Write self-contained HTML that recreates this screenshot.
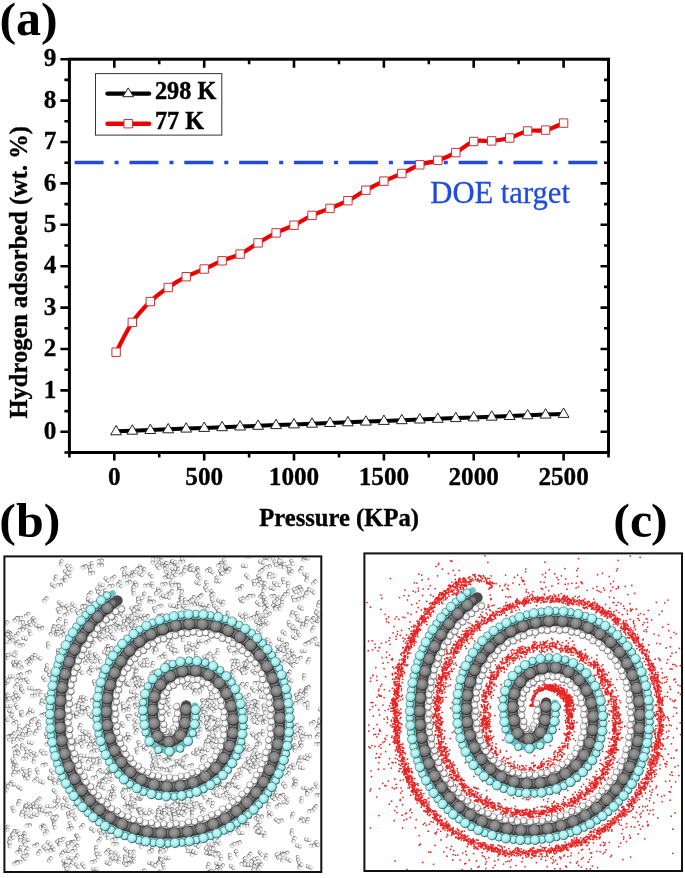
<!DOCTYPE html>
<html><head><meta charset="utf-8"><style>
html,body{margin:0;padding:0;background:#fff;width:685px;height:878px;overflow:hidden;}
svg{display:block;font-family:"Liberation Serif",serif;will-change:transform;filter:blur(0.4px);}
</style></head><body><svg width="685" height="878" viewBox="0 0 685 878"><line x1="74.6" y1="162.5" x2="607" y2="162.5" stroke="#1f4be0" stroke-width="3.7" stroke-dasharray="29 11 4 10.86"/>
<rect x="69.4" y="59.2" width="539.1" height="393.3" fill="none" stroke="#000" stroke-width="3"/>
<path d="M69.4,452.5V457.5M69.4,59.2V64.2M114.3,452.5V460.5M114.3,59.2V67.7M159.2,452.5V457.5M159.2,59.2V64.2M204.2,452.5V460.5M204.2,59.2V67.7M249.1,452.5V457.5M249.1,59.2V64.2M294,452.5V460.5M294,59.2V67.7M339,452.5V457.5M339,59.2V64.2M383.9,452.5V460.5M383.9,59.2V67.7M428.8,452.5V457.5M428.8,59.2V64.2M473.7,452.5V460.5M473.7,59.2V67.7M518.6,452.5V457.5M518.6,59.2V64.2M563.6,452.5V460.5M563.6,59.2V67.7M608.5,452.5V457.5M608.5,59.2V64.2M69.4,452.5H64.4M608.5,452.5H604M69.4,431.8H60.4M608.5,431.8H600.5M69.4,411.1H64.4M608.5,411.1H604M69.4,390.4H60.4M608.5,390.4H600.5M69.4,369.7H64.4M608.5,369.7H604M69.4,349H60.4M608.5,349H600.5M69.4,328.3H64.4M608.5,328.3H604M69.4,307.6H60.4M608.5,307.6H600.5M69.4,286.9H64.4M608.5,286.9H604M69.4,266.2H60.4M608.5,266.2H600.5M69.4,245.5H64.4M608.5,245.5H604M69.4,224.8H60.4M608.5,224.8H600.5M69.4,204.1H64.4M608.5,204.1H604M69.4,183.4H60.4M608.5,183.4H600.5M69.4,162.7H64.4M608.5,162.7H604M69.4,142H60.4M608.5,142H600.5M69.4,121.3H64.4M608.5,121.3H604M69.4,100.6H60.4M608.5,100.6H600.5M69.4,79.9H64.4M608.5,79.9H604M69.4,59.2H60.4M608.5,59.2H600.5" stroke="#000" stroke-width="2.6" fill="none"/>
<g font-family="Liberation Serif" font-weight="bold" font-size="24" fill="#000" stroke="#000" stroke-width="0.3"><text transform="translate(114.3,484.8) scale(1.05,1.04)" font-size="24" text-anchor="middle">0</text><text transform="translate(204.2,484.8) scale(1.05,1.04)" font-size="24" text-anchor="middle">500</text><text transform="translate(294,484.8) scale(1.05,1.04)" font-size="24" text-anchor="middle">1000</text><text transform="translate(383.9,484.8) scale(1.05,1.04)" font-size="24" text-anchor="middle">1500</text><text transform="translate(473.7,484.8) scale(1.05,1.04)" font-size="24" text-anchor="middle">2000</text><text transform="translate(563.6,484.8) scale(1.05,1.04)" font-size="24" text-anchor="middle">2500</text><text transform="translate(56.3,438.9) scale(1.05,1.05)" font-size="24" text-anchor="end">0</text><text transform="translate(56.3,397.5) scale(1.05,1.05)" font-size="24" text-anchor="end">1</text><text transform="translate(56.3,356.1) scale(1.05,1.05)" font-size="24" text-anchor="end">2</text><text transform="translate(56.3,314.7) scale(1.05,1.05)" font-size="24" text-anchor="end">3</text><text transform="translate(56.3,273.3) scale(1.05,1.05)" font-size="24" text-anchor="end">4</text><text transform="translate(56.3,231.9) scale(1.05,1.05)" font-size="24" text-anchor="end">5</text><text transform="translate(56.3,190.5) scale(1.05,1.05)" font-size="24" text-anchor="end">6</text><text transform="translate(56.3,149.1) scale(1.05,1.05)" font-size="24" text-anchor="end">7</text><text transform="translate(56.3,107.7) scale(1.05,1.05)" font-size="24" text-anchor="end">8</text><text transform="translate(56.3,66.3) scale(1.05,1.05)" font-size="24" text-anchor="end">9</text></g>
<g font-family="Liberation Serif" font-weight="bold" stroke="#000" stroke-width="0.35"><text transform="translate(339.1,525.5) scale(1.026,1.07)" font-size="24" text-anchor="middle">Pressure (KPa)</text></g>
<text transform="translate(27.3,272.3) rotate(-90) scale(1.022,1.08)" text-anchor="middle" font-family="Liberation Serif" font-weight="bold" font-size="24" stroke="#000" stroke-width="0.35">Hydrogen adsorbed (wt. %)</text>
<g font-family="Liberation Serif" fill="#1f4be0" stroke="#1f4be0" stroke-width="0.3"><text transform="translate(430.3,202.5) scale(1.02,1.05)" font-size="30">DOE target</text></g>
<path d="M116.1,431.3 132.3,430.7 150.3,430 168.2,429.3 186.2,428.6 204.2,427.9 222.1,427.2 240.1,426.5 258.1,425.8 276.1,425.1 294,424.4 312,423.7 330,423 347.9,422.3 365.9,421.6 383.9,420.9 401.8,420.2 419.8,419.5 437.8,418.8 455.8,418.1 473.7,417.4 491.7,416.7 509.7,416 527.6,415.3 545.6,414.6 563.6,413.9" stroke="#000" stroke-width="4" fill="none"/>
<path d="M116.1,425.4l5.4,9.4h-10.8zM132.3,424.8l5.4,9.4h-10.8zM150.3,424.1l5.4,9.4h-10.8zM168.2,423.4l5.4,9.4h-10.8zM186.2,422.7l5.4,9.4h-10.8zM204.2,422l5.4,9.4h-10.8zM222.1,421.3l5.4,9.4h-10.8zM240.1,420.6l5.4,9.4h-10.8zM258.1,419.9l5.4,9.4h-10.8zM276.1,419.2l5.4,9.4h-10.8zM294,418.5l5.4,9.4h-10.8zM312,417.8l5.4,9.4h-10.8zM330,417.1l5.4,9.4h-10.8zM347.9,416.4l5.4,9.4h-10.8zM365.9,415.7l5.4,9.4h-10.8zM383.9,415l5.4,9.4h-10.8zM401.8,414.3l5.4,9.4h-10.8zM419.8,413.6l5.4,9.4h-10.8zM437.8,412.9l5.4,9.4h-10.8zM455.8,412.2l5.4,9.4h-10.8zM473.7,411.5l5.4,9.4h-10.8zM491.7,410.8l5.4,9.4h-10.8zM509.7,410.1l5.4,9.4h-10.8zM527.6,409.4l5.4,9.4h-10.8zM545.6,408.7l5.4,9.4h-10.8zM563.6,408l5.4,9.4h-10.8z" fill="#fff" stroke="#222" stroke-width="1"/>
<path d="M116.1,352.2C118.8,347.2 126.6,330.8 132.3,322.4C138,314 144.3,307.4 150.3,301.6C156.3,295.8 162.2,291.6 168.2,287.5C174.2,283.4 180.2,279.8 186.2,276.7C192.2,273.6 198.2,271.6 204.2,269C210.2,266.4 216.2,263.3 222.1,260.8C228.1,258.3 234.1,257.1 240.1,254.1C246.1,251.1 252.1,246.4 258.1,242.9C264.1,239.4 270.1,235.9 276.1,232.9C282,229.9 288,228.1 294,225.2C300,222.3 306,218.2 312,215.4C318,212.6 324,210.9 330,208.4C336,205.9 341.9,203.7 347.9,200.7C353.9,197.7 359.9,193.5 365.9,190.2C371.9,186.9 377.9,183.9 383.9,181.1C389.9,178.3 395.9,176.2 401.8,173.5C407.8,170.8 413.8,167 419.8,164.8C425.8,162.6 431.8,162.4 437.8,160.4C443.8,158.4 449.8,155.8 455.8,152.6C461.7,149.4 467.7,143.4 473.7,141.5C479.7,139.6 485.7,141.5 491.7,140.9C497.7,140.3 503.7,139.7 509.7,138C515.7,136.3 521.6,132.3 527.6,131C533.6,129.7 539.6,131.4 545.6,130.1C551.6,128.8 560.6,124.3 563.6,123.1" stroke="#ee0000" stroke-width="4.2" fill="none" stroke-linejoin="round"/>
<path d="M111.9,348h8.4v8.4h-8.4zM128.1,318.2h8.4v8.4h-8.4zM146.1,297.4h8.4v8.4h-8.4zM164,283.3h8.4v8.4h-8.4zM182,272.5h8.4v8.4h-8.4zM200,264.8h8.4v8.4h-8.4zM217.9,256.6h8.4v8.4h-8.4zM235.9,249.9h8.4v8.4h-8.4zM253.9,238.7h8.4v8.4h-8.4zM271.9,228.7h8.4v8.4h-8.4zM289.8,221h8.4v8.4h-8.4zM307.8,211.2h8.4v8.4h-8.4zM325.8,204.2h8.4v8.4h-8.4zM343.7,196.5h8.4v8.4h-8.4zM361.7,186h8.4v8.4h-8.4zM379.7,176.9h8.4v8.4h-8.4zM397.6,169.3h8.4v8.4h-8.4zM415.6,160.6h8.4v8.4h-8.4zM433.6,156.2h8.4v8.4h-8.4zM451.6,148.4h8.4v8.4h-8.4zM469.5,137.3h8.4v8.4h-8.4zM487.5,136.7h8.4v8.4h-8.4zM505.5,133.8h8.4v8.4h-8.4zM523.4,126.8h8.4v8.4h-8.4zM541.4,125.9h8.4v8.4h-8.4zM559.4,118.9h8.4v8.4h-8.4z" fill="#fff" stroke="#cc3333" stroke-width="1"/>
<rect x="95.5" y="73.6" width="126.3" height="61.5" fill="#fff" stroke="#333" stroke-width="1"/>
<path d="M107.5,93.6H149.1" stroke="#000" stroke-width="4.4" stroke-linecap="round"/>
<path d="M128.2,87.9l5.4,8.8h-10.8z" fill="#fff" stroke="#222" stroke-width="1"/>
<path d="M107.5,123.7H149.1" stroke="#ee0000" stroke-width="4.4" stroke-linecap="round"/>
<path d="M124,119.5h8.4v8.4h-8.4z" fill="#fff" stroke="#cc3333" stroke-width="1"/>
<g font-family="Liberation Serif" font-weight="bold" stroke="#000" stroke-width="0.4"><text transform="translate(155,99.1) scale(1.01,1.06)" font-size="24">298 K</text><text transform="translate(155,129.3) scale(1.01,1.06)" font-size="24">77 K</text></g>
<g font-family="Liberation Serif" font-weight="bold"><text transform="translate(-0.5,34.5) scale(1.0,0.94)" font-size="50">(</text><text transform="translate(16.1,34.6) scale(1.0,1.0)" font-size="50">a</text><text transform="translate(41.1,34.5) scale(1.0,0.94)" font-size="50">)</text><text transform="translate(-0.7,535.6) scale(1.0,0.94)" font-size="50">(</text><text transform="translate(15.9,537.1) scale(1.0,0.953)" font-size="50">b</text><text transform="translate(43.8,535.6) scale(1.0,0.94)" font-size="50">)</text><text transform="translate(613.3,535.8) scale(1.0,0.94)" font-size="50">(</text><text transform="translate(629.9,536.8) scale(1.0,1.0)" font-size="50">c</text><text transform="translate(651.1,535.8) scale(1.0,0.94)" font-size="50">)</text></g><defs>
<radialGradient id="gc" cx="0.42" cy="0.4" r="0.6"><stop offset="0" stop-color="#d0fbfb"/><stop offset="0.6" stop-color="#a8eeee"/><stop offset="0.85" stop-color="#80cfd0"/><stop offset="1" stop-color="#225f62"/></radialGradient>
<radialGradient id="gg" cx="0.45" cy="0.4" r="0.6"><stop offset="0" stop-color="#a0a0a0"/><stop offset="0.6" stop-color="#7e7e7e"/><stop offset="0.85" stop-color="#626262"/><stop offset="1" stop-color="#262626"/></radialGradient>
<radialGradient id="gg2" cx="0.45" cy="0.4" r="0.6"><stop offset="0" stop-color="#8a8a8a"/><stop offset="0.6" stop-color="#6c6c6c"/><stop offset="1" stop-color="#353535"/></radialGradient>
<radialGradient id="gw" cx="0.45" cy="0.4" r="0.6"><stop offset="0" stop-color="#ffffff"/><stop offset="0.65" stop-color="#f2f2f2"/><stop offset="1" stop-color="#6e6e6e"/></radialGradient>
<circle id="ac" r="4.8" fill="url(#gc)" stroke="#1d5557" stroke-width="0.7" stroke-opacity="0.7"/>
<circle id="ac2" r="3.9" fill="url(#gc)" stroke="#1d5557" stroke-width="0.7" stroke-opacity="0.7"/>
<circle id="ag" r="5.9" fill="url(#gg)" stroke="#222" stroke-width="0.7" stroke-opacity="0.7"/>
<circle id="ag2" r="4.2" fill="url(#gg2)"/>
<circle id="aw" r="3.3" fill="url(#gw)" stroke="#555" stroke-width="0.6" stroke-opacity="0.6"/>
<radialGradient id="gm" cx="0.55" cy="0.4" r="0.6"><stop offset="0" stop-color="#ffffff"/><stop offset="0.45" stop-color="#ebebeb"/><stop offset="0.75" stop-color="#a8a8a8"/><stop offset="1" stop-color="#4a4a4a"/></radialGradient>
<g id="h2" fill="url(#gm)"><circle cx="-1.5" r="2.1"/><circle cx="1.5" r="2.1"/></g>
<clipPath id="cb"><rect x="5.4" y="557.4" width="314.9" height="313.6"/></clipPath>
<clipPath id="cc"><rect x="365.4" y="554.4" width="315.6" height="315.6"/></clipPath>
</defs>
<g clip-path="url(#cb)"><use href="#h2" transform="translate(128.3,738.1) rotate(91)"/><use href="#h2" transform="translate(172.7,563.1) rotate(148)"/><use href="#h2" transform="translate(181.7,561.7) rotate(170)"/><use href="#h2" transform="translate(173.5,561.6) rotate(12)"/><use href="#h2" transform="translate(176.2,564.6) rotate(30)"/><use href="#h2" transform="translate(159.5,758.8) rotate(118)"/><use href="#h2" transform="translate(87.8,732.2) rotate(14)"/><use href="#h2" transform="translate(170.2,592.8) rotate(0)"/><use href="#h2" transform="translate(253.3,733.7) rotate(11)"/><use href="#h2" transform="translate(258.4,691.6) rotate(179)"/><use href="#h2" transform="translate(160.7,563.5) rotate(35)"/><use href="#h2" transform="translate(277.4,855.9) rotate(64)"/><use href="#h2" transform="translate(24,857.6) rotate(43)"/><use href="#h2" transform="translate(25.6,855.6) rotate(174)"/><use href="#h2" transform="translate(61.1,626.7) rotate(23)"/><use href="#h2" transform="translate(61.6,627.2) rotate(8)"/><use href="#h2" transform="translate(125.9,859) rotate(105)"/><use href="#h2" transform="translate(6,623.4) rotate(138)"/><use href="#h2" transform="translate(208.4,728.2) rotate(19)"/><use href="#h2" transform="translate(260.3,816.9) rotate(168)"/><use href="#h2" transform="translate(69.9,857.8) rotate(10)"/><use href="#h2" transform="translate(324.1,767.2) rotate(178)"/><use href="#h2" transform="translate(47.9,743.6) rotate(149)"/><use href="#h2" transform="translate(94.6,682.7) rotate(66)"/><use href="#h2" transform="translate(186.1,648.3) rotate(81)"/><use href="#h2" transform="translate(30.8,658.5) rotate(135)"/><use href="#h2" transform="translate(273.2,574.9) rotate(37)"/><use href="#h2" transform="translate(270.8,575.2) rotate(49)"/><use href="#h2" transform="translate(173.9,561.9) rotate(19)"/><use href="#h2" transform="translate(161.2,558.8) rotate(79)"/><use href="#h2" transform="translate(312.8,591.4) rotate(42)"/><use href="#h2" transform="translate(158.4,872.7) rotate(140)"/><use href="#h2" transform="translate(158.1,876) rotate(128)"/><use href="#h2" transform="translate(242.1,599.8) rotate(123)"/><use href="#h2" transform="translate(290.7,660.6) rotate(58)"/><use href="#h2" transform="translate(12.4,640.2) rotate(4)"/><use href="#h2" transform="translate(324.7,797.8) rotate(51)"/><use href="#h2" transform="translate(14.6,763) rotate(37)"/><use href="#h2" transform="translate(142.8,815) rotate(177)"/><use href="#h2" transform="translate(139.5,810.2) rotate(46)"/><use href="#h2" transform="translate(151.2,810.9) rotate(34)"/><use href="#h2" transform="translate(132.3,852.6) rotate(142)"/><use href="#h2" transform="translate(253.3,718.6) rotate(123)"/><use href="#h2" transform="translate(35.8,732.2) rotate(110)"/><use href="#h2" transform="translate(259.6,630.7) rotate(34)"/><use href="#h2" transform="translate(274.1,795.7) rotate(127)"/><use href="#h2" transform="translate(273.2,798.2) rotate(36)"/><use href="#h2" transform="translate(89.8,568.5) rotate(83)"/><use href="#h2" transform="translate(84.2,567) rotate(159)"/><use href="#h2" transform="translate(91.8,564.9) rotate(82)"/><use href="#h2" transform="translate(30.6,752.9) rotate(72)"/><use href="#h2" transform="translate(24.8,758.6) rotate(179)"/><use href="#h2" transform="translate(106.7,638) rotate(145)"/><use href="#h2" transform="translate(263.1,550) rotate(119)"/><use href="#h2" transform="translate(266.1,557.9) rotate(8)"/><use href="#h2" transform="translate(46.8,666.8) rotate(95)"/><use href="#h2" transform="translate(296,736.5) rotate(99)"/><use href="#h2" transform="translate(295.3,728.2) rotate(150)"/><use href="#h2" transform="translate(206.4,704.5) rotate(88)"/><use href="#h2" transform="translate(292.1,613.9) rotate(107)"/><use href="#h2" transform="translate(296.7,599.8) rotate(174)"/><use href="#h2" transform="translate(8.3,681.2) rotate(111)"/><use href="#h2" transform="translate(18.1,679.2) rotate(142)"/><use href="#h2" transform="translate(308.5,660.7) rotate(118)"/><use href="#h2" transform="translate(299.2,658.5) rotate(156)"/><use href="#h2" transform="translate(242.3,668.9) rotate(155)"/><use href="#h2" transform="translate(58.2,651.7) rotate(83)"/><use href="#h2" transform="translate(184.3,808) rotate(55)"/><use href="#h2" transform="translate(176.4,813.4) rotate(163)"/><use href="#h2" transform="translate(182.6,813.8) rotate(49)"/><use href="#h2" transform="translate(181.5,806.3) rotate(36)"/><use href="#h2" transform="translate(28.3,825.5) rotate(177)"/><use href="#h2" transform="translate(125.4,863.8) rotate(39)"/><use href="#h2" transform="translate(203.8,756.7) rotate(150)"/><use href="#h2" transform="translate(93.2,760.2) rotate(73)"/><use href="#h2" transform="translate(46.5,735.3) rotate(72)"/><use href="#h2" transform="translate(62.7,806.4) rotate(85)"/><use href="#h2" transform="translate(67.7,806.1) rotate(26)"/><use href="#h2" transform="translate(69.8,843.2) rotate(143)"/><use href="#h2" transform="translate(73.8,850.6) rotate(152)"/><use href="#h2" transform="translate(293,655.2) rotate(61)"/><use href="#h2" transform="translate(261.4,595.4) rotate(129)"/><use href="#h2" transform="translate(260.9,584.1) rotate(121)"/><use href="#h2" transform="translate(292.5,815.2) rotate(110)"/><use href="#h2" transform="translate(212.1,592.4) rotate(65)"/><use href="#h2" transform="translate(203,607.9) rotate(173)"/><use href="#h2" transform="translate(132.4,691.8) rotate(12)"/><use href="#h2" transform="translate(90.4,672.2) rotate(71)"/><use href="#h2" transform="translate(89.5,670.9) rotate(127)"/><use href="#h2" transform="translate(134.5,609.8) rotate(88)"/><use href="#h2" transform="translate(140.2,604.1) rotate(106)"/><use href="#h2" transform="translate(99.6,840) rotate(128)"/><use href="#h2" transform="translate(160.4,850.5) rotate(106)"/><use href="#h2" transform="translate(132.6,615.7) rotate(161)"/><use href="#h2" transform="translate(296.6,696.3) rotate(78)"/><use href="#h2" transform="translate(98.8,853.4) rotate(30)"/><use href="#h2" transform="translate(96.2,848.6) rotate(96)"/><use href="#h2" transform="translate(173.5,804.6) rotate(145)"/><use href="#h2" transform="translate(183,807.6) rotate(161)"/><use href="#h2" transform="translate(300.6,744.2) rotate(72)"/><use href="#h2" transform="translate(90.1,736.6) rotate(44)"/><use href="#h2" transform="translate(230.1,856.6) rotate(80)"/><use href="#h2" transform="translate(284.8,784.7) rotate(58)"/><use href="#h2" transform="translate(19.8,787.7) rotate(30)"/><use href="#h2" transform="translate(12.6,783.3) rotate(45)"/><use href="#h2" transform="translate(280,660) rotate(6)"/><use href="#h2" transform="translate(215.1,792.2) rotate(108)"/><use href="#h2" transform="translate(227.7,614.4) rotate(90)"/><use href="#h2" transform="translate(108.5,654.8) rotate(103)"/><use href="#h2" transform="translate(164.9,565) rotate(158)"/><use href="#h2" transform="translate(141.1,567.2) rotate(34)"/><use href="#h2" transform="translate(135.5,705.8) rotate(68)"/><use href="#h2" transform="translate(16.9,772.4) rotate(171)"/><use href="#h2" transform="translate(13.5,773.4) rotate(110)"/><use href="#h2" transform="translate(14,766) rotate(106)"/><use href="#h2" transform="translate(219.4,784.1) rotate(144)"/><use href="#h2" transform="translate(218.7,787.8) rotate(161)"/><use href="#h2" transform="translate(256.7,713.4) rotate(86)"/><use href="#h2" transform="translate(256,706.4) rotate(61)"/><use href="#h2" transform="translate(248.4,708.6) rotate(116)"/><use href="#h2" transform="translate(163.3,811.6) rotate(6)"/><use href="#h2" transform="translate(112.2,858.6) rotate(144)"/><use href="#h2" transform="translate(128.9,716.5) rotate(153)"/><use href="#h2" transform="translate(296.2,726.1) rotate(131)"/><use href="#h2" transform="translate(68.5,815.1) rotate(76)"/><use href="#h2" transform="translate(75.9,806.5) rotate(166)"/><use href="#h2" transform="translate(73.4,812.3) rotate(85)"/><use href="#h2" transform="translate(82,826.3) rotate(134)"/><use href="#h2" transform="translate(74.7,817.2) rotate(64)"/><use href="#h2" transform="translate(258.1,735.2) rotate(148)"/><use href="#h2" transform="translate(258.2,744) rotate(172)"/><use href="#h2" transform="translate(169.8,647.2) rotate(36)"/><use href="#h2" transform="translate(173,647.5) rotate(87)"/><use href="#h2" transform="translate(82.5,739.7) rotate(139)"/><use href="#h2" transform="translate(230.5,784.7) rotate(123)"/><use href="#h2" transform="translate(229.8,786.4) rotate(159)"/><use href="#h2" transform="translate(263.1,732.9) rotate(81)"/><use href="#h2" transform="translate(262.8,721.3) rotate(87)"/><use href="#h2" transform="translate(123.2,791.1) rotate(117)"/><use href="#h2" transform="translate(168.1,573) rotate(45)"/><use href="#h2" transform="translate(173.9,569) rotate(1)"/><use href="#h2" transform="translate(89.4,657.1) rotate(44)"/><use href="#h2" transform="translate(301,569.6) rotate(120)"/><use href="#h2" transform="translate(306.7,578.8) rotate(102)"/><use href="#h2" transform="translate(274.2,606.6) rotate(54)"/><use href="#h2" transform="translate(95.1,741.2) rotate(113)"/><use href="#h2" transform="translate(21.2,688.1) rotate(93)"/><use href="#h2" transform="translate(101.2,781.2) rotate(5)"/><use href="#h2" transform="translate(98.2,786.3) rotate(111)"/><use href="#h2" transform="translate(277.7,652.5) rotate(109)"/><use href="#h2" transform="translate(278.5,647.8) rotate(47)"/><use href="#h2" transform="translate(313.1,620.6) rotate(84)"/><use href="#h2" transform="translate(279.4,607.3) rotate(81)"/><use href="#h2" transform="translate(298.4,587.7) rotate(151)"/><use href="#h2" transform="translate(264.3,584.5) rotate(111)"/><use href="#h2" transform="translate(264.1,589) rotate(111)"/><use href="#h2" transform="translate(306.9,619.6) rotate(100)"/><use href="#h2" transform="translate(110.5,652.1) rotate(125)"/><use href="#h2" transform="translate(217.6,651.5) rotate(96)"/><use href="#h2" transform="translate(11.4,676.4) rotate(2)"/><use href="#h2" transform="translate(13.8,760.6) rotate(39)"/><use href="#h2" transform="translate(45.4,599.6) rotate(135)"/><use href="#h2" transform="translate(18.8,802.6) rotate(114)"/><use href="#h2" transform="translate(194.7,753.5) rotate(22)"/><use href="#h2" transform="translate(162.6,851.7) rotate(168)"/><use href="#h2" transform="translate(221.1,564.4) rotate(96)"/><use href="#h2" transform="translate(224.3,572.8) rotate(137)"/><use href="#h2" transform="translate(93.2,861.8) rotate(165)"/><use href="#h2" transform="translate(165.1,655.4) rotate(74)"/><use href="#h2" transform="translate(145.4,748.5) rotate(137)"/><use href="#h2" transform="translate(101.2,584.7) rotate(13)"/><use href="#h2" transform="translate(24.7,638.3) rotate(11)"/><use href="#h2" transform="translate(249.6,748.2) rotate(5)"/><use href="#h2" transform="translate(80.5,757.2) rotate(74)"/><use href="#h2" transform="translate(190.6,765.7) rotate(166)"/><use href="#h2" transform="translate(38.7,724.3) rotate(43)"/><use href="#h2" transform="translate(256.8,817.2) rotate(132)"/><use href="#h2" transform="translate(311.4,790.2) rotate(136)"/><use href="#h2" transform="translate(307.4,793) rotate(91)"/><use href="#h2" transform="translate(128.1,684.5) rotate(14)"/><use href="#h2" transform="translate(206,708.4) rotate(57)"/><use href="#h2" transform="translate(107.2,647.5) rotate(126)"/><use href="#h2" transform="translate(275.9,607.1) rotate(114)"/><use href="#h2" transform="translate(276.3,600.4) rotate(118)"/><use href="#h2" transform="translate(6.8,697.3) rotate(8)"/><use href="#h2" transform="translate(8.9,706.1) rotate(1)"/><use href="#h2" transform="translate(210.4,718.4) rotate(63)"/><use href="#h2" transform="translate(304.3,558.2) rotate(119)"/><use href="#h2" transform="translate(306,557.8) rotate(19)"/><use href="#h2" transform="translate(150.8,862.9) rotate(0)"/><use href="#h2" transform="translate(22.5,690.6) rotate(54)"/><use href="#h2" transform="translate(318.1,795.2) rotate(172)"/><use href="#h2" transform="translate(198.3,644.2) rotate(115)"/><use href="#h2" transform="translate(198.7,692.7) rotate(163)"/><use href="#h2" transform="translate(253.1,689.3) rotate(51)"/><use href="#h2" transform="translate(246.4,685.5) rotate(116)"/><use href="#h2" transform="translate(250.9,762.2) rotate(96)"/><use href="#h2" transform="translate(249.9,762.6) rotate(41)"/><use href="#h2" transform="translate(256.4,755.3) rotate(167)"/><use href="#h2" transform="translate(96.1,761.6) rotate(104)"/><use href="#h2" transform="translate(97.7,760) rotate(127)"/><use href="#h2" transform="translate(240.9,587.2) rotate(134)"/><use href="#h2" transform="translate(88.8,760.7) rotate(126)"/><use href="#h2" transform="translate(21.1,645.4) rotate(166)"/><use href="#h2" transform="translate(176.9,583.9) rotate(17)"/><use href="#h2" transform="translate(92.8,751.3) rotate(141)"/><use href="#h2" transform="translate(96.3,749) rotate(69)"/><use href="#h2" transform="translate(33.4,719.6) rotate(151)"/><use href="#h2" transform="translate(278.1,805.9) rotate(145)"/><use href="#h2" transform="translate(175.7,606.5) rotate(17)"/><use href="#h2" transform="translate(184.1,606.5) rotate(138)"/><use href="#h2" transform="translate(135.1,726.8) rotate(70)"/><use href="#h2" transform="translate(136.5,731.5) rotate(127)"/><use href="#h2" transform="translate(318.8,603.9) rotate(105)"/><use href="#h2" transform="translate(246.6,615.1) rotate(31)"/><use href="#h2" transform="translate(241.1,615.6) rotate(38)"/><use href="#h2" transform="translate(145.2,660.1) rotate(164)"/><use href="#h2" transform="translate(315.2,807.4) rotate(130)"/><use href="#h2" transform="translate(310.6,811) rotate(168)"/><use href="#h2" transform="translate(212.4,717.4) rotate(41)"/><use href="#h2" transform="translate(294,628) rotate(67)"/><use href="#h2" transform="translate(291.4,626.2) rotate(51)"/><use href="#h2" transform="translate(294.4,631.1) rotate(177)"/><use href="#h2" transform="translate(299,620.1) rotate(20)"/><use href="#h2" transform="translate(309.2,866.8) rotate(22)"/><use href="#h2" transform="translate(300.2,866.1) rotate(114)"/><use href="#h2" transform="translate(269.4,814.7) rotate(110)"/><use href="#h2" transform="translate(207.9,853.4) rotate(15)"/><use href="#h2" transform="translate(207.5,849.1) rotate(25)"/><use href="#h2" transform="translate(191.5,649) rotate(4)"/><use href="#h2" transform="translate(196.2,654.5) rotate(86)"/><use href="#h2" transform="translate(87.1,606.2) rotate(16)"/><use href="#h2" transform="translate(84.3,607.7) rotate(113)"/><use href="#h2" transform="translate(71.1,609.1) rotate(53)"/><use href="#h2" transform="translate(152.3,584.9) rotate(77)"/><use href="#h2" transform="translate(146.3,585.6) rotate(175)"/><use href="#h2" transform="translate(90.6,654) rotate(79)"/><use href="#h2" transform="translate(178.9,587.7) rotate(82)"/><use href="#h2" transform="translate(170.9,592.4) rotate(127)"/><use href="#h2" transform="translate(180.1,590.9) rotate(179)"/><use href="#h2" transform="translate(142,679.9) rotate(68)"/><use href="#h2" transform="translate(138.8,680.7) rotate(130)"/><use href="#h2" transform="translate(264.5,720.2) rotate(56)"/><use href="#h2" transform="translate(206,657) rotate(15)"/><use href="#h2" transform="translate(304.5,733.7) rotate(25)"/><use href="#h2" transform="translate(289.1,673) rotate(123)"/><use href="#h2" transform="translate(107.4,851.4) rotate(136)"/><use href="#h2" transform="translate(55.7,632.9) rotate(76)"/><use href="#h2" transform="translate(259,756) rotate(153)"/><use href="#h2" transform="translate(256.4,760.9) rotate(146)"/><use href="#h2" transform="translate(200.7,688.9) rotate(133)"/><use href="#h2" transform="translate(200.8,689.4) rotate(151)"/><use href="#h2" transform="translate(212.2,849) rotate(11)"/><use href="#h2" transform="translate(174.1,573.9) rotate(44)"/><use href="#h2" transform="translate(166.2,577.1) rotate(156)"/><use href="#h2" transform="translate(306.8,643.5) rotate(147)"/><use href="#h2" transform="translate(160.9,859.1) rotate(52)"/><use href="#h2" transform="translate(238.5,842.8) rotate(163)"/><use href="#h2" transform="translate(15,754.5) rotate(82)"/><use href="#h2" transform="translate(300.5,692.3) rotate(94)"/><use href="#h2" transform="translate(279.7,562.3) rotate(119)"/><use href="#h2" transform="translate(279.6,565.5) rotate(150)"/><use href="#h2" transform="translate(275.2,563.1) rotate(66)"/><use href="#h2" transform="translate(14.2,664.1) rotate(90)"/><use href="#h2" transform="translate(14.2,663.7) rotate(55)"/><use href="#h2" transform="translate(248.4,597) rotate(130)"/><use href="#h2" transform="translate(136.7,705.1) rotate(163)"/><use href="#h2" transform="translate(112.9,857.8) rotate(62)"/><use href="#h2" transform="translate(168.5,645.5) rotate(118)"/><use href="#h2" transform="translate(76.7,715.3) rotate(114)"/><use href="#h2" transform="translate(67.2,876.3) rotate(165)"/><use href="#h2" transform="translate(67.1,872.3) rotate(12)"/><use href="#h2" transform="translate(25.3,807) rotate(100)"/><use href="#h2" transform="translate(206.7,583.7) rotate(69)"/><use href="#h2" transform="translate(-2.8,727.6) rotate(137)"/><use href="#h2" transform="translate(81.5,610.4) rotate(148)"/><use href="#h2" transform="translate(249,711.8) rotate(96)"/><use href="#h2" transform="translate(6.9,784.7) rotate(6)"/><use href="#h2" transform="translate(130.9,617.8) rotate(139)"/><use href="#h2" transform="translate(84.8,732.6) rotate(45)"/><use href="#h2" transform="translate(207.5,722.7) rotate(22)"/><use href="#h2" transform="translate(207.2,724) rotate(25)"/><use href="#h2" transform="translate(53.2,848.3) rotate(55)"/><use href="#h2" transform="translate(58.2,842.9) rotate(59)"/><use href="#h2" transform="translate(255.8,754.1) rotate(33)"/><use href="#h2" transform="translate(153.9,561.6) rotate(141)"/><use href="#h2" transform="translate(154.6,558.8) rotate(177)"/><use href="#h2" transform="translate(17.9,695.7) rotate(33)"/><use href="#h2" transform="translate(167.9,596.5) rotate(37)"/><use href="#h2" transform="translate(171.8,605.6) rotate(5)"/><use href="#h2" transform="translate(133.5,621.5) rotate(146)"/><use href="#h2" transform="translate(49,843.4) rotate(34)"/><use href="#h2" transform="translate(109.2,772.8) rotate(116)"/><use href="#h2" transform="translate(152.4,767.2) rotate(72)"/><use href="#h2" transform="translate(156.1,767.7) rotate(40)"/><use href="#h2" transform="translate(237.1,786.7) rotate(21)"/><use href="#h2" transform="translate(231.2,796.8) rotate(5)"/><use href="#h2" transform="translate(227.6,792.9) rotate(45)"/><use href="#h2" transform="translate(225.6,788.2) rotate(128)"/><use href="#h2" transform="translate(229.7,797.7) rotate(70)"/><use href="#h2" transform="translate(22.4,680.3) rotate(167)"/><use href="#h2" transform="translate(19.5,675.1) rotate(160)"/><use href="#h2" transform="translate(255.5,748.6) rotate(122)"/><use href="#h2" transform="translate(253.8,756) rotate(45)"/><use href="#h2" transform="translate(102.2,634.2) rotate(164)"/><use href="#h2" transform="translate(99.6,638.2) rotate(51)"/><use href="#h2" transform="translate(138.8,568.5) rotate(161)"/><use href="#h2" transform="translate(152.8,664.4) rotate(104)"/><use href="#h2" transform="translate(152.8,672.9) rotate(146)"/><use href="#h2" transform="translate(201.3,806.6) rotate(80)"/><use href="#h2" transform="translate(191.8,810.4) rotate(91)"/><use href="#h2" transform="translate(140.7,677.6) rotate(14)"/><use href="#h2" transform="translate(138.4,685) rotate(30)"/><use href="#h2" transform="translate(77,705.1) rotate(166)"/><use href="#h2" transform="translate(79.5,708.5) rotate(137)"/><use href="#h2" transform="translate(298.7,845.9) rotate(19)"/><use href="#h2" transform="translate(291.9,832.1) rotate(97)"/><use href="#h2" transform="translate(136.6,678.5) rotate(57)"/><use href="#h2" transform="translate(43.1,714.7) rotate(157)"/><use href="#h2" transform="translate(9.6,844.6) rotate(83)"/><use href="#h2" transform="translate(307.7,706.3) rotate(76)"/><use href="#h2" transform="translate(321.5,709.4) rotate(3)"/><use href="#h2" transform="translate(103.7,780) rotate(173)"/><use href="#h2" transform="translate(233.6,660.8) rotate(174)"/><use href="#h2" transform="translate(235.4,652.8) rotate(162)"/><use href="#h2" transform="translate(249.6,855) rotate(128)"/><use href="#h2" transform="translate(245,860.1) rotate(81)"/><use href="#h2" transform="translate(58,800.9) rotate(129)"/><use href="#h2" transform="translate(317.6,735.8) rotate(124)"/><use href="#h2" transform="translate(15.5,833.4) rotate(106)"/><use href="#h2" transform="translate(9.6,840.2) rotate(95)"/><use href="#h2" transform="translate(259.3,576.9) rotate(56)"/><use href="#h2" transform="translate(261.2,571.1) rotate(143)"/><use href="#h2" transform="translate(25.4,774.9) rotate(11)"/><use href="#h2" transform="translate(26.7,777.8) rotate(160)"/><use href="#h2" transform="translate(233.6,784.7) rotate(9)"/><use href="#h2" transform="translate(283.4,852.8) rotate(9)"/><use href="#h2" transform="translate(263.2,569.4) rotate(143)"/><use href="#h2" transform="translate(13.2,809.4) rotate(69)"/><use href="#h2" transform="translate(29.7,805.1) rotate(54)"/><use href="#h2" transform="translate(218.8,841.9) rotate(62)"/><use href="#h2" transform="translate(142.6,809.9) rotate(33)"/><use href="#h2" transform="translate(139.1,811) rotate(66)"/><use href="#h2" transform="translate(199.4,724) rotate(153)"/><use href="#h2" transform="translate(105.4,628.9) rotate(142)"/><use href="#h2" transform="translate(189.2,601.7) rotate(148)"/><use href="#h2" transform="translate(181,599.8) rotate(73)"/><use href="#h2" transform="translate(110.3,791.6) rotate(175)"/><use href="#h2" transform="translate(110.9,795.6) rotate(106)"/><use href="#h2" transform="translate(7.4,633.1) rotate(129)"/><use href="#h2" transform="translate(8.9,634.1) rotate(156)"/><use href="#h2" transform="translate(71.3,813.4) rotate(82)"/><use href="#h2" transform="translate(256.4,703.1) rotate(76)"/><use href="#h2" transform="translate(247.8,696.1) rotate(136)"/><use href="#h2" transform="translate(93.3,699.6) rotate(149)"/><use href="#h2" transform="translate(51,778) rotate(14)"/><use href="#h2" transform="translate(212.7,735.8) rotate(3)"/><use href="#h2" transform="translate(212.1,736.5) rotate(168)"/><use href="#h2" transform="translate(210.9,735.5) rotate(7)"/><use href="#h2" transform="translate(233.4,670.9) rotate(139)"/><use href="#h2" transform="translate(143.9,595.2) rotate(106)"/><use href="#h2" transform="translate(5.7,684.3) rotate(120)"/><use href="#h2" transform="translate(124.2,797.1) rotate(39)"/><use href="#h2" transform="translate(201.5,748.4) rotate(3)"/><use href="#h2" transform="translate(261.5,620) rotate(8)"/><use href="#h2" transform="translate(266.7,622.4) rotate(49)"/><use href="#h2" transform="translate(257.2,614.7) rotate(103)"/><use href="#h2" transform="translate(261.8,618.9) rotate(59)"/><use href="#h2" transform="translate(268.6,614.5) rotate(144)"/><use href="#h2" transform="translate(128.3,582.5) rotate(159)"/><use href="#h2" transform="translate(135.9,583.9) rotate(52)"/><use href="#h2" transform="translate(109.5,770) rotate(34)"/><use href="#h2" transform="translate(140.2,597.9) rotate(9)"/><use href="#h2" transform="translate(138.2,600.4) rotate(81)"/><use href="#h2" transform="translate(187.4,806) rotate(23)"/><use href="#h2" transform="translate(301.6,799.8) rotate(94)"/><use href="#h2" transform="translate(265.4,606.1) rotate(137)"/><use href="#h2" transform="translate(263.9,598.2) rotate(28)"/><use href="#h2" transform="translate(266,610.5) rotate(127)"/><use href="#h2" transform="translate(156.6,864.2) rotate(147)"/><use href="#h2" transform="translate(184.6,607.2) rotate(44)"/><use href="#h2" transform="translate(211.4,853.5) rotate(28)"/><use href="#h2" transform="translate(213.6,847.1) rotate(116)"/><use href="#h2" transform="translate(216.1,854.3) rotate(98)"/><use href="#h2" transform="translate(218.1,611.6) rotate(78)"/><use href="#h2" transform="translate(219.7,601.1) rotate(30)"/><use href="#h2" transform="translate(213.2,602) rotate(67)"/><use href="#h2" transform="translate(218,609.2) rotate(62)"/><use href="#h2" transform="translate(41.8,781.8) rotate(17)"/><use href="#h2" transform="translate(308.4,736.8) rotate(176)"/><use href="#h2" transform="translate(30.3,815.9) rotate(20)"/><use href="#h2" transform="translate(25.8,815.1) rotate(87)"/><use href="#h2" transform="translate(153.5,758.4) rotate(57)"/><use href="#h2" transform="translate(27,776.9) rotate(58)"/><use href="#h2" transform="translate(184,766.9) rotate(35)"/><use href="#h2" transform="translate(180.7,761.9) rotate(51)"/><use href="#h2" transform="translate(288.2,584.6) rotate(92)"/><use href="#h2" transform="translate(208.2,569.8) rotate(142)"/><use href="#h2" transform="translate(211.4,571.5) rotate(30)"/><use href="#h2" transform="translate(110.2,650.7) rotate(12)"/><use href="#h2" transform="translate(189.3,851.3) rotate(3)"/><use href="#h2" transform="translate(199.6,843.1) rotate(107)"/><use href="#h2" transform="translate(76.1,741.9) rotate(75)"/><use href="#h2" transform="translate(151.8,849.8) rotate(96)"/><use href="#h2" transform="translate(150.5,850.9) rotate(154)"/><use href="#h2" transform="translate(209.7,706) rotate(149)"/><use href="#h2" transform="translate(213,701.7) rotate(136)"/><use href="#h2" transform="translate(206.5,700.6) rotate(152)"/><use href="#h2" transform="translate(135.4,614.9) rotate(2)"/><use href="#h2" transform="translate(302.4,625.4) rotate(110)"/><use href="#h2" transform="translate(65.1,864) rotate(118)"/><use href="#h2" transform="translate(62,853.9) rotate(124)"/><use href="#h2" transform="translate(19.4,617.9) rotate(175)"/><use href="#h2" transform="translate(23,627.4) rotate(124)"/><use href="#h2" transform="translate(25,626) rotate(43)"/><use href="#h2" transform="translate(21.4,622.2) rotate(173)"/><use href="#h2" transform="translate(298.7,732.7) rotate(153)"/><use href="#h2" transform="translate(39.6,811) rotate(85)"/><use href="#h2" transform="translate(41.3,807.2) rotate(42)"/><use href="#h2" transform="translate(43.6,810.7) rotate(16)"/><use href="#h2" transform="translate(285.3,644.5) rotate(178)"/><use href="#h2" transform="translate(281.5,648.2) rotate(97)"/><use href="#h2" transform="translate(99,771.3) rotate(135)"/><use href="#h2" transform="translate(240.5,774.4) rotate(98)"/><use href="#h2" transform="translate(249.8,770.1) rotate(59)"/><use href="#h2" transform="translate(110.6,778.5) rotate(46)"/><use href="#h2" transform="translate(251.7,596) rotate(174)"/><use href="#h2" transform="translate(164.7,849.7) rotate(161)"/><use href="#h2" transform="translate(8.2,699.2) rotate(162)"/><use href="#h2" transform="translate(33,620.9) rotate(75)"/><use href="#h2" transform="translate(70.4,824.5) rotate(65)"/><use href="#h2" transform="translate(70.1,828.7) rotate(162)"/><use href="#h2" transform="translate(89.5,745.5) rotate(119)"/><use href="#h2" transform="translate(168.9,713.1) rotate(70)"/><use href="#h2" transform="translate(227.9,569.2) rotate(11)"/><use href="#h2" transform="translate(226.7,568) rotate(8)"/><use href="#h2" transform="translate(20.3,848.9) rotate(106)"/><use href="#h2" transform="translate(195.9,807.2) rotate(134)"/><use href="#h2" transform="translate(275.6,602.8) rotate(36)"/><use href="#h2" transform="translate(123.8,568.8) rotate(155)"/><use href="#h2" transform="translate(17.2,663) rotate(51)"/><use href="#h2" transform="translate(82.2,698.3) rotate(49)"/><use href="#h2" transform="translate(12.6,784) rotate(6)"/><use href="#h2" transform="translate(245.3,750.5) rotate(123)"/><use href="#h2" transform="translate(100.3,565.3) rotate(177)"/><use href="#h2" transform="translate(62,608.2) rotate(172)"/><use href="#h2" transform="translate(60.4,603.3) rotate(34)"/><use href="#h2" transform="translate(67.3,607.3) rotate(61)"/><use href="#h2" transform="translate(207.4,728.1) rotate(66)"/><use href="#h2" transform="translate(214.1,718.7) rotate(17)"/><use href="#h2" transform="translate(218.2,723.5) rotate(109)"/><use href="#h2" transform="translate(305.9,703.5) rotate(148)"/><use href="#h2" transform="translate(297.3,702.6) rotate(158)"/><use href="#h2" transform="translate(247.1,663.3) rotate(117)"/><use href="#h2" transform="translate(121.6,614.7) rotate(45)"/><use href="#h2" transform="translate(163.7,866.3) rotate(66)"/><use href="#h2" transform="translate(136.2,613.1) rotate(131)"/><use href="#h2" transform="translate(210.4,729.5) rotate(50)"/><use href="#h2" transform="translate(214.8,728.5) rotate(79)"/><use href="#h2" transform="translate(214.8,739.7) rotate(175)"/><use href="#h2" transform="translate(37.4,771) rotate(64)"/><use href="#h2" transform="translate(123.8,622.6) rotate(84)"/><use href="#h2" transform="translate(122.8,628.3) rotate(72)"/><use href="#h2" transform="translate(127.7,624.2) rotate(136)"/><use href="#h2" transform="translate(264.3,601.2) rotate(88)"/><use href="#h2" transform="translate(258.4,603.4) rotate(39)"/><use href="#h2" transform="translate(66.9,850.7) rotate(4)"/><use href="#h2" transform="translate(42.6,827) rotate(178)"/><use href="#h2" transform="translate(70.7,568) rotate(69)"/><use href="#h2" transform="translate(69.3,574.6) rotate(67)"/><use href="#h2" transform="translate(220.8,857.5) rotate(78)"/><use href="#h2" transform="translate(218.5,866.6) rotate(153)"/><use href="#h2" transform="translate(221.8,866.3) rotate(141)"/><use href="#h2" transform="translate(181.6,596.8) rotate(90)"/><use href="#h2" transform="translate(265.2,598.3) rotate(49)"/><use href="#h2" transform="translate(167.7,806.3) rotate(49)"/><use href="#h2" transform="translate(163.3,812.8) rotate(43)"/><use href="#h2" transform="translate(165.4,810.5) rotate(127)"/><use href="#h2" transform="translate(190.7,686.9) rotate(35)"/><use href="#h2" transform="translate(206.3,749.5) rotate(23)"/><use href="#h2" transform="translate(127.4,626.9) rotate(73)"/><use href="#h2" transform="translate(16.2,694) rotate(51)"/><use href="#h2" transform="translate(6.5,700.8) rotate(145)"/><use href="#h2" transform="translate(127.2,790.1) rotate(169)"/><use href="#h2" transform="translate(27.9,660.6) rotate(144)"/><use href="#h2" transform="translate(39.1,657.6) rotate(30)"/><use href="#h2" transform="translate(30.1,662.7) rotate(119)"/><use href="#h2" transform="translate(279.6,797.3) rotate(117)"/><use href="#h2" transform="translate(66,614.5) rotate(150)"/><use href="#h2" transform="translate(177,762.8) rotate(73)"/><use href="#h2" transform="translate(87.4,768.7) rotate(8)"/><use href="#h2" transform="translate(162.7,597.1) rotate(162)"/><use href="#h2" transform="translate(197.1,602.9) rotate(57)"/><use href="#h2" transform="translate(167.1,857.8) rotate(7)"/><use href="#h2" transform="translate(160,860.5) rotate(112)"/><use href="#h2" transform="translate(162.5,861) rotate(35)"/><use href="#h2" transform="translate(282,566) rotate(162)"/><use href="#h2" transform="translate(196.9,569.6) rotate(112)"/><use href="#h2" transform="translate(198,573.9) rotate(67)"/><use href="#h2" transform="translate(196.9,571.4) rotate(143)"/><use href="#h2" transform="translate(198.8,577.2) rotate(46)"/><use href="#h2" transform="translate(132.7,800.7) rotate(154)"/><use href="#h2" transform="translate(127.2,807.2) rotate(129)"/><use href="#h2" transform="translate(130.5,809) rotate(54)"/><use href="#h2" transform="translate(35.1,753.8) rotate(28)"/><use href="#h2" transform="translate(51.7,633) rotate(129)"/><use href="#h2" transform="translate(214,731.6) rotate(169)"/><use href="#h2" transform="translate(56.2,801.3) rotate(3)"/><use href="#h2" transform="translate(126.3,849.8) rotate(45)"/><use href="#h2" transform="translate(125.1,858.1) rotate(88)"/><use href="#h2" transform="translate(137,697.2) rotate(94)"/><use href="#h2" transform="translate(280.9,598.4) rotate(33)"/><use href="#h2" transform="translate(287.9,592.8) rotate(101)"/><use href="#h2" transform="translate(78.6,742.1) rotate(15)"/><use href="#h2" transform="translate(84.5,741) rotate(5)"/><use href="#h2" transform="translate(172.6,810.8) rotate(16)"/><use href="#h2" transform="translate(167.9,812.3) rotate(36)"/><use href="#h2" transform="translate(294.1,746.8) rotate(102)"/><use href="#h2" transform="translate(294.9,748.9) rotate(96)"/><use href="#h2" transform="translate(300.5,746.9) rotate(132)"/><use href="#h2" transform="translate(247.8,746) rotate(32)"/><use href="#h2" transform="translate(210,702) rotate(146)"/><use href="#h2" transform="translate(204.7,707.2) rotate(127)"/><use href="#h2" transform="translate(22.3,738.8) rotate(125)"/><use href="#h2" transform="translate(19.6,731.1) rotate(157)"/><use href="#h2" transform="translate(82.3,704.7) rotate(123)"/><use href="#h2" transform="translate(84.6,712) rotate(109)"/><use href="#h2" transform="translate(86.4,708.9) rotate(146)"/><use href="#h2" transform="translate(134.2,805.4) rotate(117)"/><use href="#h2" transform="translate(15.6,654.1) rotate(93)"/><use href="#h2" transform="translate(183.3,761.4) rotate(98)"/><use href="#h2" transform="translate(116.2,622.1) rotate(24)"/><use href="#h2" transform="translate(49.8,859.6) rotate(124)"/><use href="#h2" transform="translate(57.6,632.6) rotate(74)"/><use href="#h2" transform="translate(58,627.5) rotate(98)"/><use href="#h2" transform="translate(15.8,862.9) rotate(142)"/><use href="#h2" transform="translate(19,862.4) rotate(158)"/><use href="#h2" transform="translate(295.5,661.4) rotate(19)"/><use href="#h2" transform="translate(37.8,625.8) rotate(16)"/><use href="#h2" transform="translate(213.4,595.5) rotate(95)"/><use href="#h2" transform="translate(211.6,597.1) rotate(80)"/><use href="#h2" transform="translate(208.1,607.3) rotate(116)"/><use href="#h2" transform="translate(215.3,607) rotate(41)"/><use href="#h2" transform="translate(301.9,737.9) rotate(65)"/><use href="#h2" transform="translate(312.4,845.6) rotate(172)"/><use href="#h2" transform="translate(317,843.6) rotate(61)"/><use href="#h2" transform="translate(240.3,769.2) rotate(156)"/><use href="#h2" transform="translate(233.7,779.1) rotate(121)"/><use href="#h2" transform="translate(203,811.1) rotate(122)"/><use href="#h2" transform="translate(242.3,669.9) rotate(171)"/><use href="#h2" transform="translate(246.3,666.7) rotate(40)"/><use href="#h2" transform="translate(300.9,759.1) rotate(79)"/><use href="#h2" transform="translate(308.7,755.4) rotate(10)"/><use href="#h2" transform="translate(278.1,584.2) rotate(31)"/><use href="#h2" transform="translate(93.1,643.9) rotate(130)"/><use href="#h2" transform="translate(113.4,797.4) rotate(136)"/><use href="#h2" transform="translate(294.1,839.7) rotate(108)"/><use href="#h2" transform="translate(238.3,589.2) rotate(164)"/><use href="#h2" transform="translate(291.8,664.4) rotate(46)"/><use href="#h2" transform="translate(44.3,678.8) rotate(44)"/><use href="#h2" transform="translate(47.7,670.1) rotate(14)"/><use href="#h2" transform="translate(81.3,736.8) rotate(179)"/><use href="#h2" transform="translate(86.4,661.7) rotate(135)"/><use href="#h2" transform="translate(166.3,760.9) rotate(166)"/><use href="#h2" transform="translate(165.4,759.6) rotate(167)"/><use href="#h2" transform="translate(62.2,840.2) rotate(127)"/><use href="#h2" transform="translate(60,841.7) rotate(88)"/><use href="#h2" transform="translate(258.8,614.2) rotate(60)"/><use href="#h2" transform="translate(8.3,635.9) rotate(43)"/><use href="#h2" transform="translate(44.2,826.5) rotate(40)"/><use href="#h2" transform="translate(200.4,595.9) rotate(137)"/><use href="#h2" transform="translate(199.1,597.2) rotate(138)"/><use href="#h2" transform="translate(215,792.9) rotate(8)"/><use href="#h2" transform="translate(185,757.1) rotate(153)"/><use href="#h2" transform="translate(165.6,564.4) rotate(115)"/><use href="#h2" transform="translate(283.4,580.6) rotate(72)"/><use href="#h2" transform="translate(304.2,676.8) rotate(96)"/><use href="#h2" transform="translate(218.3,795.6) rotate(16)"/><use href="#h2" transform="translate(226.1,796.6) rotate(142)"/><use href="#h2" transform="translate(40.6,693.3) rotate(99)"/><use href="#h2" transform="translate(33.4,695.6) rotate(171)"/><use href="#h2" transform="translate(160.4,769) rotate(166)"/><use href="#h2" transform="translate(169,769.9) rotate(15)"/><use href="#h2" transform="translate(136.9,750.7) rotate(75)"/><use href="#h2" transform="translate(258.5,755.6) rotate(12)"/><use href="#h2" transform="translate(106.8,579.5) rotate(39)"/><use href="#h2" transform="translate(166.5,570.3) rotate(115)"/><use href="#h2" transform="translate(157.8,566.7) rotate(57)"/><use href="#h2" transform="translate(258.3,832.2) rotate(23)"/><use href="#h2" transform="translate(256.8,826.6) rotate(131)"/><use href="#h2" transform="translate(50.7,675.9) rotate(35)"/><use href="#h2" transform="translate(14.8,698.7) rotate(109)"/><use href="#h2" transform="translate(27.1,753.6) rotate(138)"/><use href="#h2" transform="translate(34,760.1) rotate(100)"/><use href="#h2" transform="translate(307.3,687.8) rotate(158)"/><use href="#h2" transform="translate(301.9,699.8) rotate(140)"/><use href="#h2" transform="translate(26.3,727.6) rotate(132)"/><use href="#h2" transform="translate(135.1,667.4) rotate(5)"/><use href="#h2" transform="translate(141,664.5) rotate(41)"/><use href="#h2" transform="translate(175.8,650.2) rotate(21)"/><use href="#h2" transform="translate(174.6,651.9) rotate(98)"/><use href="#h2" transform="translate(142.1,845.5) rotate(126)"/><use href="#h2" transform="translate(94.9,868.9) rotate(2)"/><use href="#h2" transform="translate(291.3,767.8) rotate(159)"/><use href="#h2" transform="translate(295.3,780.3) rotate(58)"/><use href="#h2" transform="translate(27.2,807.2) rotate(39)"/><use href="#h2" transform="translate(29.4,809.5) rotate(173)"/><use href="#h2" transform="translate(123.4,708.2) rotate(85)"/><use href="#h2" transform="translate(34.8,656.7) rotate(91)"/><use href="#h2" transform="translate(262.7,696.9) rotate(7)"/><use href="#h2" transform="translate(257.8,704) rotate(103)"/><use href="#h2" transform="translate(48.7,806.3) rotate(1)"/><use href="#h2" transform="translate(53.7,821.5) rotate(71)"/><use href="#h2" transform="translate(247.3,576.5) rotate(48)"/><use href="#h2" transform="translate(239.1,666.2) rotate(76)"/><use href="#h2" transform="translate(232.1,673.3) rotate(119)"/><use href="#h2" transform="translate(233.2,665.8) rotate(105)"/><use href="#h2" transform="translate(237.6,662.9) rotate(92)"/><use href="#h2" transform="translate(302.5,819.8) rotate(50)"/><use href="#h2" transform="translate(83.3,865.2) rotate(51)"/><use href="#h2" transform="translate(180.5,803.6) rotate(75)"/><use href="#h2" transform="translate(260.8,688.3) rotate(39)"/><use href="#h2" transform="translate(269.5,645.2) rotate(125)"/><use href="#h2" transform="translate(267.6,640.6) rotate(1)"/><use href="#h2" transform="translate(108.8,798.3) rotate(23)"/><use href="#h2" transform="translate(34.3,619.3) rotate(57)"/><use href="#h2" transform="translate(12.6,836.1) rotate(68)"/><use href="#h2" transform="translate(13.9,832.4) rotate(123)"/><use href="#h2" transform="translate(300.8,608) rotate(32)"/><use href="#h2" transform="translate(290.6,650.3) rotate(14)"/><use href="#h2" transform="translate(261.6,562.2) rotate(22)"/><use href="#h2" transform="translate(264.9,717.3) rotate(60)"/><use href="#h2" transform="translate(79.7,713.2) rotate(96)"/><use href="#h2" transform="translate(200.3,730.9) rotate(98)"/><use href="#h2" transform="translate(198,735.4) rotate(80)"/><use href="#h2" transform="translate(294.9,782.5) rotate(109)"/><use href="#h2" transform="translate(99.1,668.7) rotate(18)"/><use href="#h2" transform="translate(113.4,638.1) rotate(16)"/><use href="#h2" transform="translate(210.8,739.8) rotate(25)"/><use href="#h2" transform="translate(214.1,657.4) rotate(70)"/><use href="#h2" transform="translate(251.7,761.7) rotate(26)"/><use href="#h2" transform="translate(247.6,763.3) rotate(174)"/><use href="#h2" transform="translate(300.9,729.7) rotate(109)"/><use href="#h2" transform="translate(201.4,604.2) rotate(16)"/><use href="#h2" transform="translate(58.6,610.6) rotate(60)"/><use href="#h2" transform="translate(200,640.9) rotate(4)"/><use href="#h2" transform="translate(105.3,591.8) rotate(87)"/><use href="#h2" transform="translate(134.1,586.5) rotate(124)"/><use href="#h2" transform="translate(133.5,591.9) rotate(83)"/><use href="#h2" transform="translate(135,585.7) rotate(140)"/><use href="#h2" transform="translate(141.9,617.5) rotate(41)"/><use href="#h2" transform="translate(139.4,608.5) rotate(30)"/><use href="#h2" transform="translate(35.8,845.4) rotate(156)"/><use href="#h2" transform="translate(39,852.5) rotate(128)"/><use href="#h2" transform="translate(9.4,785) rotate(141)"/><use href="#h2" transform="translate(5.8,790.9) rotate(124)"/><use href="#h2" transform="translate(3,791.6) rotate(128)"/><use href="#h2" transform="translate(35.4,814.5) rotate(17)"/><use href="#h2" transform="translate(21.9,813.3) rotate(107)"/><use href="#h2" transform="translate(298.7,633.7) rotate(61)"/><use href="#h2" transform="translate(30.1,632.4) rotate(74)"/><use href="#h2" transform="translate(191.8,801) rotate(96)"/><use href="#h2" transform="translate(195.1,803.7) rotate(165)"/><use href="#h2" transform="translate(185.5,800.6) rotate(80)"/><use href="#h2" transform="translate(283.1,648.9) rotate(163)"/><use href="#h2" transform="translate(248.3,556.6) rotate(175)"/><use href="#h2" transform="translate(177.8,813.9) rotate(43)"/><use href="#h2" transform="translate(99.9,660) rotate(72)"/><use href="#h2" transform="translate(80.1,726.6) rotate(110)"/><use href="#h2" transform="translate(159.9,606.2) rotate(165)"/><use href="#h2" transform="translate(206,588.7) rotate(65)"/><use href="#h2" transform="translate(3.6,682.8) rotate(9)"/><use href="#h2" transform="translate(5,680) rotate(93)"/><use href="#h2" transform="translate(160.8,657.1) rotate(160)"/><use href="#h2" transform="translate(166.6,662.7) rotate(138)"/><use href="#h2" transform="translate(205.7,710.3) rotate(147)"/><use href="#h2" transform="translate(208.3,702) rotate(134)"/><use href="#h2" transform="translate(127.7,735.5) rotate(91)"/><use href="#h2" transform="translate(182.1,574) rotate(149)"/><use href="#h2" transform="translate(90.6,714.2) rotate(1)"/><use href="#h2" transform="translate(92.6,717) rotate(17)"/><use href="#h2" transform="translate(89.7,593.8) rotate(134)"/><use href="#h2" transform="translate(247.1,726.6) rotate(23)"/><use href="#h2" transform="translate(185.3,810.1) rotate(49)"/><use href="#h2" transform="translate(170.6,642.5) rotate(116)"/><use href="#h2" transform="translate(133.6,859.9) rotate(74)"/><use href="#h2" transform="translate(51.5,778.7) rotate(25)"/><use href="#h2" transform="translate(54.5,781.8) rotate(90)"/><use href="#h2" transform="translate(26.8,839.6) rotate(13)"/><use href="#h2" transform="translate(23.8,834.9) rotate(115)"/><use href="#h2" transform="translate(94.2,777.5) rotate(170)"/><use href="#h2" transform="translate(105.7,652.6) rotate(21)"/><use href="#h2" transform="translate(305,691.4) rotate(115)"/><use href="#h2" transform="translate(306,692.9) rotate(98)"/><use href="#h2" transform="translate(205.9,714.5) rotate(81)"/><use href="#h2" transform="translate(213.8,709.5) rotate(82)"/><use href="#h2" transform="translate(208.9,719.4) rotate(3)"/><use href="#h2" transform="translate(80.9,671.8) rotate(39)"/><use href="#h2" transform="translate(71.5,864) rotate(119)"/><use href="#h2" transform="translate(64.9,861.3) rotate(15)"/><use href="#h2" transform="translate(130.9,854.6) rotate(112)"/><use href="#h2" transform="translate(132.4,855.9) rotate(11)"/><use href="#h2" transform="translate(103.4,830.6) rotate(43)"/><use href="#h2" transform="translate(129.8,624) rotate(139)"/><use href="#h2" transform="translate(308.5,590.8) rotate(110)"/><use href="#h2" transform="translate(300.4,598.4) rotate(162)"/><use href="#h2" transform="translate(129.2,804.1) rotate(40)"/><use href="#h2" transform="translate(128.6,803.1) rotate(14)"/><use href="#h2" transform="translate(126.2,806.8) rotate(176)"/><use href="#h2" transform="translate(264.5,834.7) rotate(90)"/><use href="#h2" transform="translate(266.5,603.8) rotate(49)"/><use href="#h2" transform="translate(245.8,662.1) rotate(145)"/><use href="#h2" transform="translate(244.2,672.3) rotate(5)"/><use href="#h2" transform="translate(220.9,572.4) rotate(88)"/><use href="#h2" transform="translate(157.5,755.7) rotate(81)"/><use href="#h2" transform="translate(182.2,556.8) rotate(98)"/><use href="#h2" transform="translate(191.8,554.4) rotate(35)"/><use href="#h2" transform="translate(189.6,568.2) rotate(96)"/><use href="#h2" transform="translate(266.7,555.2) rotate(95)"/><use href="#h2" transform="translate(203,701.6) rotate(65)"/><use href="#h2" transform="translate(43.7,701.2) rotate(30)"/><use href="#h2" transform="translate(139.1,705.4) rotate(13)"/><use href="#h2" transform="translate(77.5,611.8) rotate(61)"/><use href="#h2" transform="translate(73.6,604.9) rotate(40)"/><use href="#h2" transform="translate(316.1,620.5) rotate(19)"/><use href="#h2" transform="translate(81,759.7) rotate(38)"/><use href="#h2" transform="translate(185.1,800.3) rotate(23)"/><use href="#h2" transform="translate(185.4,802.3) rotate(16)"/><use href="#h2" transform="translate(118.6,627.7) rotate(125)"/><use href="#h2" transform="translate(236.5,852.9) rotate(66)"/><use href="#h2" transform="translate(248.1,705.6) rotate(82)"/><use href="#h2" transform="translate(253,701.7) rotate(153)"/><use href="#h2" transform="translate(38.6,799.7) rotate(138)"/><use href="#h2" transform="translate(286.8,675.6) rotate(134)"/><use href="#h2" transform="translate(290.3,679.9) rotate(28)"/><use href="#h2" transform="translate(224.7,561.3) rotate(59)"/><use href="#h2" transform="translate(219.9,565.1) rotate(167)"/><use href="#h2" transform="translate(245.3,766.7) rotate(28)"/><use href="#h2" transform="translate(125.7,573.1) rotate(23)"/><use href="#h2" transform="translate(130.9,576.5) rotate(145)"/><use href="#h2" transform="translate(247.9,748.5) rotate(47)"/><use href="#h2" transform="translate(320.7,720.9) rotate(60)"/><use href="#h2" transform="translate(320.6,722.1) rotate(16)"/><use href="#h2" transform="translate(155.1,650.2) rotate(175)"/><use href="#h2" transform="translate(11.6,636.2) rotate(80)"/><use href="#h2" transform="translate(172.8,650) rotate(17)"/><use href="#h2" transform="translate(206,716) rotate(80)"/><use href="#h2" transform="translate(203,710.5) rotate(70)"/><use href="#h2" transform="translate(166.7,761) rotate(156)"/><use href="#h2" transform="translate(45,752.5) rotate(33)"/><use href="#h2" transform="translate(217.9,863.6) rotate(13)"/><use href="#h2" transform="translate(218.1,869.8) rotate(162)"/><use href="#h2" transform="translate(319.3,618.3) rotate(105)"/><use href="#h2" transform="translate(312.9,629) rotate(117)"/><use href="#h2" transform="translate(312.6,619.3) rotate(134)"/><use href="#h2" transform="translate(208.7,654.7) rotate(133)"/><use href="#h2" transform="translate(285.9,853.6) rotate(151)"/><use href="#h2" transform="translate(282.5,859) rotate(96)"/><use href="#h2" transform="translate(281,855.4) rotate(143)"/><use href="#h2" transform="translate(52.2,771.9) rotate(48)"/><use href="#h2" transform="translate(237,776) rotate(70)"/><use href="#h2" transform="translate(253.8,672) rotate(42)"/><use href="#h2" transform="translate(230.8,785.6) rotate(154)"/><use href="#h2" transform="translate(34.9,806.7) rotate(1)"/><use href="#h2" transform="translate(33.6,805.4) rotate(76)"/><use href="#h2" transform="translate(192.9,604.5) rotate(171)"/><use href="#h2" transform="translate(178.9,604.7) rotate(87)"/><use href="#h2" transform="translate(9.3,737.9) rotate(96)"/><use href="#h2" transform="translate(9.6,736.4) rotate(172)"/><use href="#h2" transform="translate(13.2,734.6) rotate(125)"/><use href="#h2" transform="translate(306.1,758.3) rotate(23)"/><use href="#h2" transform="translate(301.5,767.6) rotate(14)"/><use href="#h2" transform="translate(250.7,714.9) rotate(154)"/><use href="#h2" transform="translate(244.4,565.8) rotate(9)"/><use href="#h2" transform="translate(91.5,573.3) rotate(164)"/><use href="#h2" transform="translate(83.5,606.2) rotate(169)"/><use href="#h2" transform="translate(196.1,645.8) rotate(38)"/><use href="#h2" transform="translate(188.6,651.8) rotate(138)"/><use href="#h2" transform="translate(192.5,853.1) rotate(117)"/><use href="#h2" transform="translate(83.8,731.8) rotate(26)"/><use href="#h2" transform="translate(97.3,855.6) rotate(67)"/><use href="#h2" transform="translate(135.8,721) rotate(34)"/><use href="#h2" transform="translate(100.2,670.1) rotate(171)"/><use href="#h2" transform="translate(22.2,746.8) rotate(95)"/><use href="#h2" transform="translate(26.4,750.2) rotate(70)"/><use href="#h2" transform="translate(18.2,832.5) rotate(59)"/><use href="#h2" transform="translate(250.8,759.3) rotate(123)"/><use href="#h2" transform="translate(214.3,747.5) rotate(26)"/><use href="#h2" transform="translate(12.5,654.5) rotate(16)"/><use href="#h2" transform="translate(128.3,863.3) rotate(159)"/><use href="#h2" transform="translate(127.6,863.7) rotate(170)"/><use href="#h2" transform="translate(151,575.2) rotate(46)"/><use href="#h2" transform="translate(144.1,570.8) rotate(100)"/><use href="#h2" transform="translate(102.9,784.5) rotate(117)"/><use href="#h2" transform="translate(19.1,727.5) rotate(88)"/><use href="#h2" transform="translate(249.7,762.5) rotate(5)"/><use href="#h2" transform="translate(47.4,670.9) rotate(36)"/><use href="#h2" transform="translate(240.5,755.7) rotate(47)"/><use href="#h2" transform="translate(214,707.8) rotate(1)"/><use href="#h2" transform="translate(245.7,618.4) rotate(89)"/><use href="#h2" transform="translate(252.6,617.7) rotate(155)"/><use href="#h2" transform="translate(227.7,785.7) rotate(107)"/><use href="#h2" transform="translate(227.7,786.9) rotate(100)"/><use href="#h2" transform="translate(284.9,661) rotate(129)"/><use href="#h2" transform="translate(290.1,661.5) rotate(5)"/><use href="#h2" transform="translate(285.9,656) rotate(139)"/><use href="#h2" transform="translate(155.8,765.7) rotate(144)"/><use href="#h2" transform="translate(126.7,682.4) rotate(38)"/><use href="#h2" transform="translate(296.6,614.8) rotate(59)"/><use href="#h2" transform="translate(83.8,709.9) rotate(72)"/><use href="#h2" transform="translate(250.6,863.7) rotate(3)"/><use href="#h2" transform="translate(253.6,863) rotate(40)"/><use href="#h2" transform="translate(246.5,865.1) rotate(4)"/><use href="#h2" transform="translate(181.9,764.1) rotate(11)"/><use href="#h2" transform="translate(92.6,829.7) rotate(36)"/><use href="#h2" transform="translate(283.9,565.7) rotate(90)"/><use href="#h2" transform="translate(279.7,559.2) rotate(108)"/><use href="#h2" transform="translate(317.9,612) rotate(49)"/><use href="#h2" transform="translate(317.3,613.6) rotate(42)"/><use href="#h2" transform="translate(257.5,622.3) rotate(34)"/><use href="#h2" transform="translate(264.2,615.7) rotate(0)"/><use href="#h2" transform="translate(4.6,641.7) rotate(1)"/><use href="#h2" transform="translate(2.4,639.5) rotate(82)"/><use href="#h2" transform="translate(76.4,715.1) rotate(83)"/><use href="#h2" transform="translate(226.9,567.6) rotate(14)"/><use href="#h2" transform="translate(63.2,580.5) rotate(176)"/><use href="#h2" transform="translate(53.2,585.3) rotate(35)"/><use href="#h2" transform="translate(59.5,585.2) rotate(178)"/><use href="#h2" transform="translate(65.3,578.7) rotate(83)"/><use href="#h2" transform="translate(284,785.3) rotate(51)"/><use href="#h2" transform="translate(115,619.4) rotate(137)"/><use href="#h2" transform="translate(129,618.8) rotate(79)"/><use href="#h2" transform="translate(143.5,871.9) rotate(121)"/><use href="#h2" transform="translate(55.1,816.8) rotate(177)"/><use href="#h2" transform="translate(223,603.3) rotate(107)"/><use href="#h2" transform="translate(132.2,574.2) rotate(100)"/><use href="#h2" transform="translate(127.8,618.6) rotate(118)"/><use href="#h2" transform="translate(129.1,616.3) rotate(15)"/><use href="#h2" transform="translate(36.2,804.3) rotate(96)"/><use href="#h2" transform="translate(65.8,622.6) rotate(89)"/><use href="#h2" transform="translate(59.1,620) rotate(130)"/><use href="#h2" transform="translate(168.3,698.4) rotate(64)"/><use href="#h2" transform="translate(145.9,662.3) rotate(0)"/><use href="#h2" transform="translate(145.7,665.4) rotate(5)"/><use href="#h2" transform="translate(16.3,767.3) rotate(100)"/><use href="#h2" transform="translate(268.2,566.6) rotate(170)"/><use href="#h2" transform="translate(27.4,680.7) rotate(51)"/><use href="#h2" transform="translate(156.4,767.2) rotate(95)"/><use href="#h2" transform="translate(155.1,764.2) rotate(78)"/><use href="#h2" transform="translate(82,705.6) rotate(89)"/><use href="#h2" transform="translate(276.6,794.2) rotate(66)"/><use href="#h2" transform="translate(233.1,844.8) rotate(142)"/><use href="#h2" transform="translate(159.1,809.1) rotate(131)"/><use href="#h2" transform="translate(170.5,809.5) rotate(173)"/><use href="#h2" transform="translate(149.6,599.6) rotate(93)"/><use href="#h2" transform="translate(152.2,601.9) rotate(169)"/><use href="#h2" transform="translate(216.9,853.6) rotate(170)"/><use href="#h2" transform="translate(210.2,844.5) rotate(5)"/><use href="#h2" transform="translate(272.2,588.2) rotate(17)"/><use href="#h2" transform="translate(275.2,583.9) rotate(41)"/><use href="#h2" transform="translate(197.9,582.9) rotate(21)"/><use href="#h2" transform="translate(307.7,839.6) rotate(14)"/><use href="#h2" transform="translate(196.9,845.6) rotate(33)"/><use href="#h2" transform="translate(194.6,852.2) rotate(25)"/><use href="#h2" transform="translate(259.9,863.2) rotate(71)"/><use href="#h2" transform="translate(260.7,853.4) rotate(55)"/><use href="#h2" transform="translate(30.3,742.5) rotate(10)"/><use href="#h2" transform="translate(123.1,705) rotate(73)"/><use href="#h2" transform="translate(125.2,710) rotate(157)"/><use href="#h2" transform="translate(252.2,766) rotate(35)"/><use href="#h2" transform="translate(48.2,645.1) rotate(84)"/><use href="#h2" transform="translate(108.3,647.8) rotate(84)"/><use href="#h2" transform="translate(157.6,817.9) rotate(53)"/><use href="#h2" transform="translate(129.2,708.1) rotate(107)"/><use href="#h2" transform="translate(249.6,864.9) rotate(1)"/><use href="#h2" transform="translate(159.5,589.5) rotate(22)"/><use href="#h2" transform="translate(158.3,592.3) rotate(122)"/><use href="#h2" transform="translate(15.8,619.4) rotate(131)"/><use href="#h2" transform="translate(230.6,831.9) rotate(119)"/><use href="#h2" transform="translate(23.9,770) rotate(50)"/><use href="#h2" transform="translate(29.8,771.6) rotate(82)"/><use href="#h2" transform="translate(110.7,853.9) rotate(93)"/><use href="#h2" transform="translate(118.9,860.3) rotate(105)"/><use href="#h2" transform="translate(247,665.3) rotate(29)"/><use href="#h2" transform="translate(240.5,669.1) rotate(27)"/><use href="#h2" transform="translate(309.8,642.2) rotate(154)"/><use href="#h2" transform="translate(313.9,639.4) rotate(151)"/><use href="#h2" transform="translate(289.3,768) rotate(122)"/><use href="#h2" transform="translate(44.7,847.9) rotate(46)"/><use href="#h2" transform="translate(48.9,850.7) rotate(170)"/><use href="#h2" transform="translate(39.1,726.5) rotate(78)"/><use href="#h2" transform="translate(38.7,723.1) rotate(107)"/><use href="#h2" transform="translate(27.3,733.5) rotate(142)"/><use href="#h2" transform="translate(42.2,752.2) rotate(48)"/><use href="#h2" transform="translate(54.8,791.3) rotate(46)"/><use href="#h2" transform="translate(19.9,667.7) rotate(170)"/><use href="#h2" transform="translate(19.3,664) rotate(105)"/><use href="#h2" transform="translate(106.2,833.3) rotate(128)"/><use href="#h2" transform="translate(17.8,752.3) rotate(59)"/><use href="#h2" transform="translate(91.9,739.7) rotate(54)"/><use href="#h2" transform="translate(118,628.9) rotate(119)"/><use href="#h2" transform="translate(136.3,687.5) rotate(174)"/><use href="#h2" transform="translate(160.3,615.6) rotate(168)"/><use href="#h2" transform="translate(257.6,755.1) rotate(67)"/><use href="#h2" transform="translate(253.6,761.7) rotate(69)"/><use href="#h2" transform="translate(283.9,632.7) rotate(35)"/><use href="#h2" transform="translate(135.7,672.2) rotate(126)"/><use href="#h2" transform="translate(135.4,677.9) rotate(29)"/><use href="#h2" transform="translate(124.4,738.4) rotate(155)"/><use href="#h2" transform="translate(129,738.9) rotate(113)"/><use href="#h2" transform="translate(256.9,863.5) rotate(79)"/><use href="#h2" transform="translate(170.5,757.4) rotate(37)"/><use href="#h2" transform="translate(137.8,715) rotate(34)"/><use href="#h2" transform="translate(30.9,723.1) rotate(99)"/><use href="#h2" transform="translate(267.4,641.1) rotate(85)"/><use href="#h2" transform="translate(17.1,634.6) rotate(131)"/><use href="#h2" transform="translate(11.3,640.7) rotate(151)"/><use href="#h2" transform="translate(17.3,642.9) rotate(123)"/><use href="#h2" transform="translate(307.7,791.9) rotate(116)"/><use href="#h2" transform="translate(268.4,805.4) rotate(108)"/><use href="#h2" transform="translate(270.4,813.1) rotate(37)"/><use href="#h2" transform="translate(98.8,588.9) rotate(10)"/><use href="#h2" transform="translate(307.6,820.5) rotate(113)"/><use href="#h2" transform="translate(301.9,820.3) rotate(152)"/><use href="#h2" transform="translate(201.5,717) rotate(105)"/><use href="#h2" transform="translate(199.7,717.6) rotate(46)"/><use href="#h2" transform="translate(92,668.7) rotate(61)"/><use href="#h2" transform="translate(254.7,735.8) rotate(25)"/><use href="#h2" transform="translate(257.3,738.6) rotate(37)"/><use href="#h2" transform="translate(3.4,698.4) rotate(44)"/><use href="#h2" transform="translate(7.6,695.8) rotate(60)"/><use href="#h2" transform="translate(8.4,697.1) rotate(70)"/><use href="#h2" transform="translate(120.7,584.7) rotate(68)"/><use href="#h2" transform="translate(113.2,577.8) rotate(144)"/><use href="#h2" transform="translate(111,586.1) rotate(168)"/><use href="#h2" transform="translate(163.9,584.3) rotate(168)"/><use href="#h2" transform="translate(171.3,584) rotate(72)"/><use href="#h2" transform="translate(25.3,626.5) rotate(164)"/><use href="#h2" transform="translate(21.4,629.8) rotate(167)"/><use href="#h2" transform="translate(27,615) rotate(137)"/><use href="#h2" transform="translate(30.1,623.5) rotate(63)"/><use href="#h2" transform="translate(256.1,710.6) rotate(150)"/><use href="#h2" transform="translate(262.5,716.9) rotate(20)"/><use href="#h2" transform="translate(139,743.7) rotate(73)"/><use href="#h2" transform="translate(186.7,846.1) rotate(60)"/><use href="#h2" transform="translate(23,839.6) rotate(58)"/><use href="#h2" transform="translate(20.2,838.8) rotate(82)"/><use href="#h2" transform="translate(36.8,691.2) rotate(167)"/><use href="#h2" transform="translate(184.4,686.3) rotate(71)"/><use href="#h2" transform="translate(173,812.8) rotate(88)"/><use href="#h2" transform="translate(172.9,819.2) rotate(20)"/><use href="#h2" transform="translate(128.6,701.1) rotate(120)"/><use href="#h2" transform="translate(131.6,699) rotate(161)"/><use href="#h2" transform="translate(139.1,798.7) rotate(8)"/><use href="#h2" transform="translate(43.6,827.3) rotate(117)"/><use href="#h2" transform="translate(217.7,725.8) rotate(29)"/><use href="#h2" transform="translate(219,728.1) rotate(143)"/><use href="#h2" transform="translate(48.6,813.9) rotate(164)"/><use href="#h2" transform="translate(118.9,583.3) rotate(127)"/><use href="#h2" transform="translate(126,575.4) rotate(6)"/><use href="#h2" transform="translate(172.3,767.3) rotate(163)"/><use href="#h2" transform="translate(125.6,576.9) rotate(163)"/><use href="#h2" transform="translate(177.2,585.1) rotate(179)"/><use href="#h2" transform="translate(259.6,717.5) rotate(179)"/><use href="#h2" transform="translate(265.6,710.9) rotate(110)"/><use href="#h2" transform="translate(89.5,601) rotate(30)"/><use href="#h2" transform="translate(177.9,570.4) rotate(107)"/><use href="#h2" transform="translate(89.2,599.7) rotate(28)"/><use href="#h2" transform="translate(163,817.4) rotate(121)"/><use href="#h2" transform="translate(160.6,817.1) rotate(24)"/><use href="#h2" transform="translate(272.9,596.2) rotate(177)"/><use href="#h2" transform="translate(91.8,767.5) rotate(103)"/><use href="#h2" transform="translate(140.6,574.2) rotate(31)"/><use href="#h2" transform="translate(134.6,573.3) rotate(110)"/><use href="#h2" transform="translate(85.6,755.9) rotate(3)"/><use href="#h2" transform="translate(95,759.5) rotate(164)"/><use href="#h2" transform="translate(314.2,582.6) rotate(136)"/><use href="#h2" transform="translate(317.2,744.2) rotate(179)"/><use href="#h2" transform="translate(18.8,852.2) rotate(169)"/><use href="#h2" transform="translate(26.7,849.8) rotate(126)"/><use href="#h2" transform="translate(113.8,787.5) rotate(51)"/><use href="#h2" transform="translate(178,810.5) rotate(71)"/><use href="#h2" transform="translate(294.3,637.3) rotate(28)"/><use href="#h2" transform="translate(284.1,595.7) rotate(120)"/><use href="#h2" transform="translate(245.8,824) rotate(171)"/><use href="#h2" transform="translate(238.3,829.1) rotate(116)"/><use href="#h2" transform="translate(35.6,779.7) rotate(137)"/><use href="#h2" transform="translate(82,744.9) rotate(82)"/><use href="#h2" transform="translate(243.1,863.6) rotate(169)"/><use href="#h2" transform="translate(55.7,578) rotate(99)"/><use href="#h2" transform="translate(66.2,572.3) rotate(38)"/><use href="#h2" transform="translate(241.7,600.1) rotate(37)"/><use href="#h2" transform="translate(109.8,648.7) rotate(158)"/><use href="#h2" transform="translate(213.8,706.9) rotate(119)"/><use href="#h2" transform="translate(116.6,853.5) rotate(35)"/><use href="#h2" transform="translate(182.7,638.4) rotate(78)"/><use href="#h2" transform="translate(214.7,741.5) rotate(15)"/><use href="#h2" transform="translate(205.9,742.9) rotate(102)"/><use href="#h2" transform="translate(208.6,738.8) rotate(120)"/><use href="#h2" transform="translate(203.5,707.1) rotate(54)"/><use href="#h2" transform="translate(67.5,867.5) rotate(67)"/><use href="#h2" transform="translate(66.3,867.1) rotate(70)"/><use href="#h2" transform="translate(253.2,860.8) rotate(167)"/><use href="#h2" transform="translate(266.1,856.9) rotate(106)"/><use href="#h2" transform="translate(83.7,711.6) rotate(173)"/><use href="#h2" transform="translate(204,796) rotate(63)"/><use href="#h2" transform="translate(258,580) rotate(161)"/><use href="#h2" transform="translate(133.2,622.5) rotate(137)"/><use href="#h2" transform="translate(138.1,620) rotate(152)"/><use href="#h2" transform="translate(287.2,649) rotate(77)"/><use href="#h2" transform="translate(281.5,649) rotate(1)"/><use href="#h2" transform="translate(220.9,784.3) rotate(23)"/><use href="#h2" transform="translate(14.6,696.5) rotate(143)"/><use href="#h2" transform="translate(245.7,826) rotate(178)"/><use href="#h2" transform="translate(298.5,762.1) rotate(104)"/><use href="#h2" transform="translate(210.9,707.1) rotate(59)"/><use href="#h2" transform="translate(246.5,698) rotate(50)"/><use href="#h2" transform="translate(46.6,696.9) rotate(76)"/><use href="#h2" transform="translate(41.6,702.2) rotate(96)"/><use href="#h2" transform="translate(140.1,796.6) rotate(25)"/><use href="#h2" transform="translate(131.6,797.2) rotate(84)"/><use href="#h2" transform="translate(136,673) rotate(87)"/><use href="#h2" transform="translate(136,678.2) rotate(174)"/><use href="#h2" transform="translate(58.2,629) rotate(8)"/><use href="#h2" transform="translate(289.2,568.1) rotate(59)"/><use href="#h2" transform="translate(21.4,713.6) rotate(103)"/><use href="#h2" transform="translate(154.2,763) rotate(59)"/><use href="#h2" transform="translate(228.5,570.3) rotate(124)"/><use href="#h2" transform="translate(29.6,733.7) rotate(132)"/><use href="#h2" transform="translate(29,731.7) rotate(94)"/><use href="#h2" transform="translate(58.9,781.4) rotate(105)"/><use href="#h2" transform="translate(289.1,623.7) rotate(76)"/><use href="#h2" transform="translate(44.2,764.9) rotate(167)"/><use href="#h2" transform="translate(258.5,867.8) rotate(108)"/><use href="#h2" transform="translate(260.5,866) rotate(121)"/><use href="#h2" transform="translate(10.8,711.1) rotate(17)"/><use href="#h2" transform="translate(16.6,706.1) rotate(62)"/><use href="#h2" transform="translate(179.2,801.6) rotate(11)"/><use href="#h2" transform="translate(180,812.8) rotate(11)"/><use href="#h2" transform="translate(61.3,562.8) rotate(104)"/><use href="#h2" transform="translate(68,567.3) rotate(61)"/><use href="#h2" transform="translate(291.9,562.3) rotate(68)"/><use href="#h2" transform="translate(21.6,735.4) rotate(128)"/><use href="#h2" transform="translate(136.5,684.3) rotate(56)"/><use href="#h2" transform="translate(99.7,762.9) rotate(93)"/><use href="#h2" transform="translate(104.2,771.6) rotate(3)"/><use href="#h2" transform="translate(57.8,799) rotate(94)"/><use href="#h2" transform="translate(55.6,807.5) rotate(144)"/><use href="#h2" transform="translate(221.2,572) rotate(54)"/><use href="#h2" transform="translate(46.1,832.7) rotate(134)"/><use href="#h2" transform="translate(285.2,802.3) rotate(6)"/><use href="#h2" transform="translate(255.8,722.2) rotate(17)"/><use href="#h2" transform="translate(154.7,609.6) rotate(69)"/><use href="#h2" transform="translate(208.4,865.5) rotate(104)"/><use href="#h2" transform="translate(113.6,839.5) rotate(161)"/><use href="#h2" transform="translate(114.9,844) rotate(177)"/><use href="#h2" transform="translate(214.8,706.5) rotate(37)"/><use href="#h2" transform="translate(303.3,650.8) rotate(0)"/><use href="#h2" transform="translate(216.9,579.2) rotate(78)"/><use href="#h2" transform="translate(217.8,581.3) rotate(0)"/><use href="#h2" transform="translate(210.8,695.3) rotate(88)"/><use href="#h2" transform="translate(241.2,685.3) rotate(132)"/><use href="#h2" transform="translate(130,853.4) rotate(90)"/><use href="#h2" transform="translate(233.9,677.3) rotate(48)"/><use href="#h2" transform="translate(100,831.7) rotate(51)"/><use href="#h2" transform="translate(103,829.7) rotate(83)"/><use href="#h2" transform="translate(259.8,625.7) rotate(163)"/><use href="#h2" transform="translate(262,626.3) rotate(146)"/><use href="#h2" transform="translate(191.8,567.1) rotate(78)"/><use href="#h2" transform="translate(191.9,569.9) rotate(9)"/><use href="#h2" transform="translate(133.8,805.1) rotate(53)"/><use href="#h2" transform="translate(147.3,813.2) rotate(8)"/><use href="#h2" transform="translate(140.1,811.3) rotate(71)"/><use href="#h2" transform="translate(277.4,820.6) rotate(31)"/><use href="#h2" transform="translate(232.2,866.9) rotate(35)"/><use href="#h2" transform="translate(224.7,877) rotate(22)"/><use href="#h2" transform="translate(229.5,649.3) rotate(63)"/><use href="#h2" transform="translate(316.6,785.4) rotate(57)"/><use href="#h2" transform="translate(95.6,656.8) rotate(73)"/><use href="#h2" transform="translate(93.2,661.4) rotate(1)"/><use href="#h2" transform="translate(162.8,815) rotate(53)"/><use href="#h2" transform="translate(269.2,575.5) rotate(101)"/><use href="#h2" transform="translate(135,608.3) rotate(127)"/><use href="#h2" transform="translate(163.3,815.2) rotate(153)"/><use href="#h2" transform="translate(164.2,811.7) rotate(89)"/><use href="#h2" transform="translate(7.8,656.6) rotate(88)"/><use href="#h2" transform="translate(84.9,697.8) rotate(31)"/><use href="#h2" transform="translate(13.5,740.5) rotate(97)"/><use href="#h2" transform="translate(17.8,738.1) rotate(120)"/><use href="#h2" transform="translate(102.7,787.5) rotate(24)"/><use href="#h2" transform="translate(107.9,780.5) rotate(91)"/><use href="#h2" transform="translate(104.8,780) rotate(101)"/><use href="#h2" transform="translate(304.8,788) rotate(8)"/><use href="#h2" transform="translate(299.5,695.7) rotate(115)"/><use href="#h2" transform="translate(68,844.8) rotate(75)"/><use href="#h2" transform="translate(77.3,836.5) rotate(47)"/><use href="#h2" transform="translate(77.8,837.4) rotate(75)"/><use href="#h2" transform="translate(254,582.7) rotate(77)"/><use href="#h2" transform="translate(193.1,598.5) rotate(123)"/><use href="#h2" transform="translate(317.7,727.2) rotate(127)"/><use href="#h2" transform="translate(305.9,574.7) rotate(23)"/><use href="#h2" transform="translate(99.3,593) rotate(41)"/><use href="#h2" transform="translate(65.8,799.1) rotate(41)"/><use href="#h2" transform="translate(181.9,808.5) rotate(6)"/><use href="#h2" transform="translate(192.1,814.2) rotate(96)"/><use href="#h2" transform="translate(216.2,841) rotate(13)"/><use href="#h2" transform="translate(107.6,778.9) rotate(159)"/><use href="#h2" transform="translate(24.4,838) rotate(107)"/><use href="#h2" transform="translate(24.3,843.1) rotate(65)"/><use href="#h2" transform="translate(16.3,685.6) rotate(128)"/><use href="#h2" transform="translate(6.6,680.3) rotate(34)"/><use href="#h2" transform="translate(166,567.5) rotate(134)"/><use href="#h2" transform="translate(145.7,616.4) rotate(28)"/><use href="#h2" transform="translate(146.5,617.2) rotate(144)"/><use href="#h2" transform="translate(100.3,560.8) rotate(172)"/><use href="#h2" transform="translate(281.8,603.6) rotate(101)"/><use href="#h2" transform="translate(152.2,753.9) rotate(56)"/><use href="#h2" transform="translate(210,743.9) rotate(160)"/><use href="#h2" transform="translate(113.4,795.4) rotate(98)"/><use href="#h2" transform="translate(157.1,593) rotate(131)"/><use href="#h2" transform="translate(164.4,596) rotate(19)"/><use href="#h2" transform="translate(157.4,591.9) rotate(137)"/><use href="#h2" transform="translate(169.2,705.9) rotate(46)"/><use href="#h2" transform="translate(185,568.8) rotate(110)"/><use href="#h2" transform="translate(76.6,857) rotate(121)"/><use href="#h2" transform="translate(77.1,865.6) rotate(47)"/><use href="#h2" transform="translate(263.7,707.1) rotate(86)"/><use href="#h2" transform="translate(110.5,628.4) rotate(71)"/><use href="#h2" transform="translate(106.3,629) rotate(58)"/><use href="#h2" transform="translate(174.2,815.7) rotate(88)"/><use href="#h2" transform="translate(257.6,859.6) rotate(70)"/><use href="#h2" transform="translate(79.3,701.9) rotate(105)"/><use href="#h2" transform="translate(6.5,718.7) rotate(41)"/><use href="#h2" transform="translate(12.5,716.5) rotate(45)"/><use href="#h2" transform="translate(14.8,722.6) rotate(153)"/><use href="#h2" transform="translate(280.5,639.3) rotate(19)"/><use href="#h2" transform="translate(94.4,745.2) rotate(105)"/><use href="#h2" transform="translate(82.4,742.5) rotate(150)"/><use href="#h2" transform="translate(16.7,699.2) rotate(160)"/><use href="#h2" transform="translate(77.8,707.4) rotate(92)"/><use href="#h2" transform="translate(74.8,713) rotate(13)"/><use href="#h2" transform="translate(122.7,724.5) rotate(55)"/><use href="#h2" transform="translate(194,688.9) rotate(46)"/><use href="#h2" transform="translate(212.6,804.6) rotate(98)"/><use href="#h2" transform="translate(208.8,801.3) rotate(125)"/><use href="#h2" transform="translate(72.7,842.8) rotate(138)"/><use href="#h2" transform="translate(76,846.7) rotate(144)"/><use href="#h2" transform="translate(293.4,736.2) rotate(127)"/><use href="#h2" transform="translate(261,832.1) rotate(14)"/><use href="#h2" transform="translate(259.5,829.8) rotate(137)"/><use href="#h2" transform="translate(113.9,628.1) rotate(159)"/><use href="#h2" transform="translate(111.9,626.5) rotate(163)"/><use href="#h2" transform="translate(207.4,641.8) rotate(149)"/><use href="#h2" transform="translate(253.7,867.9) rotate(97)"/><use href="#h2" transform="translate(100.3,636.8) rotate(100)"/><use href="#h2" transform="translate(102.6,633.2) rotate(112)"/><use href="#h2" transform="translate(100.5,636) rotate(31)"/><use href="#h2" transform="translate(131.6,626.4) rotate(58)"/><use href="#h2" transform="translate(211.1,719.1) rotate(115)"/><use href="#h2" transform="translate(217.6,721.3) rotate(94)"/><use href="#h2" transform="translate(240.9,832.9) rotate(1)"/><use href="#h2" transform="translate(141,684.4) rotate(0)"/><use href="#h2" transform="translate(281.7,795.8) rotate(149)"/><use href="#h2" transform="translate(306.3,623.6) rotate(97)"/><use href="#h2" transform="translate(133.4,679.8) rotate(154)"/><use href="#h2" transform="translate(190.5,644.1) rotate(25)"/><use href="#h2" transform="translate(108.5,775.3) rotate(160)"/><use href="#h2" transform="translate(165.1,769.7) rotate(173)"/><use href="#h2" transform="translate(207.8,873.2) rotate(149)"/><use href="#h2" transform="translate(210.1,871.6) rotate(150)"/><use href="#h2" transform="translate(102.4,782.9) rotate(101)"/><use href="#h2" transform="translate(30.4,688.3) rotate(4)"/><use href="#h2" transform="translate(287.6,774.3) rotate(133)"/><use href="#h2" transform="translate(188.9,686.7) rotate(131)"/><use href="#h2" transform="translate(254.1,709.3) rotate(154)"/><use href="#h2" transform="translate(154.9,651) rotate(99)"/><use href="#h2" transform="translate(155.9,647.5) rotate(96)"/><use href="#h2" transform="translate(134.5,627.2) rotate(106)"/><use href="#h2" transform="translate(127,622.1) rotate(124)"/><use href="#h2" transform="translate(194.5,805.6) rotate(64)"/><use href="#h2" transform="translate(28.8,713.4) rotate(121)"/><use href="#h2" transform="translate(111.4,632.8) rotate(49)"/><use href="#h2" transform="translate(271.4,558) rotate(164)"/><use href="#h2" transform="translate(300.5,591.9) rotate(123)"/><use href="#h2" transform="translate(293.5,598.7) rotate(70)"/><use href="#h2" transform="translate(312.4,723.1) rotate(148)"/><use href="#h2" transform="translate(242.5,671.6) rotate(63)"/><use href="#h2" transform="translate(255.7,765.2) rotate(79)"/><use href="#h2" transform="translate(248.3,760.2) rotate(69)"/><use href="#h2" transform="translate(259.5,583.2) rotate(138)"/><use href="#h2" transform="translate(250.4,707.7) rotate(114)"/><use href="#h2" transform="translate(258.9,820.8) rotate(48)"/><use href="#h2" transform="translate(282,650.2) rotate(24)"/><use href="#h2" transform="translate(292.5,657.4) rotate(150)"/><use href="#h2" transform="translate(31.5,710.4) rotate(25)"/><use href="#h2" transform="translate(21.7,713.6) rotate(60)"/><use href="#h2" transform="translate(305.8,594.4) rotate(110)"/><use href="#h2" transform="translate(194.9,691.8) rotate(122)"/><use href="#h2" transform="translate(107.9,836.3) rotate(85)"/><use href="#h2" transform="translate(96.1,655.4) rotate(52)"/><use href="#h2" transform="translate(16.6,752.5) rotate(177)"/><use href="#h2" transform="translate(15.4,747.5) rotate(141)"/><use href="#h2" transform="translate(133.5,619.3) rotate(168)"/><use href="#h2" transform="translate(180.8,763.3) rotate(33)"/><use href="#h2" transform="translate(114.1,858.3) rotate(4)"/><use href="#h2" transform="translate(61.9,635.1) rotate(153)"/><use href="#h2" transform="translate(63.3,629.4) rotate(40)"/><use href="#h2" transform="translate(288.8,570.6) rotate(94)"/><use href="#h2" transform="translate(291,572.6) rotate(126)"/><use href="#h2" transform="translate(298,858.5) rotate(81)"/><use href="#h2" transform="translate(300.3,863.8) rotate(40)"/><use href="#h2" transform="translate(288.8,859.7) rotate(31)"/><use href="#h2" transform="translate(318.2,644.2) rotate(11)"/><use href="#h2" transform="translate(201,753) rotate(123)"/><use href="#h2" transform="translate(202.5,759) rotate(105)"/><use href="#h2" transform="translate(197,751.3) rotate(66)"/><use href="#h2" transform="translate(254.6,860.8) rotate(64)"/><use href="#h2" transform="translate(128.3,717.6) rotate(69)"/><use href="#h2" transform="translate(185.2,601) rotate(84)"/><use href="#h2" transform="translate(170.2,577.2) rotate(9)"/><use href="#h2" transform="translate(133.1,614.7) rotate(130)"/><use href="#h2" transform="translate(133.2,618.5) rotate(0)"/><use href="#h2" transform="translate(132.5,609.5) rotate(47)"/><use href="#h2" transform="translate(280,820.7) rotate(178)"/><use href="#h2" transform="translate(108.2,863) rotate(21)"/><use href="#h2" transform="translate(294.7,785.5) rotate(130)"/><use href="#h2" transform="translate(54.5,826) rotate(76)"/><use href="#h2" transform="translate(53.9,818.4) rotate(17)"/><use href="#h2" transform="translate(258.2,718) rotate(54)"/><use href="#h2" transform="translate(224.7,794.2) rotate(149)"/><use href="#h2" transform="translate(293.6,766.3) rotate(69)"/><use href="#h2" transform="translate(299.8,590) rotate(161)"/><use href="#h2" transform="translate(28.4,672.5) rotate(156)"/><use href="#h2" transform="translate(256.3,683) rotate(171)"/><use href="#h2" transform="translate(7.5,828.4) rotate(97)"/><use href="#h2" transform="translate(153.6,864.9) rotate(31)"/><use href="#h2" transform="translate(53.7,627.9) rotate(110)"/><use href="#h2" transform="translate(40.8,628.6) rotate(157)"/><use href="#h2" transform="translate(286.9,798.6) rotate(48)"/><use href="#h2" transform="translate(144.8,747.5) rotate(40)"/><use href="#h2" transform="translate(294.7,590.7) rotate(55)"/><use href="#h2" transform="translate(159.1,816.6) rotate(138)"/><use href="#h2" transform="translate(158.3,813.3) rotate(94)"/><g transform="translate(0,0)" fill="none" stroke-linecap="round">
<path d="M194.8,705.8 194.7,707.3 194.7,708.8 194.7,710.3 194.6,711.9 194.5,713.4 194.4,714.9 194.4,716.6 194.2,718.2 194.1,719.8 193.9,721.4 193.7,723.1 193.5,724.7 193.2,726.6 192.8,728.4 192.3,730.3 191.7,732.1 191,733.8 190.2,735.7 189.2,737.6 188.1,739.4 186.8,741.2 185.3,742.8 183.8,744.3 182.1,745.7 180.2,747 178.2,748.1 176.1,749 174.1,749.7 171.8,750.2 169.4,750.6 167,750.6 164.6,750.4 161.9,749.7 159.7,748.9 157.6,747.9 155.6,746.6 153.3,744.7 151.7,742.8 150.3,740.9 149.2,738.9 148.3,736.8 147.7,734.9 147.1,733.2 146.7,731.4 146.3,729.6 146,727.8 145.7,726.3 145.5,724.8 145.3,723.2 145.1,721.7 144.9,720.1 144.7,718.6 144.5,717.1 144.4,715.5 144.2,713.9 144.1,712.2 144,710.4 143.9,708.6 144,706.8 144.1,705 144.2,703.2 144.5,701.4 144.8,699.6 145.1,697.8 145.5,696.1 146,694.3 146.6,692.6 147.2,690.8 147.9,689.1 148.7,687.5 149.5,685.8 150.5,684.2 151.4,682.6 152.5,681.1 153.6,679.6 154.8,678.1 156,676.7 157.3,675.4 158.7,674.1 160.1,672.9 161.5,671.7 163,670.6 164.5,669.6 166.1,668.6 167.7,667.7 169.3,666.9 170.9,666.1 172.6,665.4 174.3,664.8 176,664.2 177.8,663.6 179.5,663.2 181.3,662.8 183.1,662.5 184.9,662.2 186.7,662 188.5,661.9 190.3,661.8 192.1,661.8 193.9,661.9 195.8,662 197.6,662.2 199.4,662.5 201.2,662.9 203,663.3 204.8,663.8 206.5,664.4 208.3,665 210,665.8 211.6,666.5 213.3,667.4 214.9,668.3 216.4,669.2 217.9,670.3 219.4,671.3 220.8,672.5 222.2,673.7 223.5,674.9 224.8,676.2 226.1,677.5 227.2,678.8 228.4,680.2 229.5,681.6 230.5,683.1 231.5,684.5 232.4,686 233.3,687.6 234.1,689.1 234.9,690.7 235.6,692.2 236.3,693.8 237,695.4 237.6,697 238.2,698.6 238.7,700.3 239.2,701.9 239.6,703.5 240,705.2 240.4,706.8 240.7,708.5 241,710.2 241.2,711.8 241.5,713.5 241.6,715.2 241.8,716.8 241.9,718.5 242,720.2 242,721.8 242,723.5 242,725.2 242,726.9 241.9,728.5 241.7,730.2 241.6,731.9 241.4,733.5 241.2,735.2 240.9,736.9 240.6,738.5 240.3,740.2 239.9,741.8 239.5,743.5 239.1,745.1 238.6,746.7 238.1,748.4 237.5,750 236.9,751.6 236.3,753.1 235.6,754.7 234.9,756.3 234.1,757.8 233.3,759.3 232.5,760.8 231.6,762.3 230.7,763.8 229.7,765.2 228.8,766.6 227.7,768 226.7,769.4 225.6,770.7 224.4,772 223.3,773.3 222.1,774.5 220.8,775.7 219.6,776.9 218.3,778 217,779.1 215.6,780.2 214.2,781.3 212.9,782.3 211.4,783.2 210,784.1 208.5,785 207.1,785.9 205.6,786.7 204,787.5 202.5,788.2 201,788.9 199.4,789.6 197.8,790.2 196.2,790.8 194.7,791.4 193,791.9 191.4,792.4 189.8,792.8 188.2,793.3 186.5,793.6 184.9,794 183.2,794.3 181.6,794.6 179.9,794.8 178.2,795 176.5,795.2 174.8,795.3 173.2,795.4 171.5,795.4 169.8,795.4 168.1,795.4 166.4,795.4 164.7,795.3 163,795.1 161.3,794.9 159.6,794.7 157.9,794.4 156.2,794.1 154.5,793.8 152.9,793.4 151.2,793 149.6,792.5 147.9,792 146.3,791.4 144.7,790.8 143.1,790.2 141.5,789.5 140,788.8 138.4,788 136.9,787.2 135.4,786.4 133.9,785.5 132.5,784.6 131,783.6 129.6,782.6 128.2,781.6 126.9,780.5 125.6,779.4 124.3,778.3 123,777.1 121.8,776 120.6,774.7 119.4,773.5 118.3,772.2 117.1,770.9 116.1,769.6 115,768.3 114,766.9 113,765.5 112.1,764.1 111.2,762.7 110.3,761.3 109.4,759.8 108.6,758.3 107.9,756.9 107.1,755.4 106.4,753.8 105.7,752.3 105,750.8 104.4,749.2 103.8,747.7 103.3,746.1 102.7,744.6 102.2,743 101.7,741.4 101.3,739.8 100.9,738.2 100.5,736.6 100.1,735 99.8,733.4 99.5,731.8 99.2,730.2 98.9,728.6 98.7,727 98.5,725.3 98.3,723.7 98.1,722.1 98,720.5 97.9,718.8 97.8,717.2 97.8,715.6 97.7,714 97.7,712.3 97.7,710.7 97.8,709.1 97.8,707.5 97.9,705.8 98,704.2 98.1,702.6 98.3,701 98.5,699.4 98.7,697.7 98.9,696.1 99.2,694.5 99.4,692.9 99.7,691.3 100.1,689.7 100.4,688.1 100.8,686.5 101.2,684.9 101.6,683.3 102.1,681.8 102.5,680.2 103,678.6 103.6,677.1 104.1,675.5 104.7,674 105.3,672.5 106,670.9 106.6,669.4 107.3,667.9 108,666.4 108.8,665 109.6,663.5 110.4,662.1 111.2,660.6 112,659.2 112.9,657.8 113.8,656.4 114.8,655 115.7,653.7 116.7,652.3 117.7,651 118.7,649.7 119.8,648.4 120.9,647.2 122,645.9 123.1,644.7 124.3,643.5 125.5,642.3 126.7,641.2 127.9,640 129.1,638.9 130.4,637.9 131.7,636.8 133,635.8 134.3,634.8 135.6,633.8 137,632.8 138.3,631.9 139.7,631 141.1,630.1 142.5,629.2 144,628.4 145.4,627.6 146.9,626.8 148.3,626.1 149.8,625.4 151.3,624.7 152.8,624 154.3,623.3 155.8,622.7 157.3,622.1 158.9,621.5 160.4,621 162,620.5 163.5,620 165.1,619.5 166.7,619 168.3,618.6 169.8,618.2 171.4,617.8 173,617.5 174.6,617.2 176.2,616.9 177.8,616.6 179.5,616.3 181.1,616.1 182.7,615.9 184.3,615.7 185.9,615.6 187.6,615.5 189.2,615.4 190.8,615.3 192.5,615.2 194.1,615.2 195.8,615.2 197.4,615.3 199,615.3 200.7,615.4 202.3,615.5 204,615.7 205.6,615.8 207.2,616 208.9,616.2 210.5,616.5 212.1,616.8 213.7,617.1 215.4,617.4 217,617.8 218.6,618.2 220.2,618.6 221.8,619.1 223.4,619.6 224.9,620.1 226.5,620.6 228.1,621.2 229.6,621.8 231.1,622.4 232.7,623.1 234.2,623.8 235.7,624.5 237.2,625.3 238.6,626 240.1,626.8 241.5,627.7 243,628.5 244.4,629.4 245.8,630.3 247.1,631.3 248.5,632.2 249.8,633.2 251.1,634.3 252.4,635.3 253.7,636.4 255,637.5 256.2,638.6 257.4,639.7 258.6,640.9 259.8,642 260.9,643.2 262,644.5 263.1,645.7 264.2,647 265.3,648.2 266.3,649.5 267.3,650.9 268.3,652.2 269.2,653.5 270.2,654.9 271.1,656.3 272,657.7 272.8,659.1 273.7,660.5 274.5,661.9 275.2,663.3 276,664.8 276.7,666.3 277.5,667.7 278.1,669.2 278.8,670.7 279.5,672.2 280.1,673.7 280.7,675.2 281.2,676.8 281.8,678.3 282.3,679.8 282.8,681.4 283.3,682.9 283.7,684.5 284.2,686 284.6,687.6 285,689.2 285.4,690.7 285.7,692.3 286,693.9 286.4,695.5 286.6,697.1 286.9,698.6 287.2,700.2 287.4,701.8 287.6,703.4 287.8,705 287.9,706.6 288.1,708.2 288.2,709.8 288.3,711.4 288.4,713 288.5,714.6 288.6,716.2 288.6,717.8 288.6,719.4 288.6,721 288.6,722.6 288.6,724.2 288.5,725.8 288.4,727.4 288.3,729 288.2,730.6 288.1,732.2 288,733.8 287.8,735.4 287.6,736.9 287.4,738.5 287.2,740.1 286.9,741.7 286.7,743.3 286.4,744.9 286.1,746.4 285.8,748 285.5,749.6 285.1,751.1 284.7,752.7 284.3,754.3 283.9,755.8 283.5,757.4 283.1,758.9 282.6,760.4 282.1,762 281.6,763.5 281.1,765 280.5,766.5 279.9,768.1 279.3,769.6 278.7,771.1 278.1,772.5 277.5,774 276.8,775.5 276.1,777 275.4,778.4 274.6,779.9 273.9,781.3 273.1,782.7 272.3,784.1 271.5,785.5 270.7,786.9 269.8,788.3 268.9,789.7 268,791 267.1,792.4 266.2,793.7 265.2,795 264.2,796.3 263.2,797.6 262.2,798.9 261.2,800.1 260.1,801.4 259.1,802.6 258,803.8 256.9,805 255.8,806.2 254.6,807.4 253.5,808.5 252.3,809.6 251.1,810.7 249.9,811.8 248.7,812.9 247.4,814 246.2,815 244.9,816 243.6,817 242.3,818 241,818.9 239.7,819.9 238.3,820.8 237,821.7 235.6,822.6 234.3,823.4 232.9,824.3 231.5,825.1 230.1,825.9 228.7,826.7 227.2,827.5 225.8,828.2 224.4,828.9 222.9,829.6 221.4,830.3 220,831 218.5,831.6 217,832.3 215.5,832.9 214,833.4 212.5,834 211,834.6 209.5,835.1 208,835.6 206.4,836.1 204.9,836.6 203.3,837 201.8,837.4 200.3,837.9 198.7,838.3 197.1,838.6 195.6,839 194,839.3 192.4,839.6 190.9,839.9 189.3,840.2 187.7,840.5 186.1,840.7 184.5,841 182.9,841.2 181.3,841.4 179.7,841.5 178.2,841.7 176.6,841.8 174.9,841.9 173.3,842 171.7,842.1 170.1,842.1 168.5,842.1 166.9,842.2 165.3,842.2 163.7,842.1 162.1,842.1 160.5,842 158.9,841.9 157.3,841.8 155.7,841.7 154.1,841.5 152.5,841.3 150.9,841.1 149.3,840.9 147.7,840.7 146.1,840.4 144.5,840.1 142.9,839.8 141.3,839.5 139.7,839.1 138.1,838.8 136.6,838.4 135,838 133.4,837.5 131.9,837.1 130.3,836.6 128.8,836.1 127.2,835.5 125.7,835 124.2,834.4 122.7,833.8 121.2,833.2 119.7,832.6 118.2,831.9 116.7,831.2 115.2,830.5 113.8,829.8 112.3,829 110.9,828.2 109.5,827.4 108.1,826.6 106.7,825.8 105.3,824.9 103.9,824 102.6,823.1 101.2,822.2 99.9,821.3 98.6,820.3 97.3,819.3 96,818.3 94.7,817.3 93.5,816.2 92.2,815.2 91,814.1 89.8,813 88.6,811.9 87.4,810.7 86.3,809.6 85.2,808.4 84,807.2 82.9,806 81.9,804.8 80.8,803.6 79.8,802.3 78.7,801.1 77.7,799.8 76.7,798.5 75.8,797.2 74.8,795.9 73.9,794.6 73,793.2 72.1,791.9 71.2,790.5 70.4,789.1 69.5,787.7 68.7,786.3 67.9,784.9 67.2,783.5 66.4,782.1 65.7,780.6 64.9,779.2 64.2,777.7 63.6,776.3 62.9,774.8 62.3,773.3 61.7,771.9 61.1,770.4 60.5,768.9 59.9,767.4 59.4,765.9 58.8,764.3 58.3,762.8 57.8,761.3 57.4,759.8 56.9,758.2 56.5,756.7 56.1,755.2 55.7,753.6 55.3,752.1 54.9,750.5 54.6,749 54.2,747.4 53.9,745.8 53.6,744.3 53.3,742.7 53.1,741.1 52.8,739.6 52.6,738 52.4,736.4 52.2,734.8 52,733.3 51.8,731.7 51.7,730.1 51.5,728.5 51.4,726.9 51.3,725.4 51.2,723.8 51.2,722.2 51.1,720.6 51,719 51,717.5 51,715.9 51,714.3 51,712.7 51.1,711.1 51.1,709.5 51.2,708 51.2,706.4 51.3,704.8 51.4,703.2 51.6,701.7 51.7,700.1 51.9,698.5 52,696.9 52.2,695.4 52.4,693.8 52.6,692.2 52.8,690.7 53.1,689.1 53.3,687.5 53.6,686 53.9,684.4 54.2,682.9 54.5,681.3 54.8,679.8 55.2,678.2 55.6,676.7 55.9,675.1 56.3,673.6 56.7,672 57.2,670.5 57.6,669 58.1,667.5 58.5,666 59,664.4 59.5,662.9 60.1,661.4 60.6,659.9 61.2,658.4 61.7,656.9 62.3,655.5 62.9,654 63.5,652.5 64.2,651.1 64.8,649.6 65.5,648.2 66.2,646.7 66.9,645.3 67.6,643.8 68.4,642.4 69.1,641 69.9,639.6 70.7,638.2 71.5,636.8 72.3,635.5 73.1,634.1 74,632.7 74.8,631.4 75.7,630 76.6,628.7 77.5,627.4 78.5,626.1 79.4,624.8 80.4,623.5 81.4,622.2 82.4,621 83.4,619.7 84.4,618.5 85.4,617.3 86.5,616.1 87.6,614.9 88.6,613.7 89.7,612.5 90.9,611.4 92,610.2 93.1,609.1 94.3,608 95.4,606.9 96.6,605.8 97.8,604.7 99,603.7 100.2,602.6 101.5,601.6 102.7,600.6 104,599.6 105.3,598.6 106.5,597.6 107.8,596.7 109.1,595.8 110.4,594.8 111.8,593.9 112.6,593.4" stroke="#6fc2c4" stroke-width="6.5"/>
<path d="M177.8,705.2 177.8,706.7 177.7,708.2 177.7,709.7 177.6,711.1 177.5,712.6 177.5,714.1 177.4,715.4 177.3,716.8 177.2,718.2 177,719.5 176.9,720.9 176.7,722.3 176.5,723.3 176.3,724.4 176,725.4 175.6,726.5 175.2,727.5 174.9,728.4 174.5,729.2 174.1,729.8 173.6,730.4 173.1,731.1 172.4,731.7 171.9,732.1 171.3,732.5 170.7,732.8 170.1,733.1 169.2,733.4 168.7,733.5 168.2,733.6 167.7,733.6 167.2,733.6 167,733.5 166.4,733.3 165.9,733 165.4,732.7 165.4,732.7 165.1,732.4 164.7,731.9 164.4,731.4 164.2,730.8 163.8,729.7 163.5,728.6 163.2,727.5 163,726.3 162.8,725.2 162.5,723.7 162.3,722.3 162.1,720.9 161.9,719.5 161.8,718 161.6,716.6 161.4,715.1 161.3,713.7 161.1,712.3 161,711.1 161,709.8 160.9,708.6 161,707.5 161,706.2 161.1,705 161.3,703.8 161.5,702.7 161.7,701.5 162,700.3 162.3,699.2 162.7,698.1 163.1,697 163.5,695.9 164,694.9 164.5,693.8 165.1,692.8 165.7,691.9 166.3,690.9 167,690 167.7,689.1 168.5,688.3 169.3,687.5 170.1,686.7 171,685.9 171.9,685.2 172.8,684.5 173.8,683.9 174.8,683.3 175.8,682.7 176.8,682.1 177.9,681.6 179,681.2 180.1,680.7 181.2,680.4 182.4,680 183.5,679.7 184.7,679.5 185.9,679.2 187,679.1 188.2,678.9 189.4,678.8 190.6,678.8 191.8,678.8 192.9,678.9 194.1,678.9 195.3,679.1 196.4,679.3 197.6,679.5 198.7,679.8 199.8,680.1 200.9,680.4 202,680.8 203.1,681.3 204.1,681.8 205.2,682.3 206.2,682.9 207.2,683.5 208.1,684.2 209.1,684.9 210,685.6 210.9,686.4 211.8,687.2 212.7,688 213.5,688.9 214.3,689.8 215,690.7 215.8,691.7 216.5,692.7 217.2,693.7 217.8,694.8 218.5,695.9 219.1,697 219.6,698.1 220.2,699.3 220.7,700.4 221.2,701.6 221.6,702.8 222,704 222.4,705.3 222.8,706.5 223.1,707.8 223.4,709 223.7,710.3 224,711.6 224.2,712.9 224.4,714.2 224.6,715.5 224.7,716.8 224.8,718.2 224.9,719.5 225,720.8 225,722.1 225,723.5 225,724.8 225,726.1 224.9,727.5 224.8,728.8 224.7,730.1 224.5,731.4 224.4,732.7 224.1,734 223.9,735.3 223.7,736.6 223.4,737.9 223,739.2 222.7,740.5 222.3,741.7 221.9,743 221.5,744.2 221,745.4 220.6,746.6 220.1,747.8 219.5,749 218.9,750.1 218.3,751.3 217.7,752.4 217.1,753.5 216.4,754.6 215.7,755.6 215,756.7 214.2,757.7 213.4,758.7 212.6,759.7 211.8,760.7 210.9,761.6 210,762.5 209.1,763.4 208.2,764.3 207.2,765.2 206.2,766 205.2,766.8 204.2,767.6 203.1,768.3 202.1,769 201,769.7 199.9,770.4 198.7,771 197.6,771.7 196.4,772.3 195.3,772.8 194.1,773.4 192.9,773.9 191.7,774.4 190.4,774.8 189.2,775.3 188,775.7 186.7,776.1 185.4,776.4 184.2,776.7 182.9,777 181.6,777.3 180.3,777.6 179,777.8 177.7,777.9 176.4,778.1 175.1,778.2 173.8,778.3 172.4,778.4 171.1,778.4 169.8,778.4 168.5,778.4 167.2,778.4 165.9,778.3 164.6,778.2 163.3,778 162,777.9 160.8,777.7 159.5,777.4 158.2,777.2 157,776.9 155.7,776.6 154.5,776.2 153.2,775.8 152,775.4 150.8,775 149.6,774.5 148.5,774 147.3,773.4 146.1,772.9 145,772.3 143.9,771.6 142.8,771 141.7,770.3 140.6,769.6 139.6,768.8 138.6,768.1 137.5,767.3 136.6,766.5 135.6,765.6 134.6,764.7 133.7,763.8 132.8,762.9 131.9,762 131,761 130.2,760 129.4,759 128.6,758 127.8,756.9 127,755.9 126.3,754.8 125.6,753.7 124.9,752.6 124.2,751.4 123.6,750.3 123,749.1 122.4,747.9 121.8,746.7 121.3,745.5 120.7,744.3 120.2,743 119.8,741.8 119.3,740.5 118.9,739.2 118.5,737.9 118.1,736.6 117.7,735.3 117.4,734 117,732.7 116.7,731.4 116.4,730.1 116.2,728.7 116,727.4 115.7,726 115.5,724.7 115.4,723.3 115.2,721.9 115.1,720.6 115,719.2 114.9,717.8 114.8,716.5 114.8,715.1 114.7,713.7 114.7,712.3 114.7,711 114.8,709.6 114.8,708.2 114.9,706.8 115,705.5 115.1,704.1 115.2,702.7 115.4,701.3 115.5,700 115.7,698.6 115.9,697.3 116.2,695.9 116.4,694.6 116.7,693.2 117,691.9 117.3,690.5 117.6,689.2 118,687.9 118.4,686.6 118.8,685.3 119.2,684 119.6,682.7 120.1,681.4 120.6,680.2 121.1,678.9 121.6,677.7 122.1,676.4 122.7,675.2 123.3,674 123.9,672.8 124.5,671.6 125.2,670.4 125.8,669.2 126.5,668.1 127.2,666.9 128,665.8 128.7,664.7 129.5,663.6 130.3,662.5 131.1,661.5 132,660.4 132.8,659.4 133.7,658.4 134.6,657.4 135.5,656.4 136.4,655.4 137.4,654.5 138.3,653.5 139.3,652.6 140.3,651.7 141.3,650.9 142.4,650 143.4,649.2 144.5,648.4 145.6,647.6 146.7,646.8 147.8,646 148.9,645.3 150.1,644.6 151.2,643.9 152.4,643.2 153.6,642.5 154.8,641.9 156,641.3 157.2,640.7 158.4,640.1 159.7,639.5 160.9,639 162.2,638.5 163.4,638 164.7,637.5 166,637 167.3,636.6 168.6,636.2 169.9,635.8 171.2,635.4 172.5,635.1 173.9,634.7 175.2,634.4 176.5,634.1 177.9,633.8 179.2,633.6 180.6,633.4 181.9,633.1 183.3,633 184.6,632.8 186,632.6 187.4,632.5 188.7,632.4 190.1,632.3 191.5,632.3 192.8,632.2 194.2,632.2 195.6,632.2 196.9,632.2 198.3,632.3 199.6,632.4 201,632.5 202.4,632.6 203.7,632.7 205.1,632.9 206.4,633.1 207.7,633.3 209.1,633.5 210.4,633.8 211.7,634 213,634.3 214.3,634.7 215.6,635 216.9,635.4 218.2,635.8 219.5,636.2 220.8,636.6 222,637.1 223.3,637.6 224.5,638.1 225.8,638.6 227,639.2 228.2,639.8 229.4,640.4 230.6,641 231.7,641.6 232.9,642.3 234,643 235.2,643.7 236.3,644.5 237.4,645.2 238.5,646 239.6,646.8 240.6,647.6 241.7,648.4 242.7,649.3 243.7,650.2 244.7,651.1 245.7,652 246.6,652.9 247.6,653.9 248.5,654.9 249.4,655.9 250.3,656.9 251.2,657.9 252,658.9 252.9,660 253.7,661.1 254.5,662.1 255.3,663.3 256.1,664.4 256.8,665.5 257.5,666.6 258.2,667.8 258.9,669 259.6,670.2 260.3,671.4 260.9,672.6 261.5,673.8 262.1,675 262.7,676.3 263.2,677.5 263.8,678.8 264.3,680 264.8,681.3 265.3,682.6 265.7,683.9 266.2,685.2 266.6,686.5 267,687.8 267.4,689.2 267.8,690.5 268.1,691.8 268.5,693.2 268.8,694.5 269.1,695.9 269.4,697.3 269.6,698.6 269.9,700 270.1,701.4 270.3,702.7 270.5,704.1 270.7,705.5 270.9,706.9 271,708.3 271.2,709.7 271.3,711.1 271.4,712.5 271.5,713.9 271.5,715.3 271.6,716.7 271.6,718.1 271.6,719.5 271.6,720.9 271.6,722.3 271.6,723.7 271.5,725.1 271.5,726.5 271.4,727.9 271.3,729.3 271.2,730.7 271,732.1 270.9,733.5 270.7,734.9 270.6,736.3 270.4,737.7 270.1,739.1 269.9,740.4 269.7,741.8 269.4,743.2 269.1,744.6 268.9,745.9 268.5,747.3 268.2,748.7 267.9,750 267.5,751.4 267.2,752.7 266.8,754 266.4,755.4 265.9,756.7 265.5,758 265,759.3 264.6,760.6 264.1,761.9 263.6,763.2 263,764.5 262.5,765.8 261.9,767.1 261.4,768.3 260.8,769.6 260.2,770.8 259.5,772.1 258.9,773.3 258.2,774.5 257.6,775.7 256.9,776.9 256.2,778.1 255.4,779.2 254.7,780.4 253.9,781.6 253.1,782.7 252.4,783.8 251.5,784.9 250.7,786 249.9,787.1 249,788.2 248.1,789.3 247.3,790.3 246.4,791.3 245.4,792.4 244.5,793.4 243.6,794.4 242.6,795.3 241.6,796.3 240.6,797.3 239.6,798.2 238.6,799.1 237.5,800 236.5,800.9 235.4,801.8 234.4,802.7 233.3,803.5 232.2,804.3 231.1,805.1 229.9,805.9 228.8,806.7 227.7,807.5 226.5,808.2 225.3,809 224.1,809.7 222.9,810.4 221.7,811.1 220.5,811.8 219.3,812.4 218.1,813.1 216.8,813.7 215.6,814.3 214.3,814.9 213.1,815.4 211.8,816 210.5,816.5 209.2,817.1 207.9,817.6 206.6,818.1 205.3,818.5 204,819 202.7,819.4 201.3,819.9 200,820.3 198.7,820.7 197.3,821.1 196,821.4 194.6,821.8 193.2,822.1 191.9,822.4 190.5,822.7 189.1,823 187.8,823.2 186.4,823.5 185,823.7 183.6,823.9 182.2,824.1 180.9,824.3 179.5,824.5 178.1,824.6 176.7,824.7 175.3,824.8 173.9,824.9 172.5,825 171.1,825.1 169.7,825.1 168.3,825.2 166.9,825.2 165.5,825.2 164.1,825.1 162.7,825.1 161.3,825 160,824.9 158.6,824.8 157.2,824.7 155.8,824.6 154.4,824.4 153,824.3 151.7,824.1 150.3,823.9 148.9,823.7 147.6,823.4 146.2,823.2 144.8,822.9 143.5,822.6 142.1,822.3 140.8,821.9 139.5,821.6 138.1,821.2 136.8,820.8 135.5,820.4 134.2,820 132.9,819.5 131.6,819 130.3,818.6 129,818.1 127.8,817.5 126.5,817 125.2,816.4 124,815.8 122.8,815.3 121.5,814.6 120.3,814 119.1,813.3 117.9,812.7 116.7,812 115.5,811.3 114.4,810.6 113.2,809.8 112.1,809.1 111,808.3 109.8,807.5 108.7,806.7 107.6,805.8 106.6,805 105.5,804.1 104.4,803.3 103.4,802.4 102.4,801.5 101.4,800.5 100.4,799.6 99.4,798.6 98.4,797.7 97.4,796.7 96.5,795.7 95.6,794.7 94.7,793.6 93.8,792.6 92.9,791.5 92,790.5 91.1,789.4 90.3,788.3 89.5,787.2 88.7,786 87.9,784.9 87.1,783.8 86.4,782.6 85.6,781.5 84.9,780.3 84.2,779.1 83.5,777.9 82.8,776.7 82.1,775.5 81.5,774.2 80.8,773 80.2,771.8 79.6,770.5 79,769.2 78.5,768 77.9,766.7 77.4,765.4 76.9,764.1 76.3,762.8 75.9,761.5 75.4,760.2 74.9,758.9 74.5,757.5 74,756.2 73.6,754.9 73.2,753.5 72.9,752.2 72.5,750.8 72.1,749.4 71.8,748.1 71.5,746.7 71.2,745.3 70.9,743.9 70.6,742.6 70.3,741.2 70.1,739.8 69.8,738.4 69.6,737 69.4,735.6 69.2,734.2 69.1,732.8 68.9,731.4 68.7,730 68.6,728.6 68.5,727.2 68.4,725.7 68.3,724.3 68.2,722.9 68.1,721.5 68.1,720.1 68,718.7 68,717.2 68,715.8 68,714.4 68,713 68.1,711.6 68.1,710.1 68.2,708.7 68.2,707.3 68.3,705.9 68.4,704.5 68.5,703 68.6,701.6 68.8,700.2 68.9,698.8 69.1,697.4 69.3,696 69.4,694.6 69.7,693.2 69.9,691.8 70.1,690.4 70.3,689 70.6,687.6 70.9,686.2 71.2,684.8 71.4,683.4 71.8,682 72.1,680.6 72.4,679.3 72.8,677.9 73.1,676.5 73.5,675.2 73.9,673.8 74.3,672.5 74.7,671.1 75.2,669.8 75.6,668.4 76.1,667.1 76.6,665.8 77.1,664.4 77.6,663.1 78.1,661.8 78.6,660.5 79.2,659.2 79.7,657.9 80.3,656.6 80.9,655.4 81.5,654.1 82.1,652.8 82.8,651.6 83.4,650.3 84.1,649.1 84.7,647.9 85.4,646.7 86.1,645.4 86.8,644.2 87.6,643 88.3,641.9 89.1,640.7 89.8,639.5 90.6,638.3 91.4,637.2 92.2,636.1 93.1,634.9 93.9,633.8 94.8,632.7 95.6,631.6 96.5,630.5 97.4,629.4 98.3,628.4 99.2,627.3 100.2,626.3 101.1,625.3 102.1,624.2 103,623.2 104,622.2 105,621.3 106,620.3 107,619.3 108.1,618.4 109.1,617.4 110.1,616.5 111.2,615.6 112.3,614.7 113.4,613.8 114.5,613 115.6,612.1 116.7,611.3 117.8,610.4 119,609.6 120.1,608.8 121.2,608 122.1,607.5" stroke="#c4c4c4" stroke-width="5.5"/>
<path d="M186.2,705.5 186.2,707 186.1,708.5 186.1,710 186,711.5 185.9,713 185.9,714.5 185.8,716 185.7,717.5 185.5,719 185.4,720.5 185.2,722 185,723.5 184.7,724.9 184.4,726.4 184,727.8 183.6,729.2 183,730.6 182.5,732 181.8,733.3 181,734.6 180.1,735.8 179.1,736.9 178.1,737.9 176.9,738.8 175.7,739.7 174.4,740.4 173.1,741 171.7,741.4 170.2,741.8 168.8,742 167.4,742 165.9,741.9 164.5,741.5 163.1,741 161.8,740.4 160.6,739.6 159.4,738.6 158.5,737.5 157.6,736.4 156.9,735.1 156.3,733.7 155.8,732.3 155.4,730.9 155,729.4 154.7,728 154.5,726.5 154.2,725 154,723.5 153.8,722 153.6,720.6 153.4,719.1 153.2,717.6 153.1,716.1 152.9,714.6 152.8,713.1 152.6,711.6 152.6,710.1 152.5,708.6 152.6,707.1 152.7,705.6 152.8,704.1 153,702.6 153.2,701.2 153.5,699.7 153.9,698.2 154.3,696.8 154.7,695.4 155.2,694 155.8,692.6 156.4,691.2 157.1,689.9 157.9,688.6 158.6,687.3 159.5,686.1 160.4,684.9 161.3,683.7 162.3,682.6 163.4,681.5 164.5,680.5 165.6,679.5 166.8,678.5 168,677.7 169.2,676.8 170.5,676 171.8,675.3 173.1,674.6 174.5,674 175.8,673.4 177.2,672.8 178.7,672.4 180.1,671.9 181.5,671.5 183,671.2 184.5,670.9 186,670.7 187.4,670.6 188.9,670.5 190.4,670.4 191.9,670.4 193.4,670.5 194.9,670.6 196.4,670.8 197.9,671 199.4,671.3 200.8,671.6 202.3,672 203.7,672.5 205.1,673 206.5,673.6 207.8,674.2 209.2,674.9 210.5,675.7 211.7,676.5 213,677.3 214.2,678.2 215.4,679.1 216.5,680.1 217.6,681.1 218.7,682.2 219.7,683.3 220.7,684.4 221.6,685.5 222.5,686.7 223.4,688 224.2,689.2 225,690.5 225.8,691.8 226.5,693.1 227.2,694.4 227.8,695.8 228.4,697.2 229,698.5 229.5,699.9 230,701.4 230.5,702.8 230.9,704.2 231.3,705.7 231.6,707.1 231.9,708.6 232.2,710.1 232.5,711.5 232.7,713 232.9,714.5 233.1,716 233.2,717.5 233.3,719 233.4,720.5 233.4,722 233.4,723.5 233.4,725 233.4,726.5 233.3,728 233.2,729.5 233,731 232.9,732.5 232.7,734 232.4,735.4 232.2,736.9 231.9,738.4 231.5,739.9 231.2,741.3 230.8,742.8 230.4,744.2 229.9,745.6 229.4,747 228.9,748.4 228.3,749.8 227.7,751.2 227.1,752.6 226.4,753.9 225.7,755.2 225,756.6 224.3,757.8 223.5,759.1 222.6,760.4 221.8,761.6 220.9,762.8 220,764 219,765.1 218,766.3 217,767.4 216,768.5 214.9,769.5 213.8,770.5 212.7,771.5 211.5,772.5 210.3,773.4 209.2,774.3 207.9,775.2 206.7,776 205.4,776.8 204.1,777.6 202.8,778.4 201.5,779.1 200.2,779.8 198.8,780.4 197.5,781.1 196.1,781.6 194.7,782.2 193.3,782.7 191.9,783.2 190.5,783.7 189,784.1 187.6,784.5 186.1,784.9 184.7,785.2 183.2,785.5 181.7,785.8 180.3,786.1 178.8,786.3 177.3,786.5 175.8,786.6 174.3,786.7 172.8,786.8 171.3,786.8 169.8,786.8 168.3,786.8 166.8,786.8 165.3,786.7 163.8,786.6 162.3,786.4 160.8,786.2 159.3,786 157.9,785.7 156.4,785.4 154.9,785 153.5,784.7 152.1,784.2 150.6,783.8 149.2,783.3 147.8,782.8 146.4,782.2 145,781.6 143.7,781 142.3,780.3 141,779.6 139.7,778.9 138.4,778.1 137.1,777.3 135.9,776.5 134.7,775.6 133.5,774.7 132.3,773.8 131.1,772.9 130,771.9 128.9,770.9 127.8,769.8 126.7,768.8 125.7,767.7 124.7,766.6 123.7,765.4 122.8,764.3 121.9,763.1 121,761.9 120.1,760.6 119.3,759.4 118.5,758.1 117.7,756.9 116.9,755.6 116.2,754.3 115.5,752.9 114.8,751.6 114.2,750.2 113.6,748.9 113,747.5 112.4,746.1 111.9,744.7 111.4,743.3 110.9,741.9 110.4,740.4 110,739 109.6,737.6 109.2,736.1 108.9,734.6 108.5,733.2 108.2,731.7 107.9,730.2 107.7,728.8 107.4,727.3 107.2,725.8 107,724.3 106.9,722.8 106.7,721.3 106.6,719.8 106.5,718.3 106.4,716.8 106.4,715.3 106.3,713.8 106.3,712.3 106.3,710.8 106.4,709.3 106.4,707.8 106.5,706.3 106.6,704.8 106.7,703.3 106.9,701.9 107,700.4 107.2,698.9 107.4,697.4 107.6,695.9 107.9,694.4 108.2,693 108.5,691.5 108.8,690 109.1,688.6 109.5,687.1 109.9,685.7 110.3,684.2 110.7,682.8 111.2,681.3 111.7,679.9 112.2,678.5 112.7,677.1 113.3,675.7 113.9,674.3 114.5,673 115.1,671.6 115.7,670.3 116.4,668.9 117.1,667.6 117.8,666.3 118.6,665 119.4,663.7 120.2,662.4 121,661.2 121.8,659.9 122.7,658.7 123.6,657.5 124.5,656.3 125.4,655.1 126.4,654 127.4,652.8 128.4,651.7 129.4,650.6 130.4,649.5 131.5,648.5 132.6,647.4 133.7,646.4 134.8,645.4 135.9,644.4 137.1,643.5 138.3,642.5 139.4,641.6 140.7,640.7 141.9,639.9 143.1,639 144.4,638.2 145.6,637.4 146.9,636.6 148.2,635.9 149.5,635.2 150.9,634.4 152.2,633.8 153.5,633.1 154.9,632.5 156.3,631.8 157.6,631.3 159,630.7 160.4,630.1 161.8,629.6 163.2,629.1 164.7,628.6 166.1,628.2 167.5,627.7 169,627.3 170.4,626.9 171.9,626.6 173.3,626.2 174.8,625.9 176.3,625.6 177.7,625.3 179.2,625.1 180.7,624.8 182.2,624.6 183.7,624.4 185.2,624.3 186.7,624.1 188.2,624 189.7,623.9 191.2,623.9 192.7,623.8 194.2,623.8 195.7,623.8 197.2,623.8 198.7,623.9 200.2,624 201.7,624.1 203.1,624.2 204.6,624.4 206.1,624.5 207.6,624.8 209.1,625 210.6,625.2 212,625.5 213.5,625.8 215,626.2 216.4,626.5 217.9,626.9 219.3,627.3 220.8,627.8 222.2,628.2 223.6,628.7 225,629.2 226.4,629.8 227.8,630.4 229.2,631 230.5,631.6 231.9,632.2 233.2,632.9 234.6,633.6 235.9,634.3 237.2,635.1 238.4,635.9 239.7,636.7 241,637.5 242.2,638.3 243.4,639.2 244.6,640.1 245.8,641 247,642 248.1,642.9 249.3,643.9 250.4,644.9 251.5,645.9 252.6,647 253.6,648 254.6,649.1 255.7,650.2 256.7,651.4 257.6,652.5 258.6,653.7 259.5,654.8 260.4,656 261.3,657.2 262.2,658.4 263,659.7 263.9,660.9 264.7,662.2 265.4,663.5 266.2,664.8 266.9,666.1 267.7,667.4 268.4,668.7 269,670.1 269.7,671.4 270.3,672.8 270.9,674.1 271.5,675.5 272.1,676.9 272.6,678.3 273.2,679.7 273.7,681.1 274.1,682.6 274.6,684 275.1,685.4 275.5,686.8 275.9,688.3 276.3,689.7 276.6,691.2 277,692.7 277.3,694.1 277.6,695.6 277.9,697.1 278.2,698.5 278.4,700 278.7,701.5 278.9,703 279.1,704.5 279.2,706 279.4,707.5 279.5,709 279.7,710.4 279.8,711.9 279.8,713.4 279.9,714.9 280,716.4 280,717.9 280,719.4 280,720.9 280,722.4 280,723.9 279.9,725.4 279.8,726.9 279.8,728.4 279.7,729.9 279.5,731.4 279.4,732.9 279.2,734.4 279.1,735.9 278.9,737.4 278.7,738.9 278.4,740.4 278.2,741.8 277.9,743.3 277.7,744.8 277.4,746.3 277.1,747.7 276.7,749.2 276.4,750.7 276,752.1 275.6,753.6 275.2,755 274.8,756.4 274.4,757.9 273.9,759.3 273.4,760.7 273,762.2 272.4,763.6 271.9,765 271.4,766.4 270.8,767.8 270.2,769.1 269.6,770.5 269,771.9 268.3,773.2 267.7,774.6 267,775.9 266.3,777.2 265.6,778.6 264.8,779.9 264.1,781.2 263.3,782.4 262.5,783.7 261.7,785 260.9,786.2 260,787.5 259.2,788.7 258.3,789.9 257.4,791.1 256.5,792.3 255.5,793.5 254.6,794.6 253.6,795.8 252.6,796.9 251.6,798 250.6,799.1 249.6,800.2 248.5,801.3 247.5,802.3 246.4,803.4 245.3,804.4 244.2,805.4 243,806.4 241.9,807.4 240.7,808.3 239.6,809.3 238.4,810.2 237.2,811.1 236,812 234.8,812.8 233.5,813.7 232.3,814.5 231,815.3 229.7,816.1 228.5,816.9 227.2,817.7 225.9,818.4 224.6,819.1 223.2,819.9 221.9,820.5 220.6,821.2 219.2,821.9 217.8,822.5 216.5,823.1 215.1,823.7 213.7,824.3 212.3,824.9 210.9,825.4 209.5,825.9 208.1,826.5 206.7,827 205.3,827.4 203.9,827.9 202.4,828.3 201,828.7 199.5,829.2 198.1,829.5 196.6,829.9 195.2,830.3 193.7,830.6 192.2,830.9 190.8,831.2 189.3,831.5 187.8,831.8 186.3,832 184.9,832.2 183.4,832.4 181.9,832.6 180.4,832.8 178.9,833 177.4,833.1 175.9,833.2 174.4,833.3 172.9,833.4 171.4,833.5 169.9,833.5 168.4,833.5 166.9,833.6 165.4,833.6 163.9,833.5 162.4,833.5 160.9,833.4 159.4,833.3 157.9,833.2 156.4,833.1 154.9,833 153.4,832.8 152,832.6 150.5,832.4 149,832.2 147.5,831.9 146,831.7 144.6,831.4 143.1,831.1 141.6,830.8 140.2,830.4 138.7,830.1 137.3,829.7 135.8,829.3 134.4,828.8 132.9,828.4 131.5,827.9 130.1,827.4 128.7,826.9 127.3,826.4 125.9,825.8 124.5,825.3 123.1,824.7 121.8,824.1 120.4,823.4 119,822.8 117.7,822.1 116.4,821.4 115.1,820.7 113.7,820 112.4,819.2 111.2,818.4 109.9,817.7 108.6,816.8 107.4,816 106.1,815.2 104.9,814.3 103.7,813.4 102.5,812.5 101.3,811.6 100.2,810.6 99,809.7 97.9,808.7 96.8,807.7 95.6,806.7 94.5,805.7 93.5,804.6 92.4,803.6 91.4,802.5 90.3,801.4 89.3,800.3 88.3,799.2 87.4,798 86.4,796.9 85.4,795.7 84.5,794.5 83.6,793.3 82.7,792.1 81.8,790.9 81,789.7 80.1,788.4 79.3,787.2 78.5,785.9 77.7,784.6 76.9,783.4 76.2,782.1 75.4,780.8 74.7,779.4 74,778.1 73.3,776.8 72.7,775.4 72,774.1 71.4,772.7 70.8,771.3 70.2,770 69.6,768.6 69,767.2 68.5,765.8 68,764.4 67.5,763 67,761.6 66.5,760.1 66,758.7 65.6,757.3 65.2,755.8 64.8,754.4 64.4,753 64,751.5 63.6,750 63.3,748.6 63,747.1 62.6,745.7 62.3,744.2 62.1,742.7 61.8,741.2 61.6,739.7 61.3,738.3 61.1,736.8 60.9,735.3 60.7,733.8 60.5,732.3 60.4,730.8 60.2,729.3 60.1,727.8 60,726.3 59.9,724.8 59.8,723.3 59.7,721.8 59.7,720.3 59.6,718.8 59.6,717.3 59.6,715.8 59.6,714.3 59.6,712.8 59.7,711.3 59.7,709.8 59.8,708.3 59.8,706.8 59.9,705.4 60,703.9 60.1,702.4 60.3,700.9 60.4,699.4 60.6,697.9 60.7,696.4 60.9,694.9 61.1,693.4 61.3,691.9 61.6,690.4 61.8,689 62.1,687.5 62.3,686 62.6,684.5 62.9,683.1 63.2,681.6 63.6,680.1 63.9,678.7 64.3,677.2 64.7,675.8 65,674.3 65.4,672.9 65.9,671.4 66.3,670 66.7,668.6 67.2,667.1 67.7,665.7 68.2,664.3 68.7,662.9 69.2,661.5 69.7,660.1 70.3,658.7 70.9,657.3 71.4,655.9 72,654.5 72.7,653.2 73.3,651.8 73.9,650.4 74.6,649.1 75.3,647.8 76,646.4 76.7,645.1 77.4,643.8 78.1,642.5 78.9,641.2 79.6,639.9 80.4,638.6 81.2,637.3 82,636.1 82.9,634.8 83.7,633.6 84.6,632.4 85.4,631.1 86.3,629.9 87.2,628.7 88.1,627.5 89.1,626.4 90,625.2 91,624 91.9,622.9 92.9,621.8 93.9,620.7 94.9,619.5 96,618.5 97,617.4 98.1,616.3 99.1,615.2 100.2,614.2 101.3,613.2 102.4,612.2 103.5,611.2 104.7,610.2 105.8,609.2 106.9,608.2 108.1,607.3 109.3,606.4 110.5,605.4 111.7,604.5 112.9,603.6 114.1,602.8 115.3,601.9 116.6,601 117.4,600.5" stroke="#4a4a4a" stroke-width="10.5"/>
</g>
<g transform="translate(0,0)"><use href="#aw" x="176.6" y="706.7"/><use href="#aw" x="177.5" y="713.6"/><use href="#aw" x="175.8" y="719.4"/><use href="#aw" x="176.1" y="725.1"/><use href="#aw" x="173.4" y="728.6"/><use href="#aw" x="172.1" y="732"/><use href="#aw" x="168.9" y="732.2"/><use href="#aw" x="167.1" y="733.6"/><use href="#aw" x="166.2" y="731.9"/><use href="#aw" x="163.8" y="729.7"/><use href="#aw" x="163.9" y="724.5"/><use href="#aw" x="161.8" y="718.5"/><use href="#aw" x="162.3" y="711.8"/><use href="#aw" x="161" y="706.6"/><use href="#aw" x="163" y="701.4"/><use href="#aw" x="163.4" y="696.3"/><use href="#aw" x="166.7" y="692.5"/><use href="#aw" x="169" y="687.7"/><use href="#aw" x="173.5" y="685.5"/><use href="#aw" x="177.5" y="681.8"/><use href="#aw" x="182.7" y="681.2"/><use href="#aw" x="187.8" y="679"/><use href="#aw" x="192.9" y="680.1"/><use href="#aw" x="197.9" y="679.6"/><use href="#aw" x="202.6" y="682.4"/><use href="#aw" x="207.5" y="683.7"/><use href="#aw" x="211" y="688"/><use href="#aw" x="215.3" y="691.1"/><use href="#aw" x="217.2" y="696.1"/><use href="#aw" x="220.8" y="700.8"/><use href="#aw" x="221.5" y="706.4"/><use href="#aw" x="224.1" y="712"/><use href="#aw" x="223.6" y="717.8"/><use href="#aw" x="225" y="723.5"/><use href="#aw" x="223.5" y="729.6"/><use href="#aw" x="223.9" y="735.3"/><use href="#aw" x="221.3" y="740.9"/><use href="#aw" x="220.6" y="746.6"/><use href="#aw" x="216.9" y="751.4"/><use href="#aw" x="215" y="756.7"/><use href="#aw" x="210.6" y="760.2"/><use href="#aw" x="207.2" y="765.2"/><use href="#aw" x="202.1" y="767.6"/><use href="#aw" x="197.6" y="771.7"/><use href="#aw" x="192" y="772.9"/><use href="#aw" x="187.1" y="775.9"/><use href="#aw" x="180.9" y="776.2"/><use href="#aw" x="175.5" y="778.2"/><use href="#aw" x="169.4" y="777.2"/><use href="#aw" x="163.8" y="778.1"/><use href="#aw" x="158.5" y="776"/><use href="#aw" x="152.4" y="775.5"/><use href="#aw" x="147.8" y="772.3"/><use href="#aw" x="142.1" y="770.5"/><use href="#aw" x="138.3" y="766.3"/><use href="#aw" x="133.4" y="763.5"/><use href="#aw" x="130.3" y="758.3"/><use href="#aw" x="126.1" y="754.4"/><use href="#aw" x="124" y="748.5"/><use href="#aw" x="120.6" y="743.8"/><use href="#aw" x="119.7" y="738"/><use href="#aw" x="116.9" y="732.3"/><use href="#aw" x="117" y="726.3"/><use href="#aw" x="115" y="720.1"/><use href="#aw" x="115.9" y="714.1"/><use href="#aw" x="114.8" y="708.2"/><use href="#aw" x="116.5" y="701.9"/><use href="#aw" x="116.2" y="695.9"/><use href="#aw" x="118.7" y="690"/><use href="#aw" x="119.2" y="684"/><use href="#aw" x="122.3" y="678.9"/><use href="#aw" x="123.9" y="672.8"/><use href="#aw" x="127.8" y="668.3"/><use href="#aw" x="130.3" y="662.5"/><use href="#aw" x="134.9" y="658.8"/><use href="#aw" x="138" y="653.8"/><use href="#aw" x="143.5" y="650.7"/><use href="#aw" x="147.4" y="646.3"/><use href="#aw" x="153.4" y="644"/><use href="#aw" x="158" y="640.3"/><use href="#aw" x="163.9" y="639.1"/><use href="#aw" x="169.5" y="635.9"/><use href="#aw" x="175.5" y="635.6"/><use href="#aw" x="181.5" y="633.2"/><use href="#aw" x="187.5" y="633.7"/><use href="#aw" x="193.3" y="632.2"/><use href="#aw" x="199.6" y="633.6"/><use href="#aw" x="205.5" y="632.9"/><use href="#aw" x="211.5" y="635.2"/><use href="#aw" x="217.4" y="635.5"/><use href="#aw" x="222.4" y="638.5"/><use href="#aw" x="228.6" y="640"/><use href="#aw" x="233" y="643.8"/><use href="#aw" x="238.8" y="646.3"/><use href="#aw" x="242.6" y="650.8"/><use href="#aw" x="247.6" y="653.9"/><use href="#aw" x="250.8" y="659.3"/><use href="#aw" x="255.3" y="663.3"/><use href="#aw" x="257.7" y="669.2"/><use href="#aw" x="261.5" y="673.8"/><use href="#aw" x="262.8" y="679.7"/><use href="#aw" x="266.2" y="685.2"/><use href="#aw" x="266.7" y="691.3"/><use href="#aw" x="269.4" y="697.3"/><use href="#aw" x="269.2" y="703.4"/><use href="#aw" x="271.1" y="709.2"/><use href="#aw" x="270.3" y="715.8"/><use href="#aw" x="271.6" y="721.8"/><use href="#aw" x="270.1" y="728.3"/><use href="#aw" x="270.8" y="734.4"/><use href="#aw" x="268.7" y="740.2"/><use href="#aw" x="268.7" y="746.8"/><use href="#aw" x="266" y="752.4"/><use href="#aw" x="265.2" y="758.9"/><use href="#aw" x="261.9" y="764.1"/><use href="#aw" x="260.6" y="770"/><use href="#aw" x="256.5" y="775.1"/><use href="#aw" x="254.4" y="780.8"/><use href="#aw" x="250" y="784.9"/><use href="#aw" x="247" y="790.7"/><use href="#aw" x="242.1" y="794.2"/><use href="#aw" x="238.2" y="799.4"/><use href="#aw" x="232.9" y="802.3"/><use href="#aw" x="228.8" y="806.7"/><use href="#aw" x="222.7" y="809.1"/><use href="#aw" x="218.1" y="813.1"/><use href="#aw" x="211.7" y="814.7"/><use href="#aw" x="206.6" y="818.1"/><use href="#aw" x="200.5" y="818.9"/><use href="#aw" x="194.6" y="821.8"/><use href="#aw" x="188.5" y="821.9"/><use href="#aw" x="182.2" y="824.1"/><use href="#aw" x="176.1" y="823.6"/><use href="#aw" x="170.2" y="825.1"/><use href="#aw" x="163.7" y="823.9"/><use href="#aw" x="157.6" y="824.8"/><use href="#aw" x="151.4" y="822.8"/><use href="#aw" x="145.3" y="823"/><use href="#aw" x="139.8" y="820.4"/><use href="#aw" x="133.3" y="819.7"/><use href="#aw" x="128.2" y="816.4"/><use href="#aw" x="121.9" y="814.8"/><use href="#aw" x="117.3" y="811"/><use href="#aw" x="111.7" y="808.8"/><use href="#aw" x="107.3" y="804.1"/><use href="#aw" x="102" y="801.1"/><use href="#aw" x="98.3" y="795.8"/><use href="#aw" x="93.5" y="792.2"/><use href="#aw" x="90.7" y="786.8"/><use href="#aw" x="86.1" y="782.2"/><use href="#aw" x="84.1" y="776.5"/><use href="#aw" x="80" y="771.3"/><use href="#aw" x="78.7" y="765.4"/><use href="#aw" x="75.4" y="760.2"/><use href="#aw" x="74.5" y="753.6"/><use href="#aw" x="71.8" y="748.1"/><use href="#aw" x="71.6" y="741.4"/><use href="#aw" x="69.4" y="735.6"/><use href="#aw" x="69.9" y="729.4"/><use href="#aw" x="68.2" y="722.9"/><use href="#aw" x="69.2" y="716.8"/><use href="#aw" x="68.1" y="710.1"/><use href="#aw" x="69.6" y="704.1"/><use href="#aw" x="69" y="697.9"/><use href="#aw" x="71.1" y="691.5"/><use href="#aw" x="71.1" y="685.3"/><use href="#aw" x="73.7" y="679.1"/><use href="#aw" x="74.2" y="672.9"/><use href="#aw" x="77.2" y="667.5"/><use href="#aw" x="78.4" y="661"/><use href="#aw" x="82" y="655.9"/><use href="#aw" x="83.8" y="649.5"/><use href="#aw" x="87.9" y="644.9"/><use href="#aw" x="90.1" y="639.1"/><use href="#aw" x="94.9" y="634.5"/><use href="#aw" x="97.7" y="629.1"/><use href="#aw" x="102.9" y="625.1"/><use href="#aw" x="106.3" y="620"/><use href="#aw" x="111.6" y="616.8"/><use href="#aw" x="115.9" y="611.8"/><use href="#aw" x="121.5" y="609.3"/><use href="#ag2" x="185.7" y="716.5"/><use href="#ag2" x="183.4" y="729.7"/><use href="#ag2" x="175.3" y="739.9"/><use href="#ag2" x="162.6" y="740.8"/><use href="#ag2" x="155.2" y="729.9"/><use href="#ag2" x="153.2" y="717.1"/><use href="#ag2" x="152.9" y="703.6"/><use href="#ag2" x="156.7" y="690.8"/><use href="#ag2" x="164.8" y="680.1"/><use href="#ag2" x="176.3" y="673.2"/><use href="#ag2" x="189.4" y="670.4"/><use href="#ag2" x="202.3" y="672"/><use href="#ag2" x="214.2" y="678.2"/><use href="#ag2" x="223.4" y="688"/><use href="#ag2" x="229.5" y="699.9"/><use href="#ag2" x="232.7" y="713"/><use href="#ag2" x="233.4" y="726"/><use href="#ag2" x="231.7" y="739.4"/><use href="#ag2" x="227.3" y="752.1"/><use href="#ag2" x="220.3" y="763.6"/><use href="#ag2" x="210.7" y="773.1"/><use href="#ag2" x="199.3" y="780.2"/><use href="#ag2" x="187.1" y="784.7"/><use href="#ag2" x="173.8" y="786.7"/><use href="#ag2" x="160.3" y="786.1"/><use href="#ag2" x="147.3" y="782.6"/><use href="#ag2" x="135.5" y="776.2"/><use href="#ag2" x="125.7" y="767.7"/><use href="#ag2" x="117.7" y="756.9"/><use href="#ag2" x="111.9" y="744.7"/><use href="#ag2" x="108.2" y="731.7"/><use href="#ag2" x="106.5" y="718.3"/><use href="#ag2" x="106.6" y="705.3"/><use href="#ag2" x="108.4" y="692"/><use href="#ag2" x="112" y="679"/><use href="#ag2" x="117.6" y="666.7"/><use href="#ag2" x="125.1" y="655.5"/><use href="#ag2" x="134" y="646.1"/><use href="#ag2" x="144.8" y="637.9"/><use href="#ag2" x="156.7" y="631.6"/><use href="#ag2" x="169.5" y="627.2"/><use href="#ag2" x="182.7" y="624.6"/><use href="#ag2" x="195.7" y="623.8"/><use href="#ag2" x="209.1" y="625"/><use href="#ag2" x="222.2" y="628.2"/><use href="#ag2" x="234.6" y="633.6"/><use href="#ag2" x="245.8" y="641"/><use href="#ag2" x="255.3" y="649.9"/><use href="#ag2" x="263.6" y="660.5"/><use href="#ag2" x="270.1" y="672.3"/><use href="#ag2" x="274.9" y="684.9"/><use href="#ag2" x="278.1" y="698"/><use href="#ag2" x="279.7" y="710.9"/><use href="#ag2" x="279.9" y="724.4"/><use href="#ag2" x="278.8" y="737.9"/><use href="#ag2" x="276.3" y="751.1"/><use href="#ag2" x="272.3" y="764"/><use href="#ag2" x="267" y="775.9"/><use href="#ag2" x="260" y="787.5"/><use href="#ag2" x="251.6" y="798"/><use href="#ag2" x="241.9" y="807.4"/><use href="#ag2" x="231.4" y="815.1"/><use href="#ag2" x="219.7" y="821.7"/><use href="#ag2" x="207.2" y="826.8"/><use href="#ag2" x="194.2" y="830.5"/><use href="#ag2" x="180.9" y="832.8"/><use href="#ag2" x="167.9" y="833.6"/><use href="#ag2" x="154.4" y="832.9"/><use href="#ag2" x="141.1" y="830.7"/><use href="#ag2" x="128.2" y="826.8"/><use href="#ag2" x="115.9" y="821.2"/><use href="#ag2" x="104.9" y="814.3"/><use href="#ag2" x="94.5" y="805.7"/><use href="#ag2" x="85.4" y="795.7"/><use href="#ag2" x="77.7" y="784.6"/><use href="#ag2" x="71.4" y="772.7"/><use href="#ag2" x="66.7" y="760.6"/><use href="#ag2" x="63.1" y="747.6"/><use href="#ag2" x="60.8" y="734.3"/><use href="#ag2" x="59.7" y="720.8"/><use href="#ag2" x="59.8" y="707.3"/><use href="#ag2" x="61" y="694.4"/><use href="#ag2" x="63.4" y="681.1"/><use href="#ag2" x="66.9" y="668.1"/><use href="#ag2" x="71.6" y="655.5"/><use href="#ag2" x="77.6" y="643.4"/><use href="#ag2" x="84.6" y="632.4"/><use href="#ag2" x="92.9" y="621.8"/><use href="#ag2" x="102.4" y="612.2"/><use href="#ag2" x="112.9" y="603.6"/><use href="#ag" x="186.1" y="709.5"/><use href="#ag" x="185.1" y="723"/><use href="#ag" x="180.4" y="735.4"/><use href="#ag" x="168.8" y="742"/><use href="#ag" x="157.6" y="736.4"/><use href="#ag" x="154" y="723.5"/><use href="#ag" x="152.6" y="710.1"/><use href="#ag" x="154.3" y="696.8"/><use href="#ag" x="160.4" y="684.9"/><use href="#ag" x="170" y="676.3"/><use href="#ag" x="182.5" y="671.3"/><use href="#ag" x="195.9" y="670.7"/><use href="#ag" x="208.7" y="674.7"/><use href="#ag" x="219.4" y="682.9"/><use href="#ag" x="226.7" y="693.5"/><use href="#ag" x="231.4" y="706.2"/><use href="#ag" x="233.3" y="719.5"/><use href="#ag" x="232.8" y="733"/><use href="#ag" x="229.7" y="746.1"/><use href="#ag" x="224" y="758.3"/><use href="#ag" x="216" y="768.5"/><use href="#ag" x="205.4" y="776.8"/><use href="#ag" x="193.3" y="782.7"/><use href="#ag" x="180.3" y="786.1"/><use href="#ag" x="166.8" y="786.8"/><use href="#ag" x="154" y="784.8"/><use href="#ag" x="141.4" y="779.9"/><use href="#ag" x="130.4" y="772.2"/><use href="#ag" x="121.3" y="762.3"/><use href="#ag" x="114.4" y="750.7"/><use href="#ag" x="109.9" y="738.5"/><use href="#ag" x="107.2" y="725.3"/><use href="#ag" x="106.3" y="711.8"/><use href="#ag" x="107.3" y="698.4"/><use href="#ag" x="110" y="685.2"/><use href="#ag" x="114.5" y="673"/><use href="#ag" x="121" y="661.2"/><use href="#ag" x="129.4" y="650.6"/><use href="#ag" x="139.4" y="641.6"/><use href="#ag" x="150.9" y="634.4"/><use href="#ag" x="162.8" y="629.3"/><use href="#ag" x="175.8" y="625.7"/><use href="#ag" x="189.2" y="624"/><use href="#ag" x="202.6" y="624.2"/><use href="#ag" x="215.9" y="626.4"/><use href="#ag" x="228.3" y="630.6"/><use href="#ag" x="240.1" y="636.9"/><use href="#ag" x="250.8" y="645.2"/><use href="#ag" x="259.8" y="655.2"/><use href="#ag" x="267.2" y="666.5"/><use href="#ag" x="272.6" y="678.3"/><use href="#ag" x="276.6" y="691.2"/><use href="#ag" x="279.1" y="704.5"/><use href="#ag" x="280" y="717.9"/><use href="#ag" x="279.5" y="731.4"/><use href="#ag" x="277.8" y="744.3"/><use href="#ag" x="274.5" y="757.4"/><use href="#ag" x="269.8" y="770"/><use href="#ag" x="263.6" y="782"/><use href="#ag" x="256.2" y="792.7"/><use href="#ag" x="247.1" y="802.7"/><use href="#ag" x="236.8" y="811.4"/><use href="#ag" x="225.4" y="818.7"/><use href="#ag" x="213.3" y="824.5"/><use href="#ag" x="201" y="828.7"/><use href="#ag" x="187.8" y="831.8"/><use href="#ag" x="174.4" y="833.3"/><use href="#ag" x="160.9" y="833.4"/><use href="#ag" x="147.5" y="831.9"/><use href="#ag" x="134.9" y="829"/><use href="#ag" x="122.2" y="824.3"/><use href="#ag" x="110.3" y="817.9"/><use href="#ag" x="99.4" y="810"/><use href="#ag" x="89.7" y="800.6"/><use href="#ag" x="81.5" y="790.5"/><use href="#ag" x="74.5" y="779"/><use href="#ag" x="68.9" y="766.7"/><use href="#ag" x="64.6" y="753.9"/><use href="#ag" x="61.7" y="740.7"/><use href="#ag" x="60.1" y="727.8"/><use href="#ag" x="59.6" y="714.3"/><use href="#ag" x="60.3" y="700.9"/><use href="#ag" x="62.1" y="687.5"/><use href="#ag" x="65" y="674.3"/><use href="#ag" x="69" y="661.9"/><use href="#ag" x="74.4" y="649.6"/><use href="#ag" x="81" y="637.8"/><use href="#ag" x="88.8" y="626.8"/><use href="#ag" x="97.7" y="616.7"/><use href="#ag" x="107.3" y="607.9"/><use href="#ac2" x="195.6" y="717.2"/><use href="#ac2" x="192.7" y="733.1"/><use href="#ac2" x="180.2" y="748.5"/><use href="#ac2" x="158.4" y="749.8"/><use href="#ac2" x="145.6" y="732.3"/><use href="#ac2" x="143.4" y="718.2"/><use href="#ac2" x="143" y="702.4"/><use href="#ac2" x="147.8" y="686.3"/><use href="#ac2" x="158.3" y="672.7"/><use href="#ac2" x="172.7" y="664"/><use href="#ac2" x="189" y="660.5"/><use href="#ac2" x="205.2" y="662.6"/><use href="#ac2" x="220.2" y="670.3"/><use href="#ac2" x="231.6" y="682.3"/><use href="#ac2" x="238.8" y="696.6"/><use href="#ac2" x="242.5" y="711.6"/><use href="#ac2" x="243.3" y="726.4"/><use href="#ac2" x="241.3" y="741.6"/><use href="#ac2" x="236.3" y="756.3"/><use href="#ac2" x="228" y="769.7"/><use href="#ac2" x="216.9" y="780.9"/><use href="#ac2" x="203.6" y="789.1"/><use href="#ac2" x="189.6" y="794.2"/><use href="#ac2" x="174.4" y="796.6"/><use href="#ac2" x="158.8" y="795.9"/><use href="#ac2" x="143.7" y="791.8"/><use href="#ac2" x="129.8" y="784.3"/><use href="#ac2" x="118.4" y="774.4"/><use href="#ac2" x="109.2" y="761.9"/><use href="#ac2" x="102.6" y="748.1"/><use href="#ac2" x="98.5" y="733.7"/><use href="#ac2" x="96.6" y="718.9"/><use href="#ac2" x="96.7" y="704.7"/><use href="#ac2" x="98.7" y="690"/><use href="#ac2" x="102.7" y="675.6"/><use href="#ac2" x="109" y="661.9"/><use href="#ac2" x="117.4" y="649.3"/><use href="#ac2" x="127.4" y="638.7"/><use href="#ac2" x="139.5" y="629.6"/><use href="#ac2" x="152.8" y="622.6"/><use href="#ac2" x="166.9" y="617.6"/><use href="#ac2" x="181.4" y="614.7"/><use href="#ac2" x="195.8" y="613.9"/><use href="#ac2" x="210.7" y="615.2"/><use href="#ac2" x="225.3" y="618.9"/><use href="#ac2" x="239.3" y="624.9"/><use href="#ac2" x="251.9" y="633.2"/><use href="#ac2" x="262.6" y="643.2"/><use href="#ac2" x="271.9" y="655.1"/><use href="#ac2" x="279.1" y="668.2"/><use href="#ac2" x="284.4" y="682"/><use href="#ac2" x="287.8" y="696.3"/><use href="#ac2" x="289.6" y="710.2"/><use href="#ac2" x="289.8" y="724.8"/><use href="#ac2" x="288.6" y="739.2"/><use href="#ac2" x="285.9" y="753.5"/><use href="#ac2" x="281.5" y="767.5"/><use href="#ac2" x="275.8" y="780.5"/><use href="#ac2" x="268.2" y="793.1"/><use href="#ac2" x="258.9" y="804.7"/><use href="#ac2" x="248.3" y="814.9"/><use href="#ac2" x="236.8" y="823.4"/><use href="#ac2" x="224" y="830.6"/><use href="#ac2" x="210.4" y="836.1"/><use href="#ac2" x="196.4" y="840.1"/><use href="#ac2" x="182" y="842.6"/><use href="#ac2" x="168" y="843.5"/><use href="#ac2" x="153.4" y="842.7"/><use href="#ac2" x="138.9" y="840.3"/><use href="#ac2" x="124.7" y="836"/><use href="#ac2" x="111.2" y="829.9"/><use href="#ac2" x="99.1" y="822.3"/><use href="#ac2" x="87.7" y="812.8"/><use href="#ac2" x="77.7" y="801.9"/><use href="#ac2" x="69.3" y="789.8"/><use href="#ac2" x="62.4" y="776.8"/><use href="#ac2" x="57.3" y="763.7"/><use href="#ac2" x="53.4" y="749.8"/><use href="#ac2" x="50.9" y="735.5"/><use href="#ac2" x="49.8" y="721.2"/><use href="#ac2" x="49.9" y="706.9"/><use href="#ac2" x="51.2" y="693.1"/><use href="#ac2" x="53.7" y="679"/><use href="#ac2" x="57.5" y="665"/><use href="#ac2" x="62.6" y="651.5"/><use href="#ac2" x="69" y="638.5"/><use href="#ac2" x="76.5" y="626.7"/><use href="#ac2" x="85.5" y="615.2"/><use href="#ac2" x="95.8" y="604.8"/><use href="#ac2" x="107.1" y="595.6"/><use href="#ac" x="195.7" y="709.8"/><use href="#ac" x="194.6" y="724.3"/><use href="#ac" x="188" y="741.2"/><use href="#ac" x="169.5" y="751.5"/><use href="#ac" x="149.5" y="741.5"/><use href="#ac" x="144.5" y="724.9"/><use href="#ac" x="143" y="710.4"/><use href="#ac" x="145.1" y="694"/><use href="#ac" x="152.8" y="679"/><use href="#ac" x="165" y="668.1"/><use href="#ac" x="180.5" y="661.9"/><use href="#ac" x="197.1" y="661.2"/><use href="#ac" x="213.2" y="666.2"/><use href="#ac" x="226.4" y="676.4"/><use href="#ac" x="235.3" y="689.2"/><use href="#ac" x="240.7" y="703.9"/><use href="#ac" x="242.9" y="719"/><use href="#ac" x="242.3" y="734.2"/><use href="#ac" x="238.8" y="749.2"/><use href="#ac" x="232.2" y="763.3"/><use href="#ac" x="222.8" y="775.2"/><use href="#ac" x="210.5" y="785"/><use href="#ac" x="196.6" y="791.8"/><use href="#ac" x="181.7" y="795.6"/><use href="#ac" x="166.3" y="796.4"/><use href="#ac" x="151.5" y="794.1"/><use href="#ac" x="136.9" y="788.3"/><use href="#ac" x="124" y="779.4"/><use href="#ac" x="113.5" y="768"/><use href="#ac" x="105.7" y="754.8"/><use href="#ac" x="100.6" y="741.1"/><use href="#ac" x="97.6" y="726.5"/><use href="#ac" x="96.7" y="711.8"/><use href="#ac" x="97.8" y="697.1"/><use href="#ac" x="100.8" y="682.5"/><use href="#ac" x="105.7" y="669"/><use href="#ac" x="113" y="655.8"/><use href="#ac" x="122.4" y="644"/><use href="#ac" x="133.7" y="634"/><use href="#ac" x="146.4" y="625.9"/><use href="#ac" x="159.6" y="620.2"/><use href="#ac" x="173.9" y="616.3"/><use href="#ac" x="188.6" y="614.4"/><use href="#ac" x="203.5" y="614.6"/><use href="#ac" x="218.3" y="617.1"/><use href="#ac" x="232" y="621.7"/><use href="#ac" x="245.4" y="628.9"/><use href="#ac" x="257.3" y="638.2"/><use href="#ac" x="267.4" y="649.4"/><use href="#ac" x="275.6" y="661.9"/><use href="#ac" x="281.6" y="674.9"/><use href="#ac" x="286" y="688.9"/><use href="#ac" x="288.6" y="703.3"/><use href="#ac" x="289.6" y="717.8"/><use href="#ac" x="289.1" y="732.3"/><use href="#ac" x="287.2" y="746.1"/><use href="#ac" x="283.7" y="760.2"/><use href="#ac" x="278.6" y="773.9"/><use href="#ac" x="271.8" y="787"/><use href="#ac" x="263.7" y="798.7"/><use href="#ac" x="253.8" y="809.6"/><use href="#ac" x="242.5" y="819.1"/><use href="#ac" x="230.1" y="827"/><use href="#ac" x="216.9" y="833.4"/><use href="#ac" x="203.6" y="838"/><use href="#ac" x="189.5" y="841.2"/><use href="#ac" x="175" y="842.9"/><use href="#ac" x="160.4" y="843"/><use href="#ac" x="145.9" y="841.4"/><use href="#ac" x="132.1" y="838.2"/><use href="#ac" x="118.3" y="833"/><use href="#ac" x="105.2" y="826.1"/><use href="#ac" x="93.2" y="817.4"/><use href="#ac" x="82.6" y="807.1"/><use href="#ac" x="73.7" y="796"/><use href="#ac" x="66" y="783.5"/><use href="#ac" x="59.9" y="770.2"/><use href="#ac" x="55.4" y="756.4"/><use href="#ac" x="52.3" y="742.3"/><use href="#ac" x="50.5" y="728.6"/><use href="#ac" x="50" y="714.3"/><use href="#ac" x="50.7" y="700"/><use href="#ac" x="52.6" y="685.8"/><use href="#ac" x="55.8" y="671.8"/><use href="#ac" x="60" y="658.6"/><use href="#ac" x="65.8" y="645.3"/><use href="#ac" x="72.8" y="632.7"/><use href="#ac" x="81.2" y="620.8"/><use href="#ac" x="90.9" y="609.9"/><use href="#ac" x="101.3" y="600.5"/></g></g>
<rect x="4.4" y="556.4" width="316.9" height="315.6" fill="none" stroke="#111" stroke-width="2"/>
<g clip-path="url(#cc)"><path d="M572.9,703.3h0M571.2,703.3h0M567.3,703.2h0M567.4,703.7h0M566.2,703.6h0M569.4,703.7h0M568.8,704.2h0M569.2,704.2h0M569.4,704.2h0M565.7,704.1h0M574,704.4h0M570.6,704.8h0M577.1,705h0M569.1,705.2h0M573.2,705.3h0M566.5,705.1h0M565.7,705.1h0M567,705.1h0M571.5,705.8h0M571.2,705.8h0M570.3,706.3h0M568.1,706.2h0M568.2,706.2h0M568.4,706.2h0M570.3,706.3h0M565.9,706.1h0M564.7,706.1h0M565.5,706.6h0M566.4,706.7h0M573.3,706.9h0M569.6,706.8h0M569.8,706.8h0M568,706.7h0M560.3,706.5h0M566.4,707.2h0M572.6,708h0M567.1,707.8h0M567.8,708.3h0M567.1,708.3h0M575.4,709.2h0M569.9,709h0M567.9,708.9h0M573.9,709.1h0M566.3,708.8h0M566.6,709.4h0M573.5,709.7h0M571.1,709.6h0M569.2,709.5h0M565.7,709.9h0M567.7,710h0M569,710h0M571,710.1h0M572.6,710.2h0M567.1,709.9h0M569.2,710.6h0M564,710.3h0M571.1,711.2h0M567,711h0M573.8,711.3h0M567.1,711.5h0M568.2,711.6h0M569.3,712.2h0M566,712h0M567.4,712.1h0M571.3,712.8h0M570.2,712.8h0M567,712.6h0M570.4,712.8h0M572.6,713.5h0M571.8,713.4h0M566.8,713.1h0M567.4,713.2h0M569.9,713.3h0M570.5,714h0M572,714h0M569.3,713.9h0M567.9,713.8h0M571.1,714.6h0M568.3,714.5h0M572.2,714.7h0M567.6,714.4h0M570,715.2h0M569.2,715.1h0M571.8,715.3h0M570.8,715.3h0M570.6,715.2h0M571.6,716h0M571.4,715.9h0M568.4,715.7h0M565.3,715.5h0M572.8,716h0M568.4,715.7h0M572.4,716.7h0M568.8,716.4h0M571.7,716.6h0M570.3,717.1h0M570.4,717.1h0M572.2,717.3h0M567.8,716.9h0M571.7,717.9h0M567,717.5h0M568.9,717.6h0M568.2,718.2h0M568.2,718.2h0M567.5,718.7h0M568.9,718.9h0M566.7,718.7h0M569.4,719.6h0M568.4,720.1h0M574,720.7h0M571.6,720.4h0M569,720.8h0M565.3,720.3h0M567.5,720.6h0M577,722.4h0M572.2,722.5h0M574.4,722.7h0M571.8,722.4h0M571.6,722.4h0M568.1,721.9h0M571.3,723h0M571.4,723h0M569.2,722.7h0M567.1,722.4h0M567,722.4h0M565.8,722.2h0M573.4,723.9h0M568.8,723.2h0M570.6,723.5h0M572.1,723.7h0M569.2,723.3h0M565.7,722.8h0M570.7,724.2h0M572.2,724.4h0M570.4,724.1h0M573.2,725.5h0M570.1,725h0M567.1,725.4h0M573.9,726.6h0M573.3,726.5h0M572.7,726.4h0M569.7,725.8h0M570.9,727h0M573.2,727.4h0M566.8,726.2h0M572.5,727.3h0M568.6,726.5h0M573.3,728.4h0M569.8,727.7h0M571.4,728h0M567.6,727.2h0M570.9,728.9h0M570.7,728.8h0M569.1,728.5h0M572.7,729.3h0M571.3,729h0M567.3,729h0M566.7,728.8h0M574.2,731.7h0M569.4,731.4h0M570.8,732.8h0M570.9,732.8h0M568.2,732h0M559.3,729.3h0M569.7,733.4h0M567.5,732.7h0M568.1,732.9h0M569.3,734.3h0M568.4,734h0M568,733.8h0M572.2,735.2h0M567.8,733.8h0M566.5,734.3h0M564.1,733.4h0M565.6,734h0M567.4,734.6h0M566.3,734.2h0M566.2,735.1h0M564.9,734.6h0M565.5,734.9h0M566.4,735.2h0M569,737.2h0M567.8,736.7h0M573.5,738.9h0M568.4,737.7h0M575.5,740.6h0M566.6,737h0M568.3,738.6h0M568.2,738.5h0M569.4,739h0M570.4,739.4h0M565.8,738.7h0M566.3,738.9h0M565.4,739.8h0M566.6,740.3h0M568.3,741.1h0M565.9,741.3h0M567.8,743.8h0M568,743.9h0M567.7,745.1h0M564.8,743.5h0M564.4,743.3h0M565.8,745.5h0M565.8,745.5h0M562,743.2h0M567.7,746.7h0M567.8,748.3h0M565.2,746.7h0M567.3,748h0M567.3,748h0M564.1,745.9h0M564,747.4h0M562.2,746.1h0M562.7,746.5h0M562.1,747.5h0M559.7,747.2h0M562.9,749.6h0M560.6,749.4h0M558.2,747.5h0M560.5,749.4h0M562.3,752.5h0M561.1,751.5h0M563.8,753.8h0M564.2,754.1h0M560.2,750.7h0M559.3,749.9h0M559.4,751.6h0M561.9,755.7h0M562.2,756h0M558.7,752.6h0M560.6,754.5h0M557.4,752.7h0M561.9,757.2h0M555.4,750.8h0M559.6,755h0M550.1,745.5h0M557.7,754.6h0M555,751.8h0M557.9,756.8h0M557.9,756.8h0M554.1,752.6h0M560.5,759.6h0M557.6,756.5h0M560.4,759.6h0M559.1,760.4h0M555.5,756.2h0M553.9,754.3h0M555.5,756.2h0M556.4,759.4h0M557.3,760.5h0M554.7,757.2h0M554.2,756.7h0M554.2,758.8h0M554.7,759.5h0M553.2,759.9h0M550.9,758.9h0M554.5,764.4h0M553.3,762.5h0M552.4,764h0M548.8,758.1h0M550.9,761.4h0M551.1,764.7h0M548.9,760.8h0M550.1,765.9h0M548.7,763.3h0M547.5,761.1h0M547.5,764h0M547.9,765h0M546.2,761.5h0M547.5,767.4h0M547.7,768h0M543.7,759h0M544.4,764h0M544.1,763.3h0M545.9,767.5h0M543.6,765.8h0M542.8,763.6h0M542,761.3h0M543.4,769h0M541.8,764.6h0M541.9,764.8h0M541.1,762.6h0M542.3,766.1h0M541.1,765.6h0M540.5,764h0M541.6,767.1h0M540.8,764.7h0M541.2,770.1h0M541.1,769.7h0M540.3,767.2h0M538.5,766.3h0M538.5,766.2h0M538.5,766.5h0M539.1,768.7h0M538.9,767.9h0M537.3,768.1h0M537.2,767.5h0M534.5,755.7h0M535.1,765.1h0M535.2,765.6h0M533.3,762.8h0M533.7,765.7h0M533.9,766.8h0M534.5,770.7h0M533.7,765.4h0M532.7,770.2h0M531.9,763.1h0M532.6,769.4h0M531,768.7h0M531,769h0M530.9,767.3h0M529.4,769.8h0M529.4,771.1h0M529.4,769.5h0M529.3,767.9h0M526.1,769.4h0M526.3,765.7h0M524.6,767.9h0M524.5,770h0M523.3,766.2h0M523,768.3h0M522.9,769.6h0M521.2,769.9h0M521.2,769.7h0M521.9,765.6h0M519.7,766.6h0M519.2,769.1h0M519.6,767.1h0M519.1,769.7h0M517.8,765.2h0M517.7,765.6h0M517.1,767.9h0M520.3,755.9h0M515,768.1h0M515.2,767.6h0M514.4,765.3h0M513.4,768.3h0M514,766.5h0M512.5,766.3h0M513.5,763.7h0M514.3,761.6h0M511.2,765.4h0M510.8,766.4h0M510.7,763.1h0M509,766.7h0M508.7,763.7h0M509.2,762.8h0M510.7,757.1h0M507.6,762.7h0M505.2,763.8h0M505.5,763.4h0M505.1,764.1h0M508.3,758.7h0M505.3,760.8h0M506.7,758.7h0M502.9,761.7h0M503.1,758.3h0M504,757.2h0M501.9,759.8h0M506.4,751h0M497.3,757.5h0M497.9,754.3h0M497.7,754.5h0M496.5,755.5h0M496.4,755.6h0M500.2,752.2h0M496.2,753.8h0M500.3,750.4h0M496,752.1h0M495.3,752.6h0M494.4,753.3h0M494.8,753h0M494.3,753.4h0M494.7,751.2h0M492.5,752.8h0M495.8,750.5h0M496.3,748.4h0M495.5,747.2h0M490.5,750.4h0M490.4,750.5h0M491.8,749.6h0M492.7,749h0M490.7,750.3h0M491.6,747.9h0M490.9,748.3h0M496,743.9h0M492.2,745.9h0M502.9,740.2h0M489.5,745.6h0M489.9,745.4h0M488,746.4h0M489.8,743.8h0M488.4,744.5h0M492.2,742.7h0M487.2,743.4h0M487.9,743.1h0M488.2,742.9h0M487.1,741.7h0M486.8,741.8h0M491.2,740.2h0M488.9,741h0M488.9,739.8h0M491.6,738.8h0M489.2,739.7h0M487.2,740.4h0M486,740.8h0M490.3,738.4h0M486.9,739.5h0M485.5,740h0M492.2,737.7h0M488,739.1h0M486.9,739.5h0M486.2,738.8h0M488.7,738h0M486.9,738.6h0M493.6,736.4h0M487.2,737.6h0M488.7,737.1h0M485.8,737h0M485,737.3h0M488.3,736.3h0M488.5,736.3h0M488,736.4h0M490.4,735.7h0M487.6,736.5h0M486.4,736.9h0M484.8,736.4h0M484.6,735.5h0M486.6,735h0M484.3,735.6h0M490.2,732.3h0M486.1,733.3h0M486.8,733.1h0M490.1,732.4h0M485.9,732.4h0M486.2,732.4h0M491.5,731.2h0M483,732.2h0M489.8,730.7h0M489.4,730.8h0M483.5,732.1h0M489,730.9h0M483.9,731h0M483.3,730.2h0M486.1,729.7h0M482,730.5h0M485.8,728.9h0M482.4,729.5h0M489,728.4h0M486.4,728.8h0M483.4,728.4h0M487.1,727.8h0M486.5,727.3h0M490,726.7h0M487.5,727.1h0M485.1,727.5h0M488.2,726.5h0M484.2,727.1h0M490,726.2h0M484.8,727h0M487.5,726.1h0M487.1,725.6h0M482.3,726.3h0M485.2,725.8h0M480.7,725.9h0M485.1,725.3h0M488,724.9h0M485.4,725.2h0M488.6,724.8h0M487.4,724.9h0M489.6,724h0M487,724.4h0M485.6,724.6h0M482.2,725.1h0M489.6,723.5h0M486.3,724h0M483.1,724.4h0M484.6,724.2h0M481.9,724.6h0M487.8,723.2h0M485.5,723.5h0M485.5,722.9h0M487.4,722.7h0M482,723.4h0M486.3,722.8h0M485.6,722.3h0M487.5,722.1h0M483.2,722.6h0M489.9,721.7h0M487.9,722h0M486.6,721.6h0M488.7,721.3h0M481.8,722.3h0M482.7,721.6h0M484.4,720.8h0M482.5,721h0M483.9,720.8h0M486,720.6h0M488.2,720.3h0M485.9,720h0M483.5,720.3h0M485.4,720.1h0M484,720.2h0M489.8,719.5h0M482.3,720.5h0M482.6,719.8h0M481.7,719.4h0M484.8,719h0M483.8,719.1h0M487.9,718.6h0M486.6,718.8h0M484.6,719h0M484.4,719h0M484.5,719h0M480.8,719.5h0M486.8,718.2h0M487.1,718.1h0M485.6,718.3h0M482.4,718.7h0M483.7,718.5h0M485.7,718.3h0M487.6,717.5h0M487.4,717.6h0M483.2,718.1h0M488.9,717.4h0M484.4,717.9h0M485.4,717.8h0M485.7,717.8h0M482.8,718.1h0M485.7,717.3h0M489.8,716.8h0M484.5,717.4h0M494.9,715.7h0M490.5,715.7h0M485.3,715.8h0M484.1,715.9h0M485.3,715.8h0M479.6,716.4h0M483.5,716h0M488.8,714.8h0M483.8,715.4h0M490.5,714h0M481.1,715h0M480.2,714.4h0M489,712.9h0M487.8,712.3h0M486,712.5h0M484.8,712.6h0M484.6,712.6h0M485.2,712.6h0M484,712.7h0M483.2,712.7h0M480.6,712.2h0M485.4,711.1h0M486,711.1h0M483.8,710.5h0M485.7,710.4h0M483.7,710.5h0M487.6,709.5h0M483.7,709.7h0M485,708.8h0M484.5,708.9h0M487.4,708.7h0M484.6,708.1h0M484.5,708.1h0M486.3,708h0M490.1,707.9h0M487,707.2h0M487,707.2h0M482.5,707.3h0M533.2,706.2h0M530.8,706.2h0M484.7,706.4h0M482.5,706.4h0M490.4,706.3h0M481.7,706.4h0M481.4,706.4h0M485.4,706.4h0M532.7,705.9h0M531.5,705.9h0M530.9,705.9h0M484.6,705.5h0M487.3,705.5h0M529.7,705.7h0M487.5,704.7h0M484,704.6h0M481.4,704.6h0M530.1,705.4h0M488.6,703.9h0M532.3,705.2h0M485.2,702.2h0M486.1,702.2h0M485.5,702.2h0M484.9,702.2h0M484,702.1h0M483.9,702.1h0M532.2,704.6h0M531.1,704.6h0M484.6,701.3h0M487.7,701.5h0M482.9,701.2h0M483.4,701.3h0M482.4,700.4h0M533.2,704.2h0M532.4,704.1h0M484.2,699.7h0M482,699.5h0M485.9,699h0M532.7,703.6h0M486.2,698.2h0M485.2,698.1h0M532.6,703.3h0M532.8,703.3h0M532.9,703.3h0M491.5,698h0M482.3,696.9h0M485.4,697.3h0M485.4,697.3h0M532.3,703h0M483.8,696.3h0M487,696.7h0M483.6,696.2h0M485.4,696.5h0M482,695.1h0M486,695.7h0M484.8,695.6h0M498,697.5h0M491.1,696.5h0M533.6,702.6h0M483.3,694.5h0M485.4,693.9h0M489.9,694.7h0M493.2,695.3h0M488.8,694.5h0M532.6,701.9h0M490.3,694h0M483.6,692.8h0M486.2,693.3h0M484.2,692.9h0M488.7,693.7h0M533.6,701.9h0M488.2,692.8h0M485.4,692.3h0M483.2,690.9h0M486.9,691.7h0M490.7,692.5h0M486.3,691.6h0M533.7,701.4h0M491.5,691.9h0M490.2,691.6h0M491.8,691.9h0M491.5,691.9h0M484.2,690.2h0M488.9,691.3h0M490.1,691.5h0M488.6,690.4h0M532.2,700.5h0M487,689.1h0M487.7,689.3h0M488.2,689.4h0M488.3,689.5h0M531.1,700h0M491.3,689.4h0M488.7,688.7h0M494.1,690.1h0M487.8,687.6h0M488,687.7h0M488.6,687.8h0M489.5,687.2h0M486.9,686.5h0M486,686.2h0M486.9,686.5h0M492.2,688h0M486.5,685.5h0M488.5,686.1h0M486.1,685.3h0M491.3,686.9h0M531.7,699h0M489.9,685.6h0M533.3,699.2h0M489.9,684.7h0M486.8,683.7h0M533.6,699.1h0M532.2,698.6h0M534,699.2h0M493.5,685.1h0M496.3,686.1h0M533.4,698.8h0M533.9,698.9h0M491.9,683.6h0M490.7,683.2h0M489.8,682.9h0M494.7,684.7h0M491,683.3h0M494.3,683.7h0M489.7,682h0M490.3,682.2h0M490.6,682.3h0M492.1,682.8h0M532.4,697.9h0M533.9,698.4h0M492.4,682.1h0M492,681.9h0M489.6,681h0M533.9,698.2h0M501.1,684.7h0M533.4,697.7h0M491.1,679.7h0M490.5,679.5h0M493,679.6h0M491.8,679.1h0M490,678.3h0M490.9,678.7h0M488.2,677.6h0M489.1,677.9h0M487.4,677.2h0M534.1,697.5h0M533.1,697.1h0M490.5,677.6h0M494.2,679.3h0M490.9,677.8h0M496,679.2h0M493.9,678.2h0M491,676.9h0M533.1,696.6h0M493.4,677.1h0M490.8,675.8h0M492.4,676.6h0M490.8,675.8h0M492.7,676.7h0M494.7,677.7h0M532.9,696.2h0M492.6,675.7h0M493.9,676.4h0M494.2,676.5h0M496.6,677.7h0M491.1,674.9h0M496,677.4h0M532.9,695.9h0M493.7,675.3h0M497.1,676.1h0M494.2,674.5h0M492.3,673.6h0M490.1,672.3h0M497,676.1h0M534.8,696.4h0M492,672.4h0M491.7,672.2h0M492.5,672.6h0M498.2,675.8h0M496.1,674.6h0M535.2,696.3h0M533.5,695.4h0M497.1,674.2h0M493.6,672.2h0M498.1,674.8h0M490,670.2h0M494.6,671.8h0M534.3,695.3h0M533.9,695.1h0M497,672.2h0M496.9,672.2h0M498.3,673.1h0M498.9,672.4h0M497.6,670.6h0M498.3,671.1h0M496.3,668.7h0M535.3,694.9h0M501.3,671.1h0M497.7,668.6h0M501,670.9h0M498.2,668.9h0M496.9,666.9h0M499.9,669.1h0M500,669.2h0M498.1,667.8h0M504.3,672.2h0M495.5,664.8h0M500.4,668.4h0M499,667.4h0M500.4,668.4h0M497.2,666.1h0M500.3,668.3h0M534.8,693.7h0M501.6,668.3h0M499.6,666.7h0M499.3,665.4h0M499.1,665.3h0M498.8,665h0M501.6,667.2h0M502.7,668.1h0M504.2,669.3h0M502.2,667.7h0M504.4,668.4h0M503.5,667.7h0M495,660.8h0M503.8,666.9h0M506.7,669.3h0M534,691.8h0M501.8,664.1h0M536.4,693.5h0M501.6,662.8h0M500.3,661.6h0M501.2,662.4h0M502,663.1h0M535.9,692.8h0M533.9,691.1h0M536,692.9h0M502.6,662.4h0M503.6,663.4h0M537.2,693.6h0M504.7,663.2h0M507.9,666.2h0M502.6,660.1h0M507.2,664.5h0M534.8,690.8h0M506.3,662.4h0M505.9,662.1h0M502.4,658.6h0M535.2,690.8h0M509.3,664.3h0M507,661.9h0M537.2,692.5h0M506.4,660.2h0M507.8,661.6h0M506,659.7h0M506,659.7h0M507.5,661.3h0M505.1,657.5h0M506.4,658.9h0M507.4,660h0M506.8,659.3h0M509.9,662.7h0M506.6,659.1h0M507.6,659h0M507.1,658.4h0M507.9,659.3h0M509.7,660.1h0M507.3,657.4h0M506.8,656.7h0M507.4,657.4h0M537.6,691.5h0M537.1,691h0M508.7,657.6h0M513.4,663.1h0M508.8,657.7h0M507.6,656.4h0M508.9,657.9h0M537.1,690.6h0M509.7,657.4h0M512.3,660.6h0M508.1,655.6h0M509.2,656.9h0M510.3,658.2h0M509.7,657.5h0M511.6,658.5h0M513.4,660.7h0M508.2,654.3h0M512.1,659.1h0M513.4,660.7h0M536.9,689.7h0M514.1,660.4h0M511.1,656.6h0M514.3,660.7h0M510.9,656.3h0M512.7,658.5h0M538.6,691.4h0M534.3,685.9h0M514.8,660h0M513,657.6h0M513.4,658.2h0M538.9,691.3h0M537.9,690h0M512.2,655.2h0M512.5,654.3h0M515.6,658.5h0M514.7,657.2h0M515.8,658.7h0M515.1,657.9h0M511.5,652.8h0M538.6,690.1h0M511,650.7h0M516.3,658.1h0M514,653.4h0M539,689.9h0M517.8,657.6h0M517.7,657.5h0M512.4,649.5h0M514.9,653.3h0M516.2,655.2h0M538.6,688.8h0M518,656.5h0M515.8,653.1h0M519.5,658.9h0M514.1,650.4h0M539.8,690.1h0M538.2,687.7h0M538.5,688.1h0M539.3,689.5h0M540.3,690.9h0M538.9,688.7h0M517,653.5h0M518,655.1h0M516.5,652.7h0M516.9,653.3h0M516.7,653h0M540,690h0M516.8,650.1h0M517.8,651.7h0M520.4,656h0M541.1,690.9h0M540.9,690.5h0M539.9,688.9h0M541,690.8h0M519.3,652.7h0M517.8,649.9h0M521.6,656.6h0M518.7,651.6h0M522.1,657.5h0M517.8,650h0M541.2,690.6h0M539.6,688h0M540.7,689.7h0M520.3,652.9h0M520.2,652.6h0M541.3,690.4h0M539.8,687.7h0M521.3,652.9h0M518.4,647.6h0M519.6,649.8h0M521.4,653.2h0M520.1,650.8h0M518.4,647.7h0M541.2,689.8h0M539,685.6h0M519.9,648.6h0M520.7,650.2h0M520.1,649h0M540.1,687.1h0M520.2,647.4h0M522.8,652.5h0M525.2,657.1h0M522.2,651.4h0M522.3,651.6h0M523.2,653.3h0M522.8,652.4h0M542.2,690.5h0M524.7,654.6h0M521.8,648.6h0M541.6,688.8h0M523.8,651h0M521.7,646.5h0M524.4,652.1h0M522.8,648.9h0M524,651.5h0M542.4,689.8h0M526.2,654.3h0M524.9,651.5h0M522.6,646.4h0M525.3,652.3h0M520.2,641.3h0M542.8,690.3h0M541.9,688.2h0M526.2,652.5h0M542,687.7h0M542.9,689.7h0M542.5,689h0M527.1,652.8h0M524.7,647.1h0M525.2,648.4h0M542.5,688.4h0M543.3,690h0M543.2,689.9h0M527.3,651.2h0M525.7,647.5h0M526.7,649.8h0M527.2,651.1h0M526.9,650.3h0M527.6,650h0M527.5,649.7h0M527.9,650.6h0M528.6,650.4h0M543.4,688.4h0M528.1,647h0M529.4,650.5h0M528.5,648h0M530.1,652.3h0M530,649.9h0M529.1,647.5h0M529.5,648.4h0M542.7,684.9h0M544.1,687.9h0M544.3,688.6h0M544.5,688.6h0M544.6,688.7h0M532.1,648.9h0M531.6,647.4h0M533.2,652.3h0M544.9,688.8h0M531.9,645.8h0M533.4,650.6h0M531.9,645.8h0M532.8,648.6h0M533.6,651.3h0M545.3,689.2h0M534.2,650.6h0M533,646.5h0M533.4,647.8h0M532.5,644.8h0M544.8,686.7h0M544.8,686.6h0M544.8,686.8h0M533.9,647h0M533.5,645.4h0M544.9,685.9h0M544.4,684.2h0M544,682.8h0M535,647.9h0M533.6,642.7h0M534.2,645.1h0M533.4,642h0M545.7,688h0M534.7,643.7h0M546.1,688.6h0M545.9,687.5h0M545.9,687.7h0M536.4,647.4h0M536.9,649.4h0M535.7,644.5h0M535,641.6h0M536.7,648.6h0M536.3,647.1h0M537.4,648.4h0M537,646.5h0M537.3,647.9h0M534.9,637.4h0M545.8,685.1h0M537.6,645.5h0M536.9,642.6h0M539.6,651.4h0M547.2,689h0M546.6,685.7h0M547.2,688.7h0M546.4,684.9h0M539.1,645.4h0M539.4,646.8h0M547,686.7h0M546.9,685.9h0M541.2,652.7h0M539.8,644.8h0M547,684.9h0M541.6,650.7h0M540.2,642h0M541.1,647.8h0M541.2,648.5h0M540.5,644.2h0M548.1,689.6h0M547.7,687.3h0M542.4,651h0M541.7,646.3h0M541.8,647.2h0M541.6,646h0M542.1,649.5h0M548.1,688.2h0M547.8,686.5h0M548.1,688.1h0M548.3,689.2h0M548.2,688.9h0M542.1,644.3h0M542.2,644.5h0M543.4,648h0M543.8,651.3h0M543.7,644.1h0M543.8,645.1h0M543.6,643.1h0M543.4,641.6h0M544.6,652.1h0M548.8,688.2h0M548.7,687.2h0M549.1,690.2h0M548.8,687.8h0M544.4,642.7h0M544.5,644.1h0M544.9,647.6h0M544.5,643.7h0M544.7,645.7h0M549.2,689h0M549.2,689.6h0M548.8,685.2h0M545.2,643.2h0M545.2,643.2h0M549.3,688.3h0M549.1,685.9h0M546.4,647.4h0M545.9,641.5h0M546,643h0M546.3,646.4h0M546,642.6h0M549.7,689.2h0M549.5,687.4h0M547.3,649.7h0M547,646.5h0M547.3,649.8h0M547,645.5h0M547.3,650.6h0M549.8,688h0M549.9,689.9h0M549.9,689.3h0M547.5,640.8h0M550.1,689.1h0M550,686.9h0M550.1,689.6h0M550.1,689.3h0M550.1,688.5h0M549.9,684.7h0M549.9,685h0M548.6,647.8h0M549.3,645.8h0M549.3,646.8h0M549.3,644.1h0M550.5,685.2h0M550.5,686h0M550.1,646.5h0M550.1,648.5h0M550.1,643.8h0M550.8,687.8h0M550.8,687.6h0M550.8,689.8h0M550.9,646.3h0M550.8,643.1h0M550.9,649.8h0M551,686.9h0M551,688h0M551,688.1h0M551,690h0M551,690.4h0M551,685h0M551.6,649.4h0M551.7,638.4h0M551.2,689.5h0M551.3,688.7h0M551.3,685.2h0M552.4,644.6h0M552.5,642.3h0M552.4,646.2h0M552.5,639.5h0M552.4,643.8h0M552.3,651.9h0M551.6,685.3h0M553.2,645.9h0M553.1,646.7h0M551.6,691.1h0M554.1,643.2h0M553.9,646.3h0M552,687.4h0M551.9,688.9h0M551.9,690.6h0M552,687.1h0M552,687.6h0M554.7,646.7h0M554.7,646.8h0M554.8,643.8h0M554.7,647h0M552.2,688.6h0M552.4,685.4h0M552.3,686.3h0M552.2,688.2h0M552.3,685.9h0M552.2,687.8h0M552,690.9h0M552.3,687.2h0M555.4,647.4h0M555.5,645.4h0M552.7,684.8h0M552.4,688.3h0M552.4,689.2h0M556.1,647.7h0M556.3,646h0M556.1,648.3h0M556.4,644.2h0M556.8,648.2h0M557.4,642.3h0M557.5,641.2h0M557.4,642.7h0M552.6,690.9h0M552.9,688h0M558.3,641.9h0M553.4,685.4h0M553.2,687.6h0M553.1,688.1h0M553.6,686.2h0M553.2,689.4h0M559.7,644.2h0M559,648.9h0M553.2,690.8h0M553.4,689.5h0M553.2,691.1h0M559.7,649.7h0M553.9,687.6h0M554.1,686.6h0M561.1,645.5h0M560.6,648.3h0M554.8,683.8h0M561.9,645.8h0M561.5,647.9h0M562.4,642.7h0M561.5,647.8h0M561,650.6h0M560.7,652.2h0M553.9,690.2h0M553.8,691.1h0M562.2,648.3h0M554.7,687.2h0M554.4,688.7h0M554.9,686.3h0M562.7,649.8h0M562.5,650.4h0M555.1,686.7h0M554.6,688.9h0M563.2,650.9h0M554.8,689.1h0M555.2,687.4h0M564.5,648.7h0M564.9,646.6h0M564.9,646.7h0M566.3,640.7h0M555.7,686.2h0M556,684.8h0M555.8,685.7h0M554.5,691.4h0M554.3,692.4h0M565.8,646.5h0M566.1,645.3h0M565.3,648.4h0M565.2,648.7h0M565.9,649.2h0M565.9,649.3h0M565.5,650.8h0M555.4,689.3h0M555.9,687.5h0M554.7,692.2h0M555.4,689.5h0M566.5,649.9h0M566.4,650.2h0M566,651.8h0M567.3,647h0M568.4,643.2h0M567.4,646.6h0M565.9,652h0M569.8,638h0M555.7,689h0M555.6,689.4h0M556.7,685.5h0M566.9,651.3h0M567.7,648.5h0M567.3,649.8h0M568.2,646.9h0M567.1,650.5h0M568.4,646h0M567.1,650.5h0M555.5,690.5h0M555.4,690.8h0M555.8,689.6h0M556.2,688.3h0M555.9,689.2h0M568,652.7h0M569,649.5h0M569.4,648.5h0M570,649.2h0M570,649h0M569.1,651.8h0M569.7,649.9h0M572.6,641.2h0M555.9,691.2h0M570.6,649.6h0M571.2,648.1h0M570.8,649.3h0M556.7,689.4h0M570.6,652.1h0M571.1,650.7h0M572.1,647.8h0M572.4,647.1h0M571.7,649h0M574.1,644.9h0M556.6,691.1h0M557,690h0M558.4,686.2h0M558.2,686.7h0M572.2,652h0M574,647.6h0M573.6,648.5h0M571,655h0M571.9,652.8h0M556.8,690.9h0M558,688.1h0M574.1,649.3h0M558.1,688.4h0M557.9,688.9h0M573.7,652.4h0M575.3,648.6h0M574.7,650h0M557.9,689.4h0M573.3,655.3h0M575.3,650.8h0M558.7,688.3h0M560.1,685h0M576.4,650.1h0M558,690.2h0M557.5,691.3h0M575.7,653.5h0M576.6,651.7h0M576.8,652.9h0M558.9,689.5h0M577.6,653.2h0M577.6,653.1h0M559.1,689.5h0M557.2,693.2h0M559.1,689.6h0M558.6,690.6h0M557.9,691.9h0M559.3,689.1h0M578.9,652.2h0M579.3,651.6h0M577.7,654.6h0M578.7,652.6h0M560.4,687.5h0M558.5,691.1h0M577.5,656.5h0M557.8,692.9h0M557.7,693.2h0M557.7,693.2h0M579.5,654.4h0M581,651.8h0M581.3,651.1h0M580.5,652.7h0M580.1,653.3h0M561.1,687.4h0M559.2,690.7h0M557.5,693.9h0M580.8,653.7h0M580,655.2h0M580,655.1h0M578.8,657.2h0M579.3,656.3h0M579.7,655.7h0M580.4,654.5h0M580.7,655.4h0M581,654.8h0M580.3,656h0M561.3,688.2h0M559.7,690.8h0M581.4,655.8h0M582,654.7h0M582.6,653.7h0M585.1,649.7h0M561.8,687.9h0M559,692.3h0M560.1,690.6h0M557.2,695.4h0M559.8,691.1h0M581.5,657.1h0M580.6,658.5h0M560.2,690.8h0M559,692.8h0M582.3,657.2h0M580.6,659.8h0M579.7,661.1h0M558.7,693.6h0M564.1,685.3h0M585.7,653.5h0M582.2,658.7h0M584.4,655.4h0M582.8,657.7h0M585.5,653.6h0M562.4,688.3h0M561.4,689.8h0M562.4,688.3h0M585.3,655.4h0M581.9,660.4h0M584.2,657h0M583.8,657.7h0M558.8,694.2h0M560.8,691.2h0M559.1,693.7h0M583.6,659.2h0M584.8,657.5h0M586.1,655.7h0M560.7,691.7h0M561,691.3h0M583.7,660.3h0M583,661.4h0M586.4,656.6h0M586.5,656.5h0M585.4,658h0M586.4,656.6h0M587.8,656.1h0M561.4,691.6h0M561.5,691.5h0M562,690.7h0M560.5,692.8h0M587.4,657.9h0M563.9,688.7h0M560.4,693.3h0M561.3,692.1h0M586.7,660h0M584.6,662.7h0M586.8,659.9h0M563,690.3h0M563.9,689.1h0M561.5,692.5h0M589.4,659.1h0M586,663.2h0M562.4,691.8h0M562.5,691.8h0M562.1,692.2h0M560.8,693.8h0M562.5,691.8h0M591.7,657.5h0M563.5,691h0M588.6,662.4h0M564.3,690.4h0M561.3,693.8h0M589.5,662.4h0M559.8,695.9h0M560.4,695.2h0M562.3,693.1h0M588.1,665.1h0M597,655.3h0M590.6,663.4h0M591.1,662.9h0M564.2,691.7h0M563.4,692.6h0M593.5,661.5h0M590.1,665h0M591.2,663.8h0M594.1,660.8h0M560.9,695.6h0M564.8,691.5h0M593.8,662.3h0M596.7,659.3h0M593.5,662.6h0M591.8,664.3h0M564.9,691.8h0M562.5,694.3h0M567,689.7h0M564.8,691.9h0M594.3,662.9h0M592.6,664.6h0M590.9,666.2h0M594.9,662.3h0M564.5,692.6h0M564.8,692.3h0M560.4,696.7h0M593.7,664.5h0M596,662.3h0M562.8,694.6h0M595.2,664.2h0M597.2,662.2h0M593.6,665.6h0M594.3,666h0M593.7,666.6h0M595.1,665.2h0M595.3,665.1h0M594.9,665.4h0M562.8,695.3h0M564.1,694.1h0M567,691.3h0M596.6,664.9h0M597.7,663.9h0M593.9,667.3h0M595.2,666.2h0M563.3,695.1h0M565.3,693.3h0M563.4,695.1h0M597,665.6h0M597.6,665.1h0M598.3,664.4h0M593.8,668.4h0M595.3,667.1h0M593.7,668.5h0M565,693.9h0M598.6,665.2h0M565.9,693.6h0M563.4,695.7h0M563.4,695.7h0M566.7,692.8h0M597.5,667.1h0M565.1,694.6h0M566.8,693.2h0M561.1,698h0M597.4,668.2h0M564.9,695.1h0M564.9,695.1h0M562.5,697.1h0M565,695h0M566.4,693.9h0M599.3,667.6h0M601.3,666h0M597.4,669.2h0M602.8,664.8h0M598.1,669.5h0M597.9,669.7h0M597.5,670h0M597.7,669.8h0M565.2,695.5h0M599.9,669.1h0M599.6,669.3h0M599.2,669.6h0M562.9,697.6h0M564.6,696.3h0M562.7,697.8h0M598.6,671h0M597.4,671.8h0M598.9,671.6h0M594.2,675.2h0M600.7,670.3h0M602.8,668.8h0M597.4,672.8h0M600.1,670.8h0M566.6,695.5h0M562.5,698.6h0M566.6,695.5h0M600.7,671.3h0M602.2,670.2h0M563.6,698h0M598.6,673.6h0M598.2,673.9h0M601.7,671.4h0M603.8,669.9h0M596.1,675.4h0M597.7,674.3h0M567.2,695.8h0M566.4,696.3h0M564,698.1h0M567.1,695.9h0M567.4,695.7h0M565.6,696.9h0M569,694.5h0M564.1,698h0M567.8,695.4h0M602.2,672h0M567.8,695.7h0M566.2,696.8h0M567.8,695.7h0M601.9,673.1h0M604,671.7h0M599.6,674.6h0M568.2,695.8h0M568.4,696h0M568.6,695.9h0M566.6,697.2h0M598.7,676.9h0M602.5,674.4h0M602.2,674.6h0M570,695.4h0M565.2,698.5h0M598.9,677.6h0M603.7,674.6h0M604.2,674.2h0M600.1,676.8h0M600,676.9h0M601.8,675.7h0M599.1,677.4h0M601.4,676h0M563.4,699.9h0M568.7,696.6h0M565.8,698.4h0M602.6,676.1h0M606.1,673.9h0M603.6,675.5h0M603.3,675.6h0M603.9,675.3h0M601.9,676.5h0M605.8,674.1h0M608.8,672.3h0M566.1,698.6h0M566.8,698.1h0M568.3,697.2h0M566.6,698.2h0M565,699.2h0M601.6,677.5h0M601.5,677.5h0M602.1,678h0M607.2,675h0M601.1,678.6h0M569.4,697.2h0M565.8,699.4h0M569.3,697.3h0M567.5,698.3h0M570.8,696.4h0M567.2,698.5h0M563.6,700.6h0M563.6,700.7h0M605.3,677h0M601.8,679h0M604.6,677.4h0M601.9,679h0M604.3,677.5h0M602.5,678.6h0M563.5,701h0M601.5,680h0M605.2,677.9h0M600.6,680.4h0M567.4,699.1h0M566.1,699.8h0M567.9,698.8h0M601.2,680.9h0M603.2,679.8h0M601.5,680.7h0M604.1,679.3h0M566.6,699.8h0M570.5,697.7h0M570,698h0M568.4,698.9h0M604.1,680.1h0M601.5,681.5h0M601.2,681.6h0M604.4,679.9h0M604.7,679.8h0M572.4,697.1h0M567.1,699.9h0M567.9,699.5h0M566.1,700.5h0M606.1,679.8h0M605.4,680.2h0M602.5,681.7h0M600.8,682.6h0M569.3,699.1h0M565.9,700.8h0M607.8,679.8h0M605.2,681.1h0M599.9,683.8h0M568.2,700h0M565.1,701.6h0M570.2,699h0M565.8,701.2h0M569,699.6h0M606,681.5h0M606.8,681.1h0M606,681.5h0M607.8,680.6h0M603.3,682.8h0M611.1,678.9h0M567.6,700.7h0M570,699.4h0M605.1,682.7h0M602,684.2h0M569.7,700h0M571.3,699.2h0M570.3,699.7h0M568.2,700.7h0M608.1,682h0M608.9,681.6h0M607.7,682.2h0M571.8,699.3h0M567.8,701.2h0M602.2,685.5h0M610.4,681.7h0M568,701.4h0M568.8,701.1h0M567.3,701.8h0M572.1,699.5h0M566.1,702.3h0M607.5,683.8h0M605.3,684.8h0M604.9,685h0M617,679.5h0M569.8,700.9h0M569.7,701h0M607.8,684.5h0M609.9,683.6h0M603.9,686.2h0M568.1,702.1h0M566.8,702.6h0M572.2,700.2h0M566.9,702.6h0M571.6,700.5h0M608.3,685h0M608.6,684.9h0M608.1,685.1h0M608.3,685h0M610.1,684.2h0M570.5,701.3h0M609.4,685.3h0M601,688.8h0M602.8,688.1h0M572.3,701h0M572.8,700.7h0M570.5,701.7h0M609.7,685.9h0M603.9,688.3h0M611,685.4h0M613,684.6h0M608.4,687.2h0M608.5,687.2h0M609.7,686.7h0M607.9,687.4h0M566.1,704.2h0M570,702.6h0M607.3,688.4h0M607.3,688.4h0M606.4,688.7h0M571.5,702.4h0M568.1,703.7h0M572.5,702h0M568.9,703.4h0M605.6,689.7h0M569.6,703.5h0M571,702.9h0M607.3,689.8h0M567.5,704.6h0M607.9,690.3h0M604.8,691.4h0M615.1,687.7h0M605.4,691.9h0M607.1,691.3h0M611.5,690.5h0M607,692h0M608.3,691.5h0M612.2,690.2h0M607.8,692.4h0M605.3,693.3h0M607.7,692.4h0M613,691.4h0M613,691.4h0M616.4,690.3h0M606.3,693.6h0M605.5,693.9h0M611.7,692.6h0M609.7,693.2h0M611.4,692.7h0M610.4,693h0M608.7,693.5h0M607.6,694.5h0M611.7,693.3h0M611.4,693.4h0M603.9,695.7h0M607,694.7h0M611.2,694.2h0M610.3,694.4h0M610.9,694.2h0M611.5,694.8h0M611.4,694.8h0M610.3,695.8h0M610.8,695.6h0M610.7,695.7h0M610.5,695.7h0M610.9,696.3h0M613.4,696.3h0M612.8,696.5h0M612.8,696.5h0M614.7,696.7h0M618,695.9h0M616,697.1h0M611.7,698.1h0M610.6,699.1h0M611.9,698.8h0M616.2,697.7h0M610.6,699.8h0M613.9,699h0M610.2,699.8h0M608.2,700.9h0M613.5,699.8h0M616.8,699.7h0M615.5,700h0M609.1,701.4h0M614.7,700.9h0M608.7,702.1h0M611.3,701.6h0M615.7,701.4h0M613.2,701.9h0M613.1,701.9h0M619.7,700.6h0M615.6,702.1h0M614,703h0M613.8,703.1h0M608.2,704.1h0M616.3,703.3h0M614.1,703.7h0M611.1,704.2h0M620.5,702.6h0M607.1,704.9h0M613.5,704.5h0M616.5,704h0M616.3,704.7h0M614.2,705h0M614.9,705.6h0M613.2,706.5h0M612,706.7h0M615.7,706.8h0M617,706.6h0M613.7,707.1h0M618.3,707.1h0M614.5,707.6h0M615.4,708.2h0M612.9,708.5h0M615.4,708.2h0M616,708.1h0M626.3,706.8h0M619.1,708.4h0M613.8,709h0M613.6,709h0M615.1,708.9h0M615.6,708.8h0M615.4,708.8h0M616.9,709.3h0M613.8,710.3h0M614.4,710.2h0M609,710.8h0M615.4,710.1h0M610.9,710.6h0M612,711.1h0M613.7,711h0M615.7,710.8h0M616.1,711.4h0M611.4,711.8h0M618.4,711.9h0M613,712.3h0M618.1,711.9h0M616.7,712.7h0M607.9,713.4h0M614,713.5h0M618,713.2h0M613.6,713.5h0M613.5,713.6h0M614.2,713.5h0M613.3,713.6h0M615.6,713.4h0M619.2,713.8h0M614.8,714.1h0M614.7,714.1h0M618,713.9h0M609.3,714.5h0M614.5,714.8h0M620.5,714.4h0M609.6,715.1h0M615.7,715.4h0M617.2,715.3h0M615.1,715.4h0M612.9,715.5h0M616,716h0M617.6,715.9h0M619.2,715.9h0M619.7,715.8h0M616.1,716h0M618.7,716.5h0M616.8,716.6h0M613.5,716.7h0M614.1,717.4h0M619.3,717.9h0M612.4,718h0M616,718.6h0M616.4,718.6h0M616.8,718.6h0M613.8,718.6h0M617.9,718.6h0M620.3,719.2h0M614.6,719.3h0M614.7,719.3h0M612.2,720.5h0M615.2,720.6h0M620.2,720.6h0M615.7,721.2h0M615.3,721.2h0M619.6,721.2h0M619.4,721.2h0M615.1,721.2h0M608.9,721.1h0M616.5,721.9h0M622.3,722h0M618.8,722.6h0M620.9,722.6h0M613.1,722.4h0M615.1,722.5h0M618.6,722.6h0M615.3,722.5h0M617.1,723.2h0M620.4,723.3h0M613.2,723.1h0M614.9,723.8h0M619.4,723.9h0M615.1,723.8h0M617.9,723.9h0M616.5,723.8h0M614.9,724.4h0M613.5,724.4h0M615.1,724.4h0M612.8,725h0M614.5,725h0M614.8,725.1h0M614.4,725h0M613.7,725.6h0M615.6,725.8h0M615,725.7h0M624.6,726.3h0M625,726.3h0M614.6,726.3h0M615.3,726.4h0M618.9,726.6h0M613.5,726.9h0M621.9,727.5h0M620.6,727.4h0M615.4,727.7h0M615.8,727.7h0M615.4,727.7h0M615,727.7h0M615.9,728.4h0M614.4,728.3h0M614.3,728.3h0M614.1,728.9h0M615.7,729h0M613,728.8h0M620.5,729.5h0M612.7,729.4h0M614.3,729.6h0M613.7,729.5h0M614.8,729.6h0M616.6,730.4h0M614,730.2h0M618.5,730.6h0M615.2,730.3h0M612.7,730.7h0M615.6,731.7h0M613.2,731.4h0M614.5,731.5h0M615.5,731.6h0M620.1,732.9h0M614.2,732.2h0M614,732.1h0M618.1,733.3h0M616.9,733.2h0M614.4,732.8h0M617.9,733.3h0M619.2,734.2h0M618.1,734h0M614.9,733.6h0M609.5,732.8h0M616.5,734.5h0M618,734.7h0M613.3,734h0M617.7,735.3h0M617.2,735.2h0M617.7,736h0M622.6,737.5h0M615.1,736.3h0M614.1,736.8h0M621.1,738h0M617.7,737.4h0M612.8,736.5h0M618.3,738.2h0M616.9,737.9h0M618.3,738.2h0M616.3,737.8h0M612.3,737.8h0M616.9,738.6h0M614.2,738.1h0M618.2,739.6h0M619.7,739.9h0M617.2,739.4h0M615.9,739.1h0M617.6,739.5h0M610.8,738.8h0M608.4,738.3h0M615.1,740.3h0M613.7,740.1h0M612.1,739.7h0M611.4,739.6h0M616.5,741.3h0M615.3,741.1h0M613.5,740.7h0M614.2,741.5h0M614.2,742.2h0M616.3,742.7h0M615,743.1h0M609.6,742.4h0M616,744h0M615.9,744.7h0M616.4,744.9h0M614.8,744.5h0M613.7,744.9h0M613,744.7h0M616,745.5h0M614.9,745.9h0M613.7,745.6h0M614.7,745.8h0M612.5,745.9h0M611.6,745.7h0M614,746.3h0M616.5,747.8h0M614.6,747.2h0M611,746.2h0M608.8,746.2h0M618.5,749.9h0M613.9,748.5h0M617.5,749.6h0M614,748.5h0M613.6,748.4h0M613.1,748.2h0M613.6,748.4h0M616.9,749.4h0M616,749.1h0M615.3,748.9h0M611.6,748.5h0M615.9,749.8h0M610.9,748.3h0M611,748.3h0M616.1,750.7h0M613.5,749.8h0M612.4,750.2h0M612.8,750.3h0M611.6,749.9h0M610.4,749.5h0M614,750.7h0M611.6,750.6h0M611.4,750.5h0M610.8,750.3h0M610.9,750.4h0M612.1,750.8h0M615.2,752.6h0M608.6,750.3h0M610.8,751.1h0M611.2,751.2h0M612.3,751.6h0M613.4,752h0M615.9,752.8h0M609.6,751.4h0M614.4,753.1h0M612.8,752.5h0M612.2,753h0M611.1,752.6h0M606.3,751.5h0M607.8,752.1h0M610.7,753.9h0M612,754.4h0M609.6,753.5h0M608.4,753h0M610.1,754.4h0M613.5,755.8h0M602.6,751.4h0M613,756.3h0M610.2,755.2h0M613.9,757.5h0M615,758h0M612.2,756.8h0M608.4,755.9h0M607.4,757h0M611.9,759h0M609.1,757.7h0M613.9,759.9h0M617.2,762.2h0M611.4,760.4h0M606.4,758h0M610.8,760.1h0M605.2,757.4h0M609.5,760.3h0M609,760.7h0M610.5,761.5h0M613.3,762.9h0M605.3,759h0M612.7,763.4h0M607.4,760.8h0M609.5,761.8h0M608.9,763.1h0M609.3,763.3h0M611.5,764.5h0M610.5,764.8h0M607.9,763.4h0M606.1,762.4h0M610.6,764.8h0M608.8,763.9h0M605.2,762h0M606.8,762.8h0M600.4,760.1h0M607.8,764.9h0M606,764h0M609.4,765.8h0M612.8,767.7h0M607.7,764.9h0M607.3,764.7h0M609.6,765.9h0M612.2,767.4h0M607.9,765h0M607.2,766.3h0M603,764.6h0M601.8,764h0M606.1,766.5h0M607.6,767.3h0M605,766.6h0M609.8,769.5h0M600.1,763.7h0M605.1,766.7h0M603,765.4h0M606,767.2h0M608.4,768.6h0M604,766.8h0M607.9,769.2h0M607.1,769.5h0M606.9,769.5h0M607.7,769.9h0M604.3,768.7h0M604.8,769h0M604.3,769.5h0M602.9,768.6h0M603.2,768.8h0M603.6,769.9h0M606.4,771.7h0M605.8,771.3h0M603.3,769.7h0M608.1,772.9h0M607.2,772.3h0M605.7,772.1h0M602.3,769.9h0M606.1,772.4h0M602.6,771h0M599.4,768.8h0M607.4,774.2h0M600.7,770.5h0M604.1,772.8h0M603.3,772.3h0M604.7,773.3h0M602.1,771.5h0M605.4,774.7h0M604.8,774.2h0M603.2,773.1h0M603.2,774h0M602.1,773.2h0M608.3,777.7h0M602.6,774.5h0M602.7,774.6h0M601.6,774.6h0M603.3,775.9h0M601.3,775.4h0M596.1,771.4h0M603.9,777.3h0M603.1,777.6h0M604.7,778.9h0M605.2,780.2h0M602.4,778h0M600.3,777.3h0M601.1,778h0M599.8,776.9h0M599.7,776.8h0M596.8,774.5h0M601.5,779.2h0M599.8,777.9h0M600,778h0M599,777.2h0M597.4,777.7h0M600.1,780h0M598.4,778.6h0M597.6,777.9h0M600.2,780.1h0M597.1,778.4h0M595.1,776.7h0M597.9,779.1h0M597.3,779.5h0M600.5,782.4h0M600.2,782.1h0M601.2,782.9h0M596.4,778.7h0M592.9,776.6h0M601.4,784.1h0M594.3,777.8h0M595.5,778.9h0M597.7,781.8h0M595.1,779.5h0M596.1,780.4h0M595.7,780h0M596.6,781.8h0M598.2,783.3h0M596.9,782.1h0M595.5,780.8h0M594.8,780.1h0M596.4,782.7h0M596.1,782.4h0M594.4,780.7h0M596.6,783.8h0M597.7,784.9h0M597.7,784.9h0M597.7,784.9h0M594.4,782.7h0M595.6,783.9h0M599.6,787.8h0M592.1,781.5h0M596,785.4h0M592.1,781.5h0M595.8,785.1h0M596.7,787.1h0M596.3,786.7h0M593,783.3h0M593.6,784h0M594.7,785.1h0M594.1,784.5h0M593.3,783.7h0M589.8,780.1h0M596.1,787.6h0M591.7,783h0M593.6,785h0M594.7,786.1h0M594.1,785.6h0M594,785.4h0M592.2,783.6h0M591.7,783.1h0M591.1,783.4h0M593.2,785.6h0M594.9,787.4h0M586.9,779h0M589.4,782.7h0M589.8,783.1h0M593.4,786.9h0M590.6,784h0M590.1,783.5h0M593.2,787.9h0M594.6,789.3h0M594.5,789.2h0M591,786.5h0M592.7,788.3h0M590.7,786.2h0M589.1,785.4h0M591.5,788.2h0M590.9,788.5h0M592.7,790.7h0M592.7,791.8h0M590.4,789.1h0M591.1,791.1h0M590.5,790.3h0M591.3,791.3h0M589.5,790.3h0M588.1,788.6h0M589.9,790.9h0M590.2,791.2h0M585.6,786.7h0M583.6,784.3h0M588.6,790.4h0M588.6,790.4h0M586.8,788.2h0M587.7,789.3h0M587.4,790.1h0M588.8,791.8h0M589.5,793.9h0M587.8,791.8h0M588.1,792.1h0M586.7,790.4h0M585.7,789.1h0M587,791.9h0M587.2,793.4h0M587.6,794h0M585.6,792.4h0M581.3,786.7h0M585.5,793.6h0M585.1,793h0M585.8,795.3h0M584.6,794.8h0M585.3,795.8h0M582,791.2h0M585.1,795.5h0M582.3,792.8h0M582.3,792.9h0M582.8,793.6h0M582.9,793.7h0M582.7,793.4h0M584.8,796.4h0M583.7,794.8h0M585.8,799.1h0M579.7,790.2h0M584.7,799h0M580.6,792.9h0M581.2,795h0M582,797.5h0M580.5,795.2h0M578.9,792.7h0M580.1,794.6h0M578.6,792.3h0M583.1,799.3h0M580,795.8h0M581.5,798.1h0M580.8,797.1h0M580.4,797.8h0M578.9,795.4h0M580.4,797.8h0M578.5,796h0M579.5,797.7h0M577.6,796h0M577.6,796h0M575.2,792h0M576.8,794.6h0M579.2,798.6h0M577.9,797.8h0M578.2,798.3h0M578.7,799.1h0M578.9,799.6h0M578.6,800.5h0M580.1,803.1h0M578.4,801.6h0M577.1,799.3h0M579.8,804h0M576.5,799.8h0M576.7,800.1h0M577.5,801.5h0M575.6,798.1h0M574.4,797.5h0M572.9,794.7h0M574,796.8h0M576,800.3h0M572.7,794.4h0M577.2,804.1h0M573.9,798h0M573.7,797.7h0M574.3,798.7h0M575.5,800.9h0M575,800h0M574.5,800.6h0M574.8,801.3h0M575,801.6h0M575.6,802.7h0M574.4,800.4h0M575.4,802.4h0M575.3,802.1h0M575.5,802.4h0M574.4,802h0M574.1,801.5h0M575.1,803.2h0M573.9,802.6h0M573.3,801.3h0M573.8,802.4h0M571.8,798.4h0M567.7,790.4h0M572.3,801.1h0M573.7,803.8h0M573,802.4h0M572.2,800.8h0M572.4,801.3h0M571.6,799.5h0M575,806.4h0M570.7,799.3h0M572.1,802.3h0M570.5,798.9h0M572.8,805.3h0M571.1,801.7h0M570.6,800.8h0M572.3,806.1h0M571.7,804.8h0M570.1,803.1h0M571.4,805.9h0M567.9,799.8h0M569.2,802.9h0M568.2,802.4h0M569.4,805.1h0M569.8,805.9h0M568.6,803.3h0M570.3,808.8h0M565.4,797.6h0M568.1,805.7h0M564.4,796.9h0M569.7,809.3h0M567.3,805.5h0M566.9,804.7h0M565.4,802.9h0M567,806.8h0M565.3,804.5h0M564.7,803h0M563.4,799.6h0M563.4,801.5h0M564.7,804.9h0M563.9,804.7h0M564.1,805.2h0M564.5,806.4h0M562.7,803.4h0M563.3,805.1h0M559.2,794.2h0M562.1,803.9h0M563.1,808.9h0M561.5,804.2h0M562.8,807.9h0M563.8,810.8h0M560.8,806.6h0M560.8,808.7h0M560.7,810.9h0M558.5,804.1h0M559.3,806.5h0M558.6,806.4h0M559.7,810.1h0M559.4,809.1h0M557.5,805.5h0M556.9,803.4h0M557.8,808.9h0M557.8,808.7h0M557.1,806.5h0M557,808.5h0M557.5,813h0M557.7,813.6h0M555.5,805.8h0M556,807.8h0M554.2,801.3h0M556.2,811.2h0M556.2,811.1h0M554.8,805.8h0M553.8,802.4h0M555.5,811h0M554.5,807.4h0M555,809.5h0M555.5,811h0M555.4,810.7h0M554.9,811.9h0M554.2,809.2h0M554.3,809.5h0M553.6,806.8h0M554.5,810.1h0M552.1,803.7h0M553.7,810.1h0M553.5,809.2h0M553,807.3h0M552.8,806.2h0M552.7,808.8h0M552,805.9h0M552.7,808.8h0M552,809.1h0M552.7,811.7h0M552.3,810.4h0M552,812.2h0M551.2,808.5h0M551.4,809.6h0M551.7,813.9h0M550.8,810.1h0M551.8,814.8h0M551.7,814.1h0M550.9,810.4h0M551.2,811.9h0M548.3,798.5h0M549.8,808.6h0M550.4,811.5h0M548.8,807.2h0M549.5,810.7h0M547.7,801.7h0M549.1,812.1h0M548.7,810.3h0M547.8,809.6h0M548.9,815.2h0M547.5,807.8h0M546.8,807.7h0M546.9,808.3h0M548.2,815.5h0M547.7,812.6h0M545.8,805.9h0M546.6,815h0M546.5,814.4h0M545.9,810.4h0M546.1,811.9h0M546,811.1h0M544.6,807.1h0M545.3,811.6h0M546,815.5h0M545.2,810.8h0M543.5,799.8h0M544.5,810.9h0M543.9,811.9h0M543.7,810.1h0M543.8,811.2h0M544.2,813.5h0M544.2,813.8h0M543.7,810.1h0M544.2,813.8h0M543.8,810.7h0M543.1,811.2h0M542.5,806.6h0M543.3,812.2h0M543.1,811.1h0M542.6,812.9h0M542.8,814.4h0M541.7,811.2h0M541.8,811.5h0M541.6,810.4h0M541.2,806.7h0M541.3,814.1h0M541.2,813h0M541.4,814.3h0M540.4,811.9h0M539.8,813.9h0M539.9,814.4h0M540.1,816.3h0M539.1,813.2h0M539.1,813.9h0M539.2,814.5h0M538.8,810.8h0M538.6,816.3h0M538.4,813.8h0M537.6,813h0M537.2,807.3h0M536.7,811h0M536.4,816.3h0M536.2,813h0M535.3,811.1h0M535.5,813.8h0M534.7,812.9h0M534.5,808.5h0M534,812.6h0M534,812.1h0M533.9,811.4h0M533.9,810.9h0M533.8,808.6h0M533.9,809.5h0M533.3,812.7h0M533.4,816.4h0M533.3,812.4h0M532.5,811.6h0M532.7,816.1h0M532.6,813.9h0M532.7,817.2h0M531.9,814.3h0M531.9,816.6h0M531.1,811.5h0M531.1,811.5h0M531.2,817h0M531.1,813.8h0M530.4,812.6h0M530.4,816.1h0M530.4,815.6h0M530.4,810.5h0M530.4,813.8h0M530.4,813.5h0M530.4,817.4h0M530.3,798.1h0M529.7,812.6h0M529.7,814.2h0M529.7,811.4h0M529.7,809.6h0M529.7,815.8h0M529.7,817h0M529.7,815.4h0M529,812.4h0M529,813.7h0M528.9,814.5h0M528.9,815.1h0M528.2,816.5h0M528.2,814.4h0M528.3,812.4h0M528.2,814.9h0M528.2,815.9h0M528.2,812.8h0M528.5,799.7h0M527.5,813.8h0M527.5,815h0M527.6,810h0M526.9,809.3h0M526.8,814.1h0M526.1,812.8h0M526.2,809.4h0M526.1,811.8h0M526.6,799.6h0M525.5,810.1h0M525.3,814.7h0M525.5,809.3h0M525.4,812.6h0M524.8,810.4h0M524.6,813h0M524.3,817.8h0M524.6,813.1h0M524.6,812.8h0M524.6,813.7h0M523.8,814.9h0M523.8,815h0M523.3,810.5h0M523.2,812.4h0M523.1,814.1h0M522.2,815.7h0M522.3,814.8h0M522.7,810.1h0M521.9,810.8h0M521.9,810.6h0M521.8,812.2h0M523,798.6h0M520.7,815.3h0M520.5,810.6h0M520.2,813.5h0M519.6,811.8h0M519.3,814.5h0M519.7,811h0M519.6,812h0M519,810.9h0M519,810.5h0M518.8,812.1h0M518.9,811.8h0M518,813h0M518,812.7h0M518.3,810.4h0M517.4,812.2h0M517.5,811h0M517.2,813.3h0M517.6,810.7h0M517.7,809.7h0M516.8,816.4h0M516.3,814.1h0M516.7,811.3h0M515.9,817.1h0M515.7,813h0M515.8,812.5h0M516.2,809.9h0M515.6,814.1h0M514.7,814.9h0M515.5,809.9h0M515.3,811h0M515.2,811.9h0M514.1,814h0M515.4,806.4h0M513,815.5h0M512.9,816.1h0M514.2,808.8h0M513.6,812.5h0M512.9,816.3h0M512.4,814.7h0M512.1,816.2h0M512.7,812.8h0M512.8,812.6h0M512,812.8h0M511.8,813.7h0M512.1,812.2h0M510.5,816.5h0M511.5,808h0M510,814.8h0M510.9,810.4h0M510.5,812.3h0M513.6,797.9h0M509.9,808.6h0M508.5,811.1h0M507.4,812.3h0M508.4,808.3h0M508.1,809.5h0M507.3,812.7h0M507.3,812.9h0M507.1,813.6h0M508,810.3h0M506.4,813.4h0M505.8,815.8h0M506.8,811.8h0M507.5,809.2h0M505.6,813.3h0M505.6,813.5h0M506.3,810.6h0M506,811.8h0M506.7,809.1h0M505.8,809.6h0M506.5,807.3h0M504,813.4h0M505.4,808.4h0M504.3,812.2h0M503.9,810.9h0M502.9,814.4h0M503,811.2h0M503.9,808.4h0M502.3,811h0M503,808.7h0M500.9,812.9h0M501,812.6h0M505.1,799.6h0M501.9,807.3h0M500.3,809.7h0M501.5,806.1h0M500.2,807.8h0M499.5,807.4h0M499.5,807.4h0M499.8,806.5h0M499.8,806.7h0M500,804h0M498.2,808.7h0M497,809.9h0M498.5,805.8h0M498.4,806.1h0M498.8,803.2h0M497.9,805.3h0M497.8,805.7h0M497.7,805.8h0M495.4,809.8h0M497.9,803.3h0M495.6,809.1h0M495.3,807.9h0M493.1,811.1h0M495.4,805.6h0M494.8,805.2h0M494.2,806.6h0M494.7,805.4h0M493.3,808.6h0M493.6,808h0M493.9,807.2h0M492.7,808.1h0M494.6,803.8h0M494.6,803.7h0M493.8,805.6h0M492,807.7h0M492.6,806.4h0M492.7,806.2h0M493.4,802.9h0M492.2,805.5h0M492.3,803.5h0M490.7,806.9h0M491.1,804.3h0M492,802.4h0M491.9,802.6h0M492.2,802h0M491,802.7h0M488.3,808.2h0M490.1,804.5h0M490.1,804.7h0M491.2,802.4h0M488.8,805.5h0M490,803h0M488,805.4h0M489.5,802.5h0M487.7,806.1h0M487.3,805h0M486.7,806.1h0M490.2,799.4h0M487.1,805.4h0M488.1,803.5h0M487.5,803h0M485.5,806.7h0M487.6,802.9h0M488.1,801.9h0M485,807.7h0M489,800.2h0M486.1,805.7h0M484.1,807.7h0M487.2,802h0M486,802.6h0M485.1,804.3h0M485.7,803.2h0M487.3,798.8h0M485.8,801.4h0M486.3,800.5h0M483.2,804.5h0M485.1,801.2h0M484,803h0M486,798.1h0M486.8,796.8h0M482.4,804.2h0M485.2,799.5h0M484.7,800.4h0M487.1,796.3h0M483.9,800.2h0M482.2,803h0M482.2,801.6h0M481.8,802.2h0M482.1,801.8h0M482.3,800h0M481,802h0M480.7,801h0M480.3,800.2h0M480.8,799.5h0M480.4,800.1h0M486.6,790.6h0M479.9,799.4h0M478.1,802.3h0M481.2,797.5h0M478.1,802.2h0M477.8,801.3h0M477.8,801.2h0M480.6,797.1h0M478.6,800.1h0M478.1,799.4h0M481.5,794.5h0M476.9,801.2h0M477.7,800.1h0M478.8,798.4h0M475.8,801.4h0M479.7,795.7h0M475.3,800.8h0M477.8,797.2h0M475,801.1h0M476.1,799.7h0M476.8,797.2h0M474.4,800.6h0M477.1,796.8h0M476.6,796.2h0M477.2,794.3h0M478.2,792.8h0M475.1,797h0M474.3,796.8h0M477.5,792.6h0M474.5,795.3h0M470.8,800h0M474.9,794.8h0M473.4,795.5h0M475,793.4h0M473.6,794h0M475.7,791.5h0M478,788.6h0M477.2,788.5h0M472,794.8h0M471.7,795.1h0M471,796h0M472.6,794.1h0M472.9,793.7h0M470.9,796.1h0M476.3,788.4h0M471.6,794h0M469.6,796.5h0M471.5,794.2h0M476.5,788.2h0M482.4,781.1h0M473.4,790.8h0M469.1,794.7h0M469,794.8h0M472.3,791h0M469.8,793.8h0M474.9,787.9h0M471.5,791.9h0M469.1,793.5h0M469.3,793.3h0M469.6,792.8h0M469,793.6h0M470,792.5h0M469.5,791.9h0M473.7,787.1h0M471.7,789.4h0M466.9,794.7h0M467.1,794.6h0M466.7,795h0M469.1,791.1h0M468.8,791.5h0M469.9,790.3h0M470.1,789h0M466.2,793.2h0M469.2,789.9h0M466.8,792.6h0M468.3,789.8h0M465,791.1h0M464.3,791.8h0M465.5,790.5h0M468.7,787.2h0M468.5,787.4h0M467.7,787.2h0M464.2,790.8h0M463.6,790.3h0M466.6,787.3h0M465.3,787.5h0M462.1,790.7h0M463.9,788.9h0M463.1,789.7h0M464.8,786.9h0M464.6,787.2h0M466.5,785.4h0M465.6,785.2h0M462.9,787.8h0M463.6,786.1h0M463.4,786.2h0M461.9,787.6h0M463.2,786.4h0M464.2,785.5h0M462.4,787.1h0M473.9,776.4h0M463.1,785.5h0M462.4,786.1h0M463.8,784.9h0M464.2,783.5h0M462.2,785.3h0M461.3,785.1h0M462.4,784.2h0M462.2,783.3h0M461.3,784.1h0M461.2,783.2h0M460.1,784.2h0M457.5,786.4h0M464.2,780.6h0M463.3,780.4h0M459.2,783.9h0M461,781.4h0M462.9,779.9h0M462.4,780.3h0M455.6,784.9h0M461.7,779h0M460.3,780.1h0M461.5,779.1h0M460.3,779.2h0M458.1,780.9h0M461.5,778.2h0M457.2,780.7h0M459.1,779.2h0M456.7,780.2h0M456.4,780.3h0M458.4,777h0M457.4,777.7h0M455.1,779.5h0M454.2,780.1h0M456.2,778.7h0M459.7,776h0M458.1,777.3h0M458.1,776.3h0M455.6,778.2h0M456.8,777.3h0M453.4,779.8h0M457.3,776.9h0M456,776.1h0M457.3,775.2h0M458.2,774.5h0M452.9,778.2h0M451.4,778.4h0M455.4,775.6h0M455,775.9h0M455.9,775.3h0M451.2,777.6h0M452.1,777h0M458.3,772.7h0M453.9,775.7h0M450.3,777.3h0M453.8,774h0M455,773.3h0M457.4,770.8h0M455.1,772.3h0M453.6,773.3h0M451.5,774.7h0M454.7,771.7h0M454.8,771.7h0M450,774.7h0M449.1,775.3h0M449.8,774h0M453.1,771.9h0M454,771.3h0M452.1,772.5h0M453.6,770.7h0M452.5,771.4h0M457.2,768.5h0M453.9,769.7h0M452.2,770.7h0M452.6,770.5h0M453.5,769.9h0M452.1,770.8h0M465.3,762.7h0M449.8,771.4h0M451.2,770.5h0M453.5,768.3h0M450.9,769h0M452.5,767.2h0M453,766.9h0M454.6,765.2h0M445.8,770.2h0M449.4,768.2h0M451.3,767.1h0M447.6,768.4h0M451,766.4h0M451.3,766.3h0M449.3,767.4h0M453.9,764.8h0M452.2,765h0M446.7,768h0M452.5,764.9h0M451.8,765.2h0M446.6,767.3h0M447,767h0M448.9,766h0M447.7,766.7h0M446,766.7h0M452,763.6h0M449.3,765h0M453.3,762.1h0M450.3,763.6h0M446.9,765.4h0M447.2,765.3h0M450.4,763.6h0M450.2,762.2h0M450,761.5h0M448.5,761.4h0M450,760.7h0M445.8,762.7h0M444.5,763.4h0M447.2,761.3h0M449.8,760.1h0M446.9,761.4h0M443.1,762.4h0M448.4,759.9h0M446.8,760.7h0M444.2,761.1h0M446.2,760.2h0M445.8,760.4h0M445.7,760.4h0M443.7,761.4h0M446.9,759.1h0M442.1,760.5h0M446,758h0M445.3,758.3h0M443,759.3h0M446.5,757.7h0M447.1,756.7h0M446.2,757.1h0M447.7,756.5h0M444.9,757.7h0M443.7,758.2h0M442,759h0M445.2,756.1h0M448.3,754.7h0M445.6,755.1h0M445.9,755h0M444.9,755.4h0M449,753.8h0M446.4,754.8h0M444.1,755h0M442.6,755.6h0M442.4,754.9h0M442.9,754.7h0M439.6,756h0M443.4,754.5h0M440.9,755.5h0M441.3,754.6h0M445.4,753h0M446.1,752.7h0M445.7,752.9h0M446.5,752.6h0M446.9,751.7h0M440.8,754h0M447.9,751.3h0M446.1,752h0M440.9,753.2h0M449.7,749.9h0M441.9,752.8h0M442,752.1h0M444.5,751.1h0M443.2,751.6h0M442.5,751.9h0M444.5,750.4h0M444.3,750.5h0M441.2,750.9h0M438.1,752h0M443.7,750h0M444.5,749.7h0M446,749.2h0M445.9,748.5h0M440.5,750.4h0M439.4,750.8h0M445.1,748.8h0M441.9,749.9h0M447.4,747.3h0M439.2,749.3h0M445.6,747.2h0M443.9,747.8h0M445,747.4h0M444.6,747.6h0M443.2,747.3h0M443.6,747.2h0M437.2,749.2h0M441.6,747.8h0M440.4,748.2h0M443.7,747.1h0M438.6,748.1h0M443.1,746.6h0M443.7,746.4h0M440.7,746.7h0M438.3,747.4h0M440.2,746.8h0M439,746.5h0M445.7,743.7h0M440.9,745.2h0M440.2,745.4h0M439.7,744.8h0M440.7,744.5h0M441.7,743.5h0M439.9,743.4h0M438.4,743.8h0M436.5,743.6h0M441.7,742.1h0M443.5,741.7h0M442.9,741.8h0M440.4,741.8h0M441.4,741.5h0M438.8,742.2h0M450.2,738.6h0M438.7,741.6h0M441.9,739.4h0M443.9,738.9h0M438.6,740.2h0M444.5,738.1h0M438.4,739.5h0M441.4,738.1h0M444.3,736.8h0M441.5,737.4h0M437.6,737.6h0M440.4,736.3h0M439.3,736.6h0M438.1,736.8h0M439.2,736.6h0M440.8,736.2h0M434.4,737.6h0M439.4,736.5h0M439.4,735.9h0M439.2,735.9h0M441.3,734.8h0M437.5,735.6h0M440.6,734.9h0M438.4,735.4h0M452.3,732.5h0M438.2,734.7h0M435.5,735.3h0M442.4,733.9h0M454.2,731.5h0M435.6,734.6h0M435.1,734.7h0M440.3,733h0M439.5,732.5h0M441.4,732.1h0M439.7,732.5h0M444.8,730.9h0M438.3,732h0M439.9,731.1h0M435.3,731.2h0M442.4,730h0M439.1,730.6h0M435.2,731.2h0M436.3,730.3h0M441.4,729.5h0M437.9,730.1h0M438.6,729.3h0M439.5,729.2h0M439.8,729.1h0M439.6,728.5h0M437.6,728.1h0M440.1,727.8h0M438.5,728h0M436.3,728.3h0M438.8,727.3h0M436.1,727.7h0M438.2,726.7h0M437.8,726.8h0M437.5,726.8h0M436.5,726.3h0M437.6,726.2h0M437.8,726.1h0M439.9,725.2h0M441.5,725h0M436.1,725.7h0M435.6,725.1h0M435.9,725h0M441.6,724.4h0M440.1,723.9h0M433.8,724.6h0M439.1,723.4h0M441.9,723.1h0M436.8,723.6h0M440.5,723.2h0M438.4,722.8h0M433.7,723.3h0M435.1,722.5h0M442.8,721.7h0M441.6,721.8h0M434.8,722.5h0M433.2,722h0M433.4,722h0M437.4,721.6h0M435.7,721.8h0M438.4,720.8h0M440.2,720.7h0M438.8,720.2h0M436,720.4h0M438,719.6h0M439.6,719.5h0M441.1,718.7h0M440.6,718.8h0M437.8,719h0M440.2,718.2h0M441.8,718h0M437.9,718.3h0M433.1,718.6h0M440.8,717.5h0M436.1,717.8h0M437.7,717.7h0M440.3,716.9h0M436.4,717.1h0M438,717h0M432.8,717.3h0M433,717.3h0M434.2,716.6h0M433,716.6h0M438,716.4h0M436.3,715.8h0M438.5,715.7h0M434.2,715.3h0M435.7,715.2h0M436.4,714.5h0M435.3,713.9h0M435.6,713.9h0M439.5,713.8h0M438.6,713.8h0M438.2,713.8h0M433.8,714h0M442.1,712.4h0M435.5,712.6h0M435.8,711.9h0M437.7,711.3h0M435.6,711.3h0M435.6,710.6h0M435.2,710.6h0M436.3,710.6h0M435,710h0M439.1,710h0M439.7,710h0M435.7,710h0M439.4,710h0M437.9,710h0M436.5,709.3h0M435.1,708.7h0M438,708.7h0M436.9,708.7h0M435.3,708.7h0M434.5,708.7h0M437.6,708.7h0M436.6,708.1h0M439.2,708.1h0M450.6,708.2h0M437.7,707.4h0M436.7,707.4h0M440.6,707.5h0M433.4,706.7h0M437,706.8h0M437,706.8h0M438.5,706.8h0M437.3,706.1h0M435.2,705.4h0M439.3,705.5h0M435.4,704.8h0M437.2,704.8h0M435.9,704.8h0M435.6,704.1h0M433.9,703.4h0M440.9,703.7h0M439,703.6h0M435.9,702.9h0M434.8,702.8h0M441,703.1h0M435.7,702.2h0M438,702.3h0M434.5,702.1h0M434.7,702.1h0M440,701.8h0M436.1,701.6h0M438.8,701.7h0M442.2,701.9h0M452.4,702.5h0M438.8,701.1h0M435.3,700.9h0M437.4,701h0M433.6,700.1h0M436.8,700.3h0M442.8,700.7h0M440.5,699.9h0M440.2,699.9h0M436.9,699.7h0M438.8,699.8h0M442.7,700.1h0M437.8,699.1h0M438.8,698.5h0M440.5,698.7h0M436.1,698.3h0M435.1,698.2h0M434.4,698.2h0M435.5,698.3h0M437.6,698.4h0M438.4,697.9h0M440.7,698.1h0M439.5,697.3h0M438.9,697.3h0M437.8,697.2h0M434.1,696.8h0M440.2,697.4h0M439.9,697.4h0M439.7,697.3h0M442,697.6h0M438.4,697.2h0M443.1,697.7h0M437.6,696.5h0M437,696.4h0M438.3,696.6h0M446,697.3h0M437.9,695.9h0M439,696h0M437.1,695.8h0M436.9,694.5h0M441.4,693.7h0M438.5,693.4h0M433.8,692.8h0M437.2,692.5h0M442.5,693.2h0M436.9,692.5h0M439.6,692.2h0M436.8,691.2h0M436.5,691.1h0M444.9,692.3h0M441.3,691.2h0M439.9,691h0M438.4,690.7h0M442.4,691.3h0M439.5,690.3h0M437.5,689.3h0M441.6,689.9h0M440.3,689.1h0M444.1,689.7h0M439.8,689h0M440,688.4h0M438.9,688.2h0M437.5,687.3h0M444.4,688.5h0M435.6,687h0M440.5,687.8h0M435.8,686.3h0M436.9,685.9h0M443.6,687.1h0M440.7,685.9h0M438.2,685.4h0M445.9,686.9h0M441,686h0M435.5,684.9h0M440.3,685.8h0M440.9,685.3h0M445.1,686.1h0M441.5,685.4h0M442.6,685.6h0M441,685.3h0M448.1,686h0M438.6,684.2h0M439,684.3h0M442.3,684.9h0M438.8,683.6h0M440.9,684h0M439,683.6h0M437.8,683.4h0M443.4,684.5h0M440.6,683.3h0M437.6,682.7h0M440,683.1h0M437.2,682.6h0M450.2,685.2h0M439,682.3h0M445.9,683.1h0M443.7,682.6h0M446,683.1h0M440.6,681.9h0M441,682h0M441.4,682.1h0M437,680.5h0M436.5,679.7h0M440.7,680.6h0M442.1,680.3h0M442.2,680.3h0M441.4,680.1h0M439.2,678.9h0M441,679.4h0M439.4,679h0M440.6,679.3h0M438.5,678.8h0M442.4,679h0M445.8,679.9h0M441.3,678.8h0M442.6,678.4h0M440.7,677.9h0M438.7,677.4h0M439.3,676.9h0M441.9,677.6h0M439.9,677.1h0M445.2,678.4h0M445.4,678.5h0M446.8,678.8h0M439,676.8h0M450.5,679.1h0M442.9,677.2h0M441.2,676.7h0M443.1,677.2h0M446.6,678.1h0M442.8,676.5h0M443.6,676.7h0M439.6,675.6h0M445,677h0M446.5,677.4h0M445.4,676.5h0M442.8,675.8h0M438.4,674.6h0M445.8,675.9h0M443.8,675.4h0M442.8,675.1h0M443.2,675.2h0M449.3,676.9h0M444.2,674.8h0M446.8,675.6h0M442.2,674.3h0M442.6,673.7h0M448.2,674.7h0M444.8,673.7h0M444.7,672.9h0M449.5,674.4h0M445.9,673.3h0M443.6,672.6h0M447.8,673.2h0M442.3,671.6h0M447.6,673.2h0M447.7,673.2h0M446,672.7h0M443.1,671.1h0M442.5,670.9h0M448.9,672.9h0M441.8,670h0M449.1,671.7h0M442.9,669.6h0M444.8,670.3h0M446.5,670.1h0M447,669.6h0M442.5,668.1h0M450.9,671h0M444.3,668.7h0M444,668.6h0M444.3,668.7h0M442.9,668.2h0M452.3,671.4h0M444.7,668.2h0M441.6,667.1h0M445.7,668.5h0M447.1,668.3h0M451.6,669.2h0M446.7,667.5h0M443.5,666.3h0M445.2,666.9h0M447.6,667.8h0M451.5,668.5h0M444.9,666.1h0M448.5,666.7h0M454,668.8h0M448.8,666.9h0M443.6,664.2h0M449.2,666.3h0M447.5,665.7h0M445.7,664.3h0M447.8,665.1h0M447.1,664.9h0M441.4,661.9h0M445,663.3h0M450.5,665.5h0M448.6,664h0M445,662.6h0M449.1,664.2h0M446.7,663.3h0M446.3,663.1h0M448.8,664.1h0M449.1,663.5h0M450.3,664h0M446.3,661.7h0M445.8,661.5h0M451.2,663.7h0M445.5,661.3h0M449.2,662.9h0M459.9,667.2h0M451.7,663.2h0M448.2,661.7h0M453.7,664h0M456.3,665.1h0M452,662.6h0M444.8,658.9h0M450.1,661.1h0M449.5,660.9h0M452.1,661.3h0M449.1,660h0M455.6,662.8h0M449.8,659.6h0M447.7,658.7h0M452.5,660.8h0M446.6,658.2h0M451,659.4h0M448,658h0M446.8,657.5h0M451.8,658.3h0M450.4,657h0M454.1,658h0M446.6,654.4h0M454.5,657.5h0M453.2,656.8h0M447.2,653.1h0M447.5,653.3h0M455.3,657.2h0M449.1,654.1h0M454.1,655.1h0M450.3,653.2h0M446.9,651.4h0M452.5,654.3h0M453.2,654.7h0M446.9,649.9h0M451.6,652.3h0M451.8,652.5h0M454.5,653.1h0M453.8,652.8h0M454.3,653h0M451.2,651.4h0M454.9,652.6h0M454,652.1h0M451.2,650.6h0M451.3,650.6h0M456.1,653.2h0M453.7,651.2h0M454.6,651.7h0M454.2,651.5h0M457.3,653.2h0M456,652.5h0M451,649.7h0M455.8,652.3h0M456.1,651.8h0M455,651.1h0M456.8,652.2h0M454.7,650.2h0M455.2,650.5h0M455.9,650.9h0M454.2,650h0M454.1,649.9h0M452.8,648.4h0M457.5,651.1h0M459,651.9h0M454.4,649.3h0M451.7,647.8h0M452.7,647.6h0M456,648.7h0M455.2,648.2h0M457.8,649h0M456.3,648.1h0M455.7,647h0M453,645.3h0M458.5,648.6h0M457.3,647.9h0M458.1,647.7h0M456.1,646.5h0M458.9,648.2h0M457.6,647.3h0M460.7,649.2h0M454.7,644.8h0M456.2,645.7h0M454.8,644.8h0M453.8,644.2h0M458.2,646.9h0M454,644.3h0M458.5,646.4h0M456.9,645.3h0M455.9,644.7h0M458.6,646.4h0M460.8,647h0M459,645.9h0M461.1,647.2h0M457.7,644.3h0M457.2,643.9h0M457.9,644.4h0M461.4,646.7h0M460.2,645.1h0M456.8,642.9h0M459,643.5h0M466.3,648.4h0M460.9,644.8h0M455.6,641.3h0M461.6,645.3h0M457.7,641.9h0M459.5,643h0M461.9,644.7h0M462.4,645h0M461.6,643.7h0M465.2,646.2h0M461.4,642.8h0M458.6,640.8h0M461.3,641.9h0M458.7,640.1h0M461.4,641.9h0M459.4,640.5h0M460.8,641.6h0M460.5,640.5h0M463.2,642.4h0M459.8,640h0M460.1,639.4h0M462.1,640.8h0M464.3,642.5h0M460.1,639.4h0M461.2,640.2h0M457.9,637h0M462.3,640.2h0M462.2,640.1h0M456.5,635h0M458.9,636.8h0M463,639.9h0M459.7,637.4h0M461.4,637.9h0M464.9,640.5h0M464.5,640.2h0M463.7,639.5h0M468.8,643.4h0M462,638.3h0M463,639h0M461.9,638.3h0M463.5,638.6h0M467.2,641.4h0M461.8,637.3h0M466.8,640.3h0M466.2,639h0M463.9,637.2h0M464.4,636.8h0M467.6,639.3h0M465.9,638h0M461.5,634.5h0M463.9,636.4h0M464.3,636.7h0M464.6,636.1h0M464.7,636.1h0M465.7,637h0M466.1,636.4h0M464.6,635.2h0M467.2,637.3h0M465.8,636.2h0M465.4,635.8h0M465.8,636.2h0M463.5,634.3h0M465,634.7h0M466.4,635.8h0M465.1,634.8h0M466.4,635.9h0M467.1,636.4h0M465.6,635.2h0M467.9,636.2h0M467.5,635.9h0M467.7,636h0M466.7,635.2h0M468.1,636.4h0M465.6,634.3h0M470.4,638.3h0M464.7,633.6h0M462.9,631.2h0M468,635.4h0M466.6,634.3h0M468.3,635.7h0M474.6,641h0M466.2,633.1h0M472.6,638.6h0M467.5,634.2h0M469.1,634.7h0M464.9,631.1h0M467.9,633.7h0M466,632h0M471.6,636.8h0M468.3,634h0M469.1,633.8h0M467.9,632.8h0M469.9,634.5h0M466.7,630.8h0M468.5,631.5h0M471.1,633.9h0M467.6,630.7h0M467.9,630.9h0M472.1,634.7h0M468.5,630.6h0M466.4,628.7h0M470.7,632.6h0M471.1,632.1h0M473.2,634.1h0M473.4,633.4h0M471.8,631.9h0M469.7,629.9h0M471,631.1h0M471.7,630.8h0M471.8,631h0M472.6,630.9h0M471.7,629.9h0M469,627.4h0M470.7,628.1h0M474.4,631.7h0M473.7,631h0M472.2,628.6h0M472.2,628.6h0M471.7,628.1h0M474.2,629.7h0M475.2,629.8h0M468.1,622.6h0M474.5,628.2h0M470.1,623.6h0M477,630.7h0M474.7,628.3h0M472.1,625.7h0M473.9,626.5h0M475.1,627.8h0M472.2,624.8h0M473.2,625.9h0M476.9,628.8h0M477.6,628.5h0M475,625.8h0M480.1,630.3h0M476.9,626.9h0M479.4,629.5h0M475.7,624.6h0M479.3,628.6h0M478.1,627.2h0M477.4,625.4h0M477.8,625.9h0M477.3,625.4h0M476.7,624.8h0M479.5,627.8h0M478.7,626h0M477.9,625.1h0M479.5,626.8h0M475.8,621.8h0M478.8,625.1h0M479.6,626h0M477.6,623.8h0M476.1,622.1h0M476.1,622.1h0M477.7,623.8h0M476.1,622.1h0M480.3,626.8h0M479.4,624.8h0M476.2,621.1h0M479.9,625.4h0M477.3,621.4h0M479.4,623.8h0M478.7,622h0M480.5,623.1h0M481.7,624.5h0M480.5,623.1h0M482.3,624.3h0M481.3,622h0M483.3,623.5h0M481.4,620.1h0M479.2,617.4h0M481.7,620.5h0M479.8,617h0M482.6,620.6h0M481.8,619.5h0M482.2,620h0M485,623.6h0M484.1,622.4h0M484.1,621.4h0M486.5,623.5h0M486.5,623.4h0M480.6,614.6h0M485,620.5h0M481.8,616.2h0M486.7,622.7h0M482.3,616.9h0M483.6,617.6h0M484.5,618.8h0M487.2,622.3h0M487,621h0M485.3,617.6h0M487.1,619h0M487.6,619.7h0M487.4,619.4h0M488.6,621h0M482.1,612h0M487.8,618.8h0M489.2,619.8h0M465.3,585.8h0M488.9,618.1h0M489.2,618.6h0M489.3,618.8h0M490.4,620.3h0M489.4,618.9h0M491.8,621.3h0M489.4,617.8h0M486.2,613.1h0M489.2,617.5h0M487.3,614.7h0M491.1,619.2h0M489.8,616h0M490.6,617.3h0M491.6,618.8h0M491,617.8h0M492.1,619.5h0M490.4,615.9h0M490,615.2h0M486.1,609.3h0M493.6,619.6h0M490.9,615.3h0M491.8,614.4h0M492.2,615h0M493.8,616.4h0M494.9,618.2h0M493.5,616h0M490.2,610.7h0M489.5,609.5h0M488,607.2h0M495.1,617.3h0M494.3,616h0M495.7,618.3h0M494.2,615.9h0M493.3,613.2h0M492.6,612.1h0M494.9,615.8h0M493.1,612.8h0M494.1,614.4h0M489.3,606.6h0M488.2,604.8h0M493.9,613h0M493.9,613h0M493.7,612.5h0M495.4,615.4h0M495.9,613.8h0M497.3,615h0M496.6,613.8h0M492,605.7h0M495.9,611.3h0M496.8,611.6h0M497.4,612.6h0M499.6,615.3h0M497.9,612.2h0M499.3,614.7h0M499.4,614.9h0M490.7,599.2h0M494,605.2h0M490.9,599.5h0M498.4,611.8h0M491.2,598.7h0M499,611.5h0M490.1,595.1h0M499.9,611.8h0M501.4,614.7h0M498.1,608.5h0M500.9,612.5h0M502.6,613h0M501.7,611.3h0M501.2,610.3h0M500.1,608.2h0M502.9,610.8h0M502.6,610.4h0M505.9,615.5h0M504.1,611.8h0M504.6,613h0M503.3,610.4h0M504.2,612.1h0M502.7,609.1h0M503.4,609h0M506.4,615.4h0M503.2,608.7h0M504.4,609.8h0M492.1,583.8h0M503.7,606.6h0M504.6,608.7h0M506,610.2h0M505.2,608.5h0M491.1,575.8h0M506.7,608.7h0M507.1,609.7h0M505.3,605.6h0M507.3,610h0M506.7,607.1h0M505.8,605.2h0M487.9,562.4h0M485,555.7h0M508.9,609.1h0M507.5,605.9h0M506,602.4h0M507.8,606.6h0M507.9,606.6h0M509.2,608.1h0M508.5,606.5h0M507.7,604.6h0M510.9,612.3h0M499.8,585.9h0M509.3,606.9h0M509.6,607.6h0M510.1,608.8h0M502.4,590.2h0M509.5,605.7h0M512.1,611.9h0M509.8,606.4h0M510.2,607.4h0M509.9,606.7h0M509.3,605.3h0M509.7,606.1h0M505.8,596.6h0M511.8,609.8h0M509.8,604.8h0M510.7,605.3h0M510.1,603.9h0M510.9,605.8h0M511.8,607.9h0M511.6,605.8h0M508.2,597.1h0M512.3,606h0M504.5,585.5h0M513.3,606.9h0M514.5,608.2h0M513,604.3h0M505.6,584.2h0M510.3,596.9h0M513.3,604.9h0M512.7,603.3h0M507.1,588.4h0M513.8,604.5h0M514.6,606.8h0M515.9,610.3h0M508.3,589.5h0M515.1,606.4h0M508.3,585.3h0M505.6,575.1h0M516.5,604.9h0M515.5,601.8h0M515.7,602.5h0M516.6,605h0M517.2,606.7h0M517.1,606.6h0M517,604.2h0M515.8,600.7h0M517,604.4h0M516.3,602.4h0M518.1,607.6h0M517.1,604.5h0M519.4,609.5h0M516.8,601.6h0M516.9,599.8h0M517.8,602.9h0M518.5,603h0M518.7,603.6h0M517.2,598.9h0M519.5,603.9h0M518.4,600.6h0M519.5,603.9h0M513,583.1h0M519.5,601.9h0M520.2,602.2h0M520.3,602.4h0M521.2,603.1h0M514.4,577.4h0M522.5,603.3h0M522.7,604h0M522.7,601.6h0M522.6,601.4h0M523.9,606.2h0M524.4,605.5h0M523,600.3h0M523.4,601.9h0M523.9,603.8h0M524.6,604h0M523.8,600.8h0M519.4,584.5h0M524.7,602.1h0M524.8,602.2h0M524.9,602.9h0M524,599.1h0M525.1,603.4h0M517.7,575h0M524.9,600.4h0M525.1,601.1h0M525.8,603.8h0M525.3,602h0M525.1,601.1h0M525.5,602.5h0M525.5,602.7h0M525,597.9h0M525.8,601.1h0M526.1,600.1h0M526.4,601.1h0M526.6,601.8h0M526.9,603.1h0M526.7,602.4h0M527,601.1h0M527.3,602.2h0M526.5,599h0M522,580.1h0M521.4,577.7h0M523,581h0M523.1,581.5h0M527.3,596.5h0M528.6,602.3h0M528.7,602.8h0M527.7,598.4h0M528.2,600.8h0M528.4,601.5h0M524.5,584.2h0M526.2,591.9h0M523.6,580.4h0M523.8,581.2h0M526.4,589.5h0M529.4,600.6h0M529.4,600.5h0M529.2,599.5h0M529.3,596.7h0M530.6,603.1h0M528.4,592.8h0M531,598.7h0M525.6,571.8h0M530.2,595h0M531.7,599.1h0M531.7,599h0M531.8,599.9h0M525.8,569.1h0M532.2,598.7h0M532.6,600.7h0M532.6,597.4h0M532,594h0M533.6,599.2h0M533,595.9h0M534.7,601.9h0M532.9,591.6h0M534.6,597.5h0M535.5,599h0M535.3,598.2h0M536.5,605.5h0M536.3,600.6h0M536.3,600.1h0M535.9,597.6h0M536.1,599.4h0M537.2,602.3h0M537,601.1h0M536.9,600.2h0M537.4,599.1h0M538.3,601.2h0M538.2,600.7h0M537.8,598h0M537.6,596.6h0M538.7,599.5h0M539.1,598.3h0M539.8,598.7h0M540,600h0M539.6,597.4h0M540.9,602.7h0M541,597.9h0M541.8,600.2h0M542.2,597.6h0M542.4,599.8h0M542.4,600.1h0M542.2,597.9h0M542.1,597h0M542.1,596.8h0M542.4,600h0M540.5,582.1h0M541.2,588.4h0M543.3,602.4h0M543.2,601.7h0M543.1,600.9h0M543.4,597.5h0M543.5,598.8h0M542.6,589.2h0M544.4,601.5h0M544.1,598.3h0M545.1,602h0M544.4,594.8h0M542.7,574.5h0M544.4,594.1h0M545.5,599.7h0M544.1,582.4h0M546.6,598.3h0M546.8,601.7h0M546.5,597.3h0M545.2,577.2h0M545.8,587.1h0M547.2,598.2h0M545.6,572.9h0M544.9,562.2h0M547.9,599.4h0M547.9,599.2h0M547.8,598.2h0M547.9,599.8h0M549,596.7h0M549.1,598.1h0M549,597.5h0M548.7,590.7h0M549.9,602h0M550.1,607.2h0M550.4,600.5h0M550.2,595.9h0M549.3,569.7h0M551,600.5h0M551.1,602.5h0M551,598.7h0M551.6,598.3h0M552.2,599.7h0M552.2,598.1h0M552.2,599.2h0M552.2,596.4h0M552.2,598.3h0M552.3,601.5h0M552.2,600.9h0M551.9,585.9h0M552.8,598.4h0M552.8,596.9h0M553.5,600.9h0M553.4,598.6h0M554.1,601.9h0M554,594.6h0M554.7,596.8h0M554.7,573.8h0M555.3,600.1h0M555.3,595.9h0M555.9,600.8h0M555.9,601.7h0M555.9,599.5h0M555.9,596.6h0M555.9,598.8h0M556.5,599.8h0M556.9,577.6h0M557.1,599.1h0M557.2,598.1h0M557.2,598.6h0M557.7,601.7h0M557.7,601.3h0M558.3,579.7h0M558.2,583.3h0M558.2,583.6h0M558.4,599.3h0M558.5,594.5h0M558.3,600.6h0M558.5,594.5h0M558.4,600h0M558.4,599.1h0M558.5,595.9h0M558.4,599.7h0M559,598.3h0M559,600.2h0M558.9,600.8h0M559,598.6h0M559.6,599.8h0M559.6,598.9h0M559.5,602.2h0M559.6,600.6h0M561.4,575.8h0M561.2,593.6h0M560.8,600.5h0M561.2,593.5h0M561.5,599h0M561.4,599.9h0M562.2,598.4h0M561.9,602.5h0M561.9,602.2h0M562.9,597.2h0M562.8,598.4h0M562.9,596.9h0M562.9,597.3h0M564.9,568.7h0M563.4,598.8h0M563.3,599.9h0M563.4,598.3h0M563.6,595.8h0M563.1,603.1h0M563.9,599.7h0M564,599h0M563.8,601.6h0M564.2,596.6h0M565.2,584.4h0M565.7,578.9h0M564.3,595.3h0M564.8,596.9h0M565.2,599.3h0M565.3,598.8h0M565,601.1h0M565.4,597h0M565.7,600.7h0M565.4,603.6h0M566.9,589.2h0M566.7,597.3h0M566.7,596.9h0M568.1,583.8h0M567.2,598.4h0M566.9,600.9h0M567,600h0M566.9,601.4h0M567.5,596h0M567.4,602.4h0M567.8,598.6h0M567.1,604.5h0M567.8,598.8h0M568.5,598.4h0M567.9,603.2h0M568,602.1h0M568.4,598.7h0M568.9,599.9h0M568.2,605.3h0M568.5,603.1h0M569.7,599.1h0M569.3,602h0M569,603.7h0M571.8,583.3h0M569.6,603.8h0M570.2,599.9h0M570,601.1h0M570.9,599.6h0M570.8,600.1h0M571.2,601.7h0M571.3,600.8h0M571,602.7h0M571.4,600.4h0M571.5,603.6h0M576.8,570.5h0M578.6,558.6h0M572.9,598.7h0M572.9,598.9h0M573.1,597.7h0M572.1,603.8h0M577.9,568.4h0M572.9,602.7h0M573.3,600.2h0M572.6,604.6h0M577.4,576.4h0M576.2,583.1h0M573.8,601.2h0M573.8,601.2h0M576.1,587.9h0M575.3,596.3h0M574.4,601.2h0M573.9,604h0M574.7,599.8h0M574.9,602h0M578.5,586.8h0M576.3,601.6h0M576.2,601.7h0M576.4,604.1h0M577.7,597.5h0M576.4,604h0M580.9,582.1h0M577.1,600.4h0M576.9,604.4h0M577.6,601h0M577.7,600.9h0M581.7,582.2h0M579.3,596.3h0M582.1,583.6h0M578.6,602.5h0M579.2,599.9h0M578.5,603h0M578.9,603.9h0M580,602h0M579.1,605.7h0M580.3,600.8h0M581.1,603h0M580.9,603.6h0M581.6,600.7h0M581.7,602.9h0M581.6,603.4h0M581.9,602.4h0M583.1,600.1h0M581.9,604.8h0M583.1,600.4h0M583.6,600.9h0M584,601.8h0M587.2,590.3h0M584.8,598.8h0M584.3,603.2h0M583.1,607.4h0M583.9,604.4h0M583.7,605.1h0M583.7,605.2h0M584.2,603.6h0M585,603.1h0M583.6,607.8h0M583.7,607.4h0M585.1,604.7h0M585.8,602.3h0M585.9,602h0M585.8,602.3h0M585.4,603.7h0M585.5,603.3h0M586,604h0M584.6,608.6h0M586.1,603.8h0M584.8,608h0M585.8,607h0M586.4,606.9h0M587.5,603.4h0M587.9,602.2h0M588,601.9h0M588.2,601.3h0M587.8,604.7h0M597.5,574.7h0M593.1,588.3h0M587.3,608.2h0M587.2,608.4h0M589.4,601.8h0M588.7,606h0M589.6,605.3h0M589.5,605.4h0M589.5,605.4h0M589.2,606.5h0M590.7,603.9h0M590.4,604.9h0M590.7,604h0M590.6,604.3h0M596.8,586.6h0M590.7,605.8h0M591.2,604.4h0M590.6,606.3h0M602.4,573.3h0M592.5,602.7h0M592.3,603.4h0M591.1,606.6h0M597.1,590.3h0M593.8,599.1h0M591.7,606.7h0M592.3,605.2h0M592.6,604.4h0M592.9,603.7h0M592.3,606.9h0M591.8,608.3h0M591.6,609h0M591.7,608.7h0M592.4,608.6h0M594.8,602.2h0M599,591.4h0M593.5,607.5h0M594.3,605.3h0M595.1,603.2h0M593.5,609h0M594,609.6h0M601.1,592.1h0M596.9,604h0M596.3,605.5h0M597,603.8h0M595.5,607.5h0M595.4,607.7h0M603.6,588h0M597.6,604.1h0M596.4,607h0M595.6,608.9h0M609.3,576.4h0M597.1,607h0M597.2,606.9h0M597,607.1h0M597.6,605.9h0M604.4,590h0M596.8,609.3h0M618.2,560.3h0M596.4,611.7h0M597.6,609h0M597.2,609.9h0M596.4,611.8h0M595.9,612.8h0M598.9,606.1h0M596.9,610.7h0M599.6,606.2h0M597.3,611.1h0M598.3,609.1h0M599,607.4h0M599.3,608.4h0M598.2,610.7h0M610.6,583.8h0M617.5,568.7h0M616.7,570.5h0M599.2,610.1h0M600.3,607.7h0M599.5,609.3h0M599.7,609h0M599.3,609.8h0M613.5,581.4h0M599.7,612h0M602,607.2h0M600.3,612.2h0M600.8,611.1h0M612.7,587h0M610.8,590.8h0M602.3,609.6h0M601.7,610.6h0M601.5,611h0M601.3,611.4h0M602.8,608.6h0M601,613.4h0M603.4,608.7h0M605.6,604.4h0M603.3,609h0M601.7,612h0M609.3,597.1h0M630.2,556h0M603.1,609.3h0M602.5,611.9h0M603,610.9h0M603.4,610.2h0M603.5,609.9h0M602.6,611.8h0M603,612.2h0M601.4,615.4h0M602.8,614.1h0M603.2,613.3h0M616.2,588.8h0M603.4,614.2h0M604,613.1h0M604.7,611.7h0M605.5,610.3h0M618.3,586.7h0M604.7,613.2h0M605.2,612.3h0M618.4,588.1h0M605.3,613.4h0M605.7,612.6h0M613.9,597.9h0M606.6,612.4h0M605.7,614h0M606.9,611.8h0M604.4,616.1h0M605.9,613.5h0M606.5,612.4h0M606.4,612.6h0M608.3,610.7h0M606.6,613.6h0M605.6,615.4h0M605.2,616.1h0M609.7,608.2h0M613,602.5h0M606.9,614.3h0M607.3,613.7h0M606.8,614.6h0M607.6,613.1h0M607.9,612.6h0M608.9,611h0M613.8,602.5h0M640.1,557.3h0M608.3,613.2h0M608.2,613.4h0M609.4,611.4h0M607.4,616h0M608.9,613.5h0M625.2,586.3h0M610.8,611.7h0M606.9,618h0M609.1,614.4h0M607.7,617.8h0M610.1,615.2h0M609.3,616.5h0M610.3,614.8h0M611.4,613.1h0M611.4,613.1h0M611.4,613h0M611,613.8h0M609.6,616h0M618.1,602.4h0M616.3,605.3h0M609.9,616.7h0M611.3,614.5h0M610.2,616.3h0M613.8,611.7h0M611.2,616.9h0M610.8,617.6h0M611.2,617h0M612.6,614.8h0M631.8,585.4h0M613.6,614.5h0M612.9,615.6h0M620.8,603.7h0M613.8,614.2h0M616.3,610.4h0M613.7,615.5h0M613.7,615.5h0M627.8,594.5h0M614.4,615.6h0M612.1,620h0M615.7,616h0M613.2,619.6h0M613.7,618.8h0M612.8,620.2h0M614.1,618.3h0M614.4,619h0M615.2,617.9h0M619,612.5h0M623.6,606.1h0M615,619.2h0M615.6,618.5h0M615.9,619.1h0M616.5,618.3h0M614.2,621.4h0M634.6,593.4h0M617.3,618.2h0M615.5,620.6h0M614.4,622.2h0M615.3,620.9h0M624.4,608.7h0M617.9,618.5h0M613.6,624.3h0M617,619.7h0M615.5,621.7h0M617.4,619.2h0M617,619.7h0M616.1,622h0M629.9,603.7h0M615.8,623.4h0M619.2,618.9h0M617.5,621.1h0M616.4,622.6h0M617.8,620.7h0M618.1,620.4h0M622.4,614.7h0M618.6,620.7h0M617.3,622.5h0M616,624.1h0M617.2,622.6h0M618.8,621.6h0M620.4,619.5h0M627.3,610.7h0M618.2,623.3h0M618.6,623.8h0M617.5,625.1h0M630.5,609.1h0M627.5,613.9h0M632.3,609.3h0M630.8,611h0M631.2,610.6h0M623.7,620.6h0M621,623.9h0M623.2,622.2h0M623.1,623.4h0M623.4,623h0M621.6,626.1h0M626.2,620.8h0M636.3,609.2h0M624.2,623.1h0M626.3,620.6h0M620.7,627.9h0M624.8,623.4h0M623.8,624.5h0M621.3,627.3h0M624.6,623.6h0M625.1,623.9h0M624.9,624.3h0M621.5,628h0M626,623h0M623.9,626.2h0M625.1,625h0M630.1,619.4h0M622.3,628.9h0M620.8,630.6h0M624.9,626.1h0M623.4,627.8h0M625,627h0M626.5,625.4h0M626.2,625.6h0M623,629.1h0M627.5,624.3h0M624.3,628.6h0M624.7,628.2h0M624.5,628.4h0M623.8,629.2h0M627.3,625.4h0M627.3,625.4h0M625.8,627.9h0M638.2,615h0M626.6,628h0M626.5,628.1h0M624.6,630.1h0M625.4,629.3h0M626.6,628h0M624.4,630.3h0M640.5,613.6h0M633.6,620.8h0M628.3,626.2h0M625.1,630.4h0M623.7,631.8h0M633.4,621.9h0M627.1,629.3h0M628.1,628.3h0M627.9,628.4h0M637.9,618.4h0M625,632.3h0M627.7,629.6h0M628,629.3h0M633.7,623.6h0M625.1,633.1h0M630.4,627.8h0M628.9,629.3h0M628.5,629.7h0M648.2,610.3h0M656.3,602.3h0M644,614.5h0M628.8,630.3h0M628.9,630.2h0M639.1,620.2h0M629.9,630h0M634.5,625.7h0M627.6,633.2h0M625.9,634.8h0M628.5,632.3h0M631.3,629.7h0M628.6,633h0M628.5,633.1h0M634.4,627.6h0M630.4,632.2h0M630.8,631.9h0M628.9,634.5h0M646.3,618.6h0M632.9,630.8h0M629.2,635h0M667.9,600.1h0M664.8,602.8h0M635.3,629.5h0M647,619h0M627.2,637.6h0M631.3,634h0M633,632.4h0M629.7,635.4h0M630.1,635h0M644.1,622.6h0M632.8,633.5h0M628.1,637.6h0M630.6,635.4h0M630.7,635.3h0M642.8,624.7h0M633.9,633.4h0M628.6,637.9h0M633.4,633.8h0M630.6,636.2h0M629.6,637.9h0M632.7,635.2h0M631.8,636h0M632.8,635.1h0M631.3,636.4h0M647.6,622.4h0M634.3,633.8h0M632.3,636.4h0M635.1,634h0M651.7,620h0M662,611.2h0M631.6,637.7h0M659.3,614.6h0M635.1,635.7h0M633.3,637.2h0M633.6,637.7h0M632.2,638.9h0M637.4,634.6h0M632.3,638.8h0M632.8,639.1h0M647.6,627.2h0M636.2,637.2h0M634.8,638.3h0M634.3,638.8h0M632.8,639.9h0M644,631h0M645.9,629.5h0M637,637.4h0M637,638.2h0M638.5,637h0M633.5,641h0M635.9,639h0M634.2,640.4h0M634.2,641.1h0M633.7,641.5h0M636.4,639.5h0M638.6,637.8h0M637.4,638.7h0M646.5,631.7h0M636.4,640.3h0M635.8,640.7h0M633.7,642.3h0M637.8,639.2h0M638.2,638.9h0M638.2,640.5h0M634.8,643h0M636.7,642.3h0M638.3,641.2h0M635.3,643.3h0M638.3,642h0M643.2,639.2h0M643,640.1h0M639.4,643.4h0M639,643.7h0M636.1,645.7h0M662.7,627.2h0M639.7,644h0M639.5,644.1h0M638.4,644.9h0M638.8,644.6h0M668.2,624.3h0M654,634.1h0M638.9,645.3h0M640.9,644.7h0M638.3,646.5h0M642.3,643.7h0M641,645.4h0M639.1,646.6h0M641.1,646h0M640.1,646.7h0M637,648.7h0M639.6,647h0M641.6,645.7h0M658.7,635.4h0M643.5,646h0M642.3,646.7h0M642.4,647.4h0M643.8,646.5h0M643.1,647h0M668.8,630.7h0M641.7,648.6h0M642.7,647.9h0M639.5,649.9h0M640.4,649.4h0M639.7,650.5h0M642.1,649.1h0M648.9,644.9h0M642.7,650.1h0M642.6,650.9h0M644.9,649.5h0M674,632.3h0M644.1,650.7h0M641.7,652.1h0M656.8,643.3h0M647.3,649.6h0M641.6,652.9h0M642,652.7h0M642.1,652.6h0M647.5,650.2h0M646.4,650.8h0M676.2,633.8h0M646.5,651.5h0M643.7,653.1h0M642.6,653.7h0M660.2,643.8h0M670.9,637.7h0M645,653.7h0M649.2,652.2h0M645.5,654.9h0M645.9,654.6h0M647,654.1h0M645,655.2h0M646.2,655.9h0M645.8,656.1h0M646.3,656.5h0M643,658.2h0M648.2,656.2h0M648.4,656.1h0M648.5,656.8h0M645.9,658.1h0M666.2,647.9h0M646.5,658.5h0M646.1,658.7h0M670.3,646.7h0M648.4,658.2h0M645.8,659.4h0M648.4,658.2h0M648.2,658.3h0M647.1,659.5h0M644.3,661.5h0M648.4,659.6h0M648.6,659.5h0M648.1,659.7h0M647.3,660.8h0M647.8,660.5h0M648,661.1h0M649.9,660.2h0M648.6,660.8h0M648.5,660.8h0M648.7,660.7h0M648,661.7h0M650.6,660.5h0M679.4,648.3h0M655.1,659.2h0M648.9,662.7h0M658.6,658.3h0M645.8,664.6h0M672,653.2h0M648.3,664.2h0M651.5,662.8h0M659.8,659.3h0M675.9,652.3h0M647.8,665.1h0M650,664.1h0M650.4,664h0M648.6,665.4h0M648.4,665.5h0M651.6,664.1h0M653.2,663.5h0M650.3,664.7h0M660,660.6h0M670.6,656.2h0M652.7,665h0M652,665.3h0M650.3,666.6h0M653.3,665.4h0M667.8,659.6h0M650,667.4h0M652.3,666.5h0M653.7,665.9h0M651.6,666.7h0M651.9,666.6h0M651.7,666.7h0M649.9,668.1h0M653.7,666.6h0M649.5,668.2h0M648.3,668.7h0M648.5,669.2h0M649.2,669h0M649.9,668.7h0M653.1,667.5h0M654.1,667.1h0M648.8,669.1h0M654.8,667.5h0M666.8,663h0M651.3,669.4h0M653.3,668.7h0M651.2,669.5h0M649.6,670.7h0M653.2,669.4h0M650.7,670.3h0M653.3,669.3h0M652.1,670.4h0M650.9,670.9h0M655.2,669.3h0M653.1,670.7h0M654.1,670.4h0M672.8,664.4h0M661.3,668.5h0M652.2,672.3h0M651.6,672.5h0M674.7,664.5h0M651.3,673.2h0M655.6,672.4h0M649.3,674.5h0M652.4,673.5h0M657.9,672.3h0M676.4,666.2h0M653,674.5h0M655.1,673.8h0M670.3,668.9h0M680.3,665.7h0M655.3,674.4h0M672,669.1h0M651.5,676.2h0M654.7,675.2h0M656.6,674.6h0M651,676.4h0M662.3,672.8h0M654.6,675.9h0M658.2,674.8h0M657.8,674.9h0M654.6,676.5h0M651.2,677.5h0M653.2,676.9h0M650.3,677.8h0M653.4,677.5h0M653.4,677.5h0M654.6,677.8h0M652.3,678.4h0M657,677h0M658,676.7h0M655.1,678.2h0M650.9,679.4h0M657.9,677.4h0M656.4,677.9h0M655.7,678.6h0M653.6,679.3h0M657.7,678.7h0M651.7,681h0M652.4,680.8h0M662.4,678.1h0M655.2,680h0M666.6,676.9h0M664.7,677.4h0M654.5,680.8h0M653.9,681h0M656.5,680.3h0M657.9,679.9h0M656.9,680.2h0M656.4,680.9h0M654.9,681.3h0M656.9,681.4h0M658.1,681.1h0M654.1,682.7h0M652.2,683.2h0M667.4,679.4h0M659.5,681.4h0M657.3,682.6h0M659.2,682.1h0M654,684h0M653.8,684h0M660.1,682.5h0M652.9,684.2h0M656.2,683.4h0M675,678.9h0M657.2,683.8h0M673.8,679.8h0M666.6,681.6h0M662.2,683.2h0M664.9,682.6h0M654.1,685.7h0M658.5,684.7h0M658.4,685.4h0M659.1,685.2h0M657.5,685.6h0M656.5,685.8h0M675.8,682.1h0M654.8,687.4h0M653.8,687.6h0M659.4,686.4h0M657.6,686.8h0M659,686.4h0M660,686.8h0M658.4,687.8h0M657.3,688h0M655.4,688.4h0M654.7,689.1h0M654.5,689.2h0M660.9,687.9h0M658.7,688.3h0M678,685.1h0M669.8,686.7h0M655.5,690.2h0M658.5,689.6h0M657.3,689.8h0M658.9,689.5h0M657.9,690.3h0M657.6,690.4h0M680.1,686.1h0M656.6,691.1h0M658.3,690.8h0M658.9,690.7h0M661.3,690.9h0M655.5,691.9h0M659.8,691.1h0M670.3,689.3h0M670.5,689.2h0M656.1,692.4h0M660.8,691.6h0M657.6,692.1h0M658.7,693.1h0M659,693.7h0M656.7,694.1h0M667.5,692.3h0M660.3,694.1h0M654.5,695h0M656.8,694.6h0M659.1,694.9h0M678.3,692.6h0M659.6,696h0M656.5,696.4h0M658.7,696.1h0M656.3,696.4h0M657.9,696.8h0M657.3,696.9h0M656.9,697.5h0M680.5,694.3h0M665,696.4h0M658.7,697.9h0M658.7,697.9h0M660.3,697.7h0M662.6,697.3h0M667.4,696.7h0M658.4,699.1h0M660.4,698.8h0M662.6,698.6h0M659.6,698.9h0M659.6,699.5h0M658,699.7h0M659.8,700.1h0M661.8,699.8h0M661.9,699.8h0M670.2,698.9h0M661.7,700.4h0M659.3,700.7h0M658.9,700.8h0M657.8,700.9h0M658.7,700.8h0M662.9,700.3h0M661.3,701.1h0M657.2,701.5h0M661.2,701.7h0M657.7,702h0M660,701.8h0M662.3,701.6h0M659.1,701.9h0M672.3,700.5h0M675.2,700.2h0M658.3,702.6h0M661.7,702.8h0M674.2,701.6h0M674.1,701.6h0M661.4,702.8h0M659.7,703.6h0M662.2,703.4h0M659.1,704.2h0M656.4,704.5h0M655.1,705.1h0M656.9,705.6h0M663.1,705.1h0M661.5,705.2h0M659.1,706h0M659.2,707.7h0M660.3,707.6h0M658.2,707.8h0M658.7,707.7h0M660.3,708.2h0M661,708.2h0M674,707.4h0M661.8,708.7h0M676.1,707.9h0M659.3,709.4h0M660.7,709.4h0M661.8,709.3h0M660.9,709.9h0M660.5,709.9h0M659.4,710.6h0M661.8,710.5h0M659.9,710.6h0M657.6,711.2h0M658.9,711.2h0M661,711.1h0M656.3,711.8h0M660.6,711.7h0M661.7,711.6h0M662.9,712.2h0M654,712.5h0M660.3,712.9h0M661.2,712.8h0M661.1,712.8h0M656.8,713.5h0M660.9,713.4h0M676.8,713h0M657.5,714.1h0M658.2,714.1h0M663.8,713.9h0M655.1,714.7h0M663,714.5h0M658.2,715.2h0M656,715.2h0M661.1,715.2h0M664.5,715.7h0M660.1,716.3h0M663.6,716.3h0M659.2,716.3h0M655.5,716.4h0M662.1,716.3h0M673.4,716.3h0M660.1,716.9h0M667.6,716.9h0M662.4,717.5h0M658.5,717.5h0M665.6,717.5h0M661.1,718.1h0M660.5,718.1h0M668.3,718.7h0M659.8,719.2h0M659.2,719.2h0M664,719.3h0M657.3,719.2h0M660.4,719.2h0M660.7,719.2h0M656.9,719.2h0M659.6,719.8h0M661.6,719.8h0M661.7,719.8h0M663.7,720.4h0M661.4,720.4h0M669,720.6h0M661.5,721h0M658,720.9h0M661.2,721.6h0M660.8,721.5h0M659.9,721.5h0M661.6,721.6h0M659.3,722.1h0M680.1,722.8h0M659.7,722.7h0M658.9,723.2h0M659.8,723.2h0M659.5,723.8h0M660.7,723.9h0M661.5,724.5h0M663.1,724.6h0M669.5,724.9h0M659.5,725h0M662.4,725.1h0M666.3,725.3h0M671.3,725.6h0M660.7,725.6h0M661,725.6h0M657.7,725.4h0M655.7,725.9h0M663,726.3h0M659.3,726.7h0M662.4,726.9h0M661.9,726.8h0M660.5,726.7h0M663.7,727h0M676.9,728.4h0M660.1,727.3h0M660,727.9h0M659.2,728.4h0M656.1,728.7h0M661.1,729.1h0M662.4,729.2h0M660.1,729h0M658.7,729.5h0M661.2,729.7h0M660.9,730.3h0M663,730.5h0M659.9,730.2h0M660.5,730.2h0M668.7,730.9h0M659.1,730.7h0M655.2,730.3h0M659.6,730.7h0M662,731.5h0M666.4,732h0M658.2,731.8h0M659.3,731.9h0M660.8,732h0M654.2,731.9h0M657.5,732.3h0M680.6,734.6h0M660.4,733.2h0M659.4,733h0M659.2,733h0M659.9,733.1h0M655.4,733.2h0M659.4,733.6h0M658.6,733.5h0M658.4,733.5h0M661.9,733.9h0M662.6,734h0M661.5,733.9h0M654.7,734.2h0M657.6,734.6h0M655,734.3h0M654.4,734.2h0M654.8,734.3h0M658.6,734.7h0M658.8,735.3h0M661.1,735.6h0M668.2,736.5h0M657.7,735.7h0M660.9,736.1h0M658.9,735.9h0M673.4,737.7h0M657.8,736.3h0M655.3,736h0M658.7,737h0M658.2,737h0M667.1,738.2h0M655.5,737.2h0M658.1,737.5h0M658.7,737.6h0M659.2,737.7h0M658.9,738.2h0M663.7,738.9h0M662.9,738.8h0M655.5,737.8h0M658.8,738.2h0M659.4,738.9h0M659.1,738.8h0M659,739.4h0M659.8,739.5h0M657,739.1h0M660.3,739.6h0M656.7,739.1h0M658.8,740h0M659.3,740h0M660.1,740.8h0M656.7,740.8h0M656,740.7h0M655.8,741.2h0M657.5,741.5h0M658.9,741.8h0M671.4,743.8h0M660.3,742.6h0M656.8,742h0M659.7,742.5h0M657.8,742.8h0M658.4,742.8h0M658.1,742.8h0M661,743.3h0M662.6,744.2h0M657.7,743.3h0M660.8,743.9h0M653.5,742.6h0M655.1,743.4h0M655.8,743.6h0M658.5,744.6h0M656.6,744.3h0M657.9,744.5h0M663.4,745.6h0M657.1,744.4h0M655.7,744.1h0M657.7,745.1h0M662.8,746.1h0M656.8,744.9h0M660.8,745.7h0M654.7,745.1h0M656.8,745.5h0M656.6,745.5h0M658.5,745.8h0M658.2,746.4h0M676.8,750h0M654.2,746.2h0M658.1,747h0M654.6,746.2h0M656.3,746.6h0M655.2,746.4h0M659,747.1h0M659.3,747.2h0M676,750.6h0M650.8,746h0M665.2,749h0M658.3,748.2h0M655.9,747.7h0M654.8,747.5h0M652,746.9h0M661.9,748.9h0M651.7,747.4h0M655.6,748.2h0M655,748.1h0M660.5,749.2h0M657.2,748.6h0M655,748.7h0M657.1,749.7h0M656.9,749.7h0M654.9,749.8h0M654.1,749.6h0M652.8,749.3h0M654.7,750.4h0M654.6,750.3h0M655,750.4h0M668.3,754.2h0M652,750.9h0M657.2,752.2h0M656.4,752h0M657.1,752.1h0M658.6,752.5h0M654.3,752h0M656.5,752.6h0M656.5,752.6h0M655.9,752.4h0M657.7,752.9h0M659.3,753.3h0M659.8,753.4h0M658,753.6h0M658.5,753.7h0M656.4,753.8h0M658.5,754.3h0M673.8,758.2h0M658.7,754.3h0M656.7,753.8h0M657.1,754.6h0M659.4,755.1h0M661,755.5h0M671.2,758.2h0M658.3,755.5h0M662.2,756.5h0M653.6,754.8h0M650.8,754.7h0M654,755.5h0M653.4,755.4h0M653.1,755.3h0M656.9,756.3h0M655.7,756h0M657.3,756.4h0M652.3,755.7h0M658.7,757.4h0M652.3,756.3h0M656.1,757.3h0M655.9,757.3h0M663.5,759.4h0M654.3,757.4h0M655,757.6h0M656.6,758.7h0M658,759.1h0M653.5,757.8h0M653.6,757.9h0M653.6,757.8h0M666.9,761.7h0M655.8,759.1h0M651.4,757.8h0M678,765.6h0M657.3,760.2h0M653.8,759.7h0M654.2,759.9h0M655,760.7h0M653.2,760.1h0M651.2,759.5h0M652.8,760h0M654.3,760.5h0M656.7,761.2h0M653.8,760.3h0M650,759.2h0M656.5,761.2h0M675.1,766.9h0M666.1,764.1h0M666.6,764.3h0M664.9,763.7h0M652.9,760.7h0M651.1,760.1h0M651.1,760.1h0M649.3,760.1h0M653.3,761.4h0M657.1,762.6h0M656.8,763.1h0M652.8,762.5h0M650.6,761.7h0M651.7,762.1h0M656.5,763.7h0M653.1,762.6h0M654.7,763.1h0M665.9,766.7h0M660,764.8h0M650,762.2h0M652.1,762.9h0M653.1,763.8h0M654.4,764.2h0M653.6,764h0M648.3,762.2h0M650.8,763h0M654.6,764.3h0M652.9,764.4h0M655.1,765.1h0M655.9,766h0M651.8,764.6h0M649.9,764h0M651.3,765.1h0M648.2,764h0M671.8,772.2h0M653.9,766.6h0M648,764.5h0M678.9,775.5h0M659.9,768.7h0M649.6,765.7h0M650.5,766h0M652.3,767.3h0M652.4,767.3h0M652.2,767.2h0M650.3,767.2h0M670.1,774.5h0M672.3,775.3h0M656,769.9h0M651.5,768.9h0M650.4,768.5h0M652.4,769.9h0M654,770.5h0M651.1,769.4h0M654.1,771.2h0M647.5,768.6h0M650.8,770.5h0M654.6,772h0M649.1,770.5h0M649.7,770.7h0M652.5,772.5h0M656.2,774h0M653,772.7h0M648.5,770.9h0M675.6,781.8h0M650.9,772.5h0M651.8,772.8h0M647.5,771.7h0M651.7,773.5h0M654.6,774.7h0M669.6,780.9h0M648.6,772.8h0M648.1,772.6h0M648.6,772.8h0M647.2,772.2h0M649.6,773.9h0M650.4,774.2h0M648,773.8h0M651.4,775.3h0M665.6,781.4h0M654.7,776.7h0M649.2,775h0M646.1,774.3h0M649.3,775.7h0M651.4,777.3h0M652.1,777.6h0M646.8,775.9h0M647,775.9h0M646,775.5h0M671.2,786.9h0M647.6,776.9h0M648.1,777.8h0M648.9,778.1h0M649.2,778.3h0M651,779.1h0M646.5,777.7h0M646.8,777.8h0M648,778.4h0M650.7,779.6h0M645.4,777.8h0M648.3,779.2h0M652.1,781h0M645.5,778.5h0M647.8,779.6h0M647,779.2h0M651.8,781.5h0M645.6,779.2h0M644.5,778.7h0M648.9,781.5h0M669.2,791.5h0M670.4,792.1h0M642.6,779h0M656.6,786h0M642.7,779.7h0M642.3,779.5h0M645.8,781.3h0M647.5,782.2h0M646.9,783.2h0M656,787.9h0M647.9,783.7h0M645.5,783.2h0M644.7,782.7h0M644,782.4h0M645.4,783.8h0M641.1,781.5h0M647.3,784.8h0M650,786.2h0M644.1,783.8h0M643.6,783.5h0M642.8,783.1h0M644.5,784.7h0M641.2,782.9h0M664.2,795.3h0M644.5,785.3h0M652.4,789.7h0M645.5,786.6h0M645.7,786.7h0M670.2,800.2h0M644.4,786.6h0M645.6,787.3h0M645.7,787.4h0M643.2,786h0M638.5,783.4h0M661.6,796.3h0M645,787.7h0M657.5,794.7h0M645.8,788.1h0M638.7,784.8h0M644.9,788.3h0M639.8,785.4h0M651.9,792.3h0M649.7,791.1h0M638.9,785.6h0M642.2,787.5h0M643.1,788h0M643.2,788h0M641.9,787.3h0M641.8,787.2h0M644.9,789h0M640.3,787.1h0M643.6,789h0M643.2,788.8h0M641.3,788.3h0M643.9,789.9h0M644.3,790.1h0M641.5,788.5h0M638.5,787.3h0M639.5,787.9h0M651.1,794.9h0M662.1,801.5h0M641.1,789.6h0M638.6,788.1h0M640.2,789.7h0M645.3,792.9h0M641,791h0M640.6,790.7h0M639.3,790.6h0M640,791.1h0M675.1,812.9h0M639.1,791.2h0M641.5,792.7h0M640.1,791.8h0M641,792.4h0M636.7,789.7h0M650,798.1h0M641.6,793.5h0M636.7,790.3h0M641.2,793.2h0M640.4,793.4h0M639.8,793.8h0M637.7,792.4h0M653.8,802.9h0M640.3,794.1h0M637.9,793.2h0M637.5,793h0M642.3,796.2h0M638.4,793.6h0M646.3,798.8h0M649.5,800.8h0M637.5,793.7h0M635.2,792.2h0M639.2,794.8h0M635.8,792.6h0M671.3,816.2h0M635.1,793.5h0M637.5,795.1h0M635,794.1h0M635.5,794.5h0M636.1,794.9h0M635.6,795.2h0M636.5,795.9h0M638,797.7h0M639.4,799.4h0M636.3,797.2h0M636.3,797.2h0M635.5,796.6h0M653,809.9h0M647.4,805.9h0M632.7,796.8h0M635.5,798.9h0M637.3,800.2h0M633.7,798.3h0M631.8,796.9h0M650.1,810.4h0M645.2,806.8h0M633.2,798.7h0M632.9,799.2h0M634.2,800.1h0M642.5,806.4h0M647.4,810.1h0M634.7,800.5h0M657.8,817.9h0M653.5,814.7h0M672.8,829.2h0M632,799.3h0M634,800.8h0M632,799.2h0M635.7,802h0M636,802.3h0M634.1,801.6h0M633.9,802.2h0M632.6,801.2h0M648.9,813.8h0M629.1,799.2h0M630.5,800.3h0M634.2,803.2h0M639.3,807.2h0M631.3,801.7h0M643,810.9h0M631.3,802.4h0M631.4,802.5h0M632.4,804.1h0M630.9,803.7h0M631.2,803.9h0M628.1,801.4h0M628.1,801.4h0M628.1,801.3h0M633.7,806.8h0M630,803.7h0M631.7,805.1h0M629.6,803.4h0M641.2,813h0M630.2,804.7h0M629,803.6h0M632.3,806.4h0M630.6,805h0M631.6,806.7h0M629.3,804.7h0M633,808.6h0M639.9,814.5h0M627.8,805h0M627.1,804.3h0M632.7,809.2h0M629,806h0M636.5,812.4h0M647.3,821.7h0M627,805h0M629.1,806.8h0M628.2,806.1h0M640.7,816.9h0M629.2,807.8h0M648,824.3h0M631.5,810.6h0M648.2,825.4h0M647.6,825.8h0M628.3,809.5h0M630.3,811.3h0M629.7,811.5h0M627.6,809.6h0M623.8,806.9h0M635.3,817.5h0M626,809.8h0M628.3,811.9h0M622.4,806.4h0M672.7,853.3h0M625.4,810h0M623.8,808.6h0M624.7,809.3h0M622.3,807.1h0M624.3,808.9h0M624.1,808.8h0M642.7,826.3h0M632.9,817.1h0M637.8,821.7h0M624.7,810.2h0M624.1,809.6h0M626.6,812h0M621.7,807.3h0M623.2,808.8h0M624.6,810.9h0M625.3,811.6h0M625.4,811.7h0M623.7,810h0M639.3,825h0M622.9,810.1h0M622.8,810.1h0M626,814h0M626.8,814.8h0M624.3,813.2h0M624.7,813.6h0M623.3,812.2h0M640.4,829.1h0M624,813.7h0M624.3,814h0M620.5,811.1h0M623.8,814.3h0M622.5,813h0M623.6,814.2h0M621.3,811.8h0M621.7,812.3h0M624.9,815.5h0M622.9,813.5h0M623.8,814.3h0M622.3,813.7h0M622.2,813.6h0M618.8,810.1h0M621.9,813.3h0M624.9,816.4h0M623.3,815.6h0M634.4,827h0M622.4,815.6h0M644.8,838.8h0M622.1,815.2h0M620.3,814.3h0M619.3,813.2h0M621.8,816.8h0M619.6,814.4h0M631.3,826.7h0M638.1,833.9h0M619.1,814.7h0M621.4,817.1h0M620.2,815.8h0M619.7,816.2h0M619.1,815.6h0M626.6,823.7h0M619.2,816.6h0M617.6,815.7h0M618.2,816.3h0M615.6,813.6h0M621.3,819.8h0M618.3,817.4h0M626.3,827.3h0M616.3,817h0M619.1,820.1h0M618.2,820h0M617,818.6h0M616.7,818.3h0M614.7,816.9h0M616.8,819.4h0M616.9,819.4h0M614.6,817.7h0M618.4,822.2h0M629.5,835.1h0M621.1,825.3h0M615.8,820.1h0M630.4,837.3h0M619.2,824h0M614.1,818.9h0M622.8,829.3h0M630.2,838.1h0M615.8,821.9h0M612.2,818.5h0M614.3,821.1h0M615.5,822.6h0M613.2,819.8h0M612.5,819.8h0M614.3,822h0M614.3,823h0M613.6,822.1h0M614.2,822.8h0M614.2,823.8h0M613,822.3h0M621.9,833.5h0M611.9,821.9h0M613.2,823.6h0M610.8,820.5h0M623.7,836.9h0M611,821.8h0M612.4,823.5h0M626.5,841.6h0M610.8,822.4h0M623.6,839h0M612.1,825h0M608.9,820.9h0M612,824.9h0M610.7,823.3h0M610.1,823.5h0M610.8,825.4h0M607.5,821h0M609.8,824h0M608.9,823.8h0M609.2,824.2h0M610.3,826.7h0M610.4,826.9h0M608.4,824.1h0M609,825h0M608.5,824.3h0M607.2,823.6h0M607.8,824.4h0M610.1,827.5h0M611.7,829.7h0M609.1,827.2h0M607.3,824.7h0M620.5,843h0M611.9,831h0M630.6,857h0M609.7,828h0M607.1,826.5h0M607.7,827.3h0M605.9,825.7h0M608.9,830h0M605.5,826.2h0M604.3,824.5h0M607.5,829.2h0M605.7,827.5h0M608.1,831.1h0M618.7,846.6h0M605.1,827.7h0M604,827.2h0M605.4,829.3h0M604.6,828h0M605.9,830h0M604.4,828.8h0M605.2,830.1h0M605.5,830.5h0M604,828.2h0M603.4,827.4h0M604.6,829.2h0M605.1,829.9h0M602,825.3h0M604.3,829.8h0M604.8,830.6h0M602.9,828.8h0M604.6,831.3h0M604.8,831.7h0M622.9,859.5h0M602.7,829.5h0M602,828.5h0M601.7,829.2h0M601.3,828.4h0M602.2,829.9h0M603.5,831.9h0M602,830.7h0M609.3,842.3h0M601.9,831.7h0M599.4,827.7h0M601.7,831.3h0M600.7,829.8h0M602,831.8h0M600.1,829.9h0M599.7,830.3h0M599.3,830.9h0M600.9,833.4h0M600.8,833.3h0M601,833.6h0M598,828.8h0M600.1,832.2h0M598.3,830.4h0M598.9,831.4h0M598.4,830.5h0M597.9,830.9h0M605.1,842.9h0M599.3,834.4h0M599.7,835.1h0M597.2,830.7h0M597.7,831.7h0M597.8,831.7h0M611.6,855.3h0M598.9,833.7h0M596.4,830.6h0M600.2,837.1h0M598.2,833.6h0M604.7,844.9h0M603.3,842.4h0M597.3,833.4h0M594.9,829.2h0M596.9,832.7h0M610.7,856.6h0M596.6,833.3h0M596.9,833.9h0M606,849.8h0M603.5,845.5h0M599,837.5h0M599.6,838.7h0M593.6,830.3h0M596.3,836.5h0M594,832.3h0M596.7,837.1h0M593.7,831.8h0M605,852.2h0M597,839.1h0M595.5,836.3h0M600.4,845.2h0M594.5,835.6h0M595.4,837.3h0M593.5,835h0M594,836.1h0M591.8,831.9h0M593.7,835.5h0M603.3,853.5h0M593.3,836h0M590.7,831.1h0M594.2,837.6h0M590.6,832.2h0M591.1,834.4h0M592.5,837.1h0M593.7,839.4h0M591.4,834.9h0M589.9,832h0M600.1,851.7h0M593.1,839.5h0M591.2,835.7h0M592.2,839h0M590.4,835.6h0M593.4,842.8h0M589.6,836.6h0M588.5,834.3h0M596.9,851.3h0M590.2,839.2h0M589.5,837.6h0M589.3,837.3h0M589.3,838.7h0M589.1,838.3h0M588.5,837h0M588.1,837.5h0M587,836.7h0M589,842.3h0M587.5,839h0M586.2,836.3h0M586.6,837h0M588.7,843h0M586.6,839.9h0M584.9,837.6h0M586.9,842.1h0M591.7,852.8h0M586.1,841.8h0M585.8,841.1h0M585.3,840h0M597.6,867.6h0M587.6,845.1h0M589.4,849.2h0M583.8,838h0M585.2,841.2h0M584.8,840.4h0M585.5,841.9h0M584.9,840.5h0M590.4,853.1h0M585.3,842.9h0M584,839.8h0M584.6,841.4h0M583.3,838.4h0M583.8,839.5h0M586.5,845.6h0M591.5,857.2h0M584.3,842.1h0M583,839.2h0M584.4,842.3h0M583.7,842.2h0M582.6,839.7h0M582.3,840.4h0M580.5,837.8h0M589.5,859.3h0M592.3,866.1h0M581.4,841.5h0M582,842.8h0M581.6,843.5h0M582.1,844.8h0M581.5,843.2h0M579.6,840.1h0M580.6,842.6h0M581.6,845.2h0M588.3,861.9h0M579.4,841.1h0M582.6,849.3h0M590.3,868.8h0M579.6,843.4h0M578.8,841.3h0M580.3,845.2h0M579.3,842.6h0M579.5,843.1h0M578.3,839.9h0M578.3,841.5h0M578.6,842.4h0M576.7,837.5h0M581.5,850h0M576.7,839.1h0M578.2,843h0M576.7,840.8h0M577.1,841.8h0M577.5,842.7h0M583.1,857.7h0M575.9,840.2h0M578,845.8h0M576.8,842.6h0M586.5,868.8h0M576.9,844.6h0M574.4,837.8h0M576.1,842.4h0M576.9,844.5h0M575.5,842.4h0M576.6,845.6h0M575.4,842.2h0M575.8,843.3h0M581.5,859.2h0M574,840h0M574.8,842.2h0M578.6,853.1h0M574.4,843h0M574,841.6h0M574.5,844.9h0M575.1,846.7h0M574,843.5h0M574.1,843.8h0M572.2,840.2h0M573.4,843.7h0M581.5,867.2h0M572.4,842.6h0M572.1,841.4h0M571.5,839.9h0M572.5,844.5h0M573,846.1h0M572.5,844.5h0M572.1,845.3h0M578.7,865.4h0M577.5,861.6h0M570.8,843.2h0M571.3,844.7h0M571.4,847.1h0M570.6,844.5h0M570.9,845.3h0M576.5,863.1h0M570.6,846.5h0M570.4,845.8h0M570.6,846.5h0M570.8,846.9h0M570.1,846.7h0M568.4,843.1h0M569.2,845.7h0M568.6,843.9h0M568.7,844.2h0M571.4,853.1h0M570.9,855.8h0M567.1,844.9h0M567.9,847.8h0M567.1,845.1h0M568.1,850.4h0M566.3,844.2h0M566.3,844.5h0M567.9,849.9h0M565.8,844.8h0M566.2,846h0M565.1,842h0M566.6,847.7h0M566.6,847.6h0M566.6,849.8h0M566.4,849h0M566,847.4h0M570.2,862.5h0M565.2,846.8h0M564.8,845.5h0M565.3,847.2h0M567.9,856.6h0M564.4,848.3h0M564.4,848.4h0M564.2,847.6h0M564,847h0M563.5,845.1h0M563.5,847.2h0M563.9,848.7h0M563.2,846.3h0M564,849.2h0M563.5,849.6h0M563.2,848.3h0M563,847.6h0M563.1,850.3h0M561.9,845.9h0M563,850.1h0M561.7,845.1h0M563,850.2h0M564.2,855.1h0M566.5,866.9h0M563.9,856.1h0M561.5,849.2h0M561.3,848h0M561.8,850.4h0M565.6,866h0M560.5,847.4h0M560.9,851.7h0M560.3,849.2h0M560.3,849h0M560,850.6h0M559.5,848.2h0M559.2,847.1h0M559.2,847h0M559.1,846.5h0M558.9,848.1h0M558.2,845.3h0M558.7,847.2h0M561,857.3h0M558.9,850.8h0M558,846.8h0M557.9,846.3h0M559,851.2h0M560.6,858.8h0M557.4,846.7h0M557.9,849.2h0M559.6,857h0M556.4,845.2h0M557.5,850h0M556.5,848.4h0M555.8,847.6h0M556.6,851.6h0M555.6,846.7h0M560.1,868.7h0M556.3,853h0M555.8,850.6h0M554.8,848.4h0M554.9,849h0M555.3,851.1h0M554.4,849.7h0M557.2,864.1h0M553.9,850h0M554,850.7h0M554,850.9h0M555.8,860.1h0M554.6,853.9h0M553.8,852.8h0M553.4,850.8h0M553.1,849.2h0M553.3,850.4h0M553.5,851.1h0M553.8,852.6h0M552.4,848.3h0M552.4,848.7h0M552.1,850.1h0M551.6,847.5h0M554.2,861.8h0M552.6,856.5h0M553.2,859.8h0M554.7,868.6h0M551,850.5h0M551,850.7h0M551.1,851.4h0M550.6,848.4h0M551.3,852.3h0M550.6,851.9h0M550.5,851.3h0M549.5,845h0M552.4,863h0M549.7,850.1h0M551,858.2h0M549.6,853.2h0M548.8,851.7h0M548.4,849.2h0M548.2,851.7h0M548,850.5h0M547,851.8h0M547.6,856.2h0M547,851.5h0M546.8,855h0M546.3,851.3h0M545.8,847.6h0M546.5,852.9h0M546.8,854.6h0M545.7,851h0M545,850.5h0M544.8,848.4h0M547.1,866.7h0M544.4,850.2h0M544.1,847.7h0M545.2,856.6h0M545.7,860.4h0M543.3,850.8h0M543.4,851.3h0M542.4,847.6h0M542.4,847.8h0M542.1,850.1h0M542.1,856h0M542.2,856.8h0M541.8,853.7h0M540.9,849.8h0M541,850.9h0M540.5,845.9h0M541.3,854h0M540.4,851.4h0M541.2,859.2h0M539.7,849.6h0M540.1,854.1h0M539.3,852.1h0M538.5,849.9h0M539.1,856.4h0M538.7,851.5h0M538,851.1h0M537.3,849.3h0M536.9,851.2h0M537,852.6h0M536.4,852.4h0M535.8,853.1h0M535.8,852.9h0M536,855.9h0M535.8,852.1h0M535.9,853.7h0M536.4,862.5h0M535.4,855.6h0M535.1,850.7h0M534.6,852.2h0M534.6,852.3h0M533.9,851h0M534,851.5h0M533.8,847.9h0M534,852.9h0M534.2,855.4h0M534.2,856.7h0M533.6,856.1h0M533.4,851.4h0M533.4,852.6h0M533.4,851.2h0M533.2,847.6h0M533.5,853.5h0M532.7,848.2h0M532.9,853.1h0M532.8,851.5h0M532.8,851.4h0M532.2,850.1h0M532.2,850.7h0M532.2,851h0M532.3,854.2h0M532.3,855.2h0M531.7,854.5h0M531.7,854h0M531.7,853.9h0M531.6,850.1h0M531.8,858.1h0M531.2,857.6h0M531,850.7h0M530.4,849.3h0M530.4,848.7h0M529.9,851.8h0M529.8,850.7h0M529.9,851.1h0M529.3,854.1h0M528.7,854.3h0M528.7,850.7h0M528.7,855.7h0M528.7,854h0M528.7,855.5h0M528.1,854.3h0M528.1,852.3h0M528.1,854.5h0M528.1,852.2h0M528.1,853.2h0M528.1,856.5h0M527.5,854.5h0M527.5,852.3h0M527.5,852.2h0M526.9,854.1h0M526.3,851.1h0M526.3,857h0M525.7,855.6h0M525.7,853.1h0M525.2,851.8h0M525,866.5h0M524.5,853.7h0M524.6,852.7h0M524,850.3h0M523.9,853.3h0M523.4,850.1h0M523.4,852.5h0M523.4,853.1h0M522.8,853.3h0M522.8,851.5h0M522.6,858.2h0M521.9,861.7h0M521.6,851.6h0M521.5,854.5h0M521,851.5h0M521.2,848.8h0M520.4,852.7h0M520.3,855.2h0M520.3,855.7h0M520.4,852.7h0M520.4,851.5h0M520.4,851.5h0M519.8,851.9h0M519.4,849.7h0M519.3,851.6h0M518.5,854.9h0M518.6,853.5h0M518.1,851.1h0M518.2,850.3h0M518.3,848.5h0M517.5,851.4h0M517.7,848.8h0M517.3,853.7h0M517.7,847.7h0M516.6,855.9h0M516.8,852.5h0M517,850.5h0M515.9,865.6h0M516.2,852.7h0M515.6,853.4h0M516,848.1h0M515.2,849.9h0M515.3,848.8h0M514.2,855.4h0M514.4,852.4h0M514,850.7h0M513.8,852.3h0M513,854.4h0M512.6,852.3h0M511.8,854.4h0M512.2,851.2h0M510.5,867.1h0M511.2,859.8h0M511.4,853.1h0M511.1,855.7h0M509.8,861.3h0M510.2,852.2h0M510,853.9h0M509.1,856.8h0M509.4,854.1h0M509.8,851h0M508.8,854h0M507.9,861h0M508.9,848.5h0M508.1,854.5h0M507.6,853.8h0M507.7,852.9h0M507.2,852.4h0M507,853.8h0M507.2,852.3h0M505.8,861.8h0M506.1,855.6h0M506.2,850.8h0M506.3,850.1h0M505.4,856.2h0M505.2,853.1h0M504.9,855.1h0M503.5,864.1h0M504.9,855.4h0M504.6,853.3h0M504.6,853.3h0M504.8,852h0M504.8,851.9h0M504.1,852.5h0M504.4,850.8h0M504.1,852.6h0M503.5,852.1h0M503.1,854.5h0M503.2,854h0M504.4,846.9h0M503.1,851.2h0M502.6,854.3h0M502.6,853.8h0M502.4,851.4h0M502.2,849.2h0M502,847.4h0M500.1,854.1h0M500.8,850.4h0M500.5,852.1h0M500.1,853.8h0M499.3,854.7h0M500.3,849.9h0M500.1,850.6h0M501,846.2h0M498.3,859.7h0M499.7,849.5h0M498.7,854.6h0M499.2,852h0M498.9,853.5h0M497.8,856h0M498.6,849.1h0M498.2,850.8h0M499.3,845.8h0M495.1,865.3h0M497.9,849.3h0M497.3,852.3h0M497.9,849.5h0M497.5,851.1h0M498.2,845.2h0M496.8,851.5h0M497.2,849.9h0M493.2,867.7h0M494.7,861.1h0M497,848.2h0M496.3,848.2h0M496.5,847.6h0M495.1,851h0M495.9,847.3h0M494.9,851.7h0M495.3,849.9h0M495,848.8h0M495.2,847.8h0M494.9,848.9h0M493.7,851.5h0M494.4,848.6h0M493.9,848h0M493.5,849.6h0M493.3,850.4h0M493.2,848.4h0M492.7,850.2h0M492.9,849.6h0M492.6,850.8h0M492.5,848.5h0M491.7,851.6h0M493.4,845.2h0M491.7,849.2h0M492.3,847h0M491.4,850.5h0M492.3,844.9h0M491.5,847.7h0M491.9,846.4h0M485.8,868.6h0M488.8,857.5h0M490.6,848.6h0M490.5,846.7h0M490.6,846.6h0M490.1,848.1h0M485.6,864.1h0M486.3,861.8h0M490.5,844.6h0M488.9,850.2h0M489.1,849.6h0M488.8,848.2h0M485.7,858.9h0M487.3,851.4h0M488,848.9h0M488.6,846.8h0M488.8,846.2h0M488.5,847.4h0M487.3,848.9h0M487.3,849.2h0M487.4,846.8h0M484.3,856.8h0M485.7,848.1h0M486.7,844.8h0M486.1,846.8h0M485.6,848.2h0M486.6,845.1h0M485.5,846.7h0M485.4,847h0M485.4,846.8h0M485.6,846.2h0M482.5,855.8h0M479.1,866.3h0M484.1,849h0M485.2,845.6h0M478,867.3h0M484.7,845.2h0M482.2,852.7h0M483.5,848.7h0M485.3,843.5h0M483.5,845.1h0M484,843.4h0M484.3,842.8h0M482.4,846.2h0M482.2,846.8h0M483.1,842.5h0M482.2,845h0M481.2,847.8h0M482.4,844.4h0M476.5,860.9h0M481,846.6h0M481.3,845.7h0M480.3,846.8h0M480.9,845h0M480,845.8h0M480.7,843.9h0M481,842.9h0M471.3,868.8h0M480.1,843.6h0M478,849.3h0M479.7,843h0M478.6,846h0M477.8,848.1h0M478.7,845.7h0M478.4,843.1h0M478.1,843.8h0M476.2,848.5h0M477.7,843h0M476.2,847h0M473.5,853.5h0M475.4,847.1h0M476.9,843.6h0M478.2,840.2h0M469.3,860.2h0M474.1,848.6h0M474.2,846.7h0M475.3,842.7h0M476.5,839.9h0M474.4,844.7h0M473.6,846.6h0M465.7,863.4h0M474.7,840.9h0M462.1,869.6h0M464.7,863.8h0M473.4,843.9h0M473.4,842.4h0M473.7,841.6h0M472.6,842.6h0M472.7,842.3h0M473.5,840.7h0M473.5,839.2h0M472.2,842.1h0M472.5,841.4h0M471.4,843.8h0M471,844.7h0M471.8,842.8h0M466.4,854.8h0M471.4,842.3h0M472.4,840.1h0M472.9,839.1h0M470.5,842.8h0M471.5,840.6h0M470.4,842.9h0M471.1,841.6h0M470.6,841.1h0M470.9,840.4h0M470.8,840.6h0M469.8,842.8h0M465.7,851.4h0M469.8,841.4h0M470.6,839.7h0M467.2,846.7h0M468.2,844.7h0M468,843.5h0M468.9,841.9h0M460,860.1h0M468.4,841.4h0M462.7,853h0M469.1,838.7h0M467.9,841h0M467.9,839.6h0M468.5,838.5h0M466.6,840.8h0M466.9,840.1h0M466.6,839.5h0M465.5,840.1h0M467.8,835.8h0M457.6,855.2h0M466.5,837.1h0M464.8,840.1h0M465.4,839.1h0M465.2,838.1h0M463.8,840.7h0M465,838.6h0M464.7,837.9h0M465.6,836.2h0M455.3,855h0M452.7,859.9h0M463.5,838.6h0M464.8,836.3h0M464.4,837h0M464.3,837.2h0M463.1,838.1h0M464.3,834.8h0M462.3,838.4h0M462.2,838.5h0M461.3,840h0M453.1,854.5h0M463,835.8h0M462.7,835.2h0M462.2,835.9h0M461.3,837.4h0M453.7,850.7h0M460.7,837.3h0M460.2,838.1h0M461.8,835.3h0M464.4,831h0M460.7,837.4h0M460.8,837.1h0M461.2,835.2h0M458.9,839.1h0M459.8,837.6h0M459.2,837.4h0M462.2,831.1h0M458.5,837.4h0M458.4,837.4h0M457.8,838.6h0M460.4,834.2h0M462,831.6h0M461.4,832.6h0M447.1,856.2h0M460,833.7h0M461.3,831.6h0M450.4,849.4h0M459.3,833.7h0M458.4,835.1h0M451.5,846.3h0M456.4,837.1h0M456,837.8h0M457.4,834.4h0M455.6,837.2h0M458.6,832.5h0M457.4,834.3h0M459,830.7h0M456.7,833.2h0M458,830.1h0M456.4,832.6h0M456.2,832.8h0M446.5,847.6h0M443.8,851.8h0M455.7,832.5h0M456.3,831.5h0M454.8,833.9h0M457.3,828.9h0M455.6,831.5h0M455.8,831.2h0M433.6,864.3h0M453.5,833.5h0M453.2,834h0M453.2,832.9h0M452.5,833.8h0M451.5,835.3h0M453,833.1h0M451.7,835.1h0M453.9,830.7h0M452.9,832.2h0M452.8,832.3h0M453.3,831.7h0M452.6,832.7h0M451.7,832.8h0M452.8,831.2h0M453.2,828.6h0M452.3,829.8h0M452.2,830h0M451.6,829.7h0M453.2,827.5h0M451.9,829.3h0M446.5,836.8h0M447.8,835h0M450.6,830.1h0M447.4,834.4h0M451,829.5h0M449.9,831h0M451.6,828.7h0M450.5,830.2h0M449.7,830.2h0M449.3,829.7h0M449.9,828.9h0M448.9,829.2h0M447.6,830.9h0M440.9,839.9h0M448.9,829.2h0M449.9,826.9h0M422.8,862.4h0M430.6,852.2h0M449.3,826.7h0M447.6,828.9h0M434.9,845.3h0M449.8,825h0M448.2,827.1h0M447.3,828.2h0M428.7,852.1h0M444.9,830.3h0M447.7,826.7h0M448.3,826h0M448.4,824.9h0M445.9,828h0M447.9,825.5h0M446,826.9h0M448.4,823.9h0M444,828.4h0M446.3,825.5h0M447.3,824.3h0M445.1,826h0M442.8,828.8h0M445.9,825.1h0M440.8,831.3h0M444.9,826.3h0M445.3,824.8h0M443.9,826.5h0M444.3,825.9h0M442.7,827.9h0M445.6,823.4h0M444.1,825.3h0M446.3,822.6h0M407.1,869.5h0M446.7,821.3h0M445.2,823.1h0M435.9,834h0M442.3,825.4h0M443,824.7h0M442.1,825.7h0M443,824.6h0M442.7,824.9h0M442.5,825.2h0M442.1,825.7h0M442.2,825.6h0M436.5,832.2h0M443.5,823.2h0M441.8,825.1h0M438,829.4h0M435,833h0M441.1,824.9h0M440.5,825.6h0M442,823h0M441.7,823.3h0M440.5,823.8h0M445,818.7h0M440.1,823.2h0M440.2,823.1h0M442.1,821h0M441.7,821.5h0M442.1,820.1h0M441.6,820.7h0M419.3,845.2h0M420.2,844.2h0M437.3,824.4h0M440.7,819.8h0M439.2,821.4h0M437.5,823.3h0M437.7,823h0M439.8,820.8h0M439.3,820.4h0M438,821.8h0M438.8,820.9h0M439.6,820.1h0M437.9,821h0M438.8,820h0M428.2,831.2h0M437.2,820.9h0M440.8,816.2h0M439.7,817.4h0M437.7,819.4h0M437,820.2h0M436.8,820.3h0M440.1,816.1h0M436.2,820h0M437.4,818.8h0M437,819.3h0M433.2,822.2h0M395.1,860.9h0M436.2,818.3h0M434.8,819.6h0M419.1,835.5h0M436.8,816.7h0M438.4,815.2h0M429.4,824.2h0M436.7,816h0M437.9,814.8h0M436.4,816.4h0M435.2,817.5h0M436.2,816.6h0M435,817.8h0M434.1,818.6h0M431,821.7h0M434.1,817.7h0M436.8,815.1h0M436.3,815.6h0M435.2,816.7h0M435,816.9h0M426.3,825.4h0M434,817.8h0M435,816h0M436.9,814.1h0M437,814.1h0M434.7,816.2h0M436.5,813.7h0M436.5,813.7h0M435,815.2h0M432.4,817.6h0M434.3,815h0M434.9,814.4h0M434.5,813.9h0M424.7,823.1h0M423.3,824.4h0M433.8,813.8h0M433.8,813.7h0M433.2,814.3h0M436,811.7h0M434,813.5h0M435.1,810.9h0M434.2,811.7h0M433.5,811.6h0M429.7,815h0M415.5,827.7h0M430.2,814.5h0M429.1,815.5h0M431.9,812.2h0M433.1,811.1h0M433.5,810.8h0M431.5,812.5h0M432.7,810.6h0M427.4,814.4h0M428,813.1h0M430.2,811.2h0M428.7,811.7h0M428.1,812.2h0M430.2,810.4h0M430.8,809.8h0M430.9,809.7h0M430.3,809.5h0M429.4,810.3h0M430.5,809.3h0M428,811.5h0M429.7,810h0M428.8,810.8h0M428.8,810h0M426.5,811.9h0M427.9,810.7h0M429.7,808.4h0M427.3,810.4h0M416.2,819.6h0M425.5,811.9h0M427.7,809.3h0M428.2,808.1h0M428.8,807.6h0M429,807.4h0M425.1,810.6h0M427.1,808.1h0M423.8,810.9h0M427.9,807.5h0M426.4,808.7h0M427.4,807.9h0M402.6,828h0M427.8,806.8h0M427.2,807.3h0M427.5,806.3h0M426.9,806.7h0M429.1,805h0M426.7,806.2h0M426.9,805.2h0M427,805.1h0M424.5,806.2h0M427.8,803.8h0M427.3,804.1h0M424.1,806.6h0M424.8,806h0M424.1,806.6h0M410.2,817.3h0M429.1,802h0M406.7,819h0M424.1,805h0M404,820.2h0M421.3,807.2h0M426.3,802.6h0M424.3,804.1h0M423.3,804.9h0M423.7,803.8h0M425.4,802.5h0M424.8,803h0M421.8,805.2h0M426.4,801.8h0M411.9,812.5h0M425,802.1h0M425.4,801.8h0M423,803.5h0M422.3,804h0M423,802.8h0M423.3,802.5h0M426.7,800.1h0M422.4,802.5h0M428.6,798h0M421,803.5h0M423,801.2h0M425.3,799.6h0M405.4,813.8h0M406.5,813h0M409.7,810.7h0M420.7,802.1h0M422.9,800.6h0M424.4,799.5h0M423.4,800.3h0M402.1,815.2h0M410.7,809.2h0M394.2,820.7h0M421.1,801.1h0M419.9,801.9h0M421.4,800.9h0M417.2,803.1h0M420.2,800.2h0M418.3,800.8h0M420.9,799h0M421.1,798.1h0M418.5,799.9h0M422.1,797.5h0M417.3,800.7h0M420.5,798.5h0M418.8,799.7h0M419.1,798.8h0M421.9,796.9h0M416.9,800.2h0M420.3,797.2h0M418.4,798.5h0M422.4,795.8h0M396.9,812.5h0M415.7,799.5h0M416.9,798.7h0M418.7,796.8h0M423.8,793.5h0M370.4,827.8h0M421.4,794.4h0M415.1,798.4h0M417.5,796.1h0M420.1,794.5h0M419,795.2h0M415.9,797.1h0M421.3,793.7h0M394.7,810.5h0M419.1,794.4h0M417.7,795.3h0M417.3,795.5h0M417.1,795.6h0M415.6,796.6h0M417.5,795.4h0M402.5,804.7h0M417.2,795.6h0M420.8,792.6h0M415.7,795.1h0M396.7,806.6h0M417,793.6h0M416.6,793.8h0M415.9,794.2h0M421.6,790.1h0M417.5,792.5h0M378.9,815.6h0M418.8,791.1h0M416,792.7h0M413.2,794.4h0M413.8,794h0M420.1,790.3h0M416.3,791.8h0M415.5,792.3h0M410.6,795.2h0M416.8,790.8h0M416.7,790.9h0M415.7,791.5h0M415.8,791.4h0M400.1,800.5h0M417.1,790h0M414.3,791.6h0M413.6,792h0M418.3,789.3h0M417.2,789.9h0M400.2,799.7h0M412.1,792.2h0M414.4,790.8h0M403,797.3h0M416.8,788.8h0M412.8,791h0M415,789.8h0M389.3,804.2h0M413.3,790h0M411.3,791.2h0M411.2,791.2h0M413.7,789.8h0M412.1,790.7h0M414.5,788.7h0M412.4,789.8h0M391.6,801.2h0M414.4,788h0M412.9,788.9h0M418,785.4h0M413.2,788h0M413.4,787.9h0M414.9,786.4h0M412.6,786.9h0M415.3,785.5h0M414.3,786.1h0M411.9,787.3h0M400.8,793.1h0M412.7,786.2h0M412.1,786.5h0M416.9,784h0M417.9,783.5h0M412.9,786.1h0M409.6,787.8h0M413,785.4h0M411.8,786h0M408,788h0M415.4,784.1h0M402.1,791h0M413.7,784.4h0M409.7,786.4h0M414.9,783.7h0M412.1,784.5h0M411,784.3h0M414.3,782.7h0M412.7,782.8h0M408.7,784.8h0M409.4,783.8h0M412.8,782.1h0M401.1,787.8h0M409.3,783.8h0M411.4,782.1h0M411,781.6h0M409.8,782.2h0M408.5,782.8h0M412.4,780.3h0M412.5,780.3h0M411,781h0M396.4,787.9h0M394.4,788.8h0M376.8,797.1h0M414.7,778.6h0M407.1,782.1h0M408.2,781h0M408,781h0M411.2,778.9h0M408.5,780.2h0M412.7,778.3h0M392.3,787.6h0M406.6,781h0M408,779.7h0M409.6,779h0M409.5,779h0M408.3,779.6h0M407.2,780.1h0M407.3,779.4h0M407.8,779.1h0M411.7,777.4h0M407.5,779.3h0M408,779.1h0M396.1,784.4h0M406.3,779.1h0M408.3,778.2h0M406.8,778.9h0M407.2,778.1h0M407.2,778.1h0M411.6,776.2h0M409.2,777.2h0M410.5,776.6h0M403.3,779.8h0M409,776.6h0M410.5,776h0M409.8,776.3h0M409.5,776.4h0M407.3,777.4h0M400.3,780.4h0M406.2,777.2h0M410.2,775.5h0M409.9,775.6h0M407.9,776.5h0M407.4,776.6h0M405.7,777.4h0M405.4,777.5h0M385.9,785.8h0M406.2,777.2h0M379.5,788.6h0M405.7,776.7h0M384.7,785.5h0M408.1,775.1h0M370.1,790.9h0M407.8,774.5h0M407.7,774.6h0M412.1,772.8h0M412.3,772.1h0M411.7,772.3h0M406.3,774.5h0M370.8,788.9h0M394.7,779.2h0M405.7,774.1h0M404.6,774.5h0M403.9,774.8h0M388.2,781.1h0M382.8,783.3h0M409.6,771.9h0M408.4,772.4h0M411.5,771.1h0M406.1,773.3h0M406.5,773.1h0M403.7,773.6h0M405.6,772.8h0M409.1,770.8h0M405.6,772.2h0M404.4,772.7h0M404.4,772.7h0M406.6,771.8h0M408.5,770.5h0M409.6,770h0M405.5,771.6h0M407.3,770.3h0M411.4,768.7h0M406.5,770.6h0M407.7,770.1h0M402.3,772.2h0M404.6,771.3h0M405.4,771h0M403.8,770.9h0M408.1,769.3h0M404.3,770.8h0M406.8,769.8h0M403,771.3h0M406.4,770h0M404.2,770.2h0M407.1,769.1h0M405.6,769.6h0M409.2,768.3h0M404.5,769.4h0M399.1,771.4h0M405.8,768.9h0M404.1,769.6h0M403.7,769h0M406.1,768.2h0M407.9,767.5h0M398.9,770.8h0M404,768.3h0M401.1,768.7h0M408.1,766.2h0M399.8,768.5h0M404.8,766.8h0M404.7,766.2h0M402.8,766.8h0M404.2,766.3h0M405.3,765.3h0M371.5,776.7h0M406.4,764.3h0M408.4,763.7h0M404.5,764.4h0M400.3,765.7h0M405.4,763.5h0M401.7,764.6h0M402,764.6h0M406.5,763.1h0M391.2,768h0M402.9,763.6h0M401.5,764.1h0M402.1,763.9h0M401.5,763.4h0M384,769h0M399,764.2h0M403.7,762.1h0M405,761.1h0M378.2,769.3h0M378.4,769.3h0M402.9,761.1h0M402.5,761.3h0M371,770.8h0M407.4,759.2h0M400.5,761.2h0M400.8,761.1h0M395.8,762.6h0M401.7,760.3h0M402.3,760.1h0M403.2,759.8h0M388.5,764.1h0M393.1,762.8h0M401.9,759.6h0M404.4,758.9h0M398.9,760.5h0M392.1,762.4h0M401.5,759.7h0M401.9,759h0M404.1,757.7h0M403.1,758h0M403.1,758h0M402.8,757.5h0M402.8,757.5h0M402.2,757.7h0M397.3,759h0M402.7,756.3h0M395.3,758.3h0M400,757h0M378.9,762.7h0M399.2,756.6h0M389.5,758.5h0M399.5,755.3h0M401.5,754.8h0M402.1,754.6h0M405.4,753.8h0M399.9,755.2h0M400.6,754.4h0M404.5,752.8h0M400.8,753.8h0M396.3,754.9h0M403.3,752.6h0M400.6,753.2h0M400.1,753.3h0M399.9,752.8h0M402.1,752.2h0M379.7,757.6h0M402.1,751.6h0M378.8,757.2h0M375.9,757.9h0M403.3,750.8h0M402.3,751h0M399.8,751.6h0M398.7,751.8h0M398.3,751.9h0M402.6,750.9h0M402.5,750.9h0M399.8,751.6h0M397.8,752h0M399.7,751h0M400.7,750.2h0M397.4,750.9h0M397.7,750.8h0M400.6,749.6h0M397.8,750.2h0M395.3,750.8h0M380.9,754h0M403.8,748.3h0M403.6,748.3h0M398.8,748.8h0M400,748.5h0M402.5,748h0M398.6,748.8h0M402.8,747.9h0M376.5,753.6h0M396.3,749.3h0M385.6,751.6h0M396.9,748.6h0M402.3,747.4h0M399.2,748.1h0M399.6,746.8h0M400.7,746.6h0M398.6,747h0M396.3,746.9h0M397.2,746.1h0M398.5,745.8h0M402.1,744.6h0M399.4,745.1h0M402.7,743.9h0M400.4,744.3h0M380.9,748h0M397.9,744.2h0M397.5,743.6h0M397,743.1h0M397.6,743h0M394.9,743.5h0M396.7,743.2h0M399.1,742.8h0M370,747.9h0M389.7,744.4h0M378.9,746.3h0M398.1,742.4h0M398,742.4h0M394.7,742.9h0M397.4,742.5h0M396.1,742.7h0M375,746.4h0M398.4,741.7h0M399.5,741.5h0M399.1,741.6h0M380.5,744.7h0M368.8,746.8h0M394.4,741.8h0M396.9,741.4h0M398.6,741.1h0M371.8,745.6h0M393.1,742h0M399.3,740.4h0M396.4,740.9h0M394.8,741.1h0M396.7,740.8h0M398.1,740.6h0M395.8,740.9h0M394.1,740.6h0M397.1,740.1h0M382.8,742.4h0M397.6,739.5h0M384.6,741.5h0M395,739.3h0M396.7,738.4h0M395.2,738.6h0M399.2,738.1h0M397.1,738.4h0M393.7,738.3h0M397.8,737.7h0M394.9,738.1h0M385.6,739.4h0M399.3,736.9h0M394.6,736.9h0M391.8,737.3h0M385,738.3h0M396.7,736.1h0M399.1,735.7h0M395.5,736.2h0M398.1,735.3h0M392.1,736.1h0M397.5,735.4h0M398.1,735.3h0M396.4,735.5h0M396.9,734.9h0M397.3,734.8h0M395.8,734.4h0M397.2,734.2h0M376.9,736.8h0M386.9,735.5h0M396.5,733.7h0M399.8,733.3h0M395.8,733.8h0M395.2,733.9h0M396.8,733.7h0M395.5,733.9h0M395.3,733.3h0M398.5,732.9h0M395.9,732.6h0M397.9,732.4h0M400.9,731.5h0M373.9,734.5h0M378.6,734h0M375.7,734.3h0M395.6,731.5h0M393.5,731.7h0M395.7,731.5h0M396.6,730.8h0M396,730.9h0M399.8,730.5h0M397,730.8h0M396,730.9h0M394.6,731h0M394.7,730.4h0M397.1,730.2h0M397.9,730.1h0M398.8,730h0M395.9,730.3h0M398.3,729.5h0M398.6,729.4h0M394.3,729.9h0M380.2,731.2h0M394.1,729.3h0M400,728.7h0M395.6,729.2h0M379.6,730.7h0M396.6,728.5h0M399.3,728.2h0M394.7,728.6h0M368.8,731h0M398.9,727.7h0M394.9,728h0M379.6,729.4h0M400.5,727h0M398.7,727.1h0M399.3,727.1h0M396.6,727.3h0M395.2,727.4h0M396.8,727.3h0M392.1,727.1h0M394.3,726.9h0M398,726.6h0M396.8,726.7h0M373.7,728.6h0M395.9,726.2h0M392.9,726.4h0M393.1,726.4h0M397.5,726.1h0M398.1,725.5h0M397.3,725h0M395.6,725.1h0M402,724.6h0M390.6,725.4h0M398.3,724.3h0M395.4,724.5h0M397.8,724.3h0M400.9,723.6h0M394.1,724h0M392.6,724.1h0M399.3,723.1h0M394.3,723.4h0M377,724.5h0M368.8,725h0M395.2,722.8h0M398,722.6h0M394.5,722.2h0M396,722.1h0M398.9,722h0M396.5,722.1h0M395.6,722.2h0M387.2,722.6h0M394.8,721.6h0M395.1,721.6h0M393.9,721.1h0M394.6,721.1h0M398.3,720.9h0M391.5,721.2h0M396.7,721h0M394.4,721.1h0M395.6,720.4h0M395.6,720.4h0M394.8,720.5h0M398.1,720.3h0M396.3,720.4h0M397.2,720.4h0M397.1,720.4h0M394,720.5h0M397.2,719.8h0M391.4,720h0M397.1,719.2h0M394.2,719.3h0M396.3,718.7h0M400,718.5h0M397.1,718.6h0M394.3,718.7h0M384.1,719.1h0M387.7,719h0M397.5,718.1h0M395.8,718.1h0M395,718.1h0M393.1,717.6h0M400.8,717.4h0M396.3,716.9h0M387.2,717.2h0M395.5,716.4h0M394.6,715.8h0M397,715.8h0M397.5,715.8h0M397.1,715.8h0M373.3,716.2h0M398.9,715.2h0M394.6,714.7h0M379.5,714.9h0M394.7,714.7h0M395.8,714.1h0M394.3,714.1h0M393.5,713.5h0M400.9,713.5h0M399.5,713.5h0M399,712.9h0M396.2,712.9h0M398.5,712.9h0M397.6,712.9h0M401,712.9h0M396,712.4h0M395.7,712.4h0M394.5,712.4h0M395.9,711.8h0M397.5,711.8h0M395.4,711.8h0M392.8,711.2h0M394.8,711.2h0M391,711.2h0M396.1,711.2h0M395.5,711.2h0M393.5,710.6h0M395.9,710.6h0M399,710.7h0M394.3,710.6h0M385.1,710.5h0M394.6,710.6h0M394.6,710h0M378.7,709.8h0M369.9,709.7h0M393.9,710h0M396,709.5h0M395.2,709.5h0M388.2,709.4h0M397.6,708.9h0M400.8,709h0M390.9,708.2h0M394.6,708.3h0M392.1,708.2h0M393.5,708.3h0M393.1,707.7h0M394.7,707.7h0M393.6,707.7h0M395.8,707.2h0M372.8,706.5h0M395.8,706.6h0M395.8,706.6h0M395.9,706h0M389.5,705.8h0M397.2,706.1h0M393.9,706h0M375.7,705.3h0M393.4,705.4h0M396.6,705.5h0M392.4,705.3h0M395.8,705.4h0M392.8,705.3h0M383,705h0M396.1,704.9h0M397.5,704.9h0M393.3,704.8h0M393.9,704.2h0M397.4,704.4h0M394.8,704.3h0M395.3,704.3h0M396.5,704.3h0M395,704.3h0M395.3,704.3h0M392.2,703.5h0M396.9,703.8h0M395.4,703.7h0M371,702.5h0M372.6,702.6h0M395,703.1h0M396.8,703.2h0M390.8,702.9h0M395.7,702.6h0M393,702.4h0M393.3,702.4h0M394.6,702.5h0M395.9,702h0M392.7,701.8h0M394.8,701.9h0M393.8,701.3h0M393.7,701.3h0M395.5,700.8h0M394.3,700.7h0M398.4,701h0M392.4,700.6h0M391.8,700.6h0M393.1,700.1h0M394,700.1h0M394.6,700.2h0M400.2,700h0M391.8,699.4h0M392.2,699.4h0M392.9,699.5h0M395.9,699.7h0M393.4,698.9h0M394.7,699h0M396.3,698.6h0M402.6,699h0M393.2,698.3h0M397.5,698.7h0M384.1,697.6h0M377.1,697.1h0M396.3,698h0M396.7,698h0M393.4,697.8h0M396.5,697.4h0M398.4,697.6h0M397.1,697.5h0M381.4,696.2h0M379.6,696h0M396.2,696.8h0M380.4,695.5h0M401.5,696.7h0M378.7,694.7h0M395,695.5h0M398.9,695.9h0M399.6,696h0M397.8,695.2h0M396.6,694.5h0M402.2,695.1h0M394.6,694.3h0M398,694.7h0M393.7,694.3h0M398.2,694.1h0M397,694h0M395.9,693.3h0M396.6,693.4h0M396.2,693.3h0M397.3,693.5h0M395,692.6h0M397.6,692.9h0M394.5,692.6h0M396.9,692.8h0M378.4,690.8h0M398.1,692.4h0M397.4,692.3h0M399,691.9h0M394.7,691.4h0M395.9,691.6h0M396.9,691.7h0M389.5,690.8h0M394,690.8h0M379,689h0M384.3,689.6h0M397.6,690.6h0M396.3,690.4h0M397,690.5h0M395.5,690.4h0M401.4,690.5h0M398,690.1h0M397.9,689.5h0M394.5,689h0M398.1,689.5h0M392.4,688.2h0M397.7,688.9h0M399.1,689.1h0M397.3,688.8h0M396.8,688.2h0M401.6,688.8h0M380.5,686h0M398.9,687.9h0M397.6,687.7h0M397.3,687.7h0M397.8,687.2h0M398.6,687.3h0M381.7,684.3h0M401.1,686.5h0M399.3,686.2h0M395,685.6h0M396.1,685.7h0M396.3,685.8h0M398.7,686.1h0M398.7,685.5h0M400.4,685.8h0M370.4,681.3h0M397.4,684.8h0M399.3,685.1h0M395.1,684.4h0M397.7,684.8h0M395.2,684.4h0M396.7,684.1h0M396.7,684.1h0M394.2,683.7h0M398.4,683.8h0M398.7,683.8h0M398.3,683.7h0M377,680.4h0M399.4,683.3h0M393.9,681.8h0M395.6,682.1h0M394.6,681.9h0M370.6,678h0M397,681.8h0M402.2,682.6h0M397.7,681.3h0M399.5,681h0M392.7,679.2h0M395,679.6h0M376.6,676.3h0M372.7,675.6h0M394.8,679h0M373.1,675h0M396.9,678.8h0M399.2,679.2h0M385.6,676.7h0M398.4,678.5h0M397.2,678.3h0M402.6,679.3h0M399.6,678.7h0M397.2,678.3h0M398.6,677.9h0M395.5,677.3h0M396.3,676.9h0M400.2,676.5h0M398.2,676.1h0M392.5,674.9h0M402.7,676.4h0M399.9,675.8h0M397.6,674.8h0M402,675.7h0M392.5,673.7h0M398,674.2h0M401.5,675h0M401,674.9h0M397.7,674.2h0M400.1,674.7h0M395,673.6h0M399.8,674h0M402.4,674.6h0M399.8,674h0M396.3,673.3h0M395.2,672.4h0M401.5,673.2h0M375.8,667.5h0M404.4,673.3h0M398.7,672h0M384.1,668.7h0M400.7,671.9h0M404.5,672.7h0M397.7,671.2h0M402.3,671.6h0M398.2,670.1h0M403.6,671.4h0M400.7,670.7h0M400.7,670.7h0M398.7,669.6h0M397.5,669.3h0M399.7,669.8h0M400.9,670.1h0M393.8,668.4h0M399.7,669.2h0M395.9,667.7h0M402.7,669.4h0M401.2,669h0M401.7,669.1h0M397.1,668h0M392.8,666.9h0M399.5,668h0M398.4,667.7h0M401.8,668h0M396.4,666.6h0M401.6,667.9h0M383.1,663.2h0M402.5,667.6h0M399.3,666.7h0M401.2,666.6h0M398.2,665.8h0M401.4,666.1h0M388,662.5h0M397.5,664.4h0M399.1,664.2h0M400.5,664.6h0M399.3,664.3h0M400.9,664.7h0M399.6,664.4h0M404.7,665.2h0M407,665.8h0M401.9,664.4h0M406,664.9h0M399.1,663h0M403.1,664.1h0M402.2,663.9h0M403.7,663.7h0M403,663.5h0M402,663.2h0M407.8,664.8h0M382,657.5h0M403.3,663h0M391.4,659.5h0M392.3,659.8h0M386.4,657.4h0M405.2,662.3h0M403.8,661.9h0M392.2,658.5h0M404.9,661.6h0M399.5,660h0M368.2,650.7h0M403,660.5h0M404.9,661h0M404.5,660.9h0M404.1,660.8h0M402.6,660.3h0M404.3,660.3h0M401.5,659.4h0M403.4,659.4h0M405.2,659.9h0M405.4,660h0M372.5,649.8h0M389.5,655h0M403.3,658.7h0M378.1,650.8h0M404.1,658.4h0M386.6,652.1h0M407.6,658.3h0M405.4,657.6h0M375.3,647.7h0M404.8,656.7h0M405.4,656.9h0M403.5,656.3h0M401.4,655h0M379.6,647.7h0M379.1,647.6h0M405.7,655.8h0M407.8,656.5h0M405.8,655.8h0M404.5,655.4h0M405.8,655.8h0M400.8,654.2h0M375,644h0M402,652.7h0M403.9,653.3h0M403.6,653.2h0M368.5,641h0M404.5,652.9h0M407.5,654h0M407.7,654h0M372.3,640.8h0M408.4,653.1h0M407.4,652.7h0M407.7,652.8h0M403.9,651.5h0M381.4,643.3h0M404.1,651.5h0M408.5,652.5h0M410.1,653.1h0M405.7,650.9h0M406.5,651.2h0M406.2,651h0M404.5,649.8h0M390,644.4h0M385.9,642.1h0M406.6,649.3h0M408.9,650.2h0M405.3,648.8h0M402.8,647.9h0M406,649.1h0M403.1,647.3h0M405.5,648.2h0M406.3,647.9h0M408.8,648.9h0M409.3,649.1h0M406,647.2h0M410,648.7h0M407.3,647.7h0M405.6,647h0M389.1,640.5h0M408,647.3h0M409.2,647.8h0M408.9,647.1h0M406.9,646.2h0M409.8,646.8h0M407.9,646h0M411.7,647.6h0M409.9,646.8h0M407.9,646h0M407.6,645.9h0M407,645.6h0M409.2,646.6h0M410.5,646.5h0M410.8,646.6h0M389.8,637.9h0M411.3,646.2h0M410.7,645.9h0M407.9,644.7h0M407.3,643.8h0M405.4,643h0M410.8,645.3h0M396.1,639.2h0M407.2,643.2h0M408.1,643.6h0M414.1,645.5h0M410.7,644h0M403.7,641h0M412.2,644h0M409.6,642.3h0M406.9,641.1h0M411.5,643.1h0M396.1,636.3h0M414.4,643.7h0M410.6,642.1h0M411.4,642.4h0M411.3,642.4h0M410.7,641.5h0M410.3,641.3h0M409,640.7h0M405,638.9h0M403,638h0M412.5,641.6h0M409.8,640.4h0M411.5,641.2h0M412.8,641.8h0M413.7,642.2h0M393.1,632.9h0M411.3,640.4h0M410.8,640.2h0M412.7,641.1h0M410.3,640h0M400.3,635.4h0M397.4,634.1h0M411.1,639.7h0M411.4,639.8h0M407.9,638.2h0M408.8,638.6h0M414.7,641.3h0M416.1,642h0M413.5,640.8h0M411.6,639.9h0M411.7,639.3h0M413.5,640.1h0M413.5,640.2h0M411.1,639.1h0M410.2,638h0M414.4,639.9h0M411.4,638.5h0M413.3,639.4h0M408.8,637.3h0M411.1,637.7h0M411.1,637.7h0M413.6,638.9h0M413.3,638.8h0M397.6,631.3h0M409.1,636.1h0M414.7,638.8h0M406.5,634.9h0M413.7,637.7h0M412.1,636.9h0M412.6,636.5h0M412.4,636.4h0M412.2,635.6h0M413.7,636.4h0M412.5,635.8h0M413.8,636.4h0M394,626.6h0M401.6,630.4h0M410.6,634.2h0M412.2,635h0M415.6,636.7h0M413.9,635.2h0M414.1,635.3h0M414.6,635.5h0M388.9,622.6h0M386.7,621.5h0M411.6,633.3h0M412.6,633.9h0M414.4,634.8h0M418,636.6h0M413.1,634.1h0M415.6,634.7h0M414.1,633.9h0M413.4,633.6h0M417.3,634.9h0M414.3,633.4h0M413.8,633.1h0M414.2,633.3h0M386.3,618.9h0M415.6,633.4h0M414.5,632.8h0M411.1,631.1h0M416.5,633.2h0M413,631.4h0M414.6,632.2h0M413.4,630.9h0M417.6,633.1h0M416.8,632.7h0M409.2,628.7h0M415.5,631.3h0M414.3,630.7h0M388.6,616.9h0M370.5,607.2h0M416.9,631.4h0M417.7,631.8h0M414.8,630.3h0M414.1,629.9h0M385.2,614.3h0M416,630.3h0M417.5,631.1h0M418,631.4h0M418.4,631.6h0M395,618.8h0M417.9,630.6h0M416.8,630h0M366.9,602.5h0M417.7,629.9h0M417,629.4h0M418.4,630.2h0M411.6,626.5h0M380.9,609.4h0M398.8,619.3h0M417.6,629.1h0M416.5,628.5h0M418.1,629.4h0M417.3,629h0M418.6,629.7h0M413.5,626.8h0M416.9,628.7h0M414.1,627.2h0M418.3,628.8h0M419.7,629.6h0M420.6,630.2h0M416.9,628h0M417.2,628.2h0M417.1,628.1h0M396.4,616.5h0M417.1,627.5h0M419.7,628.9h0M417.9,627.3h0M417,626.7h0M414.1,625.1h0M415.5,625.9h0M417.6,627.1h0M409.9,621.9h0M418.8,626.4h0M402.9,617h0M419.1,625.9h0M418.4,625.5h0M404.9,617.5h0M419.2,625.3h0M418.5,624.8h0M419.6,624.8h0M417.6,623.6h0M418.5,623.5h0M419.4,624h0M421.6,625.3h0M420.1,624.4h0M419.4,622.6h0M417,621.1h0M417.8,621.6h0M418.6,621.4h0M421.6,623.3h0M419.3,621.8h0M381.8,598.4h0M421.8,622h0M422.1,622.2h0M407.9,613.2h0M426.8,624.5h0M424.1,622.8h0M411,614.4h0M381,595.1h0M419.8,619.3h0M422.9,621.3h0M422,620h0M421.7,619.8h0M424.3,620.8h0M420.9,618.6h0M420.2,618.1h0M425.2,621.4h0M422.7,619.8h0M426.6,621.6h0M423.7,619.7h0M422,618.6h0M424.8,619.8h0M421.3,617.4h0M423.5,618.9h0M423,617.8h0M422.1,617.2h0M425.6,619.5h0M421.3,615.9h0M422.2,616.5h0M421.4,616h0M424.8,617.6h0M425.4,618h0M426.2,618.5h0M416.4,611.9h0M424.1,616.4h0M423.2,615.8h0M427.4,617.2h0M428.5,618h0M399.5,597.6h0M424.6,614.5h0M428,617h0M425,614.1h0M411.7,604.6h0M423.9,612.6h0M425.9,614h0M425.9,613.3h0M425.9,613.3h0M426.6,613.8h0M407.5,599.9h0M418.1,607.6h0M421.3,609.9h0M427.7,613.9h0M430.6,616h0M426.7,613.1h0M429.8,614.7h0M425,611.1h0M403.9,595.5h0M428.2,612.8h0M429.7,613.9h0M425.8,610.9h0M430.7,614.6h0M430.8,614h0M425,609.6h0M428.2,612h0M427.3,611.3h0M416.7,603.3h0M424.7,609.3h0M428,611.1h0M425.8,609.5h0M429.4,612.2h0M424.4,608.4h0M425.7,608.6h0M408.9,595.7h0M429.2,610.5h0M427.5,609.2h0M431.5,612.3h0M428.9,609.5h0M429.2,609.7h0M427.6,608.5h0M390.4,578.5h0M405.1,590.1h0M432.9,611.2h0M430.6,609.4h0M433.7,611.8h0M419.4,600.5h0M429.5,607.7h0M433.4,610.8h0M431.2,609h0M429.3,607.5h0M431.9,608.9h0M430.8,608h0M431.3,607.6h0M432.6,607.9h0M433,608.3h0M432.5,607.8h0M432.2,607.6h0M431,606.6h0M433.2,607.7h0M430.9,605.8h0M413.2,591.1h0M429.5,603.8h0M426.7,601.4h0M415.5,592.1h0M434.6,607.2h0M432.3,604.6h0M434.5,606.4h0M430.3,602.8h0M433.3,604.6h0M432.6,604h0M431.8,603.4h0M432.8,604.2h0M422.6,595.5h0M418.3,590.9h0M432.6,602.4h0M434.8,604.4h0M433.7,602.6h0M433.6,602.5h0M435.7,603.6h0M434.7,602.7h0M418.4,588.3h0M435.3,602.4h0M434.5,601.7h0M435.1,602.2h0M435.5,602.6h0M434.8,601.9h0M436.9,603h0M414.4,582.8h0M434.9,600.4h0M439.1,604.2h0M436.1,601.5h0M437.7,602.2h0M437.9,602.4h0M416.9,583.1h0M423.2,588.9h0M435,599.7h0M430.6,594.9h0M435.7,598.7h0M439.3,602h0M433.2,596.4h0M437.2,600.1h0M437.2,599.3h0M438.4,600.4h0M442.5,603.5h0M437.3,598.5h0M441.7,602.7h0M436.2,597.5h0M438.1,599.3h0M438.4,598.7h0M439.7,600h0M438.5,598.9h0M441.8,601.9h0M437.5,597.8h0M428.2,589h0M440.4,599.9h0M438.6,598.2h0M440.3,599h0M439.6,598.2h0M440.4,599h0M438.6,596.4h0M441.7,599.5h0M438.7,596.5h0M440.6,598.4h0M422,580.2h0M441.7,598.6h0M438.8,594.9h0M443.9,600h0M442.3,597.5h0M442.9,598.2h0M439.2,594.4h0M442.4,597.6h0M439.6,594.8h0M418.9,574.2h0M430.2,585.5h0M443.1,597.5h0M441.3,595.7h0M443.5,598h0M443.3,597.7h0M440.1,593.6h0M443.3,596.8h0M445.8,599.4h0M421.7,575h0M435.2,588.6h0M443.7,596.4h0M439.9,592.5h0M441.7,594.4h0M440.8,593.4h0M443,594.8h0M441.8,593.6h0M442.6,594.4h0M446,598h0M443.3,595.1h0M444.8,595.9h0M445.5,596.6h0M428.3,578.8h0M442.3,592.4h0M443.2,593.3h0M447.4,597.8h0M444.2,594.4h0M445,594.4h0M444.7,594.1h0M444.7,594.1h0M445.8,594.4h0M445.3,593.8h0M445.4,593.9h0M445.7,593.4h0M445.5,593.2h0M444.2,590.9h0M443.9,590.6h0M445.3,592.1h0M444.5,591.2h0M449.2,596.3h0M448.4,594.6h0M446.5,592.6h0M445.2,591.1h0M447.1,592.3h0M447.2,592.4h0M447.8,593h0M447.3,592.5h0M445.7,590.8h0M446.8,590.2h0M448.8,592.4h0M448.9,590.8h0M452.4,594.7h0M448.8,590.7h0M447.7,588.5h0M448.3,589.2h0M450.6,591.8h0M452.9,594.5h0M448.3,588.3h0M450.7,591h0M437.5,575.8h0M449.5,588.7h0M452.3,592h0M454.1,593.2h0M451.9,590.6h0M448.4,585.5h0M453,591h0M451.7,589.5h0M450.3,587.8h0M448.5,585.7h0M449.5,586h0M450.4,587h0M449.9,586.4h0M449.6,585.1h0M450.1,585.7h0M454.3,589.9h0M450.7,585.5h0M451.7,586.7h0M436,566.6h0M452.7,586.1h0M453.5,587h0M452.9,586.3h0M452.9,585.3h0M455,587.9h0M455.7,587.9h0M456.2,587.6h0M453.5,584.2h0M451.8,582h0M438.2,564.8h0M442.4,569.1h0M438.8,563.3h0M457.7,586.7h0M454.9,583h0M457.1,586h0M455.9,584.3h0M457.2,586.1h0M456.6,585.2h0M455.2,582.5h0M456.7,584.5h0M448.3,573.5h0M457.7,584.8h0M456.5,583.2h0M456.3,581.9h0M456.8,582.5h0M456.1,581.7h0M458.3,584.6h0M457.2,583.1h0M459,584.5h0M455.2,579.4h0M458.6,583h0M458.5,581.9h0M458.9,582.5h0M458.3,581.6h0M462.1,585.8h0M458.8,580.3h0M455,575h0M459.9,580.8h0M460.7,581.9h0M458.9,579.4h0M460,579.9h0M463.5,584.8h0M461.8,582.5h0M453.2,570.4h0M459.3,578.7h0M460.3,579h0M459.5,578h0M463.4,580.7h0M462.4,579.2h0M450.6,560.8h0M463.6,578.7h0M463.2,578.2h0M451.8,561.2h0M463.8,578.2h0M464.8,578.7h0M464.5,578.4h0M465.5,579.8h0M459.2,570.4h0M462.8,587.5h0M496.1,583.7h0M465.4,579.2h0M490,581.3h0M464.4,585.5h0M471.2,581.2h0M468.6,584.2h0M482.7,578.7h0M486.6,582.4h0M480.9,577h0M480.1,580.1h0M466,583.8h0M474.6,576.2h0M469.7,582.1h0M462.8,581h0M457.7,592.5h0M463.3,589.6h0M477.7,579.9h0M487.8,578.4h0M486.8,581.2h0M461.3,584.9h0M478.5,575.7h0M491.6,586.1h0M468.5,578.4h0M472.4,578.6h0M466.3,581.2h0M471.2,580.4h0M460.6,589.2h0M470,579.5h0M477.2,580.8h0M490.4,582h0M491.2,585.6h0M477.7,579.2h0M478.9,581.1h0M489.1,583h0M465.1,584.1h0M482.4,578h0M487.9,583.6h0M485.9,578.5h0M457,590h0M488.4,582.8h0M464.1,578.8h0M492.2,582.4h0M494.1,583.4h0M479.3,581.8h0M466,581.7h0M468.7,577.3h0M492.4,583.6h0M461.6,591.9h0M478.1,579.1h0M481.2,580.1h0M477.5,579.1h0M466.3,586.4h0M475.5,577.1h0M481.5,581.6h0M490.5,584.5h0M470.7,581.5h0M486.3,580.1h0M486.8,583.5h0M475.5,577.5h0M477.1,579.7h0M485.2,577.9h0M483.4,575.7h0M456.8,594.4h0M458.7,591.6h0M481.2,576.1h0M461.2,591.3h0M489.6,587.7h0M459.6,587.4h0M453.5,594.3h0M490,587.8h0M459.4,594.7h0M460.4,585.8h0M461.3,582.8h0M470.4,584.1h0M461.8,584.4h0M486.9,581.8h0M455.1,586.4h0M457.1,588h0M475.3,579.5h0M458,589.7h0M465.5,581.7h0M475.2,574.3h0M464.4,582h0M489.6,578.4h0M464.7,581h0M471,579.6h0M490.2,584.7h0M469.1,582.5h0M457.2,592.4h0M457.4,593.4h0M458,590.6h0M481,577.3h0M479.8,575.8h0M474.1,575.2h0M490.2,583.7h0M487,582.4h0M466,581.2h0M468,582.1h0M490.8,587.9h0M484.1,581.4h0M456.2,595.2h0M460.6,587.9h0M467,582h0M473.2,580.4h0M470.8,584.5h0M462.1,593h0M465.8,584h0M469.4,581.6h0M455.6,593.5h0M463.6,582.4h0M463.4,588.2h0M485.2,577.6h0M470,576.9h0M483.9,576.2h0M472.9,574.8h0M479.4,575.4h0M492.2,586.6h0M491.8,586.9h0M464.4,585.4h0M466.5,585.4h0M486,579.9h0M489.4,584.2h0M464.2,586h0M488.9,589.1h0" stroke="#e82424" stroke-width="1.75" stroke-linecap="round" fill="none"/><g transform="translate(360,-3)" fill="none" stroke-linecap="round">
<path d="M194.8,705.8 194.7,707.3 194.7,708.8 194.7,710.3 194.6,711.9 194.5,713.4 194.4,714.9 194.4,716.6 194.2,718.2 194.1,719.8 193.9,721.4 193.7,723.1 193.5,724.7 193.2,726.6 192.8,728.4 192.3,730.3 191.7,732.1 191,733.8 190.2,735.7 189.2,737.6 188.1,739.4 186.8,741.2 185.3,742.8 183.8,744.3 182.1,745.7 180.2,747 178.2,748.1 176.1,749 174.1,749.7 171.8,750.2 169.4,750.6 167,750.6 164.6,750.4 161.9,749.7 159.7,748.9 157.6,747.9 155.6,746.6 153.3,744.7 151.7,742.8 150.3,740.9 149.2,738.9 148.3,736.8 147.7,734.9 147.1,733.2 146.7,731.4 146.3,729.6 146,727.8 145.7,726.3 145.5,724.8 145.3,723.2 145.1,721.7 144.9,720.1 144.7,718.6 144.5,717.1 144.4,715.5 144.2,713.9 144.1,712.2 144,710.4 143.9,708.6 144,706.8 144.1,705 144.2,703.2 144.5,701.4 144.8,699.6 145.1,697.8 145.5,696.1 146,694.3 146.6,692.6 147.2,690.8 147.9,689.1 148.7,687.5 149.5,685.8 150.5,684.2 151.4,682.6 152.5,681.1 153.6,679.6 154.8,678.1 156,676.7 157.3,675.4 158.7,674.1 160.1,672.9 161.5,671.7 163,670.6 164.5,669.6 166.1,668.6 167.7,667.7 169.3,666.9 170.9,666.1 172.6,665.4 174.3,664.8 176,664.2 177.8,663.6 179.5,663.2 181.3,662.8 183.1,662.5 184.9,662.2 186.7,662 188.5,661.9 190.3,661.8 192.1,661.8 193.9,661.9 195.8,662 197.6,662.2 199.4,662.5 201.2,662.9 203,663.3 204.8,663.8 206.5,664.4 208.3,665 210,665.8 211.6,666.5 213.3,667.4 214.9,668.3 216.4,669.2 217.9,670.3 219.4,671.3 220.8,672.5 222.2,673.7 223.5,674.9 224.8,676.2 226.1,677.5 227.2,678.8 228.4,680.2 229.5,681.6 230.5,683.1 231.5,684.5 232.4,686 233.3,687.6 234.1,689.1 234.9,690.7 235.6,692.2 236.3,693.8 237,695.4 237.6,697 238.2,698.6 238.7,700.3 239.2,701.9 239.6,703.5 240,705.2 240.4,706.8 240.7,708.5 241,710.2 241.2,711.8 241.5,713.5 241.6,715.2 241.8,716.8 241.9,718.5 242,720.2 242,721.8 242,723.5 242,725.2 242,726.9 241.9,728.5 241.7,730.2 241.6,731.9 241.4,733.5 241.2,735.2 240.9,736.9 240.6,738.5 240.3,740.2 239.9,741.8 239.5,743.5 239.1,745.1 238.6,746.7 238.1,748.4 237.5,750 236.9,751.6 236.3,753.1 235.6,754.7 234.9,756.3 234.1,757.8 233.3,759.3 232.5,760.8 231.6,762.3 230.7,763.8 229.7,765.2 228.8,766.6 227.7,768 226.7,769.4 225.6,770.7 224.4,772 223.3,773.3 222.1,774.5 220.8,775.7 219.6,776.9 218.3,778 217,779.1 215.6,780.2 214.2,781.3 212.9,782.3 211.4,783.2 210,784.1 208.5,785 207.1,785.9 205.6,786.7 204,787.5 202.5,788.2 201,788.9 199.4,789.6 197.8,790.2 196.2,790.8 194.7,791.4 193,791.9 191.4,792.4 189.8,792.8 188.2,793.3 186.5,793.6 184.9,794 183.2,794.3 181.6,794.6 179.9,794.8 178.2,795 176.5,795.2 174.8,795.3 173.2,795.4 171.5,795.4 169.8,795.4 168.1,795.4 166.4,795.4 164.7,795.3 163,795.1 161.3,794.9 159.6,794.7 157.9,794.4 156.2,794.1 154.5,793.8 152.9,793.4 151.2,793 149.6,792.5 147.9,792 146.3,791.4 144.7,790.8 143.1,790.2 141.5,789.5 140,788.8 138.4,788 136.9,787.2 135.4,786.4 133.9,785.5 132.5,784.6 131,783.6 129.6,782.6 128.2,781.6 126.9,780.5 125.6,779.4 124.3,778.3 123,777.1 121.8,776 120.6,774.7 119.4,773.5 118.3,772.2 117.1,770.9 116.1,769.6 115,768.3 114,766.9 113,765.5 112.1,764.1 111.2,762.7 110.3,761.3 109.4,759.8 108.6,758.3 107.9,756.9 107.1,755.4 106.4,753.8 105.7,752.3 105,750.8 104.4,749.2 103.8,747.7 103.3,746.1 102.7,744.6 102.2,743 101.7,741.4 101.3,739.8 100.9,738.2 100.5,736.6 100.1,735 99.8,733.4 99.5,731.8 99.2,730.2 98.9,728.6 98.7,727 98.5,725.3 98.3,723.7 98.1,722.1 98,720.5 97.9,718.8 97.8,717.2 97.8,715.6 97.7,714 97.7,712.3 97.7,710.7 97.8,709.1 97.8,707.5 97.9,705.8 98,704.2 98.1,702.6 98.3,701 98.5,699.4 98.7,697.7 98.9,696.1 99.2,694.5 99.4,692.9 99.7,691.3 100.1,689.7 100.4,688.1 100.8,686.5 101.2,684.9 101.6,683.3 102.1,681.8 102.5,680.2 103,678.6 103.6,677.1 104.1,675.5 104.7,674 105.3,672.5 106,670.9 106.6,669.4 107.3,667.9 108,666.4 108.8,665 109.6,663.5 110.4,662.1 111.2,660.6 112,659.2 112.9,657.8 113.8,656.4 114.8,655 115.7,653.7 116.7,652.3 117.7,651 118.7,649.7 119.8,648.4 120.9,647.2 122,645.9 123.1,644.7 124.3,643.5 125.5,642.3 126.7,641.2 127.9,640 129.1,638.9 130.4,637.9 131.7,636.8 133,635.8 134.3,634.8 135.6,633.8 137,632.8 138.3,631.9 139.7,631 141.1,630.1 142.5,629.2 144,628.4 145.4,627.6 146.9,626.8 148.3,626.1 149.8,625.4 151.3,624.7 152.8,624 154.3,623.3 155.8,622.7 157.3,622.1 158.9,621.5 160.4,621 162,620.5 163.5,620 165.1,619.5 166.7,619 168.3,618.6 169.8,618.2 171.4,617.8 173,617.5 174.6,617.2 176.2,616.9 177.8,616.6 179.5,616.3 181.1,616.1 182.7,615.9 184.3,615.7 185.9,615.6 187.6,615.5 189.2,615.4 190.8,615.3 192.5,615.2 194.1,615.2 195.8,615.2 197.4,615.3 199,615.3 200.7,615.4 202.3,615.5 204,615.7 205.6,615.8 207.2,616 208.9,616.2 210.5,616.5 212.1,616.8 213.7,617.1 215.4,617.4 217,617.8 218.6,618.2 220.2,618.6 221.8,619.1 223.4,619.6 224.9,620.1 226.5,620.6 228.1,621.2 229.6,621.8 231.1,622.4 232.7,623.1 234.2,623.8 235.7,624.5 237.2,625.3 238.6,626 240.1,626.8 241.5,627.7 243,628.5 244.4,629.4 245.8,630.3 247.1,631.3 248.5,632.2 249.8,633.2 251.1,634.3 252.4,635.3 253.7,636.4 255,637.5 256.2,638.6 257.4,639.7 258.6,640.9 259.8,642 260.9,643.2 262,644.5 263.1,645.7 264.2,647 265.3,648.2 266.3,649.5 267.3,650.9 268.3,652.2 269.2,653.5 270.2,654.9 271.1,656.3 272,657.7 272.8,659.1 273.7,660.5 274.5,661.9 275.2,663.3 276,664.8 276.7,666.3 277.5,667.7 278.1,669.2 278.8,670.7 279.5,672.2 280.1,673.7 280.7,675.2 281.2,676.8 281.8,678.3 282.3,679.8 282.8,681.4 283.3,682.9 283.7,684.5 284.2,686 284.6,687.6 285,689.2 285.4,690.7 285.7,692.3 286,693.9 286.4,695.5 286.6,697.1 286.9,698.6 287.2,700.2 287.4,701.8 287.6,703.4 287.8,705 287.9,706.6 288.1,708.2 288.2,709.8 288.3,711.4 288.4,713 288.5,714.6 288.6,716.2 288.6,717.8 288.6,719.4 288.6,721 288.6,722.6 288.6,724.2 288.5,725.8 288.4,727.4 288.3,729 288.2,730.6 288.1,732.2 288,733.8 287.8,735.4 287.6,736.9 287.4,738.5 287.2,740.1 286.9,741.7 286.7,743.3 286.4,744.9 286.1,746.4 285.8,748 285.5,749.6 285.1,751.1 284.7,752.7 284.3,754.3 283.9,755.8 283.5,757.4 283.1,758.9 282.6,760.4 282.1,762 281.6,763.5 281.1,765 280.5,766.5 279.9,768.1 279.3,769.6 278.7,771.1 278.1,772.5 277.5,774 276.8,775.5 276.1,777 275.4,778.4 274.6,779.9 273.9,781.3 273.1,782.7 272.3,784.1 271.5,785.5 270.7,786.9 269.8,788.3 268.9,789.7 268,791 267.1,792.4 266.2,793.7 265.2,795 264.2,796.3 263.2,797.6 262.2,798.9 261.2,800.1 260.1,801.4 259.1,802.6 258,803.8 256.9,805 255.8,806.2 254.6,807.4 253.5,808.5 252.3,809.6 251.1,810.7 249.9,811.8 248.7,812.9 247.4,814 246.2,815 244.9,816 243.6,817 242.3,818 241,818.9 239.7,819.9 238.3,820.8 237,821.7 235.6,822.6 234.3,823.4 232.9,824.3 231.5,825.1 230.1,825.9 228.7,826.7 227.2,827.5 225.8,828.2 224.4,828.9 222.9,829.6 221.4,830.3 220,831 218.5,831.6 217,832.3 215.5,832.9 214,833.4 212.5,834 211,834.6 209.5,835.1 208,835.6 206.4,836.1 204.9,836.6 203.3,837 201.8,837.4 200.3,837.9 198.7,838.3 197.1,838.6 195.6,839 194,839.3 192.4,839.6 190.9,839.9 189.3,840.2 187.7,840.5 186.1,840.7 184.5,841 182.9,841.2 181.3,841.4 179.7,841.5 178.2,841.7 176.6,841.8 174.9,841.9 173.3,842 171.7,842.1 170.1,842.1 168.5,842.1 166.9,842.2 165.3,842.2 163.7,842.1 162.1,842.1 160.5,842 158.9,841.9 157.3,841.8 155.7,841.7 154.1,841.5 152.5,841.3 150.9,841.1 149.3,840.9 147.7,840.7 146.1,840.4 144.5,840.1 142.9,839.8 141.3,839.5 139.7,839.1 138.1,838.8 136.6,838.4 135,838 133.4,837.5 131.9,837.1 130.3,836.6 128.8,836.1 127.2,835.5 125.7,835 124.2,834.4 122.7,833.8 121.2,833.2 119.7,832.6 118.2,831.9 116.7,831.2 115.2,830.5 113.8,829.8 112.3,829 110.9,828.2 109.5,827.4 108.1,826.6 106.7,825.8 105.3,824.9 103.9,824 102.6,823.1 101.2,822.2 99.9,821.3 98.6,820.3 97.3,819.3 96,818.3 94.7,817.3 93.5,816.2 92.2,815.2 91,814.1 89.8,813 88.6,811.9 87.4,810.7 86.3,809.6 85.2,808.4 84,807.2 82.9,806 81.9,804.8 80.8,803.6 79.8,802.3 78.7,801.1 77.7,799.8 76.7,798.5 75.8,797.2 74.8,795.9 73.9,794.6 73,793.2 72.1,791.9 71.2,790.5 70.4,789.1 69.5,787.7 68.7,786.3 67.9,784.9 67.2,783.5 66.4,782.1 65.7,780.6 64.9,779.2 64.2,777.7 63.6,776.3 62.9,774.8 62.3,773.3 61.7,771.9 61.1,770.4 60.5,768.9 59.9,767.4 59.4,765.9 58.8,764.3 58.3,762.8 57.8,761.3 57.4,759.8 56.9,758.2 56.5,756.7 56.1,755.2 55.7,753.6 55.3,752.1 54.9,750.5 54.6,749 54.2,747.4 53.9,745.8 53.6,744.3 53.3,742.7 53.1,741.1 52.8,739.6 52.6,738 52.4,736.4 52.2,734.8 52,733.3 51.8,731.7 51.7,730.1 51.5,728.5 51.4,726.9 51.3,725.4 51.2,723.8 51.2,722.2 51.1,720.6 51,719 51,717.5 51,715.9 51,714.3 51,712.7 51.1,711.1 51.1,709.5 51.2,708 51.2,706.4 51.3,704.8 51.4,703.2 51.6,701.7 51.7,700.1 51.9,698.5 52,696.9 52.2,695.4 52.4,693.8 52.6,692.2 52.8,690.7 53.1,689.1 53.3,687.5 53.6,686 53.9,684.4 54.2,682.9 54.5,681.3 54.8,679.8 55.2,678.2 55.6,676.7 55.9,675.1 56.3,673.6 56.7,672 57.2,670.5 57.6,669 58.1,667.5 58.5,666 59,664.4 59.5,662.9 60.1,661.4 60.6,659.9 61.2,658.4 61.7,656.9 62.3,655.5 62.9,654 63.5,652.5 64.2,651.1 64.8,649.6 65.5,648.2 66.2,646.7 66.9,645.3 67.6,643.8 68.4,642.4 69.1,641 69.9,639.6 70.7,638.2 71.5,636.8 72.3,635.5 73.1,634.1 74,632.7 74.8,631.4 75.7,630 76.6,628.7 77.5,627.4 78.5,626.1 79.4,624.8 80.4,623.5 81.4,622.2 82.4,621 83.4,619.7 84.4,618.5 85.4,617.3 86.5,616.1 87.6,614.9 88.6,613.7 89.7,612.5 90.9,611.4 92,610.2 93.1,609.1 94.3,608 95.4,606.9 96.6,605.8 97.8,604.7 99,603.7 100.2,602.6 101.5,601.6 102.7,600.6 104,599.6 105.3,598.6 106.5,597.6 107.8,596.7 109.1,595.8 110.4,594.8 111.8,593.9 112.6,593.4" stroke="#6fc2c4" stroke-width="6.5"/>
<path d="M177.8,705.2 177.8,706.7 177.7,708.2 177.7,709.7 177.6,711.1 177.5,712.6 177.5,714.1 177.4,715.4 177.3,716.8 177.2,718.2 177,719.5 176.9,720.9 176.7,722.3 176.5,723.3 176.3,724.4 176,725.4 175.6,726.5 175.2,727.5 174.9,728.4 174.5,729.2 174.1,729.8 173.6,730.4 173.1,731.1 172.4,731.7 171.9,732.1 171.3,732.5 170.7,732.8 170.1,733.1 169.2,733.4 168.7,733.5 168.2,733.6 167.7,733.6 167.2,733.6 167,733.5 166.4,733.3 165.9,733 165.4,732.7 165.4,732.7 165.1,732.4 164.7,731.9 164.4,731.4 164.2,730.8 163.8,729.7 163.5,728.6 163.2,727.5 163,726.3 162.8,725.2 162.5,723.7 162.3,722.3 162.1,720.9 161.9,719.5 161.8,718 161.6,716.6 161.4,715.1 161.3,713.7 161.1,712.3 161,711.1 161,709.8 160.9,708.6 161,707.5 161,706.2 161.1,705 161.3,703.8 161.5,702.7 161.7,701.5 162,700.3 162.3,699.2 162.7,698.1 163.1,697 163.5,695.9 164,694.9 164.5,693.8 165.1,692.8 165.7,691.9 166.3,690.9 167,690 167.7,689.1 168.5,688.3 169.3,687.5 170.1,686.7 171,685.9 171.9,685.2 172.8,684.5 173.8,683.9 174.8,683.3 175.8,682.7 176.8,682.1 177.9,681.6 179,681.2 180.1,680.7 181.2,680.4 182.4,680 183.5,679.7 184.7,679.5 185.9,679.2 187,679.1 188.2,678.9 189.4,678.8 190.6,678.8 191.8,678.8 192.9,678.9 194.1,678.9 195.3,679.1 196.4,679.3 197.6,679.5 198.7,679.8 199.8,680.1 200.9,680.4 202,680.8 203.1,681.3 204.1,681.8 205.2,682.3 206.2,682.9 207.2,683.5 208.1,684.2 209.1,684.9 210,685.6 210.9,686.4 211.8,687.2 212.7,688 213.5,688.9 214.3,689.8 215,690.7 215.8,691.7 216.5,692.7 217.2,693.7 217.8,694.8 218.5,695.9 219.1,697 219.6,698.1 220.2,699.3 220.7,700.4 221.2,701.6 221.6,702.8 222,704 222.4,705.3 222.8,706.5 223.1,707.8 223.4,709 223.7,710.3 224,711.6 224.2,712.9 224.4,714.2 224.6,715.5 224.7,716.8 224.8,718.2 224.9,719.5 225,720.8 225,722.1 225,723.5 225,724.8 225,726.1 224.9,727.5 224.8,728.8 224.7,730.1 224.5,731.4 224.4,732.7 224.1,734 223.9,735.3 223.7,736.6 223.4,737.9 223,739.2 222.7,740.5 222.3,741.7 221.9,743 221.5,744.2 221,745.4 220.6,746.6 220.1,747.8 219.5,749 218.9,750.1 218.3,751.3 217.7,752.4 217.1,753.5 216.4,754.6 215.7,755.6 215,756.7 214.2,757.7 213.4,758.7 212.6,759.7 211.8,760.7 210.9,761.6 210,762.5 209.1,763.4 208.2,764.3 207.2,765.2 206.2,766 205.2,766.8 204.2,767.6 203.1,768.3 202.1,769 201,769.7 199.9,770.4 198.7,771 197.6,771.7 196.4,772.3 195.3,772.8 194.1,773.4 192.9,773.9 191.7,774.4 190.4,774.8 189.2,775.3 188,775.7 186.7,776.1 185.4,776.4 184.2,776.7 182.9,777 181.6,777.3 180.3,777.6 179,777.8 177.7,777.9 176.4,778.1 175.1,778.2 173.8,778.3 172.4,778.4 171.1,778.4 169.8,778.4 168.5,778.4 167.2,778.4 165.9,778.3 164.6,778.2 163.3,778 162,777.9 160.8,777.7 159.5,777.4 158.2,777.2 157,776.9 155.7,776.6 154.5,776.2 153.2,775.8 152,775.4 150.8,775 149.6,774.5 148.5,774 147.3,773.4 146.1,772.9 145,772.3 143.9,771.6 142.8,771 141.7,770.3 140.6,769.6 139.6,768.8 138.6,768.1 137.5,767.3 136.6,766.5 135.6,765.6 134.6,764.7 133.7,763.8 132.8,762.9 131.9,762 131,761 130.2,760 129.4,759 128.6,758 127.8,756.9 127,755.9 126.3,754.8 125.6,753.7 124.9,752.6 124.2,751.4 123.6,750.3 123,749.1 122.4,747.9 121.8,746.7 121.3,745.5 120.7,744.3 120.2,743 119.8,741.8 119.3,740.5 118.9,739.2 118.5,737.9 118.1,736.6 117.7,735.3 117.4,734 117,732.7 116.7,731.4 116.4,730.1 116.2,728.7 116,727.4 115.7,726 115.5,724.7 115.4,723.3 115.2,721.9 115.1,720.6 115,719.2 114.9,717.8 114.8,716.5 114.8,715.1 114.7,713.7 114.7,712.3 114.7,711 114.8,709.6 114.8,708.2 114.9,706.8 115,705.5 115.1,704.1 115.2,702.7 115.4,701.3 115.5,700 115.7,698.6 115.9,697.3 116.2,695.9 116.4,694.6 116.7,693.2 117,691.9 117.3,690.5 117.6,689.2 118,687.9 118.4,686.6 118.8,685.3 119.2,684 119.6,682.7 120.1,681.4 120.6,680.2 121.1,678.9 121.6,677.7 122.1,676.4 122.7,675.2 123.3,674 123.9,672.8 124.5,671.6 125.2,670.4 125.8,669.2 126.5,668.1 127.2,666.9 128,665.8 128.7,664.7 129.5,663.6 130.3,662.5 131.1,661.5 132,660.4 132.8,659.4 133.7,658.4 134.6,657.4 135.5,656.4 136.4,655.4 137.4,654.5 138.3,653.5 139.3,652.6 140.3,651.7 141.3,650.9 142.4,650 143.4,649.2 144.5,648.4 145.6,647.6 146.7,646.8 147.8,646 148.9,645.3 150.1,644.6 151.2,643.9 152.4,643.2 153.6,642.5 154.8,641.9 156,641.3 157.2,640.7 158.4,640.1 159.7,639.5 160.9,639 162.2,638.5 163.4,638 164.7,637.5 166,637 167.3,636.6 168.6,636.2 169.9,635.8 171.2,635.4 172.5,635.1 173.9,634.7 175.2,634.4 176.5,634.1 177.9,633.8 179.2,633.6 180.6,633.4 181.9,633.1 183.3,633 184.6,632.8 186,632.6 187.4,632.5 188.7,632.4 190.1,632.3 191.5,632.3 192.8,632.2 194.2,632.2 195.6,632.2 196.9,632.2 198.3,632.3 199.6,632.4 201,632.5 202.4,632.6 203.7,632.7 205.1,632.9 206.4,633.1 207.7,633.3 209.1,633.5 210.4,633.8 211.7,634 213,634.3 214.3,634.7 215.6,635 216.9,635.4 218.2,635.8 219.5,636.2 220.8,636.6 222,637.1 223.3,637.6 224.5,638.1 225.8,638.6 227,639.2 228.2,639.8 229.4,640.4 230.6,641 231.7,641.6 232.9,642.3 234,643 235.2,643.7 236.3,644.5 237.4,645.2 238.5,646 239.6,646.8 240.6,647.6 241.7,648.4 242.7,649.3 243.7,650.2 244.7,651.1 245.7,652 246.6,652.9 247.6,653.9 248.5,654.9 249.4,655.9 250.3,656.9 251.2,657.9 252,658.9 252.9,660 253.7,661.1 254.5,662.1 255.3,663.3 256.1,664.4 256.8,665.5 257.5,666.6 258.2,667.8 258.9,669 259.6,670.2 260.3,671.4 260.9,672.6 261.5,673.8 262.1,675 262.7,676.3 263.2,677.5 263.8,678.8 264.3,680 264.8,681.3 265.3,682.6 265.7,683.9 266.2,685.2 266.6,686.5 267,687.8 267.4,689.2 267.8,690.5 268.1,691.8 268.5,693.2 268.8,694.5 269.1,695.9 269.4,697.3 269.6,698.6 269.9,700 270.1,701.4 270.3,702.7 270.5,704.1 270.7,705.5 270.9,706.9 271,708.3 271.2,709.7 271.3,711.1 271.4,712.5 271.5,713.9 271.5,715.3 271.6,716.7 271.6,718.1 271.6,719.5 271.6,720.9 271.6,722.3 271.6,723.7 271.5,725.1 271.5,726.5 271.4,727.9 271.3,729.3 271.2,730.7 271,732.1 270.9,733.5 270.7,734.9 270.6,736.3 270.4,737.7 270.1,739.1 269.9,740.4 269.7,741.8 269.4,743.2 269.1,744.6 268.9,745.9 268.5,747.3 268.2,748.7 267.9,750 267.5,751.4 267.2,752.7 266.8,754 266.4,755.4 265.9,756.7 265.5,758 265,759.3 264.6,760.6 264.1,761.9 263.6,763.2 263,764.5 262.5,765.8 261.9,767.1 261.4,768.3 260.8,769.6 260.2,770.8 259.5,772.1 258.9,773.3 258.2,774.5 257.6,775.7 256.9,776.9 256.2,778.1 255.4,779.2 254.7,780.4 253.9,781.6 253.1,782.7 252.4,783.8 251.5,784.9 250.7,786 249.9,787.1 249,788.2 248.1,789.3 247.3,790.3 246.4,791.3 245.4,792.4 244.5,793.4 243.6,794.4 242.6,795.3 241.6,796.3 240.6,797.3 239.6,798.2 238.6,799.1 237.5,800 236.5,800.9 235.4,801.8 234.4,802.7 233.3,803.5 232.2,804.3 231.1,805.1 229.9,805.9 228.8,806.7 227.7,807.5 226.5,808.2 225.3,809 224.1,809.7 222.9,810.4 221.7,811.1 220.5,811.8 219.3,812.4 218.1,813.1 216.8,813.7 215.6,814.3 214.3,814.9 213.1,815.4 211.8,816 210.5,816.5 209.2,817.1 207.9,817.6 206.6,818.1 205.3,818.5 204,819 202.7,819.4 201.3,819.9 200,820.3 198.7,820.7 197.3,821.1 196,821.4 194.6,821.8 193.2,822.1 191.9,822.4 190.5,822.7 189.1,823 187.8,823.2 186.4,823.5 185,823.7 183.6,823.9 182.2,824.1 180.9,824.3 179.5,824.5 178.1,824.6 176.7,824.7 175.3,824.8 173.9,824.9 172.5,825 171.1,825.1 169.7,825.1 168.3,825.2 166.9,825.2 165.5,825.2 164.1,825.1 162.7,825.1 161.3,825 160,824.9 158.6,824.8 157.2,824.7 155.8,824.6 154.4,824.4 153,824.3 151.7,824.1 150.3,823.9 148.9,823.7 147.6,823.4 146.2,823.2 144.8,822.9 143.5,822.6 142.1,822.3 140.8,821.9 139.5,821.6 138.1,821.2 136.8,820.8 135.5,820.4 134.2,820 132.9,819.5 131.6,819 130.3,818.6 129,818.1 127.8,817.5 126.5,817 125.2,816.4 124,815.8 122.8,815.3 121.5,814.6 120.3,814 119.1,813.3 117.9,812.7 116.7,812 115.5,811.3 114.4,810.6 113.2,809.8 112.1,809.1 111,808.3 109.8,807.5 108.7,806.7 107.6,805.8 106.6,805 105.5,804.1 104.4,803.3 103.4,802.4 102.4,801.5 101.4,800.5 100.4,799.6 99.4,798.6 98.4,797.7 97.4,796.7 96.5,795.7 95.6,794.7 94.7,793.6 93.8,792.6 92.9,791.5 92,790.5 91.1,789.4 90.3,788.3 89.5,787.2 88.7,786 87.9,784.9 87.1,783.8 86.4,782.6 85.6,781.5 84.9,780.3 84.2,779.1 83.5,777.9 82.8,776.7 82.1,775.5 81.5,774.2 80.8,773 80.2,771.8 79.6,770.5 79,769.2 78.5,768 77.9,766.7 77.4,765.4 76.9,764.1 76.3,762.8 75.9,761.5 75.4,760.2 74.9,758.9 74.5,757.5 74,756.2 73.6,754.9 73.2,753.5 72.9,752.2 72.5,750.8 72.1,749.4 71.8,748.1 71.5,746.7 71.2,745.3 70.9,743.9 70.6,742.6 70.3,741.2 70.1,739.8 69.8,738.4 69.6,737 69.4,735.6 69.2,734.2 69.1,732.8 68.9,731.4 68.7,730 68.6,728.6 68.5,727.2 68.4,725.7 68.3,724.3 68.2,722.9 68.1,721.5 68.1,720.1 68,718.7 68,717.2 68,715.8 68,714.4 68,713 68.1,711.6 68.1,710.1 68.2,708.7 68.2,707.3 68.3,705.9 68.4,704.5 68.5,703 68.6,701.6 68.8,700.2 68.9,698.8 69.1,697.4 69.3,696 69.4,694.6 69.7,693.2 69.9,691.8 70.1,690.4 70.3,689 70.6,687.6 70.9,686.2 71.2,684.8 71.4,683.4 71.8,682 72.1,680.6 72.4,679.3 72.8,677.9 73.1,676.5 73.5,675.2 73.9,673.8 74.3,672.5 74.7,671.1 75.2,669.8 75.6,668.4 76.1,667.1 76.6,665.8 77.1,664.4 77.6,663.1 78.1,661.8 78.6,660.5 79.2,659.2 79.7,657.9 80.3,656.6 80.9,655.4 81.5,654.1 82.1,652.8 82.8,651.6 83.4,650.3 84.1,649.1 84.7,647.9 85.4,646.7 86.1,645.4 86.8,644.2 87.6,643 88.3,641.9 89.1,640.7 89.8,639.5 90.6,638.3 91.4,637.2 92.2,636.1 93.1,634.9 93.9,633.8 94.8,632.7 95.6,631.6 96.5,630.5 97.4,629.4 98.3,628.4 99.2,627.3 100.2,626.3 101.1,625.3 102.1,624.2 103,623.2 104,622.2 105,621.3 106,620.3 107,619.3 108.1,618.4 109.1,617.4 110.1,616.5 111.2,615.6 112.3,614.7 113.4,613.8 114.5,613 115.6,612.1 116.7,611.3 117.8,610.4 119,609.6 120.1,608.8 121.2,608 122.1,607.5" stroke="#c4c4c4" stroke-width="5.5"/>
<path d="M186.2,705.5 186.2,707 186.1,708.5 186.1,710 186,711.5 185.9,713 185.9,714.5 185.8,716 185.7,717.5 185.5,719 185.4,720.5 185.2,722 185,723.5 184.7,724.9 184.4,726.4 184,727.8 183.6,729.2 183,730.6 182.5,732 181.8,733.3 181,734.6 180.1,735.8 179.1,736.9 178.1,737.9 176.9,738.8 175.7,739.7 174.4,740.4 173.1,741 171.7,741.4 170.2,741.8 168.8,742 167.4,742 165.9,741.9 164.5,741.5 163.1,741 161.8,740.4 160.6,739.6 159.4,738.6 158.5,737.5 157.6,736.4 156.9,735.1 156.3,733.7 155.8,732.3 155.4,730.9 155,729.4 154.7,728 154.5,726.5 154.2,725 154,723.5 153.8,722 153.6,720.6 153.4,719.1 153.2,717.6 153.1,716.1 152.9,714.6 152.8,713.1 152.6,711.6 152.6,710.1 152.5,708.6 152.6,707.1 152.7,705.6 152.8,704.1 153,702.6 153.2,701.2 153.5,699.7 153.9,698.2 154.3,696.8 154.7,695.4 155.2,694 155.8,692.6 156.4,691.2 157.1,689.9 157.9,688.6 158.6,687.3 159.5,686.1 160.4,684.9 161.3,683.7 162.3,682.6 163.4,681.5 164.5,680.5 165.6,679.5 166.8,678.5 168,677.7 169.2,676.8 170.5,676 171.8,675.3 173.1,674.6 174.5,674 175.8,673.4 177.2,672.8 178.7,672.4 180.1,671.9 181.5,671.5 183,671.2 184.5,670.9 186,670.7 187.4,670.6 188.9,670.5 190.4,670.4 191.9,670.4 193.4,670.5 194.9,670.6 196.4,670.8 197.9,671 199.4,671.3 200.8,671.6 202.3,672 203.7,672.5 205.1,673 206.5,673.6 207.8,674.2 209.2,674.9 210.5,675.7 211.7,676.5 213,677.3 214.2,678.2 215.4,679.1 216.5,680.1 217.6,681.1 218.7,682.2 219.7,683.3 220.7,684.4 221.6,685.5 222.5,686.7 223.4,688 224.2,689.2 225,690.5 225.8,691.8 226.5,693.1 227.2,694.4 227.8,695.8 228.4,697.2 229,698.5 229.5,699.9 230,701.4 230.5,702.8 230.9,704.2 231.3,705.7 231.6,707.1 231.9,708.6 232.2,710.1 232.5,711.5 232.7,713 232.9,714.5 233.1,716 233.2,717.5 233.3,719 233.4,720.5 233.4,722 233.4,723.5 233.4,725 233.4,726.5 233.3,728 233.2,729.5 233,731 232.9,732.5 232.7,734 232.4,735.4 232.2,736.9 231.9,738.4 231.5,739.9 231.2,741.3 230.8,742.8 230.4,744.2 229.9,745.6 229.4,747 228.9,748.4 228.3,749.8 227.7,751.2 227.1,752.6 226.4,753.9 225.7,755.2 225,756.6 224.3,757.8 223.5,759.1 222.6,760.4 221.8,761.6 220.9,762.8 220,764 219,765.1 218,766.3 217,767.4 216,768.5 214.9,769.5 213.8,770.5 212.7,771.5 211.5,772.5 210.3,773.4 209.2,774.3 207.9,775.2 206.7,776 205.4,776.8 204.1,777.6 202.8,778.4 201.5,779.1 200.2,779.8 198.8,780.4 197.5,781.1 196.1,781.6 194.7,782.2 193.3,782.7 191.9,783.2 190.5,783.7 189,784.1 187.6,784.5 186.1,784.9 184.7,785.2 183.2,785.5 181.7,785.8 180.3,786.1 178.8,786.3 177.3,786.5 175.8,786.6 174.3,786.7 172.8,786.8 171.3,786.8 169.8,786.8 168.3,786.8 166.8,786.8 165.3,786.7 163.8,786.6 162.3,786.4 160.8,786.2 159.3,786 157.9,785.7 156.4,785.4 154.9,785 153.5,784.7 152.1,784.2 150.6,783.8 149.2,783.3 147.8,782.8 146.4,782.2 145,781.6 143.7,781 142.3,780.3 141,779.6 139.7,778.9 138.4,778.1 137.1,777.3 135.9,776.5 134.7,775.6 133.5,774.7 132.3,773.8 131.1,772.9 130,771.9 128.9,770.9 127.8,769.8 126.7,768.8 125.7,767.7 124.7,766.6 123.7,765.4 122.8,764.3 121.9,763.1 121,761.9 120.1,760.6 119.3,759.4 118.5,758.1 117.7,756.9 116.9,755.6 116.2,754.3 115.5,752.9 114.8,751.6 114.2,750.2 113.6,748.9 113,747.5 112.4,746.1 111.9,744.7 111.4,743.3 110.9,741.9 110.4,740.4 110,739 109.6,737.6 109.2,736.1 108.9,734.6 108.5,733.2 108.2,731.7 107.9,730.2 107.7,728.8 107.4,727.3 107.2,725.8 107,724.3 106.9,722.8 106.7,721.3 106.6,719.8 106.5,718.3 106.4,716.8 106.4,715.3 106.3,713.8 106.3,712.3 106.3,710.8 106.4,709.3 106.4,707.8 106.5,706.3 106.6,704.8 106.7,703.3 106.9,701.9 107,700.4 107.2,698.9 107.4,697.4 107.6,695.9 107.9,694.4 108.2,693 108.5,691.5 108.8,690 109.1,688.6 109.5,687.1 109.9,685.7 110.3,684.2 110.7,682.8 111.2,681.3 111.7,679.9 112.2,678.5 112.7,677.1 113.3,675.7 113.9,674.3 114.5,673 115.1,671.6 115.7,670.3 116.4,668.9 117.1,667.6 117.8,666.3 118.6,665 119.4,663.7 120.2,662.4 121,661.2 121.8,659.9 122.7,658.7 123.6,657.5 124.5,656.3 125.4,655.1 126.4,654 127.4,652.8 128.4,651.7 129.4,650.6 130.4,649.5 131.5,648.5 132.6,647.4 133.7,646.4 134.8,645.4 135.9,644.4 137.1,643.5 138.3,642.5 139.4,641.6 140.7,640.7 141.9,639.9 143.1,639 144.4,638.2 145.6,637.4 146.9,636.6 148.2,635.9 149.5,635.2 150.9,634.4 152.2,633.8 153.5,633.1 154.9,632.5 156.3,631.8 157.6,631.3 159,630.7 160.4,630.1 161.8,629.6 163.2,629.1 164.7,628.6 166.1,628.2 167.5,627.7 169,627.3 170.4,626.9 171.9,626.6 173.3,626.2 174.8,625.9 176.3,625.6 177.7,625.3 179.2,625.1 180.7,624.8 182.2,624.6 183.7,624.4 185.2,624.3 186.7,624.1 188.2,624 189.7,623.9 191.2,623.9 192.7,623.8 194.2,623.8 195.7,623.8 197.2,623.8 198.7,623.9 200.2,624 201.7,624.1 203.1,624.2 204.6,624.4 206.1,624.5 207.6,624.8 209.1,625 210.6,625.2 212,625.5 213.5,625.8 215,626.2 216.4,626.5 217.9,626.9 219.3,627.3 220.8,627.8 222.2,628.2 223.6,628.7 225,629.2 226.4,629.8 227.8,630.4 229.2,631 230.5,631.6 231.9,632.2 233.2,632.9 234.6,633.6 235.9,634.3 237.2,635.1 238.4,635.9 239.7,636.7 241,637.5 242.2,638.3 243.4,639.2 244.6,640.1 245.8,641 247,642 248.1,642.9 249.3,643.9 250.4,644.9 251.5,645.9 252.6,647 253.6,648 254.6,649.1 255.7,650.2 256.7,651.4 257.6,652.5 258.6,653.7 259.5,654.8 260.4,656 261.3,657.2 262.2,658.4 263,659.7 263.9,660.9 264.7,662.2 265.4,663.5 266.2,664.8 266.9,666.1 267.7,667.4 268.4,668.7 269,670.1 269.7,671.4 270.3,672.8 270.9,674.1 271.5,675.5 272.1,676.9 272.6,678.3 273.2,679.7 273.7,681.1 274.1,682.6 274.6,684 275.1,685.4 275.5,686.8 275.9,688.3 276.3,689.7 276.6,691.2 277,692.7 277.3,694.1 277.6,695.6 277.9,697.1 278.2,698.5 278.4,700 278.7,701.5 278.9,703 279.1,704.5 279.2,706 279.4,707.5 279.5,709 279.7,710.4 279.8,711.9 279.8,713.4 279.9,714.9 280,716.4 280,717.9 280,719.4 280,720.9 280,722.4 280,723.9 279.9,725.4 279.8,726.9 279.8,728.4 279.7,729.9 279.5,731.4 279.4,732.9 279.2,734.4 279.1,735.9 278.9,737.4 278.7,738.9 278.4,740.4 278.2,741.8 277.9,743.3 277.7,744.8 277.4,746.3 277.1,747.7 276.7,749.2 276.4,750.7 276,752.1 275.6,753.6 275.2,755 274.8,756.4 274.4,757.9 273.9,759.3 273.4,760.7 273,762.2 272.4,763.6 271.9,765 271.4,766.4 270.8,767.8 270.2,769.1 269.6,770.5 269,771.9 268.3,773.2 267.7,774.6 267,775.9 266.3,777.2 265.6,778.6 264.8,779.9 264.1,781.2 263.3,782.4 262.5,783.7 261.7,785 260.9,786.2 260,787.5 259.2,788.7 258.3,789.9 257.4,791.1 256.5,792.3 255.5,793.5 254.6,794.6 253.6,795.8 252.6,796.9 251.6,798 250.6,799.1 249.6,800.2 248.5,801.3 247.5,802.3 246.4,803.4 245.3,804.4 244.2,805.4 243,806.4 241.9,807.4 240.7,808.3 239.6,809.3 238.4,810.2 237.2,811.1 236,812 234.8,812.8 233.5,813.7 232.3,814.5 231,815.3 229.7,816.1 228.5,816.9 227.2,817.7 225.9,818.4 224.6,819.1 223.2,819.9 221.9,820.5 220.6,821.2 219.2,821.9 217.8,822.5 216.5,823.1 215.1,823.7 213.7,824.3 212.3,824.9 210.9,825.4 209.5,825.9 208.1,826.5 206.7,827 205.3,827.4 203.9,827.9 202.4,828.3 201,828.7 199.5,829.2 198.1,829.5 196.6,829.9 195.2,830.3 193.7,830.6 192.2,830.9 190.8,831.2 189.3,831.5 187.8,831.8 186.3,832 184.9,832.2 183.4,832.4 181.9,832.6 180.4,832.8 178.9,833 177.4,833.1 175.9,833.2 174.4,833.3 172.9,833.4 171.4,833.5 169.9,833.5 168.4,833.5 166.9,833.6 165.4,833.6 163.9,833.5 162.4,833.5 160.9,833.4 159.4,833.3 157.9,833.2 156.4,833.1 154.9,833 153.4,832.8 152,832.6 150.5,832.4 149,832.2 147.5,831.9 146,831.7 144.6,831.4 143.1,831.1 141.6,830.8 140.2,830.4 138.7,830.1 137.3,829.7 135.8,829.3 134.4,828.8 132.9,828.4 131.5,827.9 130.1,827.4 128.7,826.9 127.3,826.4 125.9,825.8 124.5,825.3 123.1,824.7 121.8,824.1 120.4,823.4 119,822.8 117.7,822.1 116.4,821.4 115.1,820.7 113.7,820 112.4,819.2 111.2,818.4 109.9,817.7 108.6,816.8 107.4,816 106.1,815.2 104.9,814.3 103.7,813.4 102.5,812.5 101.3,811.6 100.2,810.6 99,809.7 97.9,808.7 96.8,807.7 95.6,806.7 94.5,805.7 93.5,804.6 92.4,803.6 91.4,802.5 90.3,801.4 89.3,800.3 88.3,799.2 87.4,798 86.4,796.9 85.4,795.7 84.5,794.5 83.6,793.3 82.7,792.1 81.8,790.9 81,789.7 80.1,788.4 79.3,787.2 78.5,785.9 77.7,784.6 76.9,783.4 76.2,782.1 75.4,780.8 74.7,779.4 74,778.1 73.3,776.8 72.7,775.4 72,774.1 71.4,772.7 70.8,771.3 70.2,770 69.6,768.6 69,767.2 68.5,765.8 68,764.4 67.5,763 67,761.6 66.5,760.1 66,758.7 65.6,757.3 65.2,755.8 64.8,754.4 64.4,753 64,751.5 63.6,750 63.3,748.6 63,747.1 62.6,745.7 62.3,744.2 62.1,742.7 61.8,741.2 61.6,739.7 61.3,738.3 61.1,736.8 60.9,735.3 60.7,733.8 60.5,732.3 60.4,730.8 60.2,729.3 60.1,727.8 60,726.3 59.9,724.8 59.8,723.3 59.7,721.8 59.7,720.3 59.6,718.8 59.6,717.3 59.6,715.8 59.6,714.3 59.6,712.8 59.7,711.3 59.7,709.8 59.8,708.3 59.8,706.8 59.9,705.4 60,703.9 60.1,702.4 60.3,700.9 60.4,699.4 60.6,697.9 60.7,696.4 60.9,694.9 61.1,693.4 61.3,691.9 61.6,690.4 61.8,689 62.1,687.5 62.3,686 62.6,684.5 62.9,683.1 63.2,681.6 63.6,680.1 63.9,678.7 64.3,677.2 64.7,675.8 65,674.3 65.4,672.9 65.9,671.4 66.3,670 66.7,668.6 67.2,667.1 67.7,665.7 68.2,664.3 68.7,662.9 69.2,661.5 69.7,660.1 70.3,658.7 70.9,657.3 71.4,655.9 72,654.5 72.7,653.2 73.3,651.8 73.9,650.4 74.6,649.1 75.3,647.8 76,646.4 76.7,645.1 77.4,643.8 78.1,642.5 78.9,641.2 79.6,639.9 80.4,638.6 81.2,637.3 82,636.1 82.9,634.8 83.7,633.6 84.6,632.4 85.4,631.1 86.3,629.9 87.2,628.7 88.1,627.5 89.1,626.4 90,625.2 91,624 91.9,622.9 92.9,621.8 93.9,620.7 94.9,619.5 96,618.5 97,617.4 98.1,616.3 99.1,615.2 100.2,614.2 101.3,613.2 102.4,612.2 103.5,611.2 104.7,610.2 105.8,609.2 106.9,608.2 108.1,607.3 109.3,606.4 110.5,605.4 111.7,604.5 112.9,603.6 114.1,602.8 115.3,601.9 116.6,601 117.4,600.5" stroke="#4a4a4a" stroke-width="10.5"/>
</g>
<g transform="translate(360,-3)"><use href="#aw" x="176.6" y="706.7"/><use href="#aw" x="177.5" y="713.6"/><use href="#aw" x="175.8" y="719.4"/><use href="#aw" x="176.1" y="725.1"/><use href="#aw" x="173.4" y="728.6"/><use href="#aw" x="172.1" y="732"/><use href="#aw" x="168.9" y="732.2"/><use href="#aw" x="167.1" y="733.6"/><use href="#aw" x="166.2" y="731.9"/><use href="#aw" x="163.8" y="729.7"/><use href="#aw" x="163.9" y="724.5"/><use href="#aw" x="161.8" y="718.5"/><use href="#aw" x="162.3" y="711.8"/><use href="#aw" x="161" y="706.6"/><use href="#aw" x="163" y="701.4"/><use href="#aw" x="163.4" y="696.3"/><use href="#aw" x="166.7" y="692.5"/><use href="#aw" x="169" y="687.7"/><use href="#aw" x="173.5" y="685.5"/><use href="#aw" x="177.5" y="681.8"/><use href="#aw" x="182.7" y="681.2"/><use href="#aw" x="187.8" y="679"/><use href="#aw" x="192.9" y="680.1"/><use href="#aw" x="197.9" y="679.6"/><use href="#aw" x="202.6" y="682.4"/><use href="#aw" x="207.5" y="683.7"/><use href="#aw" x="211" y="688"/><use href="#aw" x="215.3" y="691.1"/><use href="#aw" x="217.2" y="696.1"/><use href="#aw" x="220.8" y="700.8"/><use href="#aw" x="221.5" y="706.4"/><use href="#aw" x="224.1" y="712"/><use href="#aw" x="223.6" y="717.8"/><use href="#aw" x="225" y="723.5"/><use href="#aw" x="223.5" y="729.6"/><use href="#aw" x="223.9" y="735.3"/><use href="#aw" x="221.3" y="740.9"/><use href="#aw" x="220.6" y="746.6"/><use href="#aw" x="216.9" y="751.4"/><use href="#aw" x="215" y="756.7"/><use href="#aw" x="210.6" y="760.2"/><use href="#aw" x="207.2" y="765.2"/><use href="#aw" x="202.1" y="767.6"/><use href="#aw" x="197.6" y="771.7"/><use href="#aw" x="192" y="772.9"/><use href="#aw" x="187.1" y="775.9"/><use href="#aw" x="180.9" y="776.2"/><use href="#aw" x="175.5" y="778.2"/><use href="#aw" x="169.4" y="777.2"/><use href="#aw" x="163.8" y="778.1"/><use href="#aw" x="158.5" y="776"/><use href="#aw" x="152.4" y="775.5"/><use href="#aw" x="147.8" y="772.3"/><use href="#aw" x="142.1" y="770.5"/><use href="#aw" x="138.3" y="766.3"/><use href="#aw" x="133.4" y="763.5"/><use href="#aw" x="130.3" y="758.3"/><use href="#aw" x="126.1" y="754.4"/><use href="#aw" x="124" y="748.5"/><use href="#aw" x="120.6" y="743.8"/><use href="#aw" x="119.7" y="738"/><use href="#aw" x="116.9" y="732.3"/><use href="#aw" x="117" y="726.3"/><use href="#aw" x="115" y="720.1"/><use href="#aw" x="115.9" y="714.1"/><use href="#aw" x="114.8" y="708.2"/><use href="#aw" x="116.5" y="701.9"/><use href="#aw" x="116.2" y="695.9"/><use href="#aw" x="118.7" y="690"/><use href="#aw" x="119.2" y="684"/><use href="#aw" x="122.3" y="678.9"/><use href="#aw" x="123.9" y="672.8"/><use href="#aw" x="127.8" y="668.3"/><use href="#aw" x="130.3" y="662.5"/><use href="#aw" x="134.9" y="658.8"/><use href="#aw" x="138" y="653.8"/><use href="#aw" x="143.5" y="650.7"/><use href="#aw" x="147.4" y="646.3"/><use href="#aw" x="153.4" y="644"/><use href="#aw" x="158" y="640.3"/><use href="#aw" x="163.9" y="639.1"/><use href="#aw" x="169.5" y="635.9"/><use href="#aw" x="175.5" y="635.6"/><use href="#aw" x="181.5" y="633.2"/><use href="#aw" x="187.5" y="633.7"/><use href="#aw" x="193.3" y="632.2"/><use href="#aw" x="199.6" y="633.6"/><use href="#aw" x="205.5" y="632.9"/><use href="#aw" x="211.5" y="635.2"/><use href="#aw" x="217.4" y="635.5"/><use href="#aw" x="222.4" y="638.5"/><use href="#aw" x="228.6" y="640"/><use href="#aw" x="233" y="643.8"/><use href="#aw" x="238.8" y="646.3"/><use href="#aw" x="242.6" y="650.8"/><use href="#aw" x="247.6" y="653.9"/><use href="#aw" x="250.8" y="659.3"/><use href="#aw" x="255.3" y="663.3"/><use href="#aw" x="257.7" y="669.2"/><use href="#aw" x="261.5" y="673.8"/><use href="#aw" x="262.8" y="679.7"/><use href="#aw" x="266.2" y="685.2"/><use href="#aw" x="266.7" y="691.3"/><use href="#aw" x="269.4" y="697.3"/><use href="#aw" x="269.2" y="703.4"/><use href="#aw" x="271.1" y="709.2"/><use href="#aw" x="270.3" y="715.8"/><use href="#aw" x="271.6" y="721.8"/><use href="#aw" x="270.1" y="728.3"/><use href="#aw" x="270.8" y="734.4"/><use href="#aw" x="268.7" y="740.2"/><use href="#aw" x="268.7" y="746.8"/><use href="#aw" x="266" y="752.4"/><use href="#aw" x="265.2" y="758.9"/><use href="#aw" x="261.9" y="764.1"/><use href="#aw" x="260.6" y="770"/><use href="#aw" x="256.5" y="775.1"/><use href="#aw" x="254.4" y="780.8"/><use href="#aw" x="250" y="784.9"/><use href="#aw" x="247" y="790.7"/><use href="#aw" x="242.1" y="794.2"/><use href="#aw" x="238.2" y="799.4"/><use href="#aw" x="232.9" y="802.3"/><use href="#aw" x="228.8" y="806.7"/><use href="#aw" x="222.7" y="809.1"/><use href="#aw" x="218.1" y="813.1"/><use href="#aw" x="211.7" y="814.7"/><use href="#aw" x="206.6" y="818.1"/><use href="#aw" x="200.5" y="818.9"/><use href="#aw" x="194.6" y="821.8"/><use href="#aw" x="188.5" y="821.9"/><use href="#aw" x="182.2" y="824.1"/><use href="#aw" x="176.1" y="823.6"/><use href="#aw" x="170.2" y="825.1"/><use href="#aw" x="163.7" y="823.9"/><use href="#aw" x="157.6" y="824.8"/><use href="#aw" x="151.4" y="822.8"/><use href="#aw" x="145.3" y="823"/><use href="#aw" x="139.8" y="820.4"/><use href="#aw" x="133.3" y="819.7"/><use href="#aw" x="128.2" y="816.4"/><use href="#aw" x="121.9" y="814.8"/><use href="#aw" x="117.3" y="811"/><use href="#aw" x="111.7" y="808.8"/><use href="#aw" x="107.3" y="804.1"/><use href="#aw" x="102" y="801.1"/><use href="#aw" x="98.3" y="795.8"/><use href="#aw" x="93.5" y="792.2"/><use href="#aw" x="90.7" y="786.8"/><use href="#aw" x="86.1" y="782.2"/><use href="#aw" x="84.1" y="776.5"/><use href="#aw" x="80" y="771.3"/><use href="#aw" x="78.7" y="765.4"/><use href="#aw" x="75.4" y="760.2"/><use href="#aw" x="74.5" y="753.6"/><use href="#aw" x="71.8" y="748.1"/><use href="#aw" x="71.6" y="741.4"/><use href="#aw" x="69.4" y="735.6"/><use href="#aw" x="69.9" y="729.4"/><use href="#aw" x="68.2" y="722.9"/><use href="#aw" x="69.2" y="716.8"/><use href="#aw" x="68.1" y="710.1"/><use href="#aw" x="69.6" y="704.1"/><use href="#aw" x="69" y="697.9"/><use href="#aw" x="71.1" y="691.5"/><use href="#aw" x="71.1" y="685.3"/><use href="#aw" x="73.7" y="679.1"/><use href="#aw" x="74.2" y="672.9"/><use href="#aw" x="77.2" y="667.5"/><use href="#aw" x="78.4" y="661"/><use href="#aw" x="82" y="655.9"/><use href="#aw" x="83.8" y="649.5"/><use href="#aw" x="87.9" y="644.9"/><use href="#aw" x="90.1" y="639.1"/><use href="#aw" x="94.9" y="634.5"/><use href="#aw" x="97.7" y="629.1"/><use href="#aw" x="102.9" y="625.1"/><use href="#aw" x="106.3" y="620"/><use href="#aw" x="111.6" y="616.8"/><use href="#aw" x="115.9" y="611.8"/><use href="#aw" x="121.5" y="609.3"/><use href="#ag2" x="185.7" y="716.5"/><use href="#ag2" x="183.4" y="729.7"/><use href="#ag2" x="175.3" y="739.9"/><use href="#ag2" x="162.6" y="740.8"/><use href="#ag2" x="155.2" y="729.9"/><use href="#ag2" x="153.2" y="717.1"/><use href="#ag2" x="152.9" y="703.6"/><use href="#ag2" x="156.7" y="690.8"/><use href="#ag2" x="164.8" y="680.1"/><use href="#ag2" x="176.3" y="673.2"/><use href="#ag2" x="189.4" y="670.4"/><use href="#ag2" x="202.3" y="672"/><use href="#ag2" x="214.2" y="678.2"/><use href="#ag2" x="223.4" y="688"/><use href="#ag2" x="229.5" y="699.9"/><use href="#ag2" x="232.7" y="713"/><use href="#ag2" x="233.4" y="726"/><use href="#ag2" x="231.7" y="739.4"/><use href="#ag2" x="227.3" y="752.1"/><use href="#ag2" x="220.3" y="763.6"/><use href="#ag2" x="210.7" y="773.1"/><use href="#ag2" x="199.3" y="780.2"/><use href="#ag2" x="187.1" y="784.7"/><use href="#ag2" x="173.8" y="786.7"/><use href="#ag2" x="160.3" y="786.1"/><use href="#ag2" x="147.3" y="782.6"/><use href="#ag2" x="135.5" y="776.2"/><use href="#ag2" x="125.7" y="767.7"/><use href="#ag2" x="117.7" y="756.9"/><use href="#ag2" x="111.9" y="744.7"/><use href="#ag2" x="108.2" y="731.7"/><use href="#ag2" x="106.5" y="718.3"/><use href="#ag2" x="106.6" y="705.3"/><use href="#ag2" x="108.4" y="692"/><use href="#ag2" x="112" y="679"/><use href="#ag2" x="117.6" y="666.7"/><use href="#ag2" x="125.1" y="655.5"/><use href="#ag2" x="134" y="646.1"/><use href="#ag2" x="144.8" y="637.9"/><use href="#ag2" x="156.7" y="631.6"/><use href="#ag2" x="169.5" y="627.2"/><use href="#ag2" x="182.7" y="624.6"/><use href="#ag2" x="195.7" y="623.8"/><use href="#ag2" x="209.1" y="625"/><use href="#ag2" x="222.2" y="628.2"/><use href="#ag2" x="234.6" y="633.6"/><use href="#ag2" x="245.8" y="641"/><use href="#ag2" x="255.3" y="649.9"/><use href="#ag2" x="263.6" y="660.5"/><use href="#ag2" x="270.1" y="672.3"/><use href="#ag2" x="274.9" y="684.9"/><use href="#ag2" x="278.1" y="698"/><use href="#ag2" x="279.7" y="710.9"/><use href="#ag2" x="279.9" y="724.4"/><use href="#ag2" x="278.8" y="737.9"/><use href="#ag2" x="276.3" y="751.1"/><use href="#ag2" x="272.3" y="764"/><use href="#ag2" x="267" y="775.9"/><use href="#ag2" x="260" y="787.5"/><use href="#ag2" x="251.6" y="798"/><use href="#ag2" x="241.9" y="807.4"/><use href="#ag2" x="231.4" y="815.1"/><use href="#ag2" x="219.7" y="821.7"/><use href="#ag2" x="207.2" y="826.8"/><use href="#ag2" x="194.2" y="830.5"/><use href="#ag2" x="180.9" y="832.8"/><use href="#ag2" x="167.9" y="833.6"/><use href="#ag2" x="154.4" y="832.9"/><use href="#ag2" x="141.1" y="830.7"/><use href="#ag2" x="128.2" y="826.8"/><use href="#ag2" x="115.9" y="821.2"/><use href="#ag2" x="104.9" y="814.3"/><use href="#ag2" x="94.5" y="805.7"/><use href="#ag2" x="85.4" y="795.7"/><use href="#ag2" x="77.7" y="784.6"/><use href="#ag2" x="71.4" y="772.7"/><use href="#ag2" x="66.7" y="760.6"/><use href="#ag2" x="63.1" y="747.6"/><use href="#ag2" x="60.8" y="734.3"/><use href="#ag2" x="59.7" y="720.8"/><use href="#ag2" x="59.8" y="707.3"/><use href="#ag2" x="61" y="694.4"/><use href="#ag2" x="63.4" y="681.1"/><use href="#ag2" x="66.9" y="668.1"/><use href="#ag2" x="71.6" y="655.5"/><use href="#ag2" x="77.6" y="643.4"/><use href="#ag2" x="84.6" y="632.4"/><use href="#ag2" x="92.9" y="621.8"/><use href="#ag2" x="102.4" y="612.2"/><use href="#ag2" x="112.9" y="603.6"/><use href="#ag" x="186.1" y="709.5"/><use href="#ag" x="185.1" y="723"/><use href="#ag" x="180.4" y="735.4"/><use href="#ag" x="168.8" y="742"/><use href="#ag" x="157.6" y="736.4"/><use href="#ag" x="154" y="723.5"/><use href="#ag" x="152.6" y="710.1"/><use href="#ag" x="154.3" y="696.8"/><use href="#ag" x="160.4" y="684.9"/><use href="#ag" x="170" y="676.3"/><use href="#ag" x="182.5" y="671.3"/><use href="#ag" x="195.9" y="670.7"/><use href="#ag" x="208.7" y="674.7"/><use href="#ag" x="219.4" y="682.9"/><use href="#ag" x="226.7" y="693.5"/><use href="#ag" x="231.4" y="706.2"/><use href="#ag" x="233.3" y="719.5"/><use href="#ag" x="232.8" y="733"/><use href="#ag" x="229.7" y="746.1"/><use href="#ag" x="224" y="758.3"/><use href="#ag" x="216" y="768.5"/><use href="#ag" x="205.4" y="776.8"/><use href="#ag" x="193.3" y="782.7"/><use href="#ag" x="180.3" y="786.1"/><use href="#ag" x="166.8" y="786.8"/><use href="#ag" x="154" y="784.8"/><use href="#ag" x="141.4" y="779.9"/><use href="#ag" x="130.4" y="772.2"/><use href="#ag" x="121.3" y="762.3"/><use href="#ag" x="114.4" y="750.7"/><use href="#ag" x="109.9" y="738.5"/><use href="#ag" x="107.2" y="725.3"/><use href="#ag" x="106.3" y="711.8"/><use href="#ag" x="107.3" y="698.4"/><use href="#ag" x="110" y="685.2"/><use href="#ag" x="114.5" y="673"/><use href="#ag" x="121" y="661.2"/><use href="#ag" x="129.4" y="650.6"/><use href="#ag" x="139.4" y="641.6"/><use href="#ag" x="150.9" y="634.4"/><use href="#ag" x="162.8" y="629.3"/><use href="#ag" x="175.8" y="625.7"/><use href="#ag" x="189.2" y="624"/><use href="#ag" x="202.6" y="624.2"/><use href="#ag" x="215.9" y="626.4"/><use href="#ag" x="228.3" y="630.6"/><use href="#ag" x="240.1" y="636.9"/><use href="#ag" x="250.8" y="645.2"/><use href="#ag" x="259.8" y="655.2"/><use href="#ag" x="267.2" y="666.5"/><use href="#ag" x="272.6" y="678.3"/><use href="#ag" x="276.6" y="691.2"/><use href="#ag" x="279.1" y="704.5"/><use href="#ag" x="280" y="717.9"/><use href="#ag" x="279.5" y="731.4"/><use href="#ag" x="277.8" y="744.3"/><use href="#ag" x="274.5" y="757.4"/><use href="#ag" x="269.8" y="770"/><use href="#ag" x="263.6" y="782"/><use href="#ag" x="256.2" y="792.7"/><use href="#ag" x="247.1" y="802.7"/><use href="#ag" x="236.8" y="811.4"/><use href="#ag" x="225.4" y="818.7"/><use href="#ag" x="213.3" y="824.5"/><use href="#ag" x="201" y="828.7"/><use href="#ag" x="187.8" y="831.8"/><use href="#ag" x="174.4" y="833.3"/><use href="#ag" x="160.9" y="833.4"/><use href="#ag" x="147.5" y="831.9"/><use href="#ag" x="134.9" y="829"/><use href="#ag" x="122.2" y="824.3"/><use href="#ag" x="110.3" y="817.9"/><use href="#ag" x="99.4" y="810"/><use href="#ag" x="89.7" y="800.6"/><use href="#ag" x="81.5" y="790.5"/><use href="#ag" x="74.5" y="779"/><use href="#ag" x="68.9" y="766.7"/><use href="#ag" x="64.6" y="753.9"/><use href="#ag" x="61.7" y="740.7"/><use href="#ag" x="60.1" y="727.8"/><use href="#ag" x="59.6" y="714.3"/><use href="#ag" x="60.3" y="700.9"/><use href="#ag" x="62.1" y="687.5"/><use href="#ag" x="65" y="674.3"/><use href="#ag" x="69" y="661.9"/><use href="#ag" x="74.4" y="649.6"/><use href="#ag" x="81" y="637.8"/><use href="#ag" x="88.8" y="626.8"/><use href="#ag" x="97.7" y="616.7"/><use href="#ag" x="107.3" y="607.9"/><use href="#ac2" x="195.6" y="717.2"/><use href="#ac2" x="192.7" y="733.1"/><use href="#ac2" x="180.2" y="748.5"/><use href="#ac2" x="158.4" y="749.8"/><use href="#ac2" x="145.6" y="732.3"/><use href="#ac2" x="143.4" y="718.2"/><use href="#ac2" x="143" y="702.4"/><use href="#ac2" x="147.8" y="686.3"/><use href="#ac2" x="158.3" y="672.7"/><use href="#ac2" x="172.7" y="664"/><use href="#ac2" x="189" y="660.5"/><use href="#ac2" x="205.2" y="662.6"/><use href="#ac2" x="220.2" y="670.3"/><use href="#ac2" x="231.6" y="682.3"/><use href="#ac2" x="238.8" y="696.6"/><use href="#ac2" x="242.5" y="711.6"/><use href="#ac2" x="243.3" y="726.4"/><use href="#ac2" x="241.3" y="741.6"/><use href="#ac2" x="236.3" y="756.3"/><use href="#ac2" x="228" y="769.7"/><use href="#ac2" x="216.9" y="780.9"/><use href="#ac2" x="203.6" y="789.1"/><use href="#ac2" x="189.6" y="794.2"/><use href="#ac2" x="174.4" y="796.6"/><use href="#ac2" x="158.8" y="795.9"/><use href="#ac2" x="143.7" y="791.8"/><use href="#ac2" x="129.8" y="784.3"/><use href="#ac2" x="118.4" y="774.4"/><use href="#ac2" x="109.2" y="761.9"/><use href="#ac2" x="102.6" y="748.1"/><use href="#ac2" x="98.5" y="733.7"/><use href="#ac2" x="96.6" y="718.9"/><use href="#ac2" x="96.7" y="704.7"/><use href="#ac2" x="98.7" y="690"/><use href="#ac2" x="102.7" y="675.6"/><use href="#ac2" x="109" y="661.9"/><use href="#ac2" x="117.4" y="649.3"/><use href="#ac2" x="127.4" y="638.7"/><use href="#ac2" x="139.5" y="629.6"/><use href="#ac2" x="152.8" y="622.6"/><use href="#ac2" x="166.9" y="617.6"/><use href="#ac2" x="181.4" y="614.7"/><use href="#ac2" x="195.8" y="613.9"/><use href="#ac2" x="210.7" y="615.2"/><use href="#ac2" x="225.3" y="618.9"/><use href="#ac2" x="239.3" y="624.9"/><use href="#ac2" x="251.9" y="633.2"/><use href="#ac2" x="262.6" y="643.2"/><use href="#ac2" x="271.9" y="655.1"/><use href="#ac2" x="279.1" y="668.2"/><use href="#ac2" x="284.4" y="682"/><use href="#ac2" x="287.8" y="696.3"/><use href="#ac2" x="289.6" y="710.2"/><use href="#ac2" x="289.8" y="724.8"/><use href="#ac2" x="288.6" y="739.2"/><use href="#ac2" x="285.9" y="753.5"/><use href="#ac2" x="281.5" y="767.5"/><use href="#ac2" x="275.8" y="780.5"/><use href="#ac2" x="268.2" y="793.1"/><use href="#ac2" x="258.9" y="804.7"/><use href="#ac2" x="248.3" y="814.9"/><use href="#ac2" x="236.8" y="823.4"/><use href="#ac2" x="224" y="830.6"/><use href="#ac2" x="210.4" y="836.1"/><use href="#ac2" x="196.4" y="840.1"/><use href="#ac2" x="182" y="842.6"/><use href="#ac2" x="168" y="843.5"/><use href="#ac2" x="153.4" y="842.7"/><use href="#ac2" x="138.9" y="840.3"/><use href="#ac2" x="124.7" y="836"/><use href="#ac2" x="111.2" y="829.9"/><use href="#ac2" x="99.1" y="822.3"/><use href="#ac2" x="87.7" y="812.8"/><use href="#ac2" x="77.7" y="801.9"/><use href="#ac2" x="69.3" y="789.8"/><use href="#ac2" x="62.4" y="776.8"/><use href="#ac2" x="57.3" y="763.7"/><use href="#ac2" x="53.4" y="749.8"/><use href="#ac2" x="50.9" y="735.5"/><use href="#ac2" x="49.8" y="721.2"/><use href="#ac2" x="49.9" y="706.9"/><use href="#ac2" x="51.2" y="693.1"/><use href="#ac2" x="53.7" y="679"/><use href="#ac2" x="57.5" y="665"/><use href="#ac2" x="62.6" y="651.5"/><use href="#ac2" x="69" y="638.5"/><use href="#ac2" x="76.5" y="626.7"/><use href="#ac2" x="85.5" y="615.2"/><use href="#ac2" x="95.8" y="604.8"/><use href="#ac2" x="107.1" y="595.6"/><use href="#ac" x="195.7" y="709.8"/><use href="#ac" x="194.6" y="724.3"/><use href="#ac" x="188" y="741.2"/><use href="#ac" x="169.5" y="751.5"/><use href="#ac" x="149.5" y="741.5"/><use href="#ac" x="144.5" y="724.9"/><use href="#ac" x="143" y="710.4"/><use href="#ac" x="145.1" y="694"/><use href="#ac" x="152.8" y="679"/><use href="#ac" x="165" y="668.1"/><use href="#ac" x="180.5" y="661.9"/><use href="#ac" x="197.1" y="661.2"/><use href="#ac" x="213.2" y="666.2"/><use href="#ac" x="226.4" y="676.4"/><use href="#ac" x="235.3" y="689.2"/><use href="#ac" x="240.7" y="703.9"/><use href="#ac" x="242.9" y="719"/><use href="#ac" x="242.3" y="734.2"/><use href="#ac" x="238.8" y="749.2"/><use href="#ac" x="232.2" y="763.3"/><use href="#ac" x="222.8" y="775.2"/><use href="#ac" x="210.5" y="785"/><use href="#ac" x="196.6" y="791.8"/><use href="#ac" x="181.7" y="795.6"/><use href="#ac" x="166.3" y="796.4"/><use href="#ac" x="151.5" y="794.1"/><use href="#ac" x="136.9" y="788.3"/><use href="#ac" x="124" y="779.4"/><use href="#ac" x="113.5" y="768"/><use href="#ac" x="105.7" y="754.8"/><use href="#ac" x="100.6" y="741.1"/><use href="#ac" x="97.6" y="726.5"/><use href="#ac" x="96.7" y="711.8"/><use href="#ac" x="97.8" y="697.1"/><use href="#ac" x="100.8" y="682.5"/><use href="#ac" x="105.7" y="669"/><use href="#ac" x="113" y="655.8"/><use href="#ac" x="122.4" y="644"/><use href="#ac" x="133.7" y="634"/><use href="#ac" x="146.4" y="625.9"/><use href="#ac" x="159.6" y="620.2"/><use href="#ac" x="173.9" y="616.3"/><use href="#ac" x="188.6" y="614.4"/><use href="#ac" x="203.5" y="614.6"/><use href="#ac" x="218.3" y="617.1"/><use href="#ac" x="232" y="621.7"/><use href="#ac" x="245.4" y="628.9"/><use href="#ac" x="257.3" y="638.2"/><use href="#ac" x="267.4" y="649.4"/><use href="#ac" x="275.6" y="661.9"/><use href="#ac" x="281.6" y="674.9"/><use href="#ac" x="286" y="688.9"/><use href="#ac" x="288.6" y="703.3"/><use href="#ac" x="289.6" y="717.8"/><use href="#ac" x="289.1" y="732.3"/><use href="#ac" x="287.2" y="746.1"/><use href="#ac" x="283.7" y="760.2"/><use href="#ac" x="278.6" y="773.9"/><use href="#ac" x="271.8" y="787"/><use href="#ac" x="263.7" y="798.7"/><use href="#ac" x="253.8" y="809.6"/><use href="#ac" x="242.5" y="819.1"/><use href="#ac" x="230.1" y="827"/><use href="#ac" x="216.9" y="833.4"/><use href="#ac" x="203.6" y="838"/><use href="#ac" x="189.5" y="841.2"/><use href="#ac" x="175" y="842.9"/><use href="#ac" x="160.4" y="843"/><use href="#ac" x="145.9" y="841.4"/><use href="#ac" x="132.1" y="838.2"/><use href="#ac" x="118.3" y="833"/><use href="#ac" x="105.2" y="826.1"/><use href="#ac" x="93.2" y="817.4"/><use href="#ac" x="82.6" y="807.1"/><use href="#ac" x="73.7" y="796"/><use href="#ac" x="66" y="783.5"/><use href="#ac" x="59.9" y="770.2"/><use href="#ac" x="55.4" y="756.4"/><use href="#ac" x="52.3" y="742.3"/><use href="#ac" x="50.5" y="728.6"/><use href="#ac" x="50" y="714.3"/><use href="#ac" x="50.7" y="700"/><use href="#ac" x="52.6" y="685.8"/><use href="#ac" x="55.8" y="671.8"/><use href="#ac" x="60" y="658.6"/><use href="#ac" x="65.8" y="645.3"/><use href="#ac" x="72.8" y="632.7"/><use href="#ac" x="81.2" y="620.8"/><use href="#ac" x="90.9" y="609.9"/><use href="#ac" x="101.3" y="600.5"/></g></g>
<rect x="364.4" y="553.4" width="317.6" height="317.6" fill="none" stroke="#111" stroke-width="2"/></svg></body></html>
